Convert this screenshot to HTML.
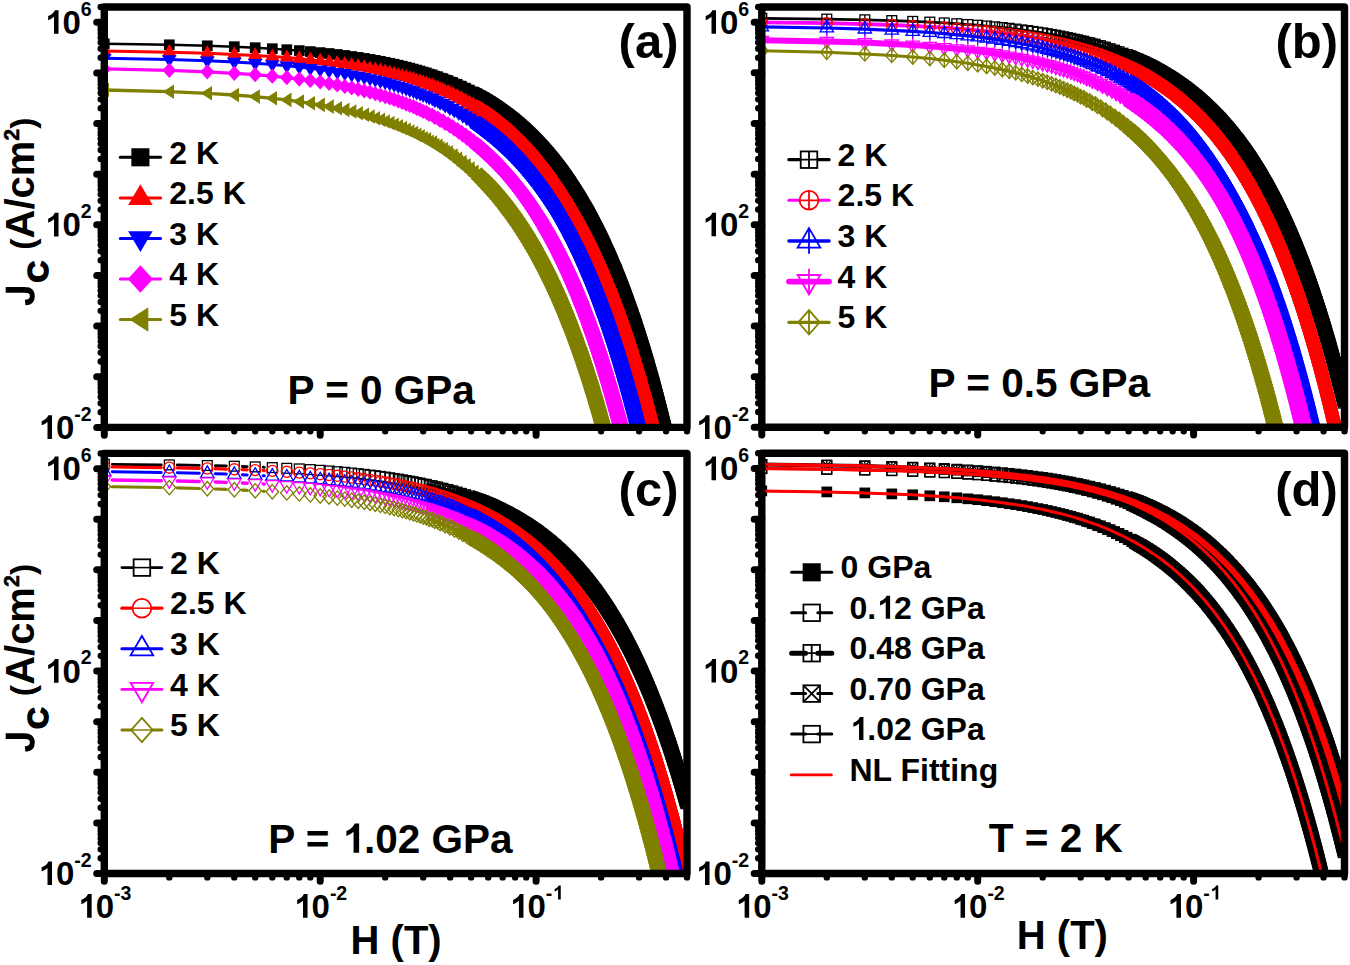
<!DOCTYPE html>
<html><head><meta charset="utf-8"><title>Jc vs H</title><style>html,body{margin:0;padding:0;background:#fff;}svg{display:block;font-family:"Liberation Sans",sans-serif;}</style></head><body>
<svg width="1350" height="965" viewBox="0 0 1350 965"><rect width="1350" height="965" fill="#fff"/><defs><clipPath id="cpa"><rect x="104.3" y="7.0" width="582.7" height="420.4"/></clipPath><clipPath id="cpb"><rect x="761.8" y="7.0" width="582.7" height="420.3"/></clipPath><clipPath id="cpc"><rect x="104.3" y="453.4" width="582.7" height="420.1"/></clipPath><clipPath id="cpd"><rect x="761.8" y="453.3" width="582.7" height="420.2"/></clipPath><marker id="ma0" markerUnits="userSpaceOnUse" markerWidth="30" markerHeight="30" refX="15.0" refY="15.0" viewBox="0 0 30 30" overflow="visible"><g transform="translate(15.0,15.0)"><rect x="-5.35" y="-5.35" width="10.70" height="10.70" fill="#000000"/></g></marker><marker id="ma1" markerUnits="userSpaceOnUse" markerWidth="30" markerHeight="30" refX="15.0" refY="15.0" viewBox="0 0 30 30" overflow="visible"><g transform="translate(15.0,15.0)"><path d="M0 -8.10L7.25 4.20L-7.25 4.20Z" fill="#ff0000"/></g></marker><marker id="ma2" markerUnits="userSpaceOnUse" markerWidth="30" markerHeight="30" refX="15.0" refY="15.0" viewBox="0 0 30 30" overflow="visible"><g transform="translate(15.0,15.0)"><path d="M0 8.10L7.25 -4.20L-7.25 -4.20Z" fill="#0000ff"/></g></marker><marker id="ma3" markerUnits="userSpaceOnUse" markerWidth="30" markerHeight="30" refX="15.0" refY="15.0" viewBox="0 0 30 30" overflow="visible"><g transform="translate(15.0,15.0)"><path d="M0 -7.60L6.95 0L0 7.60L-6.95 0Z" fill="#ff00ff"/></g></marker><marker id="ma4" markerUnits="userSpaceOnUse" markerWidth="30" markerHeight="30" refX="15.0" refY="15.0" viewBox="0 0 30 30" overflow="visible"><g transform="translate(15.0,15.0)"><path d="M-6.60 0L4.70 -7.30L4.70 7.30Z" fill="#808000"/></g></marker><marker id="mb0" markerUnits="userSpaceOnUse" markerWidth="30" markerHeight="30" refX="15.0" refY="15.0" viewBox="0 0 30 30" overflow="visible"><g transform="translate(15.0,15.0)"><rect x="-4.90" y="-4.90" width="9.80" height="9.80" fill="none" stroke="#000000" stroke-width="1.3"/><path d="M-4.90 0H4.90M0 -4.90V4.90" fill="none" stroke="#000000" stroke-width="1.3"/></g></marker><marker id="mb1" markerUnits="userSpaceOnUse" markerWidth="30" markerHeight="30" refX="15.0" refY="15.0" viewBox="0 0 30 30" overflow="visible"><g transform="translate(15.0,15.0)"><circle r="5.55" fill="none" stroke="#ff0000" stroke-width="1.3"/><path d="M-5.55 0H5.55M0 -5.55V5.55" fill="none" stroke="#ff0000" stroke-width="1.3"/></g></marker><marker id="mb2" markerUnits="userSpaceOnUse" markerWidth="30" markerHeight="30" refX="15.0" refY="15.0" viewBox="0 0 30 30" overflow="visible"><g transform="translate(15.0,15.0)"><path d="M0 -7.60L6.70 3.90L-6.70 3.90Z" fill="none" stroke="#0000ff" stroke-width="1.3"/><path d="M0 -7.60V7.60" fill="none" stroke="#0000ff" stroke-width="1.3"/></g></marker><marker id="mb3" markerUnits="userSpaceOnUse" markerWidth="30" markerHeight="30" refX="15.0" refY="15.0" viewBox="0 0 30 30" overflow="visible"><g transform="translate(15.0,15.0)"><path d="M0 7.60L6.70 -3.90L-6.70 -3.90Z" fill="none" stroke="#ff00ff" stroke-width="1.3"/><path d="M0 7.60V-7.60" fill="none" stroke="#ff00ff" stroke-width="1.3"/></g></marker><marker id="mb4" markerUnits="userSpaceOnUse" markerWidth="30" markerHeight="30" refX="15.0" refY="15.0" viewBox="0 0 30 30" overflow="visible"><g transform="translate(15.0,15.0)"><path d="M0 -7.20L6.30 0L0 7.20L-6.30 0Z" fill="none" stroke="#808000" stroke-width="1.3"/><path d="M-6.30 0H6.30M0 -7.20V7.20" fill="none" stroke="#808000" stroke-width="1.3"/></g></marker><marker id="mc0" markerUnits="userSpaceOnUse" markerWidth="30" markerHeight="30" refX="15.0" refY="15.0" viewBox="0 0 30 30" overflow="visible"><g transform="translate(15.0,15.0)"><rect x="-4.90" y="-4.90" width="9.80" height="9.80" fill="none" stroke="#000000" stroke-width="1.3"/></g></marker><marker id="mc1" markerUnits="userSpaceOnUse" markerWidth="30" markerHeight="30" refX="15.0" refY="15.0" viewBox="0 0 30 30" overflow="visible"><g transform="translate(15.0,15.0)"><circle r="5.55" fill="none" stroke="#ff0000" stroke-width="1.3"/></g></marker><marker id="mc2" markerUnits="userSpaceOnUse" markerWidth="30" markerHeight="30" refX="15.0" refY="15.0" viewBox="0 0 30 30" overflow="visible"><g transform="translate(15.0,15.0)"><path d="M0 -7.60L6.70 3.90L-6.70 3.90Z" fill="none" stroke="#0000ff" stroke-width="1.3"/></g></marker><marker id="mc3" markerUnits="userSpaceOnUse" markerWidth="30" markerHeight="30" refX="15.0" refY="15.0" viewBox="0 0 30 30" overflow="visible"><g transform="translate(15.0,15.0)"><path d="M0 7.60L6.70 -3.90L-6.70 -3.90Z" fill="none" stroke="#ff00ff" stroke-width="1.3"/></g></marker><marker id="mc4" markerUnits="userSpaceOnUse" markerWidth="30" markerHeight="30" refX="15.0" refY="15.0" viewBox="0 0 30 30" overflow="visible"><g transform="translate(15.0,15.0)"><path d="M0 -7.20L6.30 0L0 7.20L-6.30 0Z" fill="none" stroke="#808000" stroke-width="1.3"/></g></marker><marker id="md0" markerUnits="userSpaceOnUse" markerWidth="30" markerHeight="30" refX="15.0" refY="15.0" viewBox="0 0 30 30" overflow="visible"><g transform="translate(15.0,15.0)"><rect x="-5.35" y="-5.35" width="10.70" height="10.70" fill="#000000"/></g></marker><marker id="md1" markerUnits="userSpaceOnUse" markerWidth="30" markerHeight="30" refX="15.0" refY="15.0" viewBox="0 0 30 30" overflow="visible"><g transform="translate(15.0,15.0)"><rect x="-4.90" y="-4.90" width="9.80" height="9.80" fill="none" stroke="#000000" stroke-width="1.3"/></g></marker><marker id="md2" markerUnits="userSpaceOnUse" markerWidth="30" markerHeight="30" refX="15.0" refY="15.0" viewBox="0 0 30 30" overflow="visible"><g transform="translate(15.0,15.0)"><rect x="-4.90" y="-4.90" width="9.80" height="9.80" fill="none" stroke="#000000" stroke-width="1.3"/><path d="M-4.90 0H4.90M0 -4.90V4.90" fill="none" stroke="#000000" stroke-width="1.3"/></g></marker><marker id="md3" markerUnits="userSpaceOnUse" markerWidth="30" markerHeight="30" refX="15.0" refY="15.0" viewBox="0 0 30 30" overflow="visible"><g transform="translate(15.0,15.0)"><rect x="-4.90" y="-4.90" width="9.80" height="9.80" fill="none" stroke="#000000" stroke-width="1.3"/><path d="M-4.90 -4.90L4.90 4.90M4.90 -4.90L-4.90 4.90" fill="none" stroke="#000000" stroke-width="1.3"/></g></marker><marker id="md4" markerUnits="userSpaceOnUse" markerWidth="30" markerHeight="30" refX="15.0" refY="15.0" viewBox="0 0 30 30" overflow="visible"><g transform="translate(15.0,15.0)"><rect x="-4.90" y="-4.90" width="9.80" height="9.80" fill="none" stroke="#000000" stroke-width="1.3"/><path d="M-4.90 0H4.90" fill="none" stroke="#000000" stroke-width="1.3"/></g></marker></defs>
<g clip-path="url(#cpa)">
<polygon points="478.4,86.8 483.8,89.7 489.0,92.6 493.9,95.5 498.6,98.5 503.1,101.5 507.3,104.5 511.4,107.5 515.3,110.5 519.1,113.5 522.7,116.5 526.2,119.5 529.5,122.5 532.8,125.5 535.9,128.5 538.9,131.5 541.9,134.5 544.7,137.5 547.5,140.5 550.2,143.5 552.8,146.5 555.3,149.5 557.8,152.5 560.2,155.5 562.6,158.5 564.8,161.5 567.1,164.5 569.3,167.5 571.4,170.5 573.5,173.5 575.5,176.5 577.5,179.5 579.4,182.5 581.3,185.5 583.2,188.4 585.0,191.4 586.8,194.4 588.6,197.4 590.3,200.4 592.0,203.3 593.7,206.3 595.3,209.3 596.9,212.3 598.5,215.2 600.1,218.2 601.6,221.2 603.1,224.1 604.6,227.1 606.0,230.1 607.5,233.0 608.9,236.0 610.3,239.0 611.6,241.9 613.0,244.9 614.3,247.8 615.6,250.8 616.9,253.8 618.2,256.7 619.4,259.7 620.7,262.6 621.9,265.6 623.1,268.5 624.3,271.5 625.5,274.4 626.6,277.4 627.8,280.3 628.9,283.3 630.0,286.2 631.1,289.2 632.2,292.1 633.3,295.1 634.3,298.0 635.4,301.0 636.4,303.9 637.5,306.9 638.5,309.8 639.5,312.8 640.5,315.7 641.5,318.6 642.5,321.6 643.4,324.5 644.4,327.5 645.3,330.4 646.3,333.3 647.2,336.3 648.1,339.2 649.0,342.2 649.9,345.1 650.8,348.0 651.7,351.0 652.6,353.9 653.4,356.8 654.3,359.8 655.1,362.7 656.0,365.7 656.8,368.6 657.6,371.5 658.5,374.5 659.3,377.4 660.1,380.3 660.9,383.3 661.7,386.2 662.4,389.1 663.2,392.1 664.0,395.0 664.8,397.9 665.5,400.9 666.3,403.8 667.0,406.7 667.8,409.7 668.5,412.6 669.2,415.5 670.0,418.5 670.7,421.4 671.4,424.3 672.1,427.2 672.8,430.2 673.5,433.1 674.2,436.0 674.9,439.0 675.6,441.9 662.2,445.0 661.5,442.1 660.8,439.2 660.1,436.3 659.4,433.4 658.7,430.5 657.9,427.6 657.2,424.7 656.5,421.8 655.8,418.9 655.0,416.0 654.3,413.1 653.5,410.2 652.8,407.3 652.0,404.4 651.3,401.5 650.5,398.6 649.7,395.7 648.9,392.8 648.1,389.9 647.3,387.0 646.5,384.1 645.7,381.2 644.9,378.3 644.1,375.4 643.2,372.5 642.4,369.6 641.5,366.7 640.7,363.8 639.8,360.9 638.9,358.0 638.1,355.1 637.2,352.2 636.3,349.3 635.4,346.4 634.4,343.5 633.5,340.6 632.6,337.7 631.6,334.8 630.7,331.9 629.7,329.0 628.8,326.1 627.8,323.3 626.8,320.4 625.8,317.5 624.8,314.6 623.8,311.7 622.7,308.8 621.7,305.9 620.6,303.0 619.5,300.1 618.5,297.2 617.4,294.4 616.3,291.5 615.1,288.6 614.0,285.7 612.9,282.8 611.7,279.9 610.5,277.1 609.3,274.2 608.1,271.3 606.9,268.4 605.7,265.5 604.4,262.7 603.2,259.8 601.9,256.9 600.6,254.0 599.3,251.2 597.9,248.3 596.6,245.4 595.2,242.5 593.8,239.7 592.4,236.8 590.9,233.9 589.5,231.1 588.0,228.2 586.5,225.3 584.9,222.5 583.4,219.6 581.8,216.7 580.2,213.9 578.6,211.0 576.9,208.2 575.2,205.3 573.5,202.4 571.7,199.6 570.0,196.7 568.1,193.9 566.3,191.0 564.4,188.2 562.5,185.4 560.5,182.5 558.5,179.7 556.4,176.8 554.3,174.0 552.2,171.1 550.0,168.3 547.7,165.5 545.4,162.6 543.1,159.8 540.7,157.0 538.2,154.1 535.6,151.3 533.0,148.5 530.3,145.6 527.6,142.8 524.7,140.0 521.8,137.2 518.7,134.3 515.6,131.5 512.3,128.7 508.9,125.8 505.4,123.0 501.8,120.2 498.0,117.3 494.0,114.5 489.9,111.6 485.6,108.8 481.0,105.9 476.3,103.0 471.2,100.0" fill="#000000"/>
<polyline points="104.3,43.8 169.3,44.8 207.3,45.8 234.3,46.7 255.2,47.7 272.3,48.7 286.8,49.7 299.3,50.6 310.3,51.6 320.2,52.6 329.1,53.5 337.3,54.5 344.8,55.5 351.7,56.5 358.2,57.4 364.3,58.4 370.0,59.4 375.3,60.4 380.4,61.3 385.2,62.3 389.8,63.3 394.1,64.2 398.3,65.2 402.3,66.2 406.1,67.2 409.8,68.1 413.3,69.1 416.7,70.1 420.1,71.0 423.2,72.1 426.3,72.9 429.2,74.1 432.2,74.8 434.9,76.1 437.7,76.7 440.2,78.1 443.0,78.6 445.3,80.0 447.9,80.5 450.1,82.0 452.6,82.4 454.6,84.0 457.1,84.3 459.0,86.0 461.4,86.2 463.1,88.0 465.5,88.2 467.1,89.9 469.4,90.1 470.9,91.9 473.2,92.0 474.5,93.9 476.8,93.9 478.0,95.9 480.3,95.8 481.4,97.8 483.7,97.7 484.7,99.8 487.0,99.6 487.8,101.8 490.1,101.6 490.9,103.7 493.2,103.5 493.9,105.7 496.1,105.5 496.7,107.6 498.9,107.4 499.5,109.5 501.7,109.4 502.2,111.5 504.4,111.3 504.9,113.4 507.0,113.3 507.4,115.4 509.6,115.2 509.9,117.3 512.0,117.2 512.4,119.2 514.4,119.1 514.7,121.2 516.8,121.1 517.0,123.1 519.1,123.0 519.3,125.1 521.3,125.0 521.5,127.0 523.5,126.9 523.6,128.9 525.6,128.9 525.7,130.9 527.7,130.8 527.8,132.8 529.8,132.8 529.8,134.8 531.8,134.7 531.8,136.7 533.7,136.7 533.7,138.6 535.7,138.6 535.6,140.6 537.5,140.6 537.4,142.5 539.4,142.5 539.3,144.5 541.2,144.5 541.0,146.4 543.0,146.4 542.8,148.3 544.7,148.4 544.5,150.3 546.4,150.3 546.2,152.2 548.1,152.3 547.9,154.1 549.7,154.2 549.5,156.1 551.4,156.2 551.1,158.0 553.0,158.1 552.6,160.0 554.5,160.1 554.2,161.9 556.1,162.0 555.7,163.9 557.6,164.0 557.2,165.8 559.1,165.9 558.7,167.7 560.5,167.9 560.1,169.7 562.0,169.8 561.6,171.6 563.4,171.8 563.0,173.6 564.8,173.7 564.4,175.5 566.2,175.7 565.7,177.4 567.6,177.6 567.1,179.4 568.9,179.6 568.4,181.3 570.2,181.5 569.7,183.3 571.5,183.5 571.0,185.2 572.8,185.4 572.3,187.1 574.1,187.4 573.5,189.1 575.3,189.3 574.8,191.0 576.6,191.2 576.0,193.0 577.8,193.2 577.2,194.9 579.0,195.1 578.4,196.8 580.2,197.1 579.6,198.8 581.4,199.0 580.7,200.7 582.5,201.0 581.9,202.7 583.7,202.9 583.0,204.6 584.8,204.9 584.1,206.6 585.9,206.8 585.2,208.5 587.0,208.8 586.3,210.4 588.1,210.7 587.4,212.4 589.2,212.7 588.5,214.3 590.3,214.6 589.6,216.3 591.3,216.6 590.6,218.2 592.4,218.5 591.6,220.1 593.4,220.5 592.7,222.1 594.4,222.4 593.7,224.0 595.4,224.4 594.7,226.0 596.4,226.3 595.7,227.9 597.4,228.3 596.6,229.9 598.4,230.2 597.6,231.8 599.3,232.1 598.6,233.7 600.3,234.1 599.5,235.7 601.3,236.0 600.5,237.6 602.2,238.0 601.4,239.6 603.1,239.9 602.3,241.5 604.0,241.9 603.2,243.5 605.0,243.8 604.1,245.4 605.9,245.8 605.0,247.3 606.7,247.7 605.9,249.3 607.6,249.7 606.8,251.2 608.5,251.6 607.7,253.2 609.4,253.6 608.5,255.1 610.2,255.5 609.4,257.1 611.1,257.5 610.2,259.0 611.9,259.4 611.1,260.9 612.8,261.4 611.9,262.9 613.6,263.3 612.7,264.8 614.4,265.2 613.6,266.8 615.2,267.2 614.4,268.7 616.1,269.1 615.2,270.6 616.9,271.1 616.0,272.6 617.7,273.0 616.8,274.5 618.4,275.0 617.5,276.5 619.2,276.9 618.3,278.4 620.0,278.9 619.1,280.4 620.8,280.8 619.9,282.3 621.5,282.8 620.6,284.2 622.3,284.7 621.4,286.2 623.0,286.7 622.1,288.1 623.8,288.6 622.8,290.1 624.5,290.6 623.6,292.0 625.3,292.5 624.3,294.0 626.0,294.4 625.0,295.9 626.7,296.4 625.8,297.9 627.4,298.3 626.5,299.8 628.1,300.3 627.2,301.7 628.8,302.2 627.9,303.7 629.5,304.2 628.6,305.6 630.2,306.1 629.3,307.6 630.9,308.1 630.0,309.5 631.6,310.0 630.6,311.5 632.3,312.0 631.3,313.4 633.0,313.9 632.0,315.3 633.6,315.9 632.6,317.3 634.3,317.8 633.3,319.2 635.0,319.7 634.0,321.2 635.6,321.7 634.6,323.1 636.3,323.6 635.3,325.1 636.9,325.6 635.9,327.0 637.6,327.5 636.6,328.9 638.2,329.5 637.2,330.9 638.8,331.4 637.8,332.8 639.5,333.4 638.4,334.8 640.1,335.3 639.1,336.7 640.7,337.3 639.7,338.7 641.3,339.2 640.3,340.6 641.9,341.2 640.9,342.5 642.6,343.1 641.5,344.5 643.2,345.0 642.1,346.4 643.8,347.0 642.7,348.4 644.4,348.9 643.3,350.3 644.9,350.9 643.9,352.3 645.5,352.8 644.5,354.2 646.1,354.8 645.1,356.2 646.7,356.7 645.7,358.1 647.3,358.7 646.2,360.0 647.9,360.6 646.8,362.0 648.4,362.6 647.4,363.9 649.0,364.5 647.9,365.9 649.6,366.5 648.5,367.8 650.1,368.4 649.1,369.8 650.7,370.3 649.6,371.7 651.2,372.3 650.2,373.6 651.8,374.2 650.7,375.6 652.3,376.2 651.3,377.5 652.9,378.1 651.8,379.5 653.4,380.1 652.4,381.4 654.0,382.0 652.9,383.4 654.5,384.0 653.4,385.3 655.0,385.9 654.0,387.3 655.6,387.9 654.5,389.2 656.1,389.8 655.0,391.1 656.6,391.7 655.5,393.1 657.1,393.7 656.0,395.0 657.7,395.6 656.6,397.0 658.2,397.6 657.1,398.9 658.7,399.5 657.6,400.9 659.2,401.5 658.1,402.8 659.7,403.4 658.6,404.7 660.2,405.4 659.1,406.7 660.7,407.3 659.6,408.6 661.2,409.3 660.1,410.6 661.7,411.2 660.6,412.5 662.2,413.1 661.1,414.5 662.7,415.1 661.6,416.4 663.2,417.0 662.1,418.4 663.7,419.0 662.5,420.3 664.1,420.9 663.0,422.2 664.6,422.9 663.5,424.2 665.1,424.8 664.0,426.1 665.6,426.8 664.5,428.1 666.1,428.7 664.9,430.0 666.5,430.7 665.4,432.0 667.0,432.6 665.9,433.9 667.5,434.6 666.3,435.8 667.9,436.5 666.8,437.8 668.4,438.4 667.3,439.7 668.9,440.4 667.7,441.7" fill="none" stroke="#000000" stroke-width="2.4" stroke-linejoin="round"/>
<polyline points="104.3,43.8 169.3,44.8 207.3,45.8 234.3,46.7 255.2,47.7 272.3,48.7 286.8,49.7 299.3,50.6 310.3,51.6 320.2,52.6 329.1,53.5 337.3,54.5 344.8,55.5 351.7,56.5 358.2,57.4 364.3,58.4 370.0,59.4 375.3,60.4 380.4,61.3 385.2,62.3 389.8,63.3 394.1,64.2 398.3,65.2 402.3,66.2 406.1,67.2 409.8,68.1 413.3,69.1 416.7,70.1 420.1,71.0 423.2,72.1 426.3,72.9 429.2,74.1 432.2,74.8 434.9,76.1 437.7,76.7 440.2,78.1 443.0,78.6 445.3,80.0 447.9,80.5 450.1,82.0 452.6,82.4 454.6,84.0 457.1,84.3 459.0,86.0 461.4,86.2 463.1,88.0 465.5,88.2 467.1,89.9 469.4,90.1 470.9,91.9 473.2,92.0 474.5,93.9 476.8,93.9 478.0,95.9 480.3,95.8 481.4,97.8 483.7,97.7 484.7,99.8 487.0,99.6 487.8,101.8 490.1,101.6 490.9,103.7 493.2,103.5 493.9,105.7 496.1,105.5 496.7,107.6 498.9,107.4 499.5,109.5 501.7,109.4 502.2,111.5 504.4,111.3 504.9,113.4 507.0,113.3 507.4,115.4 509.6,115.2 509.9,117.3 512.0,117.2 512.4,119.2 514.4,119.1 514.7,121.2 516.8,121.1 517.0,123.1 519.1,123.0 519.3,125.1 521.3,125.0 521.5,127.0 523.5,126.9 523.6,128.9 525.6,128.9 525.7,130.9 527.7,130.8 527.8,132.8 529.8,132.8 529.8,134.8 531.8,134.7 531.8,136.7 533.7,136.7 533.7,138.6 535.7,138.6 535.6,140.6 537.5,140.6 537.4,142.5 539.4,142.5 539.3,144.5 541.2,144.5 541.0,146.4 543.0,146.4 542.8,148.3 544.7,148.4 544.5,150.3 546.4,150.3 546.2,152.2 548.1,152.3 547.9,154.1 549.7,154.2 549.5,156.1 551.4,156.2 551.1,158.0 553.0,158.1 552.6,160.0 554.5,160.1 554.2,161.9 556.1,162.0 555.7,163.9 557.6,164.0 557.2,165.8 559.1,165.9 558.7,167.7 560.5,167.9 560.1,169.7 562.0,169.8 561.6,171.6 563.4,171.8 563.0,173.6 564.8,173.7 564.4,175.5 566.2,175.7 565.7,177.4 567.6,177.6 567.1,179.4 568.9,179.6 568.4,181.3 570.2,181.5 569.7,183.3 571.5,183.5 571.0,185.2 572.8,185.4 572.3,187.1 574.1,187.4 573.5,189.1 575.3,189.3 574.8,191.0 576.6,191.2 576.0,193.0 577.8,193.2 577.2,194.9 579.0,195.1 578.4,196.8 580.2,197.1 579.6,198.8 581.4,199.0 580.7,200.7 582.5,201.0 581.9,202.7 583.7,202.9 583.0,204.6 584.8,204.9 584.1,206.6 585.9,206.8 585.2,208.5 587.0,208.8 586.3,210.4 588.1,210.7 587.4,212.4 589.2,212.7 588.5,214.3 590.3,214.6 589.6,216.3 591.3,216.6 590.6,218.2 592.4,218.5 591.6,220.1 593.4,220.5 592.7,222.1 594.4,222.4 593.7,224.0 595.4,224.4 594.7,226.0 596.4,226.3 595.7,227.9 597.4,228.3 596.6,229.9 598.4,230.2 597.6,231.8 599.3,232.1 598.6,233.7 600.3,234.1 599.5,235.7 601.3,236.0 600.5,237.6 602.2,238.0 601.4,239.6 603.1,239.9 602.3,241.5 604.0,241.9 603.2,243.5 605.0,243.8 604.1,245.4 605.9,245.8 605.0,247.3 606.7,247.7 605.9,249.3 607.6,249.7 606.8,251.2 608.5,251.6 607.7,253.2 609.4,253.6 608.5,255.1 610.2,255.5 609.4,257.1 611.1,257.5 610.2,259.0 611.9,259.4 611.1,260.9 612.8,261.4 611.9,262.9 613.6,263.3 612.7,264.8 614.4,265.2 613.6,266.8 615.2,267.2 614.4,268.7 616.1,269.1 615.2,270.6 616.9,271.1 616.0,272.6 617.7,273.0 616.8,274.5 618.4,275.0 617.5,276.5 619.2,276.9 618.3,278.4 620.0,278.9 619.1,280.4 620.8,280.8 619.9,282.3 621.5,282.8 620.6,284.2 622.3,284.7 621.4,286.2 623.0,286.7 622.1,288.1 623.8,288.6 622.8,290.1 624.5,290.6 623.6,292.0 625.3,292.5 624.3,294.0 626.0,294.4 625.0,295.9 626.7,296.4 625.8,297.9 627.4,298.3 626.5,299.8 628.1,300.3 627.2,301.7 628.8,302.2 627.9,303.7 629.5,304.2 628.6,305.6 630.2,306.1 629.3,307.6 630.9,308.1 630.0,309.5 631.6,310.0 630.6,311.5 632.3,312.0 631.3,313.4 633.0,313.9 632.0,315.3 633.6,315.9 632.6,317.3 634.3,317.8 633.3,319.2 635.0,319.7 634.0,321.2 635.6,321.7 634.6,323.1 636.3,323.6 635.3,325.1 636.9,325.6 635.9,327.0 637.6,327.5 636.6,328.9 638.2,329.5 637.2,330.9 638.8,331.4 637.8,332.8 639.5,333.4 638.4,334.8 640.1,335.3 639.1,336.7 640.7,337.3 639.7,338.7 641.3,339.2 640.3,340.6 641.9,341.2 640.9,342.5 642.6,343.1 641.5,344.5 643.2,345.0 642.1,346.4 643.8,347.0 642.7,348.4 644.4,348.9 643.3,350.3 644.9,350.9 643.9,352.3 645.5,352.8 644.5,354.2 646.1,354.8 645.1,356.2 646.7,356.7 645.7,358.1 647.3,358.7 646.2,360.0 647.9,360.6 646.8,362.0 648.4,362.6 647.4,363.9 649.0,364.5 647.9,365.9 649.6,366.5 648.5,367.8 650.1,368.4 649.1,369.8 650.7,370.3 649.6,371.7 651.2,372.3 650.2,373.6 651.8,374.2 650.7,375.6 652.3,376.2 651.3,377.5 652.9,378.1 651.8,379.5 653.4,380.1 652.4,381.4 654.0,382.0 652.9,383.4 654.5,384.0 653.4,385.3 655.0,385.9 654.0,387.3 655.6,387.9 654.5,389.2 656.1,389.8 655.0,391.1 656.6,391.7 655.5,393.1 657.1,393.7 656.0,395.0 657.7,395.6 656.6,397.0 658.2,397.6 657.1,398.9 658.7,399.5 657.6,400.9 659.2,401.5 658.1,402.8 659.7,403.4 658.6,404.7 660.2,405.4 659.1,406.7 660.7,407.3 659.6,408.6 661.2,409.3 660.1,410.6 661.7,411.2 660.6,412.5 662.2,413.1 661.1,414.5 662.7,415.1 661.6,416.4 663.2,417.0 662.1,418.4 663.7,419.0 662.5,420.3 664.1,420.9 663.0,422.2 664.6,422.9 663.5,424.2 665.1,424.8 664.0,426.1 665.6,426.8 664.5,428.1 666.1,428.7 664.9,430.0 666.5,430.7 665.4,432.0 667.0,432.6 665.9,433.9 667.5,434.6 666.3,435.8 667.9,436.5 666.8,437.8 668.4,438.4 667.3,439.7 668.9,440.4 667.7,441.7" fill="none" stroke="none" marker-start="url(#ma0)" marker-mid="url(#ma0)" marker-end="url(#ma0)"/>
<polygon points="478.6,100.0 484.0,103.4 489.2,106.7 494.0,110.1 498.6,113.6 502.9,117.0 507.1,120.4 511.1,123.8 514.9,127.3 518.5,130.7 522.1,134.1 525.4,137.5 528.7,140.9 531.8,144.3 534.9,147.7 537.8,151.1 540.7,154.4 543.4,157.8 546.1,161.2 548.7,164.6 551.2,167.9 553.7,171.3 556.1,174.6 558.4,178.0 560.7,181.3 562.9,184.7 565.1,188.0 567.2,191.4 569.2,194.7 571.2,198.0 573.2,201.3 575.1,204.7 577.1,208.0 579.0,211.2 581.0,214.5 582.8,217.7 584.7,221.0 586.5,224.3 588.3,227.5 590.0,230.8 591.7,234.0 593.4,237.3 595.1,240.6 596.7,243.8 598.3,247.1 599.8,250.4 601.4,253.6 602.9,256.9 604.4,260.2 605.9,263.4 607.3,266.7 608.7,270.0 610.2,273.2 611.5,276.5 612.9,279.7 614.2,283.0 615.6,286.3 616.9,289.5 618.2,292.8 619.4,296.1 620.7,299.3 621.9,302.6 623.2,305.9 624.4,309.1 625.6,312.4 626.7,315.7 627.9,318.9 629.0,322.2 630.2,325.5 631.3,328.7 632.4,332.0 633.5,335.3 634.6,338.5 635.7,341.8 636.7,345.1 637.8,348.3 638.8,351.6 639.8,354.9 640.8,358.1 641.8,361.4 642.8,364.6 643.8,367.9 644.8,371.2 645.7,374.4 646.7,377.7 647.6,381.0 648.5,384.2 649.5,387.5 650.4,390.8 651.3,394.0 652.2,397.3 653.1,400.5 653.9,403.8 654.8,407.1 655.7,410.3 656.5,413.6 657.4,416.9 658.2,420.1 659.0,423.4 659.9,426.6 660.7,429.9 661.5,433.2 662.3,436.4 663.1,439.7 663.9,442.9 648.7,446.6 647.9,443.3 647.1,440.1 646.4,436.9 645.6,433.6 644.8,430.4 643.9,427.2 643.1,423.9 642.3,420.7 641.5,417.5 640.6,414.2 639.8,411.0 638.9,407.8 638.1,404.5 637.2,401.3 636.3,398.1 635.4,394.8 634.6,391.6 633.6,388.4 632.7,385.2 631.8,381.9 630.9,378.7 630.0,375.5 629.0,372.2 628.0,369.0 627.1,365.8 626.1,362.6 625.1,359.3 624.1,356.1 623.1,352.9 622.1,349.7 621.1,346.5 620.0,343.2 619.0,340.0 617.9,336.8 616.8,333.6 615.7,330.3 614.6,327.1 613.5,323.9 612.4,320.7 611.3,317.5 610.1,314.3 608.9,311.0 607.8,307.8 606.6,304.6 605.4,301.4 604.1,298.2 602.9,295.0 601.6,291.8 600.3,288.6 599.1,285.4 597.7,282.1 596.4,278.9 595.1,275.7 593.7,272.5 592.3,269.3 590.9,266.1 589.5,262.9 588.0,259.7 586.5,256.5 585.0,253.3 583.5,250.1 582.0,246.9 580.4,243.7 578.8,240.5 577.2,237.3 575.5,234.2 573.9,231.0 572.1,227.8 570.4,224.6 568.6,221.4 566.8,218.2 565.0,215.0 563.1,211.9 561.2,208.7 559.2,205.5 557.2,202.3 555.2,199.1 553.1,196.0 551.0,192.8 548.8,189.6 546.6,186.5 544.3,183.3 542.0,180.1 539.6,176.9 537.1,173.8 534.6,170.6 532.0,167.4 529.3,164.3 526.6,161.1 523.7,158.0 520.8,154.8 517.8,151.6 514.7,148.4 511.4,145.3 508.1,142.1 504.6,138.9 501.0,135.7 497.3,132.6 493.3,129.4 489.2,126.2 484.9,123.0 480.4,119.7 475.7,116.4 470.7,113.1" fill="#ff0000"/>
<polyline points="104.3,51.1 169.3,52.2 207.3,53.3 234.3,54.4 255.2,55.4 272.3,56.5 286.8,57.6 299.3,58.7 310.3,59.8 320.2,60.9 329.1,62.0 337.3,63.0 344.8,64.1 351.7,65.2 358.2,66.3 364.3,67.4 370.0,68.5 375.3,69.5 380.4,70.6 385.2,71.7 389.8,72.8 394.1,73.9 398.3,75.0 402.3,76.0 406.1,77.1 409.8,78.2 413.3,79.2 416.7,80.5 420.1,81.4 423.2,82.7 426.3,83.5 429.2,84.9 432.2,85.6 434.9,87.1 437.8,87.7 440.2,89.3 443.0,89.8 445.2,91.6 448.0,91.9 450.0,93.8 452.7,94.1 454.5,96.0 457.2,96.2 458.9,98.2 461.5,98.3 463.0,100.4 465.6,100.4 467.0,102.6 469.6,102.5 470.8,104.8 473.3,104.7 474.4,107.0 477.0,106.8 477.9,109.3 480.5,108.9 481.3,111.5 483.9,111.0 484.5,113.7 487.2,113.2 487.6,115.9 490.3,115.3 490.7,118.0 493.4,117.5 493.7,120.2 496.3,119.7 496.5,122.4 499.2,121.9 499.3,124.5 501.9,124.0 502.0,126.7 504.6,126.2 504.7,128.8 507.2,128.4 507.2,131.0 509.8,130.6 509.7,133.1 512.3,132.7 512.1,135.3 514.7,134.9 514.5,137.5 517.0,137.1 516.8,139.6 519.3,139.3 519.1,141.8 521.6,141.4 521.3,143.9 523.8,143.6 523.4,146.1 525.9,145.8 525.5,148.3 528.0,148.0 527.6,150.4 530.0,150.1 529.6,152.6 532.0,152.3 531.5,154.7 534.0,154.5 533.5,156.9 535.9,156.7 535.3,159.1 537.8,158.8 537.2,161.2 539.6,161.0 539.0,163.4 541.4,163.2 540.8,165.5 543.2,165.4 542.5,167.7 545.0,167.5 544.3,169.9 546.7,169.7 545.9,172.0 548.4,171.9 547.6,174.2 550.0,174.1 549.2,176.3 551.6,176.2 550.8,178.5 553.2,178.4 552.4,180.7 554.8,180.6 553.9,182.8 556.3,182.8 555.4,185.0 557.8,184.9 556.9,187.2 559.3,187.1 558.4,189.3 560.8,189.3 559.9,191.5 562.3,191.5 561.3,193.6 563.7,193.6 562.7,195.8 565.1,195.8 564.1,198.0 566.5,198.0 565.5,200.1 567.8,200.1 566.8,202.3 569.2,202.3 568.1,204.4 570.5,204.5 569.4,206.6 571.8,206.7 570.7,208.8 573.1,208.8 572.0,210.9 574.4,211.0 573.3,213.1 575.6,213.2 574.5,215.3 576.8,215.4 575.7,217.4 578.1,217.5 576.9,219.6 579.3,219.7 578.1,221.7 580.5,221.9 579.3,223.9 581.6,224.0 580.5,226.1 582.8,226.2 581.6,228.2 583.9,228.4 582.7,230.4 585.1,230.6 583.9,232.6 586.2,232.7 585.0,234.7 587.3,234.9 586.1,236.9 588.4,237.1 587.1,239.1 589.5,239.2 588.2,241.2 590.5,241.4 589.3,243.4 591.6,243.6 590.3,245.5 592.6,245.8 591.3,247.7 593.7,247.9 592.4,249.9 594.7,250.1 593.4,252.0 595.7,252.3 594.4,254.2 596.7,254.4 595.4,256.4 597.7,256.6 596.4,258.5 598.7,258.8 597.3,260.7 599.6,261.0 598.3,262.9 600.6,263.1 599.2,265.0 601.5,265.3 600.2,267.2 602.5,267.5 601.1,269.3 603.4,269.6 602.0,271.5 604.3,271.8 602.9,273.7 605.2,274.0 603.8,275.8 606.1,276.2 604.7,278.0 607.0,278.3 605.6,280.2 607.9,280.5 606.5,282.3 608.8,282.7 607.4,284.5 609.7,284.8 608.2,286.7 610.5,287.0 609.1,288.8 611.4,289.2 609.9,291.0 612.2,291.4 610.8,293.2 613.1,293.5 611.6,295.3 613.9,295.7 612.4,297.5 614.7,297.9 613.3,299.7 615.5,300.0 614.1,301.8 616.3,302.2 614.9,304.0 617.2,304.4 615.7,306.1 617.9,306.5 616.5,308.3 618.7,308.7 617.2,310.5 619.5,310.9 618.0,312.6 620.3,313.1 618.8,314.8 621.1,315.2 619.6,317.0 621.8,317.4 620.3,319.1 622.6,319.6 621.1,321.3 623.3,321.7 621.8,323.5 624.1,323.9 622.6,325.6 624.8,326.1 623.3,327.8 625.6,328.2 624.0,330.0 626.3,330.4 624.7,332.1 627.0,332.6 625.5,334.3 627.7,334.8 626.2,336.5 628.4,336.9 626.9,338.6 629.1,339.1 627.6,340.8 629.8,341.3 628.3,343.0 630.5,343.4 629.0,345.1 631.2,345.6 629.7,347.3 631.9,347.8 630.3,349.5 632.6,349.9 631.0,351.6 633.3,352.1 631.7,353.8 633.9,354.3 632.4,356.0 634.6,356.4 633.0,358.1 635.3,358.6 633.7,360.3 635.9,360.8 634.3,362.4 636.6,363.0 635.0,364.6 637.2,365.1 635.6,366.8 637.9,367.3 636.3,368.9 638.5,369.5 636.9,371.1 639.1,371.6 637.5,373.3 639.8,373.8 638.1,375.4 640.4,376.0 638.8,377.6 641.0,378.1 639.4,379.8 641.6,380.3 640.0,381.9 642.2,382.5 640.6,384.1 642.8,384.6 641.2,386.3 643.5,386.8 641.8,388.4 644.1,389.0 642.4,390.6 644.6,391.2 643.0,392.8 645.2,393.3 643.6,394.9 645.8,395.5 644.2,397.1 646.4,397.7 644.8,399.3 647.0,399.8 645.4,401.4 647.6,402.0 645.9,403.6 648.2,404.2 646.5,405.8 648.7,406.3 647.1,407.9 649.3,408.5 647.6,410.1 649.9,410.7 648.2,412.3 650.4,412.8 648.8,414.4 651.0,415.0 649.3,416.6 651.5,417.2 649.9,418.8 652.1,419.4 650.4,420.9 652.6,421.5 651.0,423.1 653.2,423.7 651.5,425.3 653.7,425.9 652.1,427.4 654.3,428.0 652.6,429.6 654.8,430.2 653.1,431.8 655.3,432.4 653.7,433.9 655.9,434.5 654.2,436.1 656.4,436.7 654.7,438.3 656.9,438.9 655.2,440.4 657.4,441.0 655.8,442.6" fill="none" stroke="#ff0000" stroke-width="3.0" stroke-linejoin="round"/>
<polyline points="104.3,51.1 169.3,52.2 207.3,53.3 234.3,54.4 255.2,55.4 272.3,56.5 286.8,57.6 299.3,58.7 310.3,59.8 320.2,60.9 329.1,62.0 337.3,63.0 344.8,64.1 351.7,65.2 358.2,66.3 364.3,67.4 370.0,68.5 375.3,69.5 380.4,70.6 385.2,71.7 389.8,72.8 394.1,73.9 398.3,75.0 402.3,76.0 406.1,77.1 409.8,78.2 413.3,79.2 416.7,80.5 420.1,81.4 423.2,82.7 426.3,83.5 429.2,84.9 432.2,85.6 434.9,87.1 437.8,87.7 440.2,89.3 443.0,89.8 445.2,91.6 448.0,91.9 450.0,93.8 452.7,94.1 454.5,96.0 457.2,96.2 458.9,98.2 461.5,98.3 463.0,100.4 465.6,100.4 467.0,102.6 469.6,102.5 470.8,104.8 473.3,104.7 474.4,107.0 477.0,106.8 477.9,109.3 480.5,108.9 481.3,111.5 483.9,111.0 484.5,113.7 487.2,113.2 487.6,115.9 490.3,115.3 490.7,118.0 493.4,117.5 493.7,120.2 496.3,119.7 496.5,122.4 499.2,121.9 499.3,124.5 501.9,124.0 502.0,126.7 504.6,126.2 504.7,128.8 507.2,128.4 507.2,131.0 509.8,130.6 509.7,133.1 512.3,132.7 512.1,135.3 514.7,134.9 514.5,137.5 517.0,137.1 516.8,139.6 519.3,139.3 519.1,141.8 521.6,141.4 521.3,143.9 523.8,143.6 523.4,146.1 525.9,145.8 525.5,148.3 528.0,148.0 527.6,150.4 530.0,150.1 529.6,152.6 532.0,152.3 531.5,154.7 534.0,154.5 533.5,156.9 535.9,156.7 535.3,159.1 537.8,158.8 537.2,161.2 539.6,161.0 539.0,163.4 541.4,163.2 540.8,165.5 543.2,165.4 542.5,167.7 545.0,167.5 544.3,169.9 546.7,169.7 545.9,172.0 548.4,171.9 547.6,174.2 550.0,174.1 549.2,176.3 551.6,176.2 550.8,178.5 553.2,178.4 552.4,180.7 554.8,180.6 553.9,182.8 556.3,182.8 555.4,185.0 557.8,184.9 556.9,187.2 559.3,187.1 558.4,189.3 560.8,189.3 559.9,191.5 562.3,191.5 561.3,193.6 563.7,193.6 562.7,195.8 565.1,195.8 564.1,198.0 566.5,198.0 565.5,200.1 567.8,200.1 566.8,202.3 569.2,202.3 568.1,204.4 570.5,204.5 569.4,206.6 571.8,206.7 570.7,208.8 573.1,208.8 572.0,210.9 574.4,211.0 573.3,213.1 575.6,213.2 574.5,215.3 576.8,215.4 575.7,217.4 578.1,217.5 576.9,219.6 579.3,219.7 578.1,221.7 580.5,221.9 579.3,223.9 581.6,224.0 580.5,226.1 582.8,226.2 581.6,228.2 583.9,228.4 582.7,230.4 585.1,230.6 583.9,232.6 586.2,232.7 585.0,234.7 587.3,234.9 586.1,236.9 588.4,237.1 587.1,239.1 589.5,239.2 588.2,241.2 590.5,241.4 589.3,243.4 591.6,243.6 590.3,245.5 592.6,245.8 591.3,247.7 593.7,247.9 592.4,249.9 594.7,250.1 593.4,252.0 595.7,252.3 594.4,254.2 596.7,254.4 595.4,256.4 597.7,256.6 596.4,258.5 598.7,258.8 597.3,260.7 599.6,261.0 598.3,262.9 600.6,263.1 599.2,265.0 601.5,265.3 600.2,267.2 602.5,267.5 601.1,269.3 603.4,269.6 602.0,271.5 604.3,271.8 602.9,273.7 605.2,274.0 603.8,275.8 606.1,276.2 604.7,278.0 607.0,278.3 605.6,280.2 607.9,280.5 606.5,282.3 608.8,282.7 607.4,284.5 609.7,284.8 608.2,286.7 610.5,287.0 609.1,288.8 611.4,289.2 609.9,291.0 612.2,291.4 610.8,293.2 613.1,293.5 611.6,295.3 613.9,295.7 612.4,297.5 614.7,297.9 613.3,299.7 615.5,300.0 614.1,301.8 616.3,302.2 614.9,304.0 617.2,304.4 615.7,306.1 617.9,306.5 616.5,308.3 618.7,308.7 617.2,310.5 619.5,310.9 618.0,312.6 620.3,313.1 618.8,314.8 621.1,315.2 619.6,317.0 621.8,317.4 620.3,319.1 622.6,319.6 621.1,321.3 623.3,321.7 621.8,323.5 624.1,323.9 622.6,325.6 624.8,326.1 623.3,327.8 625.6,328.2 624.0,330.0 626.3,330.4 624.7,332.1 627.0,332.6 625.5,334.3 627.7,334.8 626.2,336.5 628.4,336.9 626.9,338.6 629.1,339.1 627.6,340.8 629.8,341.3 628.3,343.0 630.5,343.4 629.0,345.1 631.2,345.6 629.7,347.3 631.9,347.8 630.3,349.5 632.6,349.9 631.0,351.6 633.3,352.1 631.7,353.8 633.9,354.3 632.4,356.0 634.6,356.4 633.0,358.1 635.3,358.6 633.7,360.3 635.9,360.8 634.3,362.4 636.6,363.0 635.0,364.6 637.2,365.1 635.6,366.8 637.9,367.3 636.3,368.9 638.5,369.5 636.9,371.1 639.1,371.6 637.5,373.3 639.8,373.8 638.1,375.4 640.4,376.0 638.8,377.6 641.0,378.1 639.4,379.8 641.6,380.3 640.0,381.9 642.2,382.5 640.6,384.1 642.8,384.6 641.2,386.3 643.5,386.8 641.8,388.4 644.1,389.0 642.4,390.6 644.6,391.2 643.0,392.8 645.2,393.3 643.6,394.9 645.8,395.5 644.2,397.1 646.4,397.7 644.8,399.3 647.0,399.8 645.4,401.4 647.6,402.0 645.9,403.6 648.2,404.2 646.5,405.8 648.7,406.3 647.1,407.9 649.3,408.5 647.6,410.1 649.9,410.7 648.2,412.3 650.4,412.8 648.8,414.4 651.0,415.0 649.3,416.6 651.5,417.2 649.9,418.8 652.1,419.4 650.4,420.9 652.6,421.5 651.0,423.1 653.2,423.7 651.5,425.3 653.7,425.9 652.1,427.4 654.3,428.0 652.6,429.6 654.8,430.2 653.1,431.8 655.3,432.4 653.7,433.9 655.9,434.5 654.2,436.1 656.4,436.7 654.7,438.3 656.9,438.9 655.2,440.4 657.4,441.0 655.8,442.6" fill="none" stroke="none" marker-start="url(#ma1)" marker-mid="url(#ma1)" marker-end="url(#ma1)"/>
<polygon points="479.6,115.7 485.1,119.4 490.4,123.2 495.4,127.0 500.1,130.9 504.6,134.7 508.9,138.6 513.0,142.5 516.9,146.4 520.7,150.3 524.3,154.1 527.8,158.0 531.2,161.9 534.5,165.8 537.6,169.7 540.7,173.6 543.6,177.5 546.5,181.3 549.3,185.2 552.0,189.1 554.6,193.0 557.1,196.8 559.6,200.7 562.0,204.6 564.4,208.5 566.6,212.3 568.9,216.2 571.1,220.1 573.2,223.9 575.3,227.8 577.3,231.6 579.3,235.5 581.3,239.4 583.2,243.2 585.1,247.1 586.9,250.9 588.7,254.7 590.5,258.6 592.2,262.4 593.9,266.3 595.6,270.1 597.2,274.0 598.8,277.8 600.4,281.6 601.9,285.5 603.5,289.3 605.0,293.1 606.5,297.0 607.9,300.8 609.3,304.6 610.8,308.5 612.1,312.3 613.5,316.1 614.9,319.9 616.2,323.8 617.5,327.6 618.8,331.4 620.1,335.2 621.3,339.0 622.6,342.9 623.8,346.7 625.0,350.5 626.2,354.3 627.4,358.1 628.5,362.0 629.7,365.8 630.8,369.6 632.0,373.4 633.1,377.2 634.2,381.0 635.2,384.8 636.3,388.6 637.4,392.5 638.4,396.3 639.4,400.1 640.5,403.9 641.5,407.7 642.5,411.5 643.5,415.3 644.4,419.1 645.4,422.9 646.4,426.7 647.3,430.5 648.3,434.3 649.2,438.1 650.1,441.9 634.4,445.8 633.5,442.0 632.5,438.2 631.6,434.4 630.7,430.7 629.8,426.9 628.8,423.1 627.8,419.4 626.9,415.6 625.9,411.8 624.9,408.1 623.9,404.3 622.9,400.5 621.9,396.7 620.8,393.0 619.8,389.2 618.7,385.4 617.7,381.7 616.6,377.9 615.5,374.1 614.4,370.4 613.3,366.6 612.1,362.8 611.0,359.1 609.8,355.3 608.7,351.5 607.5,347.8 606.3,344.0 605.0,340.2 603.8,336.5 602.5,332.7 601.3,328.9 600.0,325.2 598.7,321.4 597.4,317.6 596.0,313.9 594.7,310.1 593.3,306.4 591.9,302.6 590.4,298.8 589.0,295.1 587.5,291.3 586.0,287.5 584.5,283.8 583.0,280.0 581.4,276.2 579.8,272.5 578.2,268.7 576.5,264.9 574.9,261.2 573.1,257.4 571.4,253.6 569.6,249.9 567.8,246.1 566.0,242.3 564.1,238.6 562.2,234.8 560.2,231.0 558.2,227.3 556.1,223.5 554.0,219.7 551.8,216.0 549.5,212.3 547.1,208.6 544.6,204.9 542.1,201.2 539.5,197.6 536.9,193.9 534.2,190.2 531.4,186.6 528.5,182.9 525.5,179.2 522.5,175.6 519.3,172.0 516.1,168.3 512.7,164.7 509.2,161.1 505.6,157.5 501.8,153.9 497.9,150.3 493.8,146.7 489.6,143.1 485.1,139.5 480.5,135.9 475.7,132.2 470.5,128.6" fill="#0000ff"/>
<polyline points="104.3,58.2 169.3,59.5 207.3,60.7 234.3,62.0 255.2,63.2 272.3,64.5 286.8,65.8 299.3,67.0 310.3,68.3 320.2,69.6 329.1,70.8 337.3,72.1 344.8,73.3 351.7,74.6 358.2,75.9 364.3,77.1 370.0,78.4 375.3,79.6 380.4,80.9 385.2,82.2 389.8,83.4 394.1,84.7 398.3,85.9 402.3,87.2 406.1,88.5 409.8,89.8 413.4,90.9 416.7,92.4 420.1,93.4 423.1,94.9 426.4,95.8 429.2,97.5 432.3,98.3 434.8,100.1 437.8,100.7 440.1,102.7 443.1,103.2 445.2,105.3 448.1,105.7 449.9,107.9 452.8,108.1 454.4,110.5 457.3,110.6 458.8,113.0 461.6,113.1 462.9,115.6 465.7,115.5 466.8,118.2 469.7,118.0 470.6,120.8 473.5,120.5 474.2,123.3 477.2,122.9 477.7,125.9 480.7,125.4 481.0,128.5 484.1,127.9 484.3,131.0 487.4,130.4 487.4,133.6 490.6,132.9 490.4,136.1 493.6,135.4 493.4,138.6 496.6,137.9 496.3,141.1 499.4,140.5 499.1,143.7 502.2,143.0 501.8,146.2 504.9,145.5 504.4,148.7 507.5,148.1 507.0,151.2 510.0,150.6 509.4,153.7 512.5,153.1 511.9,156.2 514.9,155.7 514.2,158.7 517.3,158.2 516.5,161.2 519.6,160.7 518.8,163.7 521.8,163.3 521.0,166.2 524.0,165.8 523.1,168.8 526.2,168.3 525.2,171.3 528.3,170.9 527.3,173.8 530.3,173.4 529.3,176.3 532.3,175.9 531.2,178.8 534.3,178.5 533.2,181.3 536.2,181.0 535.1,183.8 538.1,183.5 536.9,186.3 539.9,186.1 538.7,188.8 541.7,188.6 540.5,191.4 543.5,191.1 542.2,193.9 545.3,193.7 544.0,196.4 547.0,196.2 545.6,198.9 548.6,198.7 547.3,201.4 550.3,201.3 548.9,203.9 551.9,203.8 550.5,206.4 553.5,206.3 552.1,209.0 555.1,208.8 553.6,211.5 556.6,211.4 555.2,214.0 558.1,213.9 556.7,216.5 559.6,216.4 558.1,219.0 561.1,219.0 559.6,221.5 562.5,221.5 561.0,224.0 564.0,224.0 562.4,226.6 565.4,226.6 563.8,229.1 566.8,229.1 565.2,231.6 568.1,231.6 566.5,234.1 569.5,234.1 567.8,236.6 570.8,236.7 569.1,239.1 572.1,239.2 570.4,241.6 573.4,241.7 571.7,244.2 574.7,244.3 573.0,246.7 575.9,246.8 574.2,249.2 577.1,249.3 575.4,251.7 578.4,251.8 576.6,254.2 579.6,254.4 577.8,256.7 580.8,256.9 579.0,259.3 581.9,259.4 580.2,261.8 583.1,262.0 581.3,264.3 584.2,264.5 582.4,266.8 585.4,267.0 583.6,269.3 586.5,269.5 584.7,271.8 587.6,272.1 585.8,274.4 588.7,274.6 586.8,276.9 589.8,277.1 587.9,279.4 590.8,279.6 589.0,281.9 591.9,282.2 590.0,284.4 592.9,284.7 591.0,286.9 594.0,287.2 592.1,289.5 595.0,289.8 593.1,292.0 596.0,292.3 594.1,294.5 597.0,294.8 595.1,297.0 598.0,297.3 596.1,299.5 599.0,299.9 597.0,302.0 599.9,302.4 598.0,304.6 600.9,304.9 598.9,307.1 601.8,307.4 599.9,309.6 602.8,310.0 600.8,312.1 603.7,312.5 601.7,314.6 604.6,315.0 602.6,317.2 605.5,317.5 603.5,319.7 606.4,320.1 604.4,322.2 607.3,322.6 605.3,324.7 608.2,325.1 606.2,327.2 609.1,327.6 607.1,329.8 610.0,330.2 607.9,332.3 610.8,332.7 608.8,334.8 611.7,335.2 609.6,337.3 612.5,337.7 610.5,339.8 613.4,340.3 611.3,342.3 614.2,342.8 612.1,344.9 615.0,345.3 613.0,347.4 615.8,347.8 613.8,349.9 616.7,350.4 614.6,352.4 617.5,352.9 615.4,354.9 618.2,355.4 616.2,357.5 619.0,357.9 616.9,360.0 619.8,360.5 617.7,362.5 620.6,363.0 618.5,365.0 621.4,365.5 619.3,367.5 622.1,368.0 620.0,370.1 622.9,370.6 620.8,372.6 623.6,373.1 621.5,375.1 624.4,375.6 622.3,377.6 625.1,378.1 623.0,380.1 625.9,380.7 623.7,382.7 626.6,383.2 624.4,385.2 627.3,385.7 625.2,387.7 628.0,388.2 625.9,390.2 628.7,390.8 626.6,392.7 629.4,393.3 627.3,395.2 630.1,395.8 628.0,397.8 630.8,398.3 628.7,400.3 631.5,400.9 629.4,402.8 632.2,403.4 630.0,405.3 632.9,405.9 630.7,407.8 633.6,408.4 631.4,410.4 634.2,411.0 632.1,412.9 634.9,413.5 632.7,415.4 635.6,416.0 633.4,417.9 636.2,418.5 634.0,420.4 636.9,421.1 634.7,423.0 637.5,423.6 635.3,425.5 638.2,426.1 636.0,428.0 638.8,428.6 636.6,430.5 639.4,431.2 637.2,433.0 640.1,433.7 637.8,435.6 640.7,436.2 638.5,438.1 641.3,438.7 639.1,440.6 641.9,441.3 639.7,443.1" fill="none" stroke="#0000ff" stroke-width="3.0" stroke-linejoin="round"/>
<polyline points="104.3,58.2 169.3,59.5 207.3,60.7 234.3,62.0 255.2,63.2 272.3,64.5 286.8,65.8 299.3,67.0 310.3,68.3 320.2,69.6 329.1,70.8 337.3,72.1 344.8,73.3 351.7,74.6 358.2,75.9 364.3,77.1 370.0,78.4 375.3,79.6 380.4,80.9 385.2,82.2 389.8,83.4 394.1,84.7 398.3,85.9 402.3,87.2 406.1,88.5 409.8,89.8 413.4,90.9 416.7,92.4 420.1,93.4 423.1,94.9 426.4,95.8 429.2,97.5 432.3,98.3 434.8,100.1 437.8,100.7 440.1,102.7 443.1,103.2 445.2,105.3 448.1,105.7 449.9,107.9 452.8,108.1 454.4,110.5 457.3,110.6 458.8,113.0 461.6,113.1 462.9,115.6 465.7,115.5 466.8,118.2 469.7,118.0 470.6,120.8 473.5,120.5 474.2,123.3 477.2,122.9 477.7,125.9 480.7,125.4 481.0,128.5 484.1,127.9 484.3,131.0 487.4,130.4 487.4,133.6 490.6,132.9 490.4,136.1 493.6,135.4 493.4,138.6 496.6,137.9 496.3,141.1 499.4,140.5 499.1,143.7 502.2,143.0 501.8,146.2 504.9,145.5 504.4,148.7 507.5,148.1 507.0,151.2 510.0,150.6 509.4,153.7 512.5,153.1 511.9,156.2 514.9,155.7 514.2,158.7 517.3,158.2 516.5,161.2 519.6,160.7 518.8,163.7 521.8,163.3 521.0,166.2 524.0,165.8 523.1,168.8 526.2,168.3 525.2,171.3 528.3,170.9 527.3,173.8 530.3,173.4 529.3,176.3 532.3,175.9 531.2,178.8 534.3,178.5 533.2,181.3 536.2,181.0 535.1,183.8 538.1,183.5 536.9,186.3 539.9,186.1 538.7,188.8 541.7,188.6 540.5,191.4 543.5,191.1 542.2,193.9 545.3,193.7 544.0,196.4 547.0,196.2 545.6,198.9 548.6,198.7 547.3,201.4 550.3,201.3 548.9,203.9 551.9,203.8 550.5,206.4 553.5,206.3 552.1,209.0 555.1,208.8 553.6,211.5 556.6,211.4 555.2,214.0 558.1,213.9 556.7,216.5 559.6,216.4 558.1,219.0 561.1,219.0 559.6,221.5 562.5,221.5 561.0,224.0 564.0,224.0 562.4,226.6 565.4,226.6 563.8,229.1 566.8,229.1 565.2,231.6 568.1,231.6 566.5,234.1 569.5,234.1 567.8,236.6 570.8,236.7 569.1,239.1 572.1,239.2 570.4,241.6 573.4,241.7 571.7,244.2 574.7,244.3 573.0,246.7 575.9,246.8 574.2,249.2 577.1,249.3 575.4,251.7 578.4,251.8 576.6,254.2 579.6,254.4 577.8,256.7 580.8,256.9 579.0,259.3 581.9,259.4 580.2,261.8 583.1,262.0 581.3,264.3 584.2,264.5 582.4,266.8 585.4,267.0 583.6,269.3 586.5,269.5 584.7,271.8 587.6,272.1 585.8,274.4 588.7,274.6 586.8,276.9 589.8,277.1 587.9,279.4 590.8,279.6 589.0,281.9 591.9,282.2 590.0,284.4 592.9,284.7 591.0,286.9 594.0,287.2 592.1,289.5 595.0,289.8 593.1,292.0 596.0,292.3 594.1,294.5 597.0,294.8 595.1,297.0 598.0,297.3 596.1,299.5 599.0,299.9 597.0,302.0 599.9,302.4 598.0,304.6 600.9,304.9 598.9,307.1 601.8,307.4 599.9,309.6 602.8,310.0 600.8,312.1 603.7,312.5 601.7,314.6 604.6,315.0 602.6,317.2 605.5,317.5 603.5,319.7 606.4,320.1 604.4,322.2 607.3,322.6 605.3,324.7 608.2,325.1 606.2,327.2 609.1,327.6 607.1,329.8 610.0,330.2 607.9,332.3 610.8,332.7 608.8,334.8 611.7,335.2 609.6,337.3 612.5,337.7 610.5,339.8 613.4,340.3 611.3,342.3 614.2,342.8 612.1,344.9 615.0,345.3 613.0,347.4 615.8,347.8 613.8,349.9 616.7,350.4 614.6,352.4 617.5,352.9 615.4,354.9 618.2,355.4 616.2,357.5 619.0,357.9 616.9,360.0 619.8,360.5 617.7,362.5 620.6,363.0 618.5,365.0 621.4,365.5 619.3,367.5 622.1,368.0 620.0,370.1 622.9,370.6 620.8,372.6 623.6,373.1 621.5,375.1 624.4,375.6 622.3,377.6 625.1,378.1 623.0,380.1 625.9,380.7 623.7,382.7 626.6,383.2 624.4,385.2 627.3,385.7 625.2,387.7 628.0,388.2 625.9,390.2 628.7,390.8 626.6,392.7 629.4,393.3 627.3,395.2 630.1,395.8 628.0,397.8 630.8,398.3 628.7,400.3 631.5,400.9 629.4,402.8 632.2,403.4 630.0,405.3 632.9,405.9 630.7,407.8 633.6,408.4 631.4,410.4 634.2,411.0 632.1,412.9 634.9,413.5 632.7,415.4 635.6,416.0 633.4,417.9 636.2,418.5 634.0,420.4 636.9,421.1 634.7,423.0 637.5,423.6 635.3,425.5 638.2,426.1 636.0,428.0 638.8,428.6 636.6,430.5 639.4,431.2 637.2,433.0 640.1,433.7 637.8,435.6 640.7,436.2 638.5,438.1 641.3,438.7 639.1,440.6 641.9,441.3 639.7,443.1" fill="none" stroke="none" marker-start="url(#ma2)" marker-mid="url(#ma2)" marker-end="url(#ma2)"/>
<polygon points="479.0,138.0 484.4,142.5 489.5,147.0 494.3,151.5 498.9,156.1 503.2,160.6 507.3,165.2 511.4,169.6 515.3,174.0 519.1,178.4 522.7,182.9 526.2,187.3 529.6,191.7 532.8,196.1 536.0,200.6 539.0,205.0 542.0,209.4 544.8,213.8 547.6,218.3 550.3,222.7 552.9,227.1 555.5,231.5 558.0,236.0 560.4,240.4 562.8,244.8 565.1,249.2 567.3,253.6 569.5,258.1 571.6,262.5 573.7,266.9 575.8,271.3 577.8,275.7 579.8,280.1 581.7,284.6 583.6,289.0 585.4,293.4 587.2,297.8 589.0,302.2 590.7,306.6 592.4,311.0 594.1,315.4 595.8,319.9 597.4,324.3 599.0,328.7 600.6,333.1 602.1,337.5 603.6,341.9 605.1,346.3 606.6,350.7 608.0,355.1 609.4,359.5 610.8,363.9 612.2,368.3 613.6,372.7 614.9,377.1 616.2,381.5 617.5,385.9 618.8,390.3 620.1,394.7 621.3,399.1 622.6,403.5 623.8,407.9 625.0,412.3 626.2,416.7 627.3,421.1 628.5,425.5 629.6,429.9 630.8,434.2 631.9,438.6 633.0,443.0 617.7,446.8 616.6,442.5 615.5,438.1 614.4,433.8 613.3,429.4 612.1,425.1 611.0,420.7 609.8,416.4 608.6,412.0 607.4,407.7 606.2,403.3 605.0,399.0 603.8,394.6 602.5,390.3 601.3,385.9 600.0,381.6 598.7,377.2 597.3,372.9 596.0,368.6 594.6,364.2 593.2,359.9 591.8,355.5 590.4,351.2 589.0,346.8 587.5,342.5 586.0,338.2 584.5,333.8 582.9,329.5 581.4,325.1 579.8,320.8 578.2,316.5 576.5,312.1 574.8,307.8 573.1,303.5 571.4,299.1 569.6,294.8 567.8,290.5 566.0,286.1 564.1,281.8 562.2,277.5 560.2,273.2 558.2,268.8 556.2,264.5 554.1,260.2 552.0,255.9 549.8,251.5 547.5,247.2 545.3,242.9 542.9,238.6 540.5,234.3 538.0,229.9 535.5,225.6 532.9,221.3 530.2,217.0 527.5,212.6 524.6,208.3 521.7,204.0 518.7,199.7 515.5,195.4 512.3,191.0 508.9,186.7 505.4,182.4 501.8,178.0 498.0,173.7 493.9,169.5 489.6,165.3 485.2,161.2 480.5,157.0 475.7,152.7 470.5,148.5" fill="#ff00ff"/>
<polyline points="104.3,68.9 169.3,70.3 207.3,71.8 234.3,73.3 255.2,74.7 272.3,76.2 286.8,77.6 299.3,79.1 310.3,80.5 320.2,82.0 329.1,83.5 337.3,84.9 344.8,86.4 351.7,87.8 358.2,89.3 364.3,90.8 370.0,92.2 375.3,93.7 380.4,95.1 385.2,96.6 389.8,98.0 394.1,99.5 398.3,101.0 402.3,102.4 406.1,103.9 409.8,105.4 413.4,106.7 416.7,108.4 420.1,109.6 423.1,111.3 426.4,112.4 429.1,114.3 432.3,115.2 434.8,117.3 437.9,118.1 440.1,120.3 443.1,120.9 445.1,123.3 448.1,123.8 449.9,126.2 452.8,126.7 454.4,129.2 457.4,129.5 458.7,132.2 461.7,132.4 462.8,135.2 465.8,135.2 466.7,138.1 469.8,138.1 470.5,141.1 473.6,141.0 474.1,144.1 477.3,143.8 477.6,147.0 480.8,146.7 480.9,150.0 484.2,149.6 484.1,152.9 487.5,152.4 487.2,155.9 490.7,155.3 490.3,158.8 493.8,158.3 493.3,161.7 496.7,161.2 496.1,164.6 499.6,164.1 498.9,167.5 502.3,167.0 501.6,170.4 505.0,170.0 504.3,173.3 507.6,172.9 506.8,176.2 510.2,175.8 509.3,179.1 512.7,178.8 511.7,182.0 515.1,181.7 514.1,184.9 517.4,184.6 516.4,187.8 519.7,187.5 518.6,190.7 522.0,190.5 520.8,193.6 524.2,193.4 523.0,196.5 526.3,196.3 525.1,199.4 528.4,199.3 527.1,202.3 530.4,202.2 529.1,205.2 532.4,205.1 531.1,208.1 534.4,208.0 533.0,211.0 536.3,211.0 534.9,213.9 538.2,213.9 536.8,216.8 540.1,216.8 538.6,219.8 541.9,219.7 540.4,222.7 543.6,222.7 542.1,225.6 545.4,225.6 543.8,228.5 547.1,228.5 545.5,231.4 548.8,231.4 547.2,234.3 550.4,234.4 548.8,237.2 552.0,237.3 550.4,240.1 553.6,240.2 552.0,243.0 555.2,243.1 553.5,245.9 556.8,246.1 555.0,248.8 558.3,249.0 556.5,251.7 559.8,251.9 558.0,254.6 561.2,254.8 559.4,257.5 562.7,257.8 560.9,260.4 564.1,260.7 562.3,263.3 565.5,263.6 563.7,266.3 566.9,266.5 565.0,269.2 568.2,269.4 566.4,272.1 569.6,272.4 567.7,275.0 570.9,275.3 569.0,277.9 572.2,278.2 570.3,280.8 573.5,281.1 571.6,283.7 574.8,284.1 572.8,286.6 576.0,287.0 574.1,289.5 577.3,289.9 575.3,292.4 578.5,292.8 576.5,295.3 579.7,295.7 577.7,298.3 580.9,298.7 578.9,301.2 582.1,301.6 580.0,304.1 583.2,304.5 581.2,307.0 584.4,307.4 582.3,309.9 585.5,310.3 583.4,312.8 586.6,313.3 584.5,315.7 587.7,316.2 585.6,318.6 588.8,319.1 586.7,321.5 589.9,322.0 587.8,324.4 591.0,324.9 588.8,327.3 592.0,327.9 589.9,330.3 593.1,330.8 590.9,333.2 594.1,333.7 592.0,336.1 595.1,336.6 593.0,339.0 596.1,339.5 594.0,341.9 597.1,342.5 595.0,344.8 598.1,345.4 595.9,347.7 599.1,348.3 596.9,350.6 600.0,351.2 597.9,353.5 601.0,354.1 598.8,356.5 602.0,357.1 599.8,359.4 602.9,360.0 600.7,362.3 603.8,362.9 601.6,365.2 604.7,365.8 602.5,368.1 605.7,368.7 603.4,371.0 606.6,371.6 604.3,373.9 607.5,374.6 605.2,376.8 608.3,377.5 606.1,379.7 609.2,380.4 607.0,382.7 610.1,383.3 607.8,385.6 610.9,386.2 608.7,388.5 611.8,389.2 609.5,391.4 612.6,392.1 610.4,394.3 613.5,395.0 611.2,397.2 614.3,397.9 612.0,400.1 615.1,400.8 612.8,403.0 616.0,403.7 613.7,406.0 616.8,406.7 614.5,408.9 617.6,409.6 615.3,411.8 618.4,412.5 616.1,414.7 619.1,415.4 616.8,417.6 619.9,418.3 617.6,420.5 620.7,421.3 618.4,423.4 621.5,424.2 619.1,426.3 622.2,427.1 619.9,429.3 623.0,430.0 620.7,432.2 623.7,432.9 621.4,435.1 624.5,435.8 622.1,438.0 625.2,438.8 622.9,440.9 626.0,441.7" fill="none" stroke="#ff00ff" stroke-width="3.3" stroke-linejoin="round"/>
<polyline points="104.3,68.9 169.3,70.3 207.3,71.8 234.3,73.3 255.2,74.7 272.3,76.2 286.8,77.6 299.3,79.1 310.3,80.5 320.2,82.0 329.1,83.5 337.3,84.9 344.8,86.4 351.7,87.8 358.2,89.3 364.3,90.8 370.0,92.2 375.3,93.7 380.4,95.1 385.2,96.6 389.8,98.0 394.1,99.5 398.3,101.0 402.3,102.4 406.1,103.9 409.8,105.4 413.4,106.7 416.7,108.4 420.1,109.6 423.1,111.3 426.4,112.4 429.1,114.3 432.3,115.2 434.8,117.3 437.9,118.1 440.1,120.3 443.1,120.9 445.1,123.3 448.1,123.8 449.9,126.2 452.8,126.7 454.4,129.2 457.4,129.5 458.7,132.2 461.7,132.4 462.8,135.2 465.8,135.2 466.7,138.1 469.8,138.1 470.5,141.1 473.6,141.0 474.1,144.1 477.3,143.8 477.6,147.0 480.8,146.7 480.9,150.0 484.2,149.6 484.1,152.9 487.5,152.4 487.2,155.9 490.7,155.3 490.3,158.8 493.8,158.3 493.3,161.7 496.7,161.2 496.1,164.6 499.6,164.1 498.9,167.5 502.3,167.0 501.6,170.4 505.0,170.0 504.3,173.3 507.6,172.9 506.8,176.2 510.2,175.8 509.3,179.1 512.7,178.8 511.7,182.0 515.1,181.7 514.1,184.9 517.4,184.6 516.4,187.8 519.7,187.5 518.6,190.7 522.0,190.5 520.8,193.6 524.2,193.4 523.0,196.5 526.3,196.3 525.1,199.4 528.4,199.3 527.1,202.3 530.4,202.2 529.1,205.2 532.4,205.1 531.1,208.1 534.4,208.0 533.0,211.0 536.3,211.0 534.9,213.9 538.2,213.9 536.8,216.8 540.1,216.8 538.6,219.8 541.9,219.7 540.4,222.7 543.6,222.7 542.1,225.6 545.4,225.6 543.8,228.5 547.1,228.5 545.5,231.4 548.8,231.4 547.2,234.3 550.4,234.4 548.8,237.2 552.0,237.3 550.4,240.1 553.6,240.2 552.0,243.0 555.2,243.1 553.5,245.9 556.8,246.1 555.0,248.8 558.3,249.0 556.5,251.7 559.8,251.9 558.0,254.6 561.2,254.8 559.4,257.5 562.7,257.8 560.9,260.4 564.1,260.7 562.3,263.3 565.5,263.6 563.7,266.3 566.9,266.5 565.0,269.2 568.2,269.4 566.4,272.1 569.6,272.4 567.7,275.0 570.9,275.3 569.0,277.9 572.2,278.2 570.3,280.8 573.5,281.1 571.6,283.7 574.8,284.1 572.8,286.6 576.0,287.0 574.1,289.5 577.3,289.9 575.3,292.4 578.5,292.8 576.5,295.3 579.7,295.7 577.7,298.3 580.9,298.7 578.9,301.2 582.1,301.6 580.0,304.1 583.2,304.5 581.2,307.0 584.4,307.4 582.3,309.9 585.5,310.3 583.4,312.8 586.6,313.3 584.5,315.7 587.7,316.2 585.6,318.6 588.8,319.1 586.7,321.5 589.9,322.0 587.8,324.4 591.0,324.9 588.8,327.3 592.0,327.9 589.9,330.3 593.1,330.8 590.9,333.2 594.1,333.7 592.0,336.1 595.1,336.6 593.0,339.0 596.1,339.5 594.0,341.9 597.1,342.5 595.0,344.8 598.1,345.4 595.9,347.7 599.1,348.3 596.9,350.6 600.0,351.2 597.9,353.5 601.0,354.1 598.8,356.5 602.0,357.1 599.8,359.4 602.9,360.0 600.7,362.3 603.8,362.9 601.6,365.2 604.7,365.8 602.5,368.1 605.7,368.7 603.4,371.0 606.6,371.6 604.3,373.9 607.5,374.6 605.2,376.8 608.3,377.5 606.1,379.7 609.2,380.4 607.0,382.7 610.1,383.3 607.8,385.6 610.9,386.2 608.7,388.5 611.8,389.2 609.5,391.4 612.6,392.1 610.4,394.3 613.5,395.0 611.2,397.2 614.3,397.9 612.0,400.1 615.1,400.8 612.8,403.0 616.0,403.7 613.7,406.0 616.8,406.7 614.5,408.9 617.6,409.6 615.3,411.8 618.4,412.5 616.1,414.7 619.1,415.4 616.8,417.6 619.9,418.3 617.6,420.5 620.7,421.3 618.4,423.4 621.5,424.2 619.1,426.3 622.2,427.1 619.9,429.3 623.0,430.0 620.7,432.2 623.7,432.9 621.4,435.1 624.5,435.8 622.1,438.0 625.2,438.8 622.9,440.9 626.0,441.7" fill="none" stroke="none" marker-start="url(#ma3)" marker-mid="url(#ma3)" marker-end="url(#ma3)"/>
<polygon points="481.3,167.3 486.9,172.4 492.1,177.5 497.1,182.6 501.7,187.8 506.1,192.9 510.3,198.1 514.3,203.3 518.1,208.4 521.8,213.6 525.4,218.7 528.8,223.8 532.1,229.0 535.2,234.1 538.3,239.2 541.3,244.3 544.1,249.4 546.9,254.5 549.6,259.6 552.2,264.7 554.8,269.8 557.3,274.8 559.7,279.9 562.0,285.0 564.3,290.0 566.6,295.1 568.7,300.1 570.9,305.2 573.0,310.2 575.0,315.3 577.0,320.3 578.9,325.4 580.8,330.4 582.7,335.4 584.5,340.5 586.3,345.5 588.1,350.5 589.8,355.5 591.5,360.6 593.2,365.6 594.8,370.6 596.4,375.6 598.0,380.6 599.6,385.6 601.1,390.7 602.6,395.7 604.1,400.7 605.5,405.7 607.0,410.7 608.4,415.7 609.8,420.7 611.1,425.7 612.5,430.7 613.8,435.7 615.1,440.7 616.4,445.7 601.1,449.7 599.8,444.8 598.5,439.8 597.1,434.9 595.8,430.0 594.4,425.0 593.0,420.1 591.6,415.1 590.2,410.2 588.7,405.3 587.3,400.3 585.8,395.4 584.2,390.4 582.7,385.5 581.1,380.6 579.5,375.6 577.9,370.7 576.2,365.8 574.6,360.8 572.8,355.9 571.1,351.0 569.3,346.1 567.5,341.1 565.7,336.2 563.8,331.3 561.8,326.4 559.9,321.4 557.9,316.5 555.8,311.6 553.7,306.7 551.6,301.8 549.4,296.8 547.2,291.9 544.9,287.0 542.5,282.1 540.1,277.2 537.6,272.3 535.1,267.4 532.4,262.5 529.8,257.6 527.0,252.6 524.1,247.7 521.2,242.8 518.1,237.9 515.0,233.0 511.7,228.1 508.4,223.2 504.9,218.3 501.2,213.4 497.5,208.5 493.5,203.6 489.4,198.6 485.1,193.7 480.6,188.7 475.9,183.7 471.0,178.6" fill="#808000"/>
<polyline points="104.3,90.0 169.3,91.7 207.3,93.3 234.3,95.0 255.2,96.6 272.3,98.3 286.8,99.9 299.3,101.6 310.3,103.3 320.2,104.9 329.1,106.6 337.3,108.2 344.8,109.9 351.7,111.5 358.2,113.2 364.3,114.8 370.0,116.5 375.3,118.2 380.4,119.8 385.2,121.5 389.8,123.1 394.1,124.8 398.3,126.4 402.3,128.1 406.1,129.8 409.8,131.5 413.4,133.0 416.7,134.9 420.1,136.2 423.1,138.3 426.4,139.4 429.1,141.7 432.4,142.6 434.7,145.1 437.9,145.9 440.0,148.4 443.2,149.1 445.0,151.8 448.2,152.3 449.7,155.2 453.0,155.6 454.2,158.6 457.5,158.8 458.5,162.0 461.9,162.1 462.6,165.4 466.0,165.3 466.5,168.7 470.0,168.6 470.3,172.1 473.9,171.8 473.8,175.5 477.6,175.1 477.3,178.9 481.1,178.3 480.6,182.2 484.6,181.6 483.8,185.6 487.9,184.8 486.9,189.0 491.1,188.1 489.9,192.2 494.1,191.5 492.9,195.5 497.1,194.8 495.8,198.8 499.9,198.1 498.6,202.1 502.7,201.5 501.3,205.4 505.4,204.8 503.9,208.7 508.0,208.1 506.4,212.0 510.6,211.5 508.9,215.3 513.0,214.8 511.3,218.6 515.5,218.1 513.7,221.9 517.8,221.5 516.0,225.2 520.1,224.8 518.3,228.5 522.4,228.1 520.5,231.8 524.6,231.4 522.6,235.1 526.7,234.8 524.7,238.4 528.8,238.1 526.7,241.7 530.8,241.4 528.8,245.0 532.8,244.8 530.7,248.2 534.8,248.1 532.6,251.5 536.7,251.4 534.5,254.8 538.6,254.7 536.4,258.1 540.4,258.1 538.2,261.4 542.3,261.4 540.0,264.7 544.0,264.7 541.7,268.0 545.8,268.0 543.4,271.3 547.5,271.4 545.1,274.6 549.2,274.7 546.8,277.9 550.8,278.0 548.4,281.2 552.4,281.3 550.0,284.5 554.0,284.7 551.6,287.8 555.6,288.0 553.1,291.1 557.1,291.3 554.6,294.5 558.7,294.6 556.1,297.8 560.2,297.9 557.6,301.1 561.6,301.3 559.1,304.4 563.1,304.6 560.5,307.7 564.5,307.9 561.9,311.0 565.9,311.2 563.3,314.3 567.3,314.5 564.6,317.6 568.6,317.9 566.0,320.9 570.0,321.2 567.3,324.2 571.3,324.5 568.6,327.5 572.6,327.8 569.9,330.8 573.9,331.1 571.2,334.1 575.2,334.5 572.4,337.4 576.4,337.8 573.7,340.7 577.7,341.1 574.9,344.0 578.9,344.4 576.1,347.3 580.1,347.7 577.3,350.6 581.3,351.1 578.5,353.9 582.5,354.4 579.6,357.2 583.6,357.7 580.8,360.5 584.8,361.0 581.9,363.8 585.9,364.3 583.0,367.1 587.0,367.7 584.1,370.5 588.1,371.0 585.2,373.8 589.2,374.3 586.3,377.1 590.3,377.6 587.4,380.4 591.4,380.9 588.5,383.7 592.4,384.2 589.5,387.0 593.5,387.6 590.5,390.3 594.5,390.9 591.6,393.6 595.5,394.2 592.6,396.9 596.5,397.5 593.6,400.2 597.5,400.8 594.6,403.5 598.5,404.1 595.5,406.8 599.5,407.5 596.5,410.1 600.4,410.8 597.5,413.4 601.4,414.1 598.4,416.7 602.4,417.4 599.4,420.1 603.3,420.7 600.3,423.4 604.2,424.0 601.2,426.7 605.1,427.4 602.1,430.0 606.1,430.7 603.0,433.3 607.0,434.0 603.9,436.6 607.9,437.3 604.8,439.9 608.7,440.6 605.7,443.2" fill="none" stroke="#808000" stroke-width="3.3" stroke-linejoin="round"/>
<polyline points="104.3,90.0 169.3,91.7 207.3,93.3 234.3,95.0 255.2,96.6 272.3,98.3 286.8,99.9 299.3,101.6 310.3,103.3 320.2,104.9 329.1,106.6 337.3,108.2 344.8,109.9 351.7,111.5 358.2,113.2 364.3,114.8 370.0,116.5 375.3,118.2 380.4,119.8 385.2,121.5 389.8,123.1 394.1,124.8 398.3,126.4 402.3,128.1 406.1,129.8 409.8,131.5 413.4,133.0 416.7,134.9 420.1,136.2 423.1,138.3 426.4,139.4 429.1,141.7 432.4,142.6 434.7,145.1 437.9,145.9 440.0,148.4 443.2,149.1 445.0,151.8 448.2,152.3 449.7,155.2 453.0,155.6 454.2,158.6 457.5,158.8 458.5,162.0 461.9,162.1 462.6,165.4 466.0,165.3 466.5,168.7 470.0,168.6 470.3,172.1 473.9,171.8 473.8,175.5 477.6,175.1 477.3,178.9 481.1,178.3 480.6,182.2 484.6,181.6 483.8,185.6 487.9,184.8 486.9,189.0 491.1,188.1 489.9,192.2 494.1,191.5 492.9,195.5 497.1,194.8 495.8,198.8 499.9,198.1 498.6,202.1 502.7,201.5 501.3,205.4 505.4,204.8 503.9,208.7 508.0,208.1 506.4,212.0 510.6,211.5 508.9,215.3 513.0,214.8 511.3,218.6 515.5,218.1 513.7,221.9 517.8,221.5 516.0,225.2 520.1,224.8 518.3,228.5 522.4,228.1 520.5,231.8 524.6,231.4 522.6,235.1 526.7,234.8 524.7,238.4 528.8,238.1 526.7,241.7 530.8,241.4 528.8,245.0 532.8,244.8 530.7,248.2 534.8,248.1 532.6,251.5 536.7,251.4 534.5,254.8 538.6,254.7 536.4,258.1 540.4,258.1 538.2,261.4 542.3,261.4 540.0,264.7 544.0,264.7 541.7,268.0 545.8,268.0 543.4,271.3 547.5,271.4 545.1,274.6 549.2,274.7 546.8,277.9 550.8,278.0 548.4,281.2 552.4,281.3 550.0,284.5 554.0,284.7 551.6,287.8 555.6,288.0 553.1,291.1 557.1,291.3 554.6,294.5 558.7,294.6 556.1,297.8 560.2,297.9 557.6,301.1 561.6,301.3 559.1,304.4 563.1,304.6 560.5,307.7 564.5,307.9 561.9,311.0 565.9,311.2 563.3,314.3 567.3,314.5 564.6,317.6 568.6,317.9 566.0,320.9 570.0,321.2 567.3,324.2 571.3,324.5 568.6,327.5 572.6,327.8 569.9,330.8 573.9,331.1 571.2,334.1 575.2,334.5 572.4,337.4 576.4,337.8 573.7,340.7 577.7,341.1 574.9,344.0 578.9,344.4 576.1,347.3 580.1,347.7 577.3,350.6 581.3,351.1 578.5,353.9 582.5,354.4 579.6,357.2 583.6,357.7 580.8,360.5 584.8,361.0 581.9,363.8 585.9,364.3 583.0,367.1 587.0,367.7 584.1,370.5 588.1,371.0 585.2,373.8 589.2,374.3 586.3,377.1 590.3,377.6 587.4,380.4 591.4,380.9 588.5,383.7 592.4,384.2 589.5,387.0 593.5,387.6 590.5,390.3 594.5,390.9 591.6,393.6 595.5,394.2 592.6,396.9 596.5,397.5 593.6,400.2 597.5,400.8 594.6,403.5 598.5,404.1 595.5,406.8 599.5,407.5 596.5,410.1 600.4,410.8 597.5,413.4 601.4,414.1 598.4,416.7 602.4,417.4 599.4,420.1 603.3,420.7 600.3,423.4 604.2,424.0 601.2,426.7 605.1,427.4 602.1,430.0 606.1,430.7 603.0,433.3 607.0,434.0 603.9,436.6 607.9,437.3 604.8,439.9 608.7,440.6 605.7,443.2" fill="none" stroke="none" marker-start="url(#ma4)" marker-mid="url(#ma4)" marker-end="url(#ma4)"/>
</g>
<path d="M104.3 427.40H96.7M104.3 376.76H96.7M104.3 326.11H96.7M104.3 275.47H96.7M104.3 224.82H96.7M104.3 174.18H96.7M104.3 123.53H96.7M104.3 72.89H96.7M104.3 22.25H96.7M104.30 427.4V435.2M320.20 427.4V435.2M536.10 427.4V435.2" stroke="#000" stroke-width="7" stroke-linecap="round" fill="none"/>
<path d="M104.3 412.15H100.7M104.3 403.24H100.7M104.3 396.91H100.7M104.3 392.00H100.7M104.3 387.99H100.7M104.3 384.60H100.7M104.3 381.66H100.7M104.3 379.07H100.7M104.3 361.51H100.7M104.3 352.59H100.7M104.3 346.26H100.7M104.3 341.36H100.7M104.3 337.35H100.7M104.3 333.96H100.7M104.3 331.02H100.7M104.3 328.43H100.7M104.3 310.87H100.7M104.3 301.95H100.7M104.3 295.62H100.7M104.3 290.71H100.7M104.3 286.70H100.7M104.3 283.31H100.7M104.3 280.37H100.7M104.3 277.78H100.7M104.3 260.22H100.7M104.3 251.30H100.7M104.3 244.98H100.7M104.3 240.07H100.7M104.3 236.06H100.7M104.3 232.67H100.7M104.3 229.73H100.7M104.3 227.14H100.7M104.3 209.58H100.7M104.3 200.66H100.7M104.3 194.33H100.7M104.3 189.42H100.7M104.3 185.41H100.7M104.3 182.02H100.7M104.3 179.09H100.7M104.3 176.50H100.7M104.3 158.93H100.7M104.3 150.01H100.7M104.3 143.69H100.7M104.3 138.78H100.7M104.3 134.77H100.7M104.3 131.38H100.7M104.3 128.44H100.7M104.3 125.85H100.7M104.3 108.29H100.7M104.3 99.37H100.7M104.3 93.04H100.7M104.3 88.14H100.7M104.3 84.13H100.7M104.3 80.73H100.7M104.3 77.80H100.7M104.3 75.21H100.7M104.3 57.64H100.7M104.3 48.73H100.7M104.3 42.40H100.7M104.3 37.49H100.7M104.3 33.48H100.7M104.3 30.09H100.7M104.3 27.15H100.7M104.3 24.56H100.7M104.3 7.00H100.7M169.29 427.4V431.3M207.31 427.4V431.3M234.28 427.4V431.3M255.21 427.4V431.3M272.30 427.4V431.3M286.76 427.4V431.3M299.28 427.4V431.3M310.32 427.4V431.3M385.19 427.4V431.3M423.21 427.4V431.3M450.18 427.4V431.3M471.11 427.4V431.3M488.20 427.4V431.3M502.66 427.4V431.3M515.18 427.4V431.3M526.22 427.4V431.3M601.09 427.4V431.3M639.11 427.4V431.3M666.08 427.4V431.3M687.01 427.4V431.3" stroke="#000" stroke-width="6.4" stroke-linecap="round" fill="none"/>
<rect x="104.3" y="7.0" width="582.7" height="420.4" fill="none" stroke="#000" stroke-width="7.4" stroke-linejoin="round"/>
<path transform="translate(45.55,33.85) scale(0.01611,-0.01611)" d="M806 0H525V1059Q371 915 162 846V1101Q272 1137 401 1237.5T578 1472H806Z" /><text x="62.51" y="33.85" font-size="33" font-family="Liberation Sans, sans-serif" font-weight="bold"  xml:space="preserve">0</text><text x="80.86" y="15.55" font-size="19.5" font-family="Liberation Sans, sans-serif" font-weight="bold"  xml:space="preserve">6</text>
<path transform="translate(45.55,236.42) scale(0.01611,-0.01611)" d="M806 0H525V1059Q371 915 162 846V1101Q272 1137 401 1237.5T578 1472H806Z" /><text x="62.51" y="236.42" font-size="33" font-family="Liberation Sans, sans-serif" font-weight="bold"  xml:space="preserve">0</text><text x="80.86" y="218.12" font-size="19.5" font-family="Liberation Sans, sans-serif" font-weight="bold"  xml:space="preserve">2</text>
<path transform="translate(39.05,439.00) scale(0.01611,-0.01611)" d="M806 0H525V1059Q371 915 162 846V1101Q272 1137 401 1237.5T578 1472H806Z" /><text x="56.02" y="439.00" font-size="33" font-family="Liberation Sans, sans-serif" font-weight="bold"  xml:space="preserve">0</text><text x="74.36" y="420.70" font-size="19.5" font-family="Liberation Sans, sans-serif" font-weight="bold"  xml:space="preserve">-2</text>
<g transform="translate(34.3,304.8) rotate(-90)"><path transform="translate(0.00,0.00) scale(0.01953,-0.01953)" d="M621 1466H916V538Q916 356 884 258Q841 130 728 52.5T430 -25Q213 -25 96 96.5T-22 453L257 485Q262 359 294 307Q342 228 440 228Q539 228 580 284.5T621 519Z" /><text x="22.24" y="14.00" font-size="30" font-family="Liberation Sans, sans-serif" font-weight="bold" stroke="#000" stroke-width="1.6" xml:space="preserve">C</text><text x="55.02" y="0.00" font-size="34" font-family="Liberation Sans, sans-serif" font-weight="bold"  xml:space="preserve">(</text><text x="66.34" y="0.00" font-size="40" font-family="Liberation Sans, sans-serif" font-weight="bold"  xml:space="preserve">A/cm</text><text x="164.14" y="-15.00" font-size="21.5" font-family="Liberation Sans, sans-serif" font-weight="bold" stroke="#000" stroke-width="0.5" xml:space="preserve">2</text><text x="176.10" y="0.00" font-size="34" font-family="Liberation Sans, sans-serif" font-weight="bold"  xml:space="preserve">)</text></g>
<text x="618.60" y="57.70" font-size="49" font-family="Liberation Sans, sans-serif" font-weight="bold"  xml:space="preserve">(a)</text>
<text x="287.60" y="404.30" font-size="40.5" font-family="Liberation Sans, sans-serif" font-weight="bold"  xml:space="preserve">P = 0 GPa</text>
<path d="M120.3 157.3H160.6" stroke="#000000" stroke-width="3.0" stroke-linecap="round"/><g transform="translate(140.4,157.3)"><rect x="-9.04" y="-9.04" width="18.08" height="18.08" fill="#000000"/></g><text x="169.30" y="163.60" font-size="32" font-family="Liberation Sans, sans-serif" font-weight="bold"  xml:space="preserve">2 K</text>
<path d="M120.3 197.9H160.6" stroke="#ff0000" stroke-width="3.0" stroke-linecap="round"/><g transform="translate(140.4,197.9)"><path d="M0 -13.69L12.25 7.10L-12.25 7.10Z" fill="#ff0000"/></g><text x="169.30" y="204.15" font-size="32" font-family="Liberation Sans, sans-serif" font-weight="bold"  xml:space="preserve">2.5 K</text>
<path d="M120.3 238.4H160.6" stroke="#0000ff" stroke-width="3.0" stroke-linecap="round"/><g transform="translate(140.4,238.4)"><path d="M0 13.69L12.25 -7.10L-12.25 -7.10Z" fill="#0000ff"/></g><text x="169.30" y="244.70" font-size="32" font-family="Liberation Sans, sans-serif" font-weight="bold"  xml:space="preserve">3 K</text>
<path d="M120.3 278.9H160.6" stroke="#ff00ff" stroke-width="3.0" stroke-linecap="round"/><g transform="translate(140.4,278.9)"><path d="M0 -13.74L12.57 0L0 13.74L-12.57 0Z" fill="#ff00ff"/></g><text x="169.30" y="285.25" font-size="32" font-family="Liberation Sans, sans-serif" font-weight="bold"  xml:space="preserve">4 K</text>
<path d="M120.3 319.5H160.6" stroke="#808000" stroke-width="3.0" stroke-linecap="round"/><g transform="translate(140.4,319.5)"><path d="M-11.15 0L7.94 -12.34L7.94 12.34Z" fill="#808000"/></g><text x="169.30" y="325.80" font-size="32" font-family="Liberation Sans, sans-serif" font-weight="bold"  xml:space="preserve">5 K</text>
<g clip-path="url(#cpb)">
<polyline points="1083.8,41.2 1086.7,42.4 1089.7,42.7 1092.4,44.0 1095.2,44.2 1097.7,45.6 1100.5,45.7 1102.8,47.2 1105.4,47.2 1107.6,48.8 1110.1,48.7 1112.1,50.3 1114.6,50.2 1116.4,51.9" fill="none" stroke="#000000" stroke-width="3.6"/>
<polyline points="1114.6,50.2 1116.4,51.9 1118.9,51.7 1120.6,53.5 1123.0,53.2 1124.5,55.1 1127.0,54.6 1128.3,56.7 1130.8,56.1 1132.0,58.3 1134.4,57.6 1135.5,59.9 1137.9,59.1 1138.9,61.5 1141.3,60.6 1142.1,63.1 1144.6,62.1 1145.3,64.7" fill="none" stroke="#000000" stroke-width="8" stroke-linejoin="round"/>
<polygon points="1131.5,48.9 1137.2,51.2 1142.6,53.4 1147.7,55.7 1152.5,58.0 1157.1,60.3 1161.5,62.7 1165.7,65.0 1169.7,67.4 1173.6,69.8 1177.3,72.1 1180.9,74.5 1184.4,76.9 1187.7,79.2 1190.9,81.6 1194.0,84.0 1197.1,86.4 1200.0,88.8 1202.8,91.1 1205.6,93.5 1208.3,95.9 1210.9,98.3 1213.4,100.7 1215.9,103.1 1218.3,105.5 1220.7,107.9 1223.0,110.2 1225.2,112.6 1227.4,115.0 1229.5,117.4 1231.6,119.8 1233.7,122.2 1235.7,124.5 1237.6,126.9 1239.5,129.3 1241.4,131.7 1243.3,134.1 1245.1,136.5 1246.8,138.8 1248.6,141.2 1250.3,143.6 1251.9,146.0 1253.6,148.3 1255.2,150.7 1256.8,153.1 1258.3,155.5 1259.9,157.8 1261.4,160.2 1262.9,162.6 1264.3,164.9 1265.7,167.3 1267.2,169.7 1268.6,172.0 1269.9,174.4 1271.3,176.7 1272.6,179.1 1273.9,181.5 1275.2,183.8 1276.5,186.2 1277.7,188.5 1279.0,190.9 1280.2,193.3 1281.4,195.6 1282.6,198.0 1283.8,200.3 1285.0,202.7 1286.1,205.0 1287.2,207.4 1288.4,209.7 1289.5,212.1 1290.6,214.4 1291.6,216.8 1292.7,219.1 1293.8,221.5 1294.8,223.8 1295.8,226.2 1296.9,228.5 1297.9,230.9 1298.9,233.2 1299.8,235.6 1300.8,237.9 1301.8,240.2 1302.7,242.6 1303.7,244.9 1304.6,247.3 1305.6,249.6 1306.5,252.0 1307.4,254.3 1308.3,256.6 1309.2,259.0 1310.1,261.3 1310.9,263.6 1311.8,266.0 1312.7,268.3 1313.5,270.7 1314.3,273.0 1315.2,275.3 1316.0,277.7 1316.8,280.0 1317.6,282.3 1318.4,284.7 1319.2,287.0 1320.0,289.3 1320.8,291.7 1321.6,294.0 1322.4,296.3 1323.1,298.7 1323.9,301.0 1324.6,303.3 1325.4,305.7 1326.1,308.0 1326.9,310.3 1327.6,312.7 1328.3,315.0 1329.0,317.3 1329.8,319.7 1330.5,322.0 1331.2,324.3 1331.9,326.6 1332.5,329.0 1333.2,331.3 1333.9,333.6 1334.6,336.0 1335.3,338.3 1335.9,340.6 1336.6,342.9 1337.2,345.3 1337.9,347.6 1338.5,349.9 1339.2,352.2 1339.8,354.6 1340.5,356.9 1341.1,359.2 1341.7,361.6 1342.3,363.9 1343.0,366.2 1343.6,368.5 1344.2,370.9 1344.8,373.2 1345.4,375.5 1346.0,377.8 1346.6,380.2 1347.2,382.5 1347.7,384.8 1348.3,387.1 1348.9,389.5 1349.5,391.8 1350.1,394.1 1350.6,396.4 1351.2,398.7 1351.8,401.1 1352.3,403.4 1337.8,406.9 1337.3,404.6 1336.7,402.3 1336.1,400.0 1335.6,397.7 1335.0,395.4 1334.4,393.1 1333.8,390.8 1333.2,388.5 1332.6,386.2 1332.0,383.9 1331.4,381.6 1330.8,379.3 1330.2,377.0 1329.6,374.7 1329.0,372.4 1328.4,370.1 1327.8,367.8 1327.1,365.5 1326.5,363.2 1325.9,360.9 1325.2,358.6 1324.6,356.3 1323.9,354.0 1323.3,351.7 1322.6,349.4 1322.0,347.1 1321.3,344.8 1320.6,342.5 1319.9,340.2 1319.3,337.9 1318.6,335.7 1317.9,333.4 1317.2,331.1 1316.5,328.8 1315.8,326.5 1315.1,324.2 1314.3,321.9 1313.6,319.6 1312.9,317.3 1312.2,315.0 1311.4,312.7 1310.7,310.4 1309.9,308.1 1309.2,305.8 1308.4,303.5 1307.6,301.3 1306.9,299.0 1306.1,296.7 1305.3,294.4 1304.5,292.1 1303.7,289.8 1302.9,287.5 1302.1,285.2 1301.2,282.9 1300.4,280.7 1299.6,278.4 1298.7,276.1 1297.9,273.8 1297.0,271.5 1296.1,269.2 1295.3,266.9 1294.4,264.6 1293.5,262.4 1292.6,260.1 1291.7,257.8 1290.8,255.5 1289.8,253.2 1288.9,250.9 1288.0,248.7 1287.0,246.4 1286.0,244.1 1285.1,241.8 1284.1,239.5 1283.1,237.3 1282.1,235.0 1281.1,232.7 1280.0,230.4 1279.0,228.2 1278.0,225.9 1276.9,223.6 1275.8,221.3 1274.7,219.1 1273.7,216.8 1272.5,214.5 1271.4,212.2 1270.3,210.0 1269.1,207.7 1268.0,205.4 1266.8,203.2 1265.6,200.9 1264.4,198.6 1263.2,196.4 1261.9,194.1 1260.7,191.8 1259.4,189.6 1258.1,187.3 1256.8,185.0 1255.5,182.8 1254.2,180.5 1252.8,178.3 1251.4,176.0 1250.0,173.7 1248.6,171.5 1247.2,169.2 1245.7,167.0 1244.2,164.7 1242.7,162.5 1241.2,160.2 1239.6,158.0 1238.1,155.7 1236.4,153.5 1234.8,151.2 1233.1,149.0 1231.5,146.7 1229.7,144.5 1228.0,142.2 1226.2,140.0 1224.4,137.8 1222.5,135.5 1220.6,133.3 1218.7,131.0 1216.7,128.8 1214.7,126.6 1212.6,124.3 1210.5,122.1 1208.4,119.8 1206.2,117.6 1203.9,115.4 1201.6,113.1 1199.2,110.9 1196.8,108.7 1194.3,106.4 1191.7,104.2 1189.1,101.9 1186.3,99.7 1183.5,97.5 1180.6,95.2 1177.7,93.0 1174.6,90.7 1171.4,88.5 1168.0,86.2 1164.6,84.0 1161.0,81.7 1157.3,79.4 1153.4,77.2 1149.3,74.9 1145.0,72.6 1140.6,70.3 1135.9,67.9 1130.9,65.6 1125.7,63.2" fill="#000000"/>
<polyline points="761.8,18.3 826.8,19.1 864.8,19.8 891.8,20.6 912.7,21.4 929.8,22.1 944.3,22.9 956.8,23.7 967.8,24.5 977.7,25.2 986.6,26.0 994.8,26.8 1002.3,27.5 1009.2,28.3 1015.7,29.1 1021.8,29.9 1027.5,30.6 1032.8,31.4 1037.9,32.2 1042.7,32.9 1047.3,33.7 1051.6,34.5 1055.8,35.2 1059.8,36.0 1063.6,36.8 1067.3,37.6 1070.8,38.3 1074.2,39.2 1077.6,39.8 1080.7,40.8 1083.8,41.2 1086.7,42.4 1089.7,42.7 1092.4,44.0 1095.2,44.2 1097.7,45.6 1100.5,45.7 1102.8,47.2 1105.4,47.2 1107.6,48.8 1110.1,48.7 1112.1,50.3 1114.6,50.2 1116.4,51.9 1118.9,51.7 1120.6,53.5 1123.0,53.2 1124.5,55.1 1127.0,54.6 1128.3,56.7 1130.8,56.1 1132.0,58.3 1134.4,57.6 1135.5,59.9 1137.9,59.1 1138.9,61.5 1141.3,60.6 1142.1,63.1 1144.6,62.1 1145.3,64.7 1147.7,63.6 1148.3,66.2 1150.7,65.2 1151.3,67.7 1153.7,66.7 1154.2,69.3 1156.5,68.3 1157.0,70.8 1159.3,69.8 1159.7,72.3 1162.0,71.4 1162.3,73.9 1164.6,72.9 1164.8,75.4 1167.2,74.5 1167.3,76.9 1169.6,76.0 1169.8,78.5 1172.0,77.6 1172.1,80.0 1174.4,79.1 1174.4,81.5 1176.7,80.7 1176.7,83.1 1178.9,82.2 1178.9,84.6 1181.1,83.8 1181.0,86.1 1183.3,85.3 1183.1,87.7 1185.4,86.8 1185.2,89.2 1187.4,88.4 1187.2,90.8 1189.4,89.9 1189.2,92.3 1191.4,91.5 1191.1,93.8 1193.3,93.0 1193.0,95.4 1195.2,94.6 1194.8,96.9 1197.0,96.1 1196.6,98.4 1198.8,97.7 1198.4,100.0 1200.6,99.2 1200.2,101.5 1202.3,100.8 1201.9,103.0 1204.1,102.3 1203.5,104.6 1205.7,103.9 1205.2,106.1 1207.4,105.4 1206.8,107.6 1209.0,107.0 1208.4,109.2 1210.6,108.5 1210.0,110.7 1212.2,110.1 1211.5,112.2 1213.7,111.6 1213.1,113.8 1215.2,113.2 1214.6,115.3 1216.7,114.7 1216.0,116.9 1218.2,116.2 1217.5,118.4 1219.7,117.8 1218.9,119.9 1221.1,119.3 1220.3,121.5 1222.5,120.9 1221.7,123.0 1223.9,122.4 1223.0,124.5 1225.2,124.0 1224.4,126.1 1226.6,125.5 1225.7,127.6 1227.9,127.1 1227.0,129.1 1229.2,128.6 1228.3,130.7 1230.5,130.2 1229.6,132.2 1231.8,131.7 1230.8,133.7 1233.0,133.3 1232.1,135.3 1234.3,134.8 1233.3,136.8 1235.5,136.4 1234.5,138.4 1236.7,137.9 1235.7,139.9 1237.9,139.4 1236.9,141.4 1239.1,141.0 1238.0,143.0 1240.2,142.5 1239.2,144.5 1241.4,144.1 1240.3,146.0 1242.5,145.6 1241.4,147.6 1243.6,147.2 1242.5,149.1 1244.7,148.7 1243.6,150.6 1245.8,150.3 1244.7,152.2 1246.9,151.8 1245.8,153.7 1248.0,153.4 1246.8,155.3 1249.0,154.9 1247.9,156.8 1250.1,156.4 1248.9,158.3 1251.1,158.0 1249.9,159.9 1252.1,159.5 1251.0,161.4 1253.1,161.1 1252.0,162.9 1254.1,162.6 1252.9,164.5 1255.1,164.2 1253.9,166.0 1256.1,165.7 1254.9,167.6 1257.1,167.3 1255.8,169.1 1258.0,168.8 1256.8,170.6 1259.0,170.4 1257.7,172.2 1259.9,171.9 1258.7,173.7 1260.8,173.4 1259.6,175.2 1261.8,175.0 1260.5,176.8 1262.7,176.5 1261.4,178.3 1263.6,178.1 1262.3,179.9 1264.5,179.6 1263.2,181.4 1265.4,181.2 1264.1,182.9 1266.2,182.7 1264.9,184.5 1267.1,184.3 1265.8,186.0 1268.0,185.8 1266.7,187.5 1268.8,187.3 1267.5,189.1 1269.7,188.9 1268.3,190.6 1270.5,190.4 1269.2,192.2 1271.3,192.0 1270.0,193.7 1272.2,193.5 1270.8,195.2 1273.0,195.1 1271.6,196.8 1273.8,196.6 1272.4,198.3 1274.6,198.2 1273.2,199.8 1275.4,199.7 1274.0,201.4 1276.2,201.2 1274.8,202.9 1277.0,202.8 1275.6,204.5 1277.7,204.3 1276.3,206.0 1278.5,205.9 1277.1,207.5 1279.3,207.4 1277.9,209.1 1280.0,209.0 1278.6,210.6 1280.8,210.5 1279.4,212.2 1281.5,212.1 1280.1,213.7 1282.3,213.6 1280.8,215.2 1283.0,215.1 1281.6,216.8 1283.7,216.7 1282.3,218.3 1284.5,218.2 1283.0,219.8 1285.2,219.8 1283.7,221.4 1285.9,221.3 1284.4,222.9 1286.6,222.9 1285.1,224.5 1287.3,224.4 1285.8,226.0 1288.0,226.0 1286.5,227.5 1288.7,227.5 1287.2,229.1 1289.4,229.0 1287.9,230.6 1290.0,230.6 1288.6,232.2 1290.7,232.1 1289.2,233.7 1291.4,233.7 1289.9,235.2 1292.1,235.2 1290.6,236.8 1292.7,236.8 1291.2,238.3 1293.4,238.3 1291.9,239.9 1294.0,239.8 1292.5,241.4 1294.7,241.4 1293.2,242.9 1295.3,242.9 1293.8,244.5 1296.0,244.5 1294.4,246.0 1296.6,246.0 1295.1,247.5 1297.2,247.6 1295.7,249.1 1297.8,249.1 1296.3,250.6 1298.5,250.6 1296.9,252.2 1299.1,252.2 1297.5,253.7 1299.7,253.7 1298.1,255.2 1300.3,255.3 1298.8,256.8 1300.9,256.8 1299.4,258.3 1301.5,258.4 1300.0,259.9 1302.1,259.9 1300.5,261.4 1302.7,261.5 1301.1,262.9 1303.3,263.0 1301.7,264.5 1303.9,264.5 1302.3,266.0 1304.5,266.1 1302.9,267.6 1305.1,267.6 1303.5,269.1 1305.6,269.2 1304.0,270.6 1306.2,270.7 1304.6,272.2 1306.8,272.3 1305.2,273.7 1307.3,273.8 1305.7,275.3 1307.9,275.3 1306.3,276.8 1308.5,276.9 1306.9,278.3 1309.0,278.4 1307.4,279.9 1309.6,280.0 1308.0,281.4 1310.1,281.5 1308.5,282.9 1310.7,283.1 1309.0,284.5 1311.2,284.6 1309.6,286.0 1311.7,286.1 1310.1,287.6 1312.3,287.7 1310.7,289.1 1312.8,289.2 1311.2,290.6 1313.3,290.8 1311.7,292.2 1313.9,292.3 1312.2,293.7 1314.4,293.9 1312.8,295.3 1314.9,295.4 1313.3,296.8 1315.4,296.9 1313.8,298.3 1315.9,298.5 1314.3,299.9 1316.5,300.0 1314.8,301.4 1317.0,301.6 1315.3,303.0 1317.5,303.1 1315.8,304.5 1318.0,304.7 1316.3,306.0 1318.5,306.2 1316.8,307.6 1319.0,307.7 1317.3,309.1 1319.5,309.3 1317.8,310.7 1320.0,310.8 1318.3,312.2 1320.5,312.4 1318.8,313.7 1321.0,313.9 1319.3,315.3 1321.4,315.5 1319.8,316.8 1321.9,317.0 1320.3,318.4 1322.4,318.5 1320.7,319.9 1322.9,320.1 1321.2,321.4 1323.4,321.6 1321.7,323.0 1323.8,323.2 1322.2,324.5 1324.3,324.7 1322.6,326.1 1324.8,326.3 1323.1,327.6 1325.2,327.8 1323.6,329.1 1325.7,329.3 1324.0,330.7 1326.2,330.9 1324.5,332.2 1326.6,332.4 1324.9,333.8 1327.1,334.0 1325.4,335.3 1327.5,335.5 1325.9,336.8 1328.0,337.0 1326.3,338.4 1328.4,338.6 1326.8,339.9 1328.9,340.1 1327.2,341.5 1329.3,341.7 1327.6,343.0 1329.8,343.2 1328.1,344.5 1330.2,344.8 1328.5,346.1 1330.7,346.3 1329.0,347.6 1331.1,347.8 1329.4,349.2 1331.5,349.4 1329.8,350.7 1332.0,350.9 1330.3,352.2 1332.4,352.5 1330.7,353.8 1332.8,354.0 1331.1,355.3 1333.3,355.6 1331.6,356.9 1333.7,357.1 1332.0,358.4 1334.1,358.6 1332.4,359.9 1334.5,360.2 1332.8,361.5 1335.0,361.7 1333.2,363.0 1335.4,363.3 1333.7,364.6 1335.8,364.8 1334.1,366.1 1336.2,366.4 1334.5,367.6 1336.6,367.9 1334.9,369.2 1337.0,369.4 1335.3,370.7 1337.5,371.0 1335.7,372.3 1337.9,372.5 1336.1,373.8 1338.3,374.1 1336.5,375.3 1338.7,375.6 1336.9,376.9 1339.1,377.2 1337.3,378.4 1339.5,378.7 1337.7,380.0 1339.9,380.2 1338.1,381.5 1340.3,381.8 1338.5,383.0 1340.7,383.3 1338.9,384.6 1341.1,384.9 1339.3,386.1 1341.5,386.4 1339.7,387.7 1341.8,387.9 1340.1,389.2 1342.2,389.5 1340.5,390.7 1342.6,391.0 1340.9,392.3 1343.0,392.6 1341.3,393.8 1343.4,394.1 1341.6,395.4 1343.8,395.7 1342.0,396.9 1344.2,397.2 1342.4,398.4 1344.5,398.7 1342.8,400.0 1344.9,400.3 1343.2,401.5 1345.3,401.8 1343.5,403.1" fill="none" stroke="#000000" stroke-width="2.7" stroke-linejoin="round"/>
<polyline points="761.8,18.3 826.8,19.1 864.8,19.8 891.8,20.6 912.7,21.4 929.8,22.1 944.3,22.9 956.8,23.7 967.8,24.5 977.7,25.2 986.6,26.0 994.8,26.8 1002.3,27.5 1009.2,28.3 1015.7,29.1 1021.8,29.9 1027.5,30.6 1032.8,31.4 1037.9,32.2 1042.7,32.9 1047.3,33.7 1051.6,34.5 1055.8,35.2 1059.8,36.0 1063.6,36.8 1067.3,37.6 1070.8,38.3 1074.2,39.2 1077.6,39.8 1080.7,40.8 1083.8,41.2 1086.7,42.4 1089.7,42.7 1092.4,44.0 1095.2,44.2 1097.7,45.6 1100.5,45.7 1102.8,47.2 1105.4,47.2 1107.6,48.8 1110.1,48.7 1112.1,50.3 1114.6,50.2 1116.4,51.9 1118.9,51.7 1120.6,53.5 1123.0,53.2 1124.5,55.1 1127.0,54.6 1128.3,56.7 1130.8,56.1 1132.0,58.3 1134.4,57.6 1135.5,59.9 1137.9,59.1 1138.9,61.5 1141.3,60.6 1142.1,63.1 1144.6,62.1 1145.3,64.7 1147.7,63.6 1148.3,66.2 1150.7,65.2 1151.3,67.7 1153.7,66.7 1154.2,69.3 1156.5,68.3 1157.0,70.8 1159.3,69.8 1159.7,72.3 1162.0,71.4 1162.3,73.9 1164.6,72.9 1164.8,75.4 1167.2,74.5 1167.3,76.9 1169.6,76.0 1169.8,78.5 1172.0,77.6 1172.1,80.0 1174.4,79.1 1174.4,81.5 1176.7,80.7 1176.7,83.1 1178.9,82.2 1178.9,84.6 1181.1,83.8 1181.0,86.1 1183.3,85.3 1183.1,87.7 1185.4,86.8 1185.2,89.2 1187.4,88.4 1187.2,90.8 1189.4,89.9 1189.2,92.3 1191.4,91.5 1191.1,93.8 1193.3,93.0 1193.0,95.4 1195.2,94.6 1194.8,96.9 1197.0,96.1 1196.6,98.4 1198.8,97.7 1198.4,100.0 1200.6,99.2 1200.2,101.5 1202.3,100.8 1201.9,103.0 1204.1,102.3 1203.5,104.6 1205.7,103.9 1205.2,106.1 1207.4,105.4 1206.8,107.6 1209.0,107.0 1208.4,109.2 1210.6,108.5 1210.0,110.7 1212.2,110.1 1211.5,112.2 1213.7,111.6 1213.1,113.8 1215.2,113.2 1214.6,115.3 1216.7,114.7 1216.0,116.9 1218.2,116.2 1217.5,118.4 1219.7,117.8 1218.9,119.9 1221.1,119.3 1220.3,121.5 1222.5,120.9 1221.7,123.0 1223.9,122.4 1223.0,124.5 1225.2,124.0 1224.4,126.1 1226.6,125.5 1225.7,127.6 1227.9,127.1 1227.0,129.1 1229.2,128.6 1228.3,130.7 1230.5,130.2 1229.6,132.2 1231.8,131.7 1230.8,133.7 1233.0,133.3 1232.1,135.3 1234.3,134.8 1233.3,136.8 1235.5,136.4 1234.5,138.4 1236.7,137.9 1235.7,139.9 1237.9,139.4 1236.9,141.4 1239.1,141.0 1238.0,143.0 1240.2,142.5 1239.2,144.5 1241.4,144.1 1240.3,146.0 1242.5,145.6 1241.4,147.6 1243.6,147.2 1242.5,149.1 1244.7,148.7 1243.6,150.6 1245.8,150.3 1244.7,152.2 1246.9,151.8 1245.8,153.7 1248.0,153.4 1246.8,155.3 1249.0,154.9 1247.9,156.8 1250.1,156.4 1248.9,158.3 1251.1,158.0 1249.9,159.9 1252.1,159.5 1251.0,161.4 1253.1,161.1 1252.0,162.9 1254.1,162.6 1252.9,164.5 1255.1,164.2 1253.9,166.0 1256.1,165.7 1254.9,167.6 1257.1,167.3 1255.8,169.1 1258.0,168.8 1256.8,170.6 1259.0,170.4 1257.7,172.2 1259.9,171.9 1258.7,173.7 1260.8,173.4 1259.6,175.2 1261.8,175.0 1260.5,176.8 1262.7,176.5 1261.4,178.3 1263.6,178.1 1262.3,179.9 1264.5,179.6 1263.2,181.4 1265.4,181.2 1264.1,182.9 1266.2,182.7 1264.9,184.5 1267.1,184.3 1265.8,186.0 1268.0,185.8 1266.7,187.5 1268.8,187.3 1267.5,189.1 1269.7,188.9 1268.3,190.6 1270.5,190.4 1269.2,192.2 1271.3,192.0 1270.0,193.7 1272.2,193.5 1270.8,195.2 1273.0,195.1 1271.6,196.8 1273.8,196.6 1272.4,198.3 1274.6,198.2 1273.2,199.8 1275.4,199.7 1274.0,201.4 1276.2,201.2 1274.8,202.9 1277.0,202.8 1275.6,204.5 1277.7,204.3 1276.3,206.0 1278.5,205.9 1277.1,207.5 1279.3,207.4 1277.9,209.1 1280.0,209.0 1278.6,210.6 1280.8,210.5 1279.4,212.2 1281.5,212.1 1280.1,213.7 1282.3,213.6 1280.8,215.2 1283.0,215.1 1281.6,216.8 1283.7,216.7 1282.3,218.3 1284.5,218.2 1283.0,219.8 1285.2,219.8 1283.7,221.4 1285.9,221.3 1284.4,222.9 1286.6,222.9 1285.1,224.5 1287.3,224.4 1285.8,226.0 1288.0,226.0 1286.5,227.5 1288.7,227.5 1287.2,229.1 1289.4,229.0 1287.9,230.6 1290.0,230.6 1288.6,232.2 1290.7,232.1 1289.2,233.7 1291.4,233.7 1289.9,235.2 1292.1,235.2 1290.6,236.8 1292.7,236.8 1291.2,238.3 1293.4,238.3 1291.9,239.9 1294.0,239.8 1292.5,241.4 1294.7,241.4 1293.2,242.9 1295.3,242.9 1293.8,244.5 1296.0,244.5 1294.4,246.0 1296.6,246.0 1295.1,247.5 1297.2,247.6 1295.7,249.1 1297.8,249.1 1296.3,250.6 1298.5,250.6 1296.9,252.2 1299.1,252.2 1297.5,253.7 1299.7,253.7 1298.1,255.2 1300.3,255.3 1298.8,256.8 1300.9,256.8 1299.4,258.3 1301.5,258.4 1300.0,259.9 1302.1,259.9 1300.5,261.4 1302.7,261.5 1301.1,262.9 1303.3,263.0 1301.7,264.5 1303.9,264.5 1302.3,266.0 1304.5,266.1 1302.9,267.6 1305.1,267.6 1303.5,269.1 1305.6,269.2 1304.0,270.6 1306.2,270.7 1304.6,272.2 1306.8,272.3 1305.2,273.7 1307.3,273.8 1305.7,275.3 1307.9,275.3 1306.3,276.8 1308.5,276.9 1306.9,278.3 1309.0,278.4 1307.4,279.9 1309.6,280.0 1308.0,281.4 1310.1,281.5 1308.5,282.9 1310.7,283.1 1309.0,284.5 1311.2,284.6 1309.6,286.0 1311.7,286.1 1310.1,287.6 1312.3,287.7 1310.7,289.1 1312.8,289.2 1311.2,290.6 1313.3,290.8 1311.7,292.2 1313.9,292.3 1312.2,293.7 1314.4,293.9 1312.8,295.3 1314.9,295.4 1313.3,296.8 1315.4,296.9 1313.8,298.3 1315.9,298.5 1314.3,299.9 1316.5,300.0 1314.8,301.4 1317.0,301.6 1315.3,303.0 1317.5,303.1 1315.8,304.5 1318.0,304.7 1316.3,306.0 1318.5,306.2 1316.8,307.6 1319.0,307.7 1317.3,309.1 1319.5,309.3 1317.8,310.7 1320.0,310.8 1318.3,312.2 1320.5,312.4 1318.8,313.7 1321.0,313.9 1319.3,315.3 1321.4,315.5 1319.8,316.8 1321.9,317.0 1320.3,318.4 1322.4,318.5 1320.7,319.9 1322.9,320.1 1321.2,321.4 1323.4,321.6 1321.7,323.0 1323.8,323.2 1322.2,324.5 1324.3,324.7 1322.6,326.1 1324.8,326.3 1323.1,327.6 1325.2,327.8 1323.6,329.1 1325.7,329.3 1324.0,330.7 1326.2,330.9 1324.5,332.2 1326.6,332.4 1324.9,333.8 1327.1,334.0 1325.4,335.3 1327.5,335.5 1325.9,336.8 1328.0,337.0 1326.3,338.4 1328.4,338.6 1326.8,339.9 1328.9,340.1 1327.2,341.5 1329.3,341.7 1327.6,343.0 1329.8,343.2 1328.1,344.5 1330.2,344.8 1328.5,346.1 1330.7,346.3 1329.0,347.6 1331.1,347.8 1329.4,349.2 1331.5,349.4 1329.8,350.7 1332.0,350.9 1330.3,352.2 1332.4,352.5 1330.7,353.8 1332.8,354.0 1331.1,355.3 1333.3,355.6 1331.6,356.9 1333.7,357.1 1332.0,358.4 1334.1,358.6 1332.4,359.9 1334.5,360.2 1332.8,361.5 1335.0,361.7 1333.2,363.0 1335.4,363.3 1333.7,364.6 1335.8,364.8 1334.1,366.1 1336.2,366.4 1334.5,367.6 1336.6,367.9 1334.9,369.2 1337.0,369.4 1335.3,370.7 1337.5,371.0 1335.7,372.3 1337.9,372.5 1336.1,373.8 1338.3,374.1 1336.5,375.3 1338.7,375.6 1336.9,376.9 1339.1,377.2 1337.3,378.4 1339.5,378.7 1337.7,380.0 1339.9,380.2 1338.1,381.5 1340.3,381.8 1338.5,383.0 1340.7,383.3 1338.9,384.6 1341.1,384.9 1339.3,386.1 1341.5,386.4 1339.7,387.7 1341.8,387.9 1340.1,389.2 1342.2,389.5 1340.5,390.7 1342.6,391.0 1340.9,392.3 1343.0,392.6 1341.3,393.8 1343.4,394.1 1341.6,395.4 1343.8,395.7 1342.0,396.9 1344.2,397.2 1342.4,398.4 1344.5,398.7 1342.8,400.0 1344.9,400.3 1343.2,401.5 1345.3,401.8 1343.5,403.1" fill="none" stroke="none" marker-start="url(#mb0)" marker-mid="url(#mb0)" marker-end="url(#mb0)"/>
<polyline points="1083.8,49.1 1086.7,50.3 1089.7,50.9 1092.4,52.1 1095.2,52.6 1097.7,54.0 1100.5,54.4 1102.8,55.8 1105.4,56.1 1107.6,57.7 1110.1,57.9 1112.1,59.5 1114.6,59.7 1116.5,61.3" fill="none" stroke="#ff0000" stroke-width="3.6"/>
<polyline points="1114.6,59.7 1116.5,61.3 1118.9,61.4 1120.6,63.2 1123.0,63.2 1124.6,65.0 1126.9,64.9 1128.4,66.8 1130.7,66.7 1132.0,68.7 1134.4,68.5 1135.5,70.5 1137.9,70.2 1138.9,72.3 1141.2,72.0 1142.2,74.2 1144.5,73.7 1145.3,76.0" fill="none" stroke="#ff0000" stroke-width="8" stroke-linejoin="round"/>
<polygon points="1131.4,60.4 1137.1,63.2 1142.4,65.9 1147.4,68.6 1152.2,71.3 1156.8,74.1 1161.1,76.9 1165.3,79.6 1169.3,82.4 1173.1,85.2 1176.8,87.9 1180.3,90.7 1183.8,93.5 1187.1,96.2 1190.2,99.0 1193.3,101.8 1196.3,104.5 1199.2,107.3 1202.0,110.1 1204.8,112.8 1207.4,115.6 1210.0,118.4 1212.5,121.1 1215.0,123.9 1217.4,126.7 1219.7,129.4 1222.0,132.2 1224.2,134.9 1226.4,137.7 1228.5,140.4 1230.6,143.2 1232.6,145.9 1234.6,148.7 1236.5,151.4 1238.4,154.2 1240.3,156.9 1242.1,159.7 1243.9,162.4 1245.7,165.2 1247.4,167.9 1249.1,170.6 1250.8,173.4 1252.4,176.1 1254.0,178.9 1255.6,181.6 1257.2,184.3 1258.7,187.1 1260.2,189.8 1261.7,192.5 1263.1,195.3 1264.6,198.0 1266.0,200.7 1267.4,203.5 1268.8,206.2 1270.1,208.9 1271.4,211.7 1272.8,214.4 1274.1,217.1 1275.3,219.9 1276.6,222.6 1277.8,225.3 1279.1,228.0 1280.3,230.8 1281.5,233.5 1282.7,236.2 1283.8,238.9 1285.0,241.7 1286.1,244.4 1287.2,247.1 1288.4,249.8 1289.5,252.5 1290.5,255.3 1291.6,258.0 1292.7,260.7 1293.7,263.4 1294.8,266.1 1295.8,268.9 1296.8,271.6 1297.8,274.3 1298.8,277.0 1299.8,279.7 1300.8,282.5 1301.7,285.2 1302.7,287.9 1303.6,290.6 1304.5,293.3 1305.5,296.0 1306.4,298.7 1307.3,301.5 1308.2,304.2 1309.1,306.9 1310.0,309.6 1310.8,312.3 1311.7,315.0 1312.6,317.7 1313.4,320.5 1314.2,323.2 1315.1,325.9 1315.9,328.6 1316.7,331.3 1317.5,334.0 1318.3,336.7 1319.1,339.4 1319.9,342.2 1320.7,344.9 1321.5,347.6 1322.3,350.3 1323.0,353.0 1323.8,355.7 1324.5,358.4 1325.3,361.1 1326.0,363.8 1326.8,366.5 1327.5,369.2 1328.2,372.0 1328.9,374.7 1329.6,377.4 1330.4,380.1 1331.1,382.8 1331.8,385.5 1332.4,388.2 1333.1,390.9 1333.8,393.6 1334.5,396.3 1335.2,399.0 1335.8,401.7 1336.5,404.4 1337.1,407.2 1337.8,409.9 1338.4,412.6 1339.1,415.3 1339.7,418.0 1340.4,420.7 1341.0,423.4 1341.6,426.1 1342.2,428.8 1342.9,431.5 1343.5,434.2 1344.1,436.9 1344.7,439.6 1345.3,442.3 1332.1,445.3 1331.5,442.6 1330.9,439.9 1330.3,437.2 1329.7,434.5 1329.1,431.8 1328.5,429.1 1327.8,426.4 1327.2,423.8 1326.6,421.1 1326.0,418.4 1325.3,415.7 1324.7,413.0 1324.0,410.3 1323.4,407.6 1322.7,405.0 1322.1,402.3 1321.4,399.6 1320.7,396.9 1320.0,394.2 1319.4,391.5 1318.7,388.9 1318.0,386.2 1317.3,383.5 1316.6,380.8 1315.9,378.1 1315.2,375.4 1314.5,372.7 1313.7,370.1 1313.0,367.4 1312.3,364.7 1311.5,362.0 1310.8,359.3 1310.0,356.6 1309.3,354.0 1308.5,351.3 1307.7,348.6 1307.0,345.9 1306.2,343.2 1305.4,340.6 1304.6,337.9 1303.8,335.2 1303.0,332.5 1302.2,329.8 1301.3,327.2 1300.5,324.5 1299.7,321.8 1298.8,319.1 1298.0,316.4 1297.1,313.8 1296.2,311.1 1295.4,308.4 1294.5,305.7 1293.6,303.0 1292.7,300.4 1291.8,297.7 1290.9,295.0 1289.9,292.3 1289.0,289.7 1288.0,287.0 1287.1,284.3 1286.1,281.6 1285.1,279.0 1284.1,276.3 1283.1,273.6 1282.1,270.9 1281.1,268.3 1280.1,265.6 1279.0,262.9 1278.0,260.2 1276.9,257.6 1275.9,254.9 1274.8,252.2 1273.7,249.6 1272.5,246.9 1271.4,244.2 1270.3,241.6 1269.1,238.9 1267.9,236.2 1266.8,233.6 1265.5,230.9 1264.3,228.2 1263.1,225.6 1261.9,222.9 1260.6,220.2 1259.3,217.6 1258.0,214.9 1256.7,212.2 1255.3,209.6 1254.0,206.9 1252.6,204.3 1251.2,201.6 1249.8,198.9 1248.4,196.3 1246.9,193.6 1245.4,191.0 1243.9,188.3 1242.4,185.7 1240.8,183.0 1239.2,180.4 1237.6,177.7 1236.0,175.1 1234.3,172.4 1232.6,169.8 1230.9,167.1 1229.1,164.5 1227.3,161.8 1225.5,159.2 1223.6,156.5 1221.7,153.9 1219.7,151.2 1217.7,148.6 1215.7,146.0 1213.6,143.3 1211.5,140.7 1209.3,138.1 1207.1,135.4 1204.8,132.8 1202.5,130.2 1200.1,127.5 1197.6,124.9 1195.1,122.3 1192.5,119.6 1189.8,117.0 1187.1,114.4 1184.2,111.8 1181.3,109.1 1178.3,106.5 1175.2,103.9 1171.9,101.3 1168.6,98.6 1165.1,96.0 1161.5,93.4 1157.7,90.8 1153.8,88.2 1149.6,85.5 1145.3,82.9 1140.8,80.3 1136.1,77.6 1131.1,74.9 1125.8,72.2" fill="#ff0000"/>
<polyline points="761.8,22.3 826.8,23.2 864.8,24.1 891.8,25.0 912.7,25.9 929.8,26.8 944.3,27.7 956.8,28.6 967.8,29.5 977.7,30.4 986.6,31.3 994.8,32.2 1002.3,33.1 1009.2,34.0 1015.7,34.9 1021.8,35.8 1027.5,36.7 1032.8,37.6 1037.9,38.5 1042.7,39.4 1047.3,40.3 1051.6,41.2 1055.8,42.1 1059.8,43.0 1063.6,43.9 1067.3,44.8 1070.8,45.6 1074.2,46.6 1077.6,47.4 1080.7,48.5 1083.8,49.1 1086.7,50.3 1089.7,50.9 1092.4,52.1 1095.2,52.6 1097.7,54.0 1100.5,54.4 1102.8,55.8 1105.4,56.1 1107.6,57.7 1110.1,57.9 1112.1,59.5 1114.6,59.7 1116.5,61.3 1118.9,61.4 1120.6,63.2 1123.0,63.2 1124.6,65.0 1126.9,64.9 1128.4,66.8 1130.7,66.7 1132.0,68.7 1134.4,68.5 1135.5,70.5 1137.9,70.2 1138.9,72.3 1141.2,72.0 1142.2,74.2 1144.5,73.7 1145.3,76.0 1147.7,75.5 1148.4,77.8 1150.7,77.3 1151.3,79.6 1153.6,79.1 1154.2,81.4 1156.5,80.9 1157.0,83.2 1159.2,82.7 1159.7,85.0 1161.9,84.5 1162.3,86.8 1164.6,86.3 1164.9,88.6 1167.1,88.1 1167.4,90.3 1169.6,90.0 1169.8,92.1 1172.0,91.8 1172.2,93.9 1174.3,93.6 1174.5,95.7 1176.6,95.4 1176.8,97.5 1178.9,97.2 1178.9,99.3 1181.1,99.0 1181.1,101.1 1183.2,100.8 1183.2,102.9 1185.3,102.6 1185.3,104.7 1187.3,104.4 1187.3,106.5 1189.3,106.2 1189.2,108.3 1191.3,108.0 1191.2,110.1 1193.2,109.8 1193.0,111.8 1195.1,111.6 1194.9,113.6 1196.9,113.4 1196.7,115.4 1198.7,115.2 1198.5,117.2 1200.5,117.0 1200.2,119.0 1202.3,118.8 1202.0,120.8 1204.0,120.6 1203.6,122.6 1205.6,122.4 1205.3,124.4 1207.3,124.2 1206.9,126.2 1208.9,126.0 1208.5,128.0 1210.5,127.8 1210.1,129.8 1212.1,129.6 1211.6,131.6 1213.6,131.4 1213.2,133.4 1215.1,133.2 1214.7,135.1 1216.6,135.0 1216.1,136.9 1218.1,136.8 1217.6,138.7 1219.5,138.6 1219.0,140.5 1221.0,140.4 1220.4,142.3 1222.4,142.2 1221.8,144.1 1223.8,144.0 1223.2,145.9 1225.1,145.8 1224.5,147.7 1226.5,147.6 1225.8,149.5 1227.8,149.4 1227.1,151.3 1229.1,151.2 1228.4,153.1 1230.4,153.0 1229.7,154.9 1231.6,154.8 1231.0,156.7 1232.9,156.6 1232.2,158.5 1234.1,158.4 1233.4,160.2 1235.4,160.2 1234.6,162.0 1236.6,162.1 1235.8,163.8 1237.8,163.9 1237.0,165.6 1238.9,165.7 1238.2,167.4 1240.1,167.5 1239.3,169.2 1241.2,169.3 1240.4,171.0 1242.4,171.1 1241.6,172.8 1243.5,172.9 1242.7,174.6 1244.6,174.7 1243.8,176.4 1245.7,176.5 1244.8,178.2 1246.8,178.3 1245.9,180.0 1247.8,180.1 1247.0,181.8 1248.9,181.9 1248.0,183.6 1249.9,183.7 1249.1,185.4 1251.0,185.5 1250.1,187.2 1252.0,187.3 1251.1,188.9 1253.0,189.1 1252.1,190.7 1254.0,190.9 1253.1,192.5 1255.0,192.7 1254.1,194.3 1256.0,194.5 1255.0,196.1 1256.9,196.3 1256.0,197.9 1257.9,198.1 1256.9,199.7 1258.8,199.9 1257.9,201.5 1259.8,201.7 1258.8,203.3 1260.7,203.5 1259.7,205.1 1261.6,205.3 1260.7,206.9 1262.5,207.1 1261.6,208.7 1263.4,208.9 1262.5,210.5 1264.3,210.7 1263.3,212.3 1265.2,212.5 1264.2,214.1 1266.1,214.3 1265.1,215.9 1267.0,216.1 1266.0,217.7 1267.8,217.9 1266.8,219.5 1268.7,219.7 1267.7,221.3 1269.5,221.5 1268.5,223.0 1270.4,223.3 1269.3,224.8 1271.2,225.1 1270.2,226.6 1272.0,226.9 1271.0,228.4 1272.8,228.7 1271.8,230.2 1273.6,230.5 1272.6,232.0 1274.4,232.3 1273.4,233.8 1275.2,234.1 1274.2,235.6 1276.0,235.9 1275.0,237.4 1276.8,237.7 1275.7,239.2 1277.6,239.5 1276.5,241.0 1278.4,241.3 1277.3,242.8 1279.1,243.1 1278.0,244.6 1279.9,244.9 1278.8,246.4 1280.6,246.7 1279.5,248.2 1281.4,248.5 1280.3,250.0 1282.1,250.3 1281.0,251.8 1282.8,252.1 1281.7,253.6 1283.6,253.9 1282.5,255.4 1284.3,255.7 1283.2,257.2 1285.0,257.5 1283.9,259.0 1285.7,259.3 1284.6,260.7 1286.4,261.1 1285.3,262.5 1287.1,262.9 1286.0,264.3 1287.8,264.7 1286.7,266.1 1288.5,266.5 1287.4,267.9 1289.2,268.3 1288.0,269.7 1289.9,270.1 1288.7,271.5 1290.6,271.9 1289.4,273.3 1291.2,273.7 1290.1,275.1 1291.9,275.5 1290.7,276.9 1292.6,277.3 1291.4,278.7 1293.2,279.1 1292.0,280.5 1293.9,280.9 1292.7,282.3 1294.5,282.7 1293.3,284.1 1295.2,284.5 1294.0,285.9 1295.8,286.3 1294.6,287.7 1296.4,288.0 1295.2,289.5 1297.1,289.8 1295.9,291.3 1297.7,291.6 1296.5,293.1 1298.3,293.4 1297.1,294.9 1298.9,295.2 1297.7,296.7 1299.5,297.0 1298.3,298.5 1300.1,298.8 1298.9,300.3 1300.7,300.6 1299.5,302.0 1301.3,302.4 1300.1,303.8 1301.9,304.2 1300.7,305.6 1302.5,306.0 1301.3,307.4 1303.1,307.8 1301.9,309.2 1303.7,309.6 1302.5,311.0 1304.3,311.4 1303.1,312.8 1304.9,313.2 1303.6,314.6 1305.5,315.0 1304.2,316.4 1306.0,316.8 1304.8,318.2 1306.6,318.6 1305.4,320.0 1307.2,320.4 1305.9,321.8 1307.7,322.2 1306.5,323.6 1308.3,324.0 1307.0,325.4 1308.8,325.8 1307.6,327.2 1309.4,327.6 1308.1,329.0 1309.9,329.4 1308.7,330.8 1310.5,331.2 1309.2,332.6 1311.0,333.0 1309.8,334.4 1311.6,334.8 1310.3,336.2 1312.1,336.6 1310.8,338.0 1312.6,338.4 1311.4,339.8 1313.2,340.2 1311.9,341.6 1313.7,342.0 1312.4,343.4 1314.2,343.8 1312.9,345.2 1314.7,345.6 1313.5,347.0 1315.3,347.4 1314.0,348.7 1315.8,349.2 1314.5,350.5 1316.3,351.0 1315.0,352.3 1316.8,352.8 1315.5,354.1 1317.3,354.6 1316.0,355.9 1317.8,356.4 1316.5,357.7 1318.3,358.2 1317.0,359.5 1318.8,360.0 1317.5,361.3 1319.3,361.8 1318.0,363.1 1319.8,363.6 1318.5,364.9 1320.3,365.4 1319.0,366.7 1320.8,367.2 1319.5,368.5 1321.3,369.0 1320.0,370.3 1321.7,370.8 1320.4,372.1 1322.2,372.6 1320.9,373.9 1322.7,374.4 1321.4,375.7 1323.2,376.2 1321.9,377.5 1323.7,378.0 1322.3,379.3 1324.1,379.8 1322.8,381.1 1324.6,381.6 1323.3,382.9 1325.1,383.4 1323.7,384.7 1325.5,385.2 1324.2,386.5 1326.0,387.0 1324.7,388.3 1326.4,388.8 1325.1,390.1 1326.9,390.6 1325.6,391.9 1327.4,392.4 1326.0,393.7 1327.8,394.2 1326.5,395.5 1328.3,396.0 1326.9,397.3 1328.7,397.8 1327.4,399.1 1329.2,399.6 1327.8,400.8 1329.6,401.4 1328.3,402.6 1330.0,403.2 1328.7,404.4 1330.5,405.0 1329.2,406.2 1330.9,406.8 1329.6,408.0 1331.4,408.6 1330.0,409.8 1331.8,410.4 1330.5,411.6 1332.2,412.2 1330.9,413.4 1332.7,413.9 1331.3,415.2 1333.1,415.7 1331.7,417.0 1333.5,417.5 1332.2,418.8 1333.9,419.3 1332.6,420.6 1334.4,421.1 1333.0,422.4 1334.8,422.9 1333.4,424.2 1335.2,424.7 1333.8,426.0 1335.6,426.5 1334.3,427.8 1336.0,428.3 1334.7,429.6 1336.4,430.1 1335.1,431.4 1336.9,431.9 1335.5,433.2 1337.3,433.7 1335.9,435.0 1337.7,435.5 1336.3,436.8 1338.1,437.3 1336.7,438.6 1338.5,439.1 1337.1,440.4 1338.9,440.9 1337.5,442.2" fill="none" stroke="#ff00ff" stroke-width="3.8" stroke-linejoin="round"/>
<polyline points="761.8,22.3 826.8,23.2 864.8,24.1 891.8,25.0 912.7,25.9 929.8,26.8 944.3,27.7 956.8,28.6 967.8,29.5 977.7,30.4 986.6,31.3 994.8,32.2 1002.3,33.1 1009.2,34.0 1015.7,34.9 1021.8,35.8 1027.5,36.7 1032.8,37.6 1037.9,38.5 1042.7,39.4 1047.3,40.3 1051.6,41.2 1055.8,42.1 1059.8,43.0 1063.6,43.9 1067.3,44.8 1070.8,45.6 1074.2,46.6 1077.6,47.4 1080.7,48.5 1083.8,49.1 1086.7,50.3 1089.7,50.9 1092.4,52.1 1095.2,52.6 1097.7,54.0 1100.5,54.4 1102.8,55.8 1105.4,56.1 1107.6,57.7 1110.1,57.9 1112.1,59.5 1114.6,59.7 1116.5,61.3 1118.9,61.4 1120.6,63.2 1123.0,63.2 1124.6,65.0 1126.9,64.9 1128.4,66.8 1130.7,66.7 1132.0,68.7 1134.4,68.5 1135.5,70.5 1137.9,70.2 1138.9,72.3 1141.2,72.0 1142.2,74.2 1144.5,73.7 1145.3,76.0 1147.7,75.5 1148.4,77.8 1150.7,77.3 1151.3,79.6 1153.6,79.1 1154.2,81.4 1156.5,80.9 1157.0,83.2 1159.2,82.7 1159.7,85.0 1161.9,84.5 1162.3,86.8 1164.6,86.3 1164.9,88.6 1167.1,88.1 1167.4,90.3 1169.6,90.0 1169.8,92.1 1172.0,91.8 1172.2,93.9 1174.3,93.6 1174.5,95.7 1176.6,95.4 1176.8,97.5 1178.9,97.2 1178.9,99.3 1181.1,99.0 1181.1,101.1 1183.2,100.8 1183.2,102.9 1185.3,102.6 1185.3,104.7 1187.3,104.4 1187.3,106.5 1189.3,106.2 1189.2,108.3 1191.3,108.0 1191.2,110.1 1193.2,109.8 1193.0,111.8 1195.1,111.6 1194.9,113.6 1196.9,113.4 1196.7,115.4 1198.7,115.2 1198.5,117.2 1200.5,117.0 1200.2,119.0 1202.3,118.8 1202.0,120.8 1204.0,120.6 1203.6,122.6 1205.6,122.4 1205.3,124.4 1207.3,124.2 1206.9,126.2 1208.9,126.0 1208.5,128.0 1210.5,127.8 1210.1,129.8 1212.1,129.6 1211.6,131.6 1213.6,131.4 1213.2,133.4 1215.1,133.2 1214.7,135.1 1216.6,135.0 1216.1,136.9 1218.1,136.8 1217.6,138.7 1219.5,138.6 1219.0,140.5 1221.0,140.4 1220.4,142.3 1222.4,142.2 1221.8,144.1 1223.8,144.0 1223.2,145.9 1225.1,145.8 1224.5,147.7 1226.5,147.6 1225.8,149.5 1227.8,149.4 1227.1,151.3 1229.1,151.2 1228.4,153.1 1230.4,153.0 1229.7,154.9 1231.6,154.8 1231.0,156.7 1232.9,156.6 1232.2,158.5 1234.1,158.4 1233.4,160.2 1235.4,160.2 1234.6,162.0 1236.6,162.1 1235.8,163.8 1237.8,163.9 1237.0,165.6 1238.9,165.7 1238.2,167.4 1240.1,167.5 1239.3,169.2 1241.2,169.3 1240.4,171.0 1242.4,171.1 1241.6,172.8 1243.5,172.9 1242.7,174.6 1244.6,174.7 1243.8,176.4 1245.7,176.5 1244.8,178.2 1246.8,178.3 1245.9,180.0 1247.8,180.1 1247.0,181.8 1248.9,181.9 1248.0,183.6 1249.9,183.7 1249.1,185.4 1251.0,185.5 1250.1,187.2 1252.0,187.3 1251.1,188.9 1253.0,189.1 1252.1,190.7 1254.0,190.9 1253.1,192.5 1255.0,192.7 1254.1,194.3 1256.0,194.5 1255.0,196.1 1256.9,196.3 1256.0,197.9 1257.9,198.1 1256.9,199.7 1258.8,199.9 1257.9,201.5 1259.8,201.7 1258.8,203.3 1260.7,203.5 1259.7,205.1 1261.6,205.3 1260.7,206.9 1262.5,207.1 1261.6,208.7 1263.4,208.9 1262.5,210.5 1264.3,210.7 1263.3,212.3 1265.2,212.5 1264.2,214.1 1266.1,214.3 1265.1,215.9 1267.0,216.1 1266.0,217.7 1267.8,217.9 1266.8,219.5 1268.7,219.7 1267.7,221.3 1269.5,221.5 1268.5,223.0 1270.4,223.3 1269.3,224.8 1271.2,225.1 1270.2,226.6 1272.0,226.9 1271.0,228.4 1272.8,228.7 1271.8,230.2 1273.6,230.5 1272.6,232.0 1274.4,232.3 1273.4,233.8 1275.2,234.1 1274.2,235.6 1276.0,235.9 1275.0,237.4 1276.8,237.7 1275.7,239.2 1277.6,239.5 1276.5,241.0 1278.4,241.3 1277.3,242.8 1279.1,243.1 1278.0,244.6 1279.9,244.9 1278.8,246.4 1280.6,246.7 1279.5,248.2 1281.4,248.5 1280.3,250.0 1282.1,250.3 1281.0,251.8 1282.8,252.1 1281.7,253.6 1283.6,253.9 1282.5,255.4 1284.3,255.7 1283.2,257.2 1285.0,257.5 1283.9,259.0 1285.7,259.3 1284.6,260.7 1286.4,261.1 1285.3,262.5 1287.1,262.9 1286.0,264.3 1287.8,264.7 1286.7,266.1 1288.5,266.5 1287.4,267.9 1289.2,268.3 1288.0,269.7 1289.9,270.1 1288.7,271.5 1290.6,271.9 1289.4,273.3 1291.2,273.7 1290.1,275.1 1291.9,275.5 1290.7,276.9 1292.6,277.3 1291.4,278.7 1293.2,279.1 1292.0,280.5 1293.9,280.9 1292.7,282.3 1294.5,282.7 1293.3,284.1 1295.2,284.5 1294.0,285.9 1295.8,286.3 1294.6,287.7 1296.4,288.0 1295.2,289.5 1297.1,289.8 1295.9,291.3 1297.7,291.6 1296.5,293.1 1298.3,293.4 1297.1,294.9 1298.9,295.2 1297.7,296.7 1299.5,297.0 1298.3,298.5 1300.1,298.8 1298.9,300.3 1300.7,300.6 1299.5,302.0 1301.3,302.4 1300.1,303.8 1301.9,304.2 1300.7,305.6 1302.5,306.0 1301.3,307.4 1303.1,307.8 1301.9,309.2 1303.7,309.6 1302.5,311.0 1304.3,311.4 1303.1,312.8 1304.9,313.2 1303.6,314.6 1305.5,315.0 1304.2,316.4 1306.0,316.8 1304.8,318.2 1306.6,318.6 1305.4,320.0 1307.2,320.4 1305.9,321.8 1307.7,322.2 1306.5,323.6 1308.3,324.0 1307.0,325.4 1308.8,325.8 1307.6,327.2 1309.4,327.6 1308.1,329.0 1309.9,329.4 1308.7,330.8 1310.5,331.2 1309.2,332.6 1311.0,333.0 1309.8,334.4 1311.6,334.8 1310.3,336.2 1312.1,336.6 1310.8,338.0 1312.6,338.4 1311.4,339.8 1313.2,340.2 1311.9,341.6 1313.7,342.0 1312.4,343.4 1314.2,343.8 1312.9,345.2 1314.7,345.6 1313.5,347.0 1315.3,347.4 1314.0,348.7 1315.8,349.2 1314.5,350.5 1316.3,351.0 1315.0,352.3 1316.8,352.8 1315.5,354.1 1317.3,354.6 1316.0,355.9 1317.8,356.4 1316.5,357.7 1318.3,358.2 1317.0,359.5 1318.8,360.0 1317.5,361.3 1319.3,361.8 1318.0,363.1 1319.8,363.6 1318.5,364.9 1320.3,365.4 1319.0,366.7 1320.8,367.2 1319.5,368.5 1321.3,369.0 1320.0,370.3 1321.7,370.8 1320.4,372.1 1322.2,372.6 1320.9,373.9 1322.7,374.4 1321.4,375.7 1323.2,376.2 1321.9,377.5 1323.7,378.0 1322.3,379.3 1324.1,379.8 1322.8,381.1 1324.6,381.6 1323.3,382.9 1325.1,383.4 1323.7,384.7 1325.5,385.2 1324.2,386.5 1326.0,387.0 1324.7,388.3 1326.4,388.8 1325.1,390.1 1326.9,390.6 1325.6,391.9 1327.4,392.4 1326.0,393.7 1327.8,394.2 1326.5,395.5 1328.3,396.0 1326.9,397.3 1328.7,397.8 1327.4,399.1 1329.2,399.6 1327.8,400.8 1329.6,401.4 1328.3,402.6 1330.0,403.2 1328.7,404.4 1330.5,405.0 1329.2,406.2 1330.9,406.8 1329.6,408.0 1331.4,408.6 1330.0,409.8 1331.8,410.4 1330.5,411.6 1332.2,412.2 1330.9,413.4 1332.7,413.9 1331.3,415.2 1333.1,415.7 1331.7,417.0 1333.5,417.5 1332.2,418.8 1333.9,419.3 1332.6,420.6 1334.4,421.1 1333.0,422.4 1334.8,422.9 1333.4,424.2 1335.2,424.7 1333.8,426.0 1335.6,426.5 1334.3,427.8 1336.0,428.3 1334.7,429.6 1336.4,430.1 1335.1,431.4 1336.9,431.9 1335.5,433.2 1337.3,433.7 1335.9,435.0 1337.7,435.5 1336.3,436.8 1338.1,437.3 1336.7,438.6 1338.5,439.1 1337.1,440.4 1338.9,440.9 1337.5,442.2" fill="none" stroke="none" marker-start="url(#mb1)" marker-mid="url(#mb1)" marker-end="url(#mb1)"/>
<polyline points="1083.9,60.4 1086.7,62.0 1089.7,62.6 1092.3,64.3 1095.3,64.8 1097.7,66.6 1100.5,67.0 1102.7,68.9 1105.5,69.2 1107.5,71.2 1110.2,71.4 1112.0,73.5 1114.7,73.6 1116.3,75.8" fill="none" stroke="#0000ff" stroke-width="3.6"/>
<polyline points="1114.7,73.6 1116.3,75.8 1119.1,75.8 1120.4,78.1 1123.2,77.9 1124.4,80.4 1127.1,80.1 1128.2,82.7 1130.9,82.3 1131.8,85.0 1134.6,84.5 1135.3,87.3 1138.1,86.7 1138.6,89.6 1141.5,88.9 1141.9,91.9 1144.8,91.1 1145.0,94.2" fill="none" stroke="#0000ff" stroke-width="8" stroke-linejoin="round"/>
<polygon points="1132.7,75.1 1138.3,78.6 1143.7,82.1 1148.7,85.6 1153.5,89.2 1158.0,92.7 1162.3,96.3 1166.3,99.9 1170.3,103.4 1174.0,107.0 1177.6,110.5 1181.1,114.1 1184.4,117.6 1187.7,121.1 1190.8,124.7 1193.8,128.2 1196.7,131.7 1199.5,135.2 1202.2,138.7 1204.9,142.2 1207.4,145.7 1209.9,149.2 1212.4,152.7 1214.7,156.2 1217.0,159.6 1219.3,163.1 1221.5,166.6 1223.6,170.0 1225.7,173.5 1227.7,176.9 1229.7,180.4 1231.7,183.9 1233.7,187.3 1235.7,190.6 1237.6,194.0 1239.5,197.4 1241.4,200.8 1243.2,204.2 1245.0,207.6 1246.8,210.9 1248.5,214.3 1250.2,217.7 1251.9,221.1 1253.6,224.5 1255.2,227.9 1256.8,231.3 1258.3,234.6 1259.9,238.0 1261.4,241.4 1262.9,244.8 1264.3,248.2 1265.8,251.6 1267.2,255.0 1268.6,258.4 1270.0,261.7 1271.3,265.1 1272.7,268.5 1274.0,271.9 1275.3,275.3 1276.6,278.7 1277.8,282.1 1279.1,285.5 1280.3,288.8 1281.6,292.2 1282.8,295.6 1283.9,299.0 1285.1,302.4 1286.3,305.8 1287.4,309.2 1288.5,312.6 1289.7,315.9 1290.8,319.3 1291.9,322.7 1292.9,326.1 1294.0,329.5 1295.1,332.9 1296.1,336.3 1297.1,339.7 1298.1,343.0 1299.2,346.4 1300.2,349.8 1301.1,353.2 1302.1,356.6 1303.1,360.0 1304.0,363.4 1305.0,366.7 1305.9,370.1 1306.9,373.5 1307.8,376.9 1308.7,380.3 1309.6,383.7 1310.5,387.0 1311.4,390.4 1312.2,393.8 1313.1,397.2 1314.0,400.6 1314.8,404.0 1315.7,407.3 1316.5,410.7 1317.3,414.1 1318.2,417.5 1319.0,420.9 1319.8,424.3 1320.6,427.6 1321.4,431.0 1322.2,434.4 1322.9,437.8 1323.7,441.2 1324.5,444.6 1308.1,448.2 1307.4,444.8 1306.6,441.5 1305.9,438.1 1305.1,434.8 1304.3,431.4 1303.5,428.1 1302.7,424.7 1301.9,421.4 1301.1,418.0 1300.3,414.7 1299.5,411.3 1298.6,408.0 1297.8,404.6 1297.0,401.3 1296.1,397.9 1295.3,394.6 1294.4,391.2 1293.5,387.9 1292.6,384.5 1291.7,381.2 1290.8,377.8 1289.9,374.5 1289.0,371.1 1288.1,367.8 1287.2,364.4 1286.2,361.1 1285.3,357.7 1284.3,354.4 1283.3,351.0 1282.3,347.7 1281.3,344.3 1280.3,341.0 1279.3,337.7 1278.3,334.3 1277.3,331.0 1276.2,327.6 1275.1,324.3 1274.1,321.0 1273.0,317.6 1271.9,314.3 1270.8,310.9 1269.7,307.6 1268.5,304.3 1267.4,300.9 1266.2,297.6 1265.0,294.3 1263.8,290.9 1262.6,287.6 1261.4,284.3 1260.2,280.9 1258.9,277.6 1257.6,274.3 1256.3,270.9 1255.0,267.6 1253.7,264.3 1252.4,261.0 1251.0,257.6 1249.6,254.3 1248.2,251.0 1246.8,247.7 1245.4,244.4 1243.9,241.0 1242.4,237.7 1240.9,234.4 1239.3,231.1 1237.8,227.8 1236.2,224.5 1234.6,221.2 1232.9,217.9 1231.3,214.6 1229.6,211.3 1227.8,207.9 1226.1,204.6 1224.3,201.3 1222.4,198.0 1220.6,194.7 1218.7,191.5 1216.7,188.2 1214.7,184.9 1212.7,181.6 1210.6,178.3 1208.5,175.0 1206.4,171.7 1204.2,168.4 1201.9,165.2 1199.6,161.9 1197.2,158.6 1194.8,155.3 1192.3,152.0 1189.7,148.8 1187.0,145.5 1184.3,142.2 1181.5,138.9 1178.6,135.7 1175.7,132.4 1172.6,129.1 1169.4,125.8 1166.1,122.6 1162.7,119.3 1159.1,116.0 1155.4,112.7 1151.6,109.4 1147.5,106.1 1143.3,102.8 1138.9,99.5 1134.3,96.1 1129.4,92.6 1124.3,89.2" fill="#0000ff"/>
<polyline points="761.8,26.9 826.8,28.0 864.8,29.1 891.8,30.3 912.7,31.4 929.8,32.5 944.3,33.6 956.8,34.8 967.8,35.9 977.7,37.0 986.6,38.1 994.8,39.3 1002.3,40.4 1009.2,41.5 1015.7,42.6 1021.8,43.8 1027.5,44.9 1032.8,46.0 1037.9,47.1 1042.7,48.3 1047.3,49.4 1051.6,50.5 1055.8,51.6 1059.8,52.8 1063.6,53.9 1067.3,55.0 1070.9,56.1 1074.2,57.3 1077.6,58.2 1080.7,59.7 1083.9,60.4 1086.7,62.0 1089.7,62.6 1092.3,64.3 1095.3,64.8 1097.7,66.6 1100.5,67.0 1102.7,68.9 1105.5,69.2 1107.5,71.2 1110.2,71.4 1112.0,73.5 1114.7,73.6 1116.3,75.8 1119.1,75.8 1120.4,78.1 1123.2,77.9 1124.4,80.4 1127.1,80.1 1128.2,82.7 1130.9,82.3 1131.8,85.0 1134.6,84.5 1135.3,87.3 1138.1,86.7 1138.6,89.6 1141.5,88.9 1141.9,91.9 1144.8,91.1 1145.0,94.2 1148.0,93.4 1148.1,96.4 1151.0,95.6 1151.0,98.7 1153.9,97.9 1153.9,100.9 1156.8,100.2 1156.7,103.1 1159.6,102.4 1159.4,105.4 1162.3,104.7 1162.0,107.6 1164.9,106.9 1164.6,109.9 1167.4,109.2 1167.1,112.1 1169.9,111.4 1169.5,114.3 1172.3,113.7 1171.8,116.6 1174.7,116.0 1174.2,118.8 1177.0,118.2 1176.4,121.0 1179.2,120.5 1178.6,123.3 1181.4,122.7 1180.7,125.5 1183.5,125.0 1182.8,127.8 1185.6,127.3 1184.9,130.0 1187.7,129.5 1186.9,132.2 1189.7,131.8 1188.9,134.5 1191.7,134.0 1190.8,136.7 1193.6,136.3 1192.7,138.9 1195.5,138.5 1194.5,141.2 1197.3,140.8 1196.3,143.4 1199.1,143.1 1198.1,145.7 1200.9,145.3 1199.9,147.9 1202.6,147.6 1201.6,150.1 1204.3,149.8 1203.3,152.4 1206.0,152.1 1204.9,154.6 1207.7,154.3 1206.5,156.9 1209.3,156.6 1208.1,159.1 1210.9,158.8 1209.7,161.3 1212.5,161.1 1211.3,163.6 1214.0,163.4 1212.8,165.8 1215.5,165.6 1214.3,168.1 1217.0,167.9 1215.7,170.3 1218.5,170.1 1217.2,172.5 1219.9,172.4 1218.6,174.8 1221.4,174.6 1220.0,177.0 1222.8,176.9 1221.4,179.3 1224.1,179.1 1222.8,181.5 1225.5,181.4 1224.1,183.8 1226.8,183.7 1225.4,186.0 1228.2,185.9 1226.8,188.2 1229.5,188.2 1228.0,190.5 1230.8,190.4 1229.3,192.7 1232.0,192.7 1230.6,195.0 1233.3,194.9 1231.8,197.2 1234.5,197.2 1233.0,199.4 1235.7,199.4 1234.2,201.7 1237.0,201.7 1235.4,203.9 1238.1,203.9 1236.6,206.2 1239.3,206.2 1237.8,208.4 1240.5,208.4 1238.9,210.7 1241.6,210.7 1240.0,212.9 1242.8,213.0 1241.2,215.1 1243.9,215.2 1242.3,217.4 1245.0,217.5 1243.4,219.6 1246.1,219.7 1244.5,221.9 1247.2,222.0 1245.5,224.1 1248.2,224.2 1246.6,226.4 1249.3,226.5 1247.6,228.6 1250.3,228.7 1248.7,230.9 1251.4,231.0 1249.7,233.1 1252.4,233.2 1250.7,235.3 1253.4,235.5 1251.7,237.6 1254.4,237.7 1252.7,239.8 1255.4,240.0 1253.7,242.1 1256.4,242.2 1254.6,244.3 1257.3,244.5 1255.6,246.6 1258.3,246.7 1256.5,248.8 1259.2,249.0 1257.5,251.0 1260.2,251.2 1258.4,253.3 1261.1,253.5 1259.3,255.5 1262.0,255.8 1260.3,257.8 1262.9,258.0 1261.2,260.0 1263.8,260.3 1262.1,262.3 1264.7,262.5 1262.9,264.5 1265.6,264.8 1263.8,266.8 1266.5,267.0 1264.7,269.0 1267.4,269.3 1265.6,271.2 1268.2,271.5 1266.4,273.5 1269.1,273.8 1267.3,275.7 1269.9,276.0 1268.1,278.0 1270.8,278.3 1268.9,280.2 1271.6,280.5 1269.8,282.5 1272.4,282.8 1270.6,284.7 1273.2,285.0 1271.4,287.0 1274.0,287.3 1272.2,289.2 1274.8,289.5 1273.0,291.4 1275.6,291.8 1273.8,293.7 1276.4,294.0 1274.6,295.9 1277.2,296.3 1275.3,298.2 1278.0,298.5 1276.1,300.4 1278.8,300.8 1276.9,302.7 1279.5,303.0 1277.6,304.9 1280.3,305.3 1278.4,307.2 1281.0,307.5 1279.1,309.4 1281.8,309.8 1279.9,311.7 1282.5,312.0 1280.6,313.9 1283.2,314.3 1281.3,316.1 1284.0,316.5 1282.1,318.4 1284.7,318.8 1282.8,320.6 1285.4,321.0 1283.5,322.9 1286.1,323.3 1284.2,325.1 1286.8,325.5 1284.9,327.4 1287.5,327.8 1285.6,329.6 1288.2,330.0 1286.3,331.9 1288.9,332.3 1287.0,334.1 1289.6,334.5 1287.6,336.4 1290.3,336.8 1288.3,338.6 1291.0,339.0 1289.0,340.8 1291.6,341.3 1289.7,343.1 1292.3,343.5 1290.3,345.3 1293.0,345.8 1291.0,347.6 1293.6,348.0 1291.6,349.8 1294.3,350.3 1292.3,352.1 1294.9,352.5 1292.9,354.3 1295.6,354.8 1293.6,356.6 1296.2,357.0 1294.2,358.8 1296.8,359.3 1294.8,361.1 1297.5,361.5 1295.5,363.3 1298.1,363.8 1296.1,365.6 1298.7,366.0 1296.7,367.8 1299.3,368.3 1297.3,370.0 1299.9,370.5 1297.9,372.3 1300.5,372.8 1298.5,374.5 1301.1,375.0 1299.1,376.8 1301.7,377.3 1299.7,379.0 1302.3,379.5 1300.3,381.3 1302.9,381.8 1300.9,383.5 1303.5,384.0 1301.5,385.8 1304.1,386.3 1302.1,388.0 1304.7,388.5 1302.7,390.3 1305.3,390.8 1303.2,392.5 1305.9,393.0 1303.8,394.8 1306.4,395.3 1304.4,397.0 1307.0,397.5 1304.9,399.2 1307.6,399.8 1305.5,401.5 1308.1,402.0 1306.1,403.7 1308.7,404.3 1306.6,406.0 1309.2,406.5 1307.2,408.2 1309.8,408.8 1307.7,410.5 1310.3,411.0 1308.3,412.7 1310.9,413.3 1308.8,415.0 1311.4,415.5 1309.4,417.2 1312.0,417.8 1309.9,419.5 1312.5,420.0 1310.4,421.7 1313.0,422.3 1311.0,424.0 1313.6,424.5 1311.5,426.2 1314.1,426.8 1312.0,428.5 1314.6,429.0 1312.5,430.7 1315.1,431.3 1313.1,432.9 1315.7,433.5 1313.6,435.2 1316.2,435.8 1314.1,437.4 1316.7,438.0 1314.6,439.7 1317.2,440.3 1315.1,441.9" fill="none" stroke="#0000ff" stroke-width="3.2" stroke-linejoin="round"/>
<polyline points="761.8,26.9 826.8,28.0 864.8,29.1 891.8,30.3 912.7,31.4 929.8,32.5 944.3,33.6 956.8,34.8 967.8,35.9 977.7,37.0 986.6,38.1 994.8,39.3 1002.3,40.4 1009.2,41.5 1015.7,42.6 1021.8,43.8 1027.5,44.9 1032.8,46.0 1037.9,47.1 1042.7,48.3 1047.3,49.4 1051.6,50.5 1055.8,51.6 1059.8,52.8 1063.6,53.9 1067.3,55.0 1070.9,56.1 1074.2,57.3 1077.6,58.2 1080.7,59.7 1083.9,60.4 1086.7,62.0 1089.7,62.6 1092.3,64.3 1095.3,64.8 1097.7,66.6 1100.5,67.0 1102.7,68.9 1105.5,69.2 1107.5,71.2 1110.2,71.4 1112.0,73.5 1114.7,73.6 1116.3,75.8 1119.1,75.8 1120.4,78.1 1123.2,77.9 1124.4,80.4 1127.1,80.1 1128.2,82.7 1130.9,82.3 1131.8,85.0 1134.6,84.5 1135.3,87.3 1138.1,86.7 1138.6,89.6 1141.5,88.9 1141.9,91.9 1144.8,91.1 1145.0,94.2 1148.0,93.4 1148.1,96.4 1151.0,95.6 1151.0,98.7 1153.9,97.9 1153.9,100.9 1156.8,100.2 1156.7,103.1 1159.6,102.4 1159.4,105.4 1162.3,104.7 1162.0,107.6 1164.9,106.9 1164.6,109.9 1167.4,109.2 1167.1,112.1 1169.9,111.4 1169.5,114.3 1172.3,113.7 1171.8,116.6 1174.7,116.0 1174.2,118.8 1177.0,118.2 1176.4,121.0 1179.2,120.5 1178.6,123.3 1181.4,122.7 1180.7,125.5 1183.5,125.0 1182.8,127.8 1185.6,127.3 1184.9,130.0 1187.7,129.5 1186.9,132.2 1189.7,131.8 1188.9,134.5 1191.7,134.0 1190.8,136.7 1193.6,136.3 1192.7,138.9 1195.5,138.5 1194.5,141.2 1197.3,140.8 1196.3,143.4 1199.1,143.1 1198.1,145.7 1200.9,145.3 1199.9,147.9 1202.6,147.6 1201.6,150.1 1204.3,149.8 1203.3,152.4 1206.0,152.1 1204.9,154.6 1207.7,154.3 1206.5,156.9 1209.3,156.6 1208.1,159.1 1210.9,158.8 1209.7,161.3 1212.5,161.1 1211.3,163.6 1214.0,163.4 1212.8,165.8 1215.5,165.6 1214.3,168.1 1217.0,167.9 1215.7,170.3 1218.5,170.1 1217.2,172.5 1219.9,172.4 1218.6,174.8 1221.4,174.6 1220.0,177.0 1222.8,176.9 1221.4,179.3 1224.1,179.1 1222.8,181.5 1225.5,181.4 1224.1,183.8 1226.8,183.7 1225.4,186.0 1228.2,185.9 1226.8,188.2 1229.5,188.2 1228.0,190.5 1230.8,190.4 1229.3,192.7 1232.0,192.7 1230.6,195.0 1233.3,194.9 1231.8,197.2 1234.5,197.2 1233.0,199.4 1235.7,199.4 1234.2,201.7 1237.0,201.7 1235.4,203.9 1238.1,203.9 1236.6,206.2 1239.3,206.2 1237.8,208.4 1240.5,208.4 1238.9,210.7 1241.6,210.7 1240.0,212.9 1242.8,213.0 1241.2,215.1 1243.9,215.2 1242.3,217.4 1245.0,217.5 1243.4,219.6 1246.1,219.7 1244.5,221.9 1247.2,222.0 1245.5,224.1 1248.2,224.2 1246.6,226.4 1249.3,226.5 1247.6,228.6 1250.3,228.7 1248.7,230.9 1251.4,231.0 1249.7,233.1 1252.4,233.2 1250.7,235.3 1253.4,235.5 1251.7,237.6 1254.4,237.7 1252.7,239.8 1255.4,240.0 1253.7,242.1 1256.4,242.2 1254.6,244.3 1257.3,244.5 1255.6,246.6 1258.3,246.7 1256.5,248.8 1259.2,249.0 1257.5,251.0 1260.2,251.2 1258.4,253.3 1261.1,253.5 1259.3,255.5 1262.0,255.8 1260.3,257.8 1262.9,258.0 1261.2,260.0 1263.8,260.3 1262.1,262.3 1264.7,262.5 1262.9,264.5 1265.6,264.8 1263.8,266.8 1266.5,267.0 1264.7,269.0 1267.4,269.3 1265.6,271.2 1268.2,271.5 1266.4,273.5 1269.1,273.8 1267.3,275.7 1269.9,276.0 1268.1,278.0 1270.8,278.3 1268.9,280.2 1271.6,280.5 1269.8,282.5 1272.4,282.8 1270.6,284.7 1273.2,285.0 1271.4,287.0 1274.0,287.3 1272.2,289.2 1274.8,289.5 1273.0,291.4 1275.6,291.8 1273.8,293.7 1276.4,294.0 1274.6,295.9 1277.2,296.3 1275.3,298.2 1278.0,298.5 1276.1,300.4 1278.8,300.8 1276.9,302.7 1279.5,303.0 1277.6,304.9 1280.3,305.3 1278.4,307.2 1281.0,307.5 1279.1,309.4 1281.8,309.8 1279.9,311.7 1282.5,312.0 1280.6,313.9 1283.2,314.3 1281.3,316.1 1284.0,316.5 1282.1,318.4 1284.7,318.8 1282.8,320.6 1285.4,321.0 1283.5,322.9 1286.1,323.3 1284.2,325.1 1286.8,325.5 1284.9,327.4 1287.5,327.8 1285.6,329.6 1288.2,330.0 1286.3,331.9 1288.9,332.3 1287.0,334.1 1289.6,334.5 1287.6,336.4 1290.3,336.8 1288.3,338.6 1291.0,339.0 1289.0,340.8 1291.6,341.3 1289.7,343.1 1292.3,343.5 1290.3,345.3 1293.0,345.8 1291.0,347.6 1293.6,348.0 1291.6,349.8 1294.3,350.3 1292.3,352.1 1294.9,352.5 1292.9,354.3 1295.6,354.8 1293.6,356.6 1296.2,357.0 1294.2,358.8 1296.8,359.3 1294.8,361.1 1297.5,361.5 1295.5,363.3 1298.1,363.8 1296.1,365.6 1298.7,366.0 1296.7,367.8 1299.3,368.3 1297.3,370.0 1299.9,370.5 1297.9,372.3 1300.5,372.8 1298.5,374.5 1301.1,375.0 1299.1,376.8 1301.7,377.3 1299.7,379.0 1302.3,379.5 1300.3,381.3 1302.9,381.8 1300.9,383.5 1303.5,384.0 1301.5,385.8 1304.1,386.3 1302.1,388.0 1304.7,388.5 1302.7,390.3 1305.3,390.8 1303.2,392.5 1305.9,393.0 1303.8,394.8 1306.4,395.3 1304.4,397.0 1307.0,397.5 1304.9,399.2 1307.6,399.8 1305.5,401.5 1308.1,402.0 1306.1,403.7 1308.7,404.3 1306.6,406.0 1309.2,406.5 1307.2,408.2 1309.8,408.8 1307.7,410.5 1310.3,411.0 1308.3,412.7 1310.9,413.3 1308.8,415.0 1311.4,415.5 1309.4,417.2 1312.0,417.8 1309.9,419.5 1312.5,420.0 1310.4,421.7 1313.0,422.3 1311.0,424.0 1313.6,424.5 1311.5,426.2 1314.1,426.8 1312.0,428.5 1314.6,429.0 1312.5,430.7 1315.1,431.3 1313.1,432.9 1315.7,433.5 1313.6,435.2 1316.2,435.8 1314.1,437.4 1316.7,438.0 1314.6,439.7 1317.2,440.3 1315.1,441.9" fill="none" stroke="none" marker-start="url(#mb2)" marker-mid="url(#mb2)" marker-end="url(#mb2)"/>
<polyline points="1083.9,76.4 1086.6,78.2 1089.8,78.8 1092.3,80.7 1095.3,81.1 1097.6,83.2 1100.6,83.5 1102.6,85.7 1105.6,85.9 1107.4,88.2 1110.3,88.2 1111.9,90.7 1114.8,90.6 1116.2,93.2" fill="none" stroke="#ff00ff" stroke-width="3.6"/>
<polyline points="1114.8,90.6 1116.2,93.2 1119.2,92.9 1120.3,95.7 1123.3,95.3 1124.3,98.2 1127.3,97.7 1128.0,100.7 1131.1,100.0 1131.6,103.1 1134.8,102.4 1135.1,105.6 1138.3,104.8 1138.5,108.1 1141.7,107.2 1141.7,110.6 1145.0,109.5 1144.8,113.1" fill="none" stroke="#ff00ff" stroke-width="8" stroke-linejoin="round"/>
<polygon points="1133.4,92.4 1139.2,96.0 1144.7,99.6 1149.9,103.2 1154.8,106.9 1159.4,110.6 1163.8,114.4 1168.1,118.1 1172.1,121.9 1176.0,125.6 1179.8,129.4 1183.4,133.1 1186.9,136.9 1190.2,140.6 1193.4,144.4 1196.6,148.1 1199.6,151.9 1202.5,155.6 1205.4,159.4 1208.1,163.1 1210.8,166.9 1213.4,170.6 1215.9,174.4 1218.4,178.1 1220.8,181.9 1223.1,185.6 1225.4,189.3 1227.6,193.1 1229.8,196.8 1231.9,200.5 1234.0,204.2 1236.0,208.0 1238.0,211.7 1240.0,215.4 1241.9,219.1 1243.7,222.9 1245.5,226.6 1247.3,230.3 1249.1,234.0 1250.8,237.7 1252.5,241.4 1254.2,245.1 1255.8,248.8 1257.4,252.5 1259.0,256.3 1260.5,260.0 1262.0,263.7 1263.5,267.4 1265.0,271.1 1266.5,274.7 1267.9,278.4 1269.3,282.1 1270.7,285.8 1272.1,289.5 1273.4,293.2 1274.7,296.9 1276.0,300.6 1277.3,304.3 1278.6,308.0 1279.8,311.7 1281.1,315.3 1282.3,319.0 1283.5,322.7 1284.7,326.4 1285.9,330.1 1287.0,333.8 1288.2,337.4 1289.3,341.1 1290.4,344.8 1291.5,348.5 1292.6,352.1 1293.7,355.8 1294.8,359.5 1295.8,363.2 1296.9,366.9 1297.9,370.5 1298.9,374.2 1299.9,377.9 1300.9,381.5 1301.9,385.2 1302.9,388.9 1303.8,392.6 1304.8,396.2 1305.7,399.9 1306.7,403.6 1307.6,407.2 1308.5,410.9 1309.4,414.6 1310.3,418.2 1311.2,421.9 1312.1,425.6 1313.0,429.2 1313.8,432.9 1314.7,436.6 1315.5,440.2 1316.4,443.9 1299.5,447.8 1298.7,444.2 1297.9,440.5 1297.0,436.9 1296.2,433.3 1295.3,429.6 1294.4,426.0 1293.6,422.4 1292.7,418.7 1291.8,415.1 1290.9,411.5 1290.0,407.8 1289.1,404.2 1288.1,400.6 1287.2,396.9 1286.3,393.3 1285.3,389.7 1284.3,386.0 1283.4,382.4 1282.4,378.8 1281.4,375.2 1280.4,371.5 1279.4,367.9 1278.3,364.3 1277.3,360.6 1276.3,357.0 1275.2,353.4 1274.1,349.7 1273.0,346.1 1271.9,342.5 1270.8,338.9 1269.7,335.2 1268.6,331.6 1267.4,328.0 1266.2,324.3 1265.1,320.7 1263.9,317.1 1262.6,313.5 1261.4,309.8 1260.2,306.2 1258.9,302.6 1257.6,299.0 1256.3,295.3 1255.0,291.7 1253.7,288.1 1252.3,284.4 1251.0,280.8 1249.6,277.2 1248.2,273.6 1246.7,269.9 1245.3,266.3 1243.8,262.7 1242.3,259.1 1240.8,255.4 1239.2,251.8 1237.6,248.2 1236.0,244.6 1234.4,240.9 1232.7,237.3 1231.0,233.7 1229.3,230.0 1227.5,226.4 1225.7,222.8 1223.9,219.1 1222.1,215.5 1220.1,211.9 1218.2,208.2 1216.2,204.6 1214.1,201.0 1211.9,197.5 1209.6,193.9 1207.3,190.4 1204.9,186.8 1202.5,183.3 1200.0,179.8 1197.5,176.2 1194.9,172.7 1192.2,169.2 1189.4,165.7 1186.5,162.2 1183.6,158.6 1180.6,155.2 1177.5,151.7 1174.3,148.2 1170.9,144.7 1167.5,141.2 1163.9,137.8 1160.2,134.3 1156.4,130.9 1152.3,127.4 1148.2,124.0 1143.8,120.5 1139.2,117.1 1134.5,113.6 1129.5,110.0 1124.2,106.5" fill="#ff00ff"/>
<polyline points="761.8,40.2 826.8,41.4 864.8,42.6 891.8,43.9 912.7,45.1 929.8,46.3 944.3,47.5 956.8,48.7 967.8,49.9 977.7,51.2 986.6,52.4 994.8,53.6 1002.3,54.8 1009.2,56.0 1015.7,57.2 1021.8,58.4 1027.5,59.7 1032.8,60.9 1037.9,62.1 1042.7,63.3 1047.3,64.5 1051.6,65.7 1055.8,67.0 1059.8,68.2 1063.6,69.4 1067.3,70.6 1070.9,71.7 1074.2,73.1 1077.6,74.1 1080.6,75.7 1083.9,76.4 1086.6,78.2 1089.8,78.8 1092.3,80.7 1095.3,81.1 1097.6,83.2 1100.6,83.5 1102.6,85.7 1105.6,85.9 1107.4,88.2 1110.3,88.2 1111.9,90.7 1114.8,90.6 1116.2,93.2 1119.2,92.9 1120.3,95.7 1123.3,95.3 1124.3,98.2 1127.3,97.7 1128.0,100.7 1131.1,100.0 1131.6,103.1 1134.8,102.4 1135.1,105.6 1138.3,104.8 1138.5,108.1 1141.7,107.2 1141.7,110.6 1145.0,109.5 1144.8,113.1 1148.2,112.0 1147.8,115.5 1151.2,114.4 1150.8,117.9 1154.2,116.8 1153.7,120.3 1157.0,119.3 1156.4,122.8 1159.8,121.7 1159.1,125.2 1162.5,124.2 1161.8,127.6 1165.1,126.6 1164.3,130.0 1167.7,129.1 1166.8,132.4 1170.2,131.5 1169.2,134.8 1172.6,134.0 1171.6,137.3 1174.9,136.4 1173.9,139.7 1177.2,138.8 1176.1,142.1 1179.5,141.3 1178.3,144.5 1181.7,143.7 1180.5,146.9 1183.8,146.2 1182.6,149.3 1185.9,148.6 1184.6,151.8 1187.9,151.1 1186.6,154.2 1190.0,153.5 1188.6,156.6 1191.9,155.9 1190.5,159.0 1193.8,158.4 1192.4,161.4 1195.7,160.8 1194.3,163.9 1197.6,163.3 1196.1,166.3 1199.4,165.7 1197.9,168.7 1201.2,168.1 1199.6,171.1 1202.9,170.6 1201.3,173.5 1204.6,173.0 1203.0,176.0 1206.3,175.5 1204.6,178.4 1208.0,177.9 1206.3,180.8 1209.6,180.4 1207.9,183.2 1211.2,182.8 1209.4,185.6 1212.7,185.2 1211.0,188.1 1214.3,187.7 1212.5,190.5 1215.8,190.1 1214.0,192.9 1217.3,192.5 1215.5,195.3 1218.8,195.0 1216.9,197.7 1220.2,197.4 1218.3,200.2 1221.6,199.9 1219.7,202.6 1223.0,202.3 1221.1,205.0 1224.4,204.7 1222.5,207.4 1225.8,207.2 1223.8,209.8 1227.1,209.6 1225.2,212.3 1228.5,212.1 1226.5,214.7 1229.8,214.5 1227.8,217.1 1231.1,216.9 1229.0,219.5 1232.3,219.4 1230.3,222.0 1233.6,221.8 1231.5,224.4 1234.8,224.2 1232.7,226.8 1236.0,226.7 1234.0,229.2 1237.2,229.1 1235.1,231.7 1238.4,231.6 1236.3,234.1 1239.6,234.0 1237.5,236.5 1240.8,236.4 1238.6,238.9 1241.9,238.9 1239.8,241.4 1243.0,241.3 1240.9,243.8 1244.2,243.7 1242.0,246.2 1245.3,246.2 1243.1,248.6 1246.4,248.6 1244.2,251.0 1247.4,251.1 1245.2,253.5 1248.5,253.5 1246.3,255.9 1249.6,255.9 1247.3,258.3 1250.6,258.4 1248.4,260.7 1251.6,260.8 1249.4,263.2 1252.7,263.2 1250.4,265.6 1253.7,265.7 1251.4,268.0 1254.7,268.1 1252.4,270.4 1255.7,270.5 1253.4,272.9 1256.6,273.0 1254.3,275.3 1257.6,275.4 1255.3,277.7 1258.6,277.8 1256.3,280.2 1259.5,280.3 1257.2,282.6 1260.5,282.7 1258.1,285.0 1261.4,285.1 1259.0,287.4 1262.3,287.6 1260.0,289.9 1263.2,290.0 1260.9,292.3 1264.1,292.5 1261.8,294.7 1265.0,294.9 1262.6,297.1 1265.9,297.3 1263.5,299.6 1266.8,299.8 1264.4,302.0 1267.7,302.2 1265.3,304.4 1268.5,304.6 1266.1,306.8 1269.4,307.1 1267.0,309.3 1270.2,309.5 1267.8,311.7 1271.1,311.9 1268.6,314.1 1271.9,314.4 1269.5,316.5 1272.7,316.8 1270.3,319.0 1273.5,319.2 1271.1,321.4 1274.3,321.7 1271.9,323.8 1275.1,324.1 1272.7,326.2 1275.9,326.5 1273.5,328.7 1276.7,329.0 1274.3,331.1 1277.5,331.4 1275.0,333.5 1278.3,333.8 1275.8,336.0 1279.1,336.3 1276.6,338.4 1279.8,338.7 1277.3,340.8 1280.6,341.1 1278.1,343.2 1281.3,343.6 1278.8,345.7 1282.1,346.0 1279.6,348.1 1282.8,348.4 1280.3,350.5 1283.5,350.9 1281.0,352.9 1284.3,353.3 1281.8,355.4 1285.0,355.7 1282.5,357.8 1285.7,358.2 1283.2,360.2 1286.4,360.6 1283.9,362.7 1287.1,363.0 1284.6,365.1 1287.8,365.5 1285.3,367.5 1288.5,367.9 1286.0,369.9 1289.2,370.3 1286.7,372.4 1289.9,372.8 1287.3,374.8 1290.6,375.2 1288.0,377.2 1291.3,377.6 1288.7,379.6 1291.9,380.1 1289.4,382.1 1292.6,382.5 1290.0,384.5 1293.2,384.9 1290.7,386.9 1293.9,387.4 1291.3,389.4 1294.6,389.8 1292.0,391.8 1295.2,392.2 1292.6,394.2 1295.8,394.7 1293.3,396.6 1296.5,397.1 1293.9,399.1 1297.1,399.5 1294.5,401.5 1297.7,402.0 1295.2,403.9 1298.4,404.4 1295.8,406.4 1299.0,406.8 1296.4,408.8 1299.6,409.3 1297.0,411.2 1300.2,411.7 1297.6,413.6 1300.8,414.1 1298.2,416.1 1301.4,416.6 1298.8,418.5 1302.0,419.0 1299.4,420.9 1302.6,421.4 1300.0,423.4 1303.2,423.9 1300.6,425.8 1303.8,426.3 1301.2,428.2 1304.4,428.7 1301.8,430.6 1305.0,431.2 1302.4,433.1 1305.6,433.6 1302.9,435.5 1306.2,436.0 1303.5,437.9 1306.7,438.5 1304.1,440.4 1307.3,440.9 1304.7,442.8" fill="none" stroke="#ff00ff" stroke-width="6.0" stroke-linejoin="round"/>
<polyline points="761.8,40.2 826.8,41.4 864.8,42.6 891.8,43.9 912.7,45.1 929.8,46.3 944.3,47.5 956.8,48.7 967.8,49.9 977.7,51.2 986.6,52.4 994.8,53.6 1002.3,54.8 1009.2,56.0 1015.7,57.2 1021.8,58.4 1027.5,59.7 1032.8,60.9 1037.9,62.1 1042.7,63.3 1047.3,64.5 1051.6,65.7 1055.8,67.0 1059.8,68.2 1063.6,69.4 1067.3,70.6 1070.9,71.7 1074.2,73.1 1077.6,74.1 1080.6,75.7 1083.9,76.4 1086.6,78.2 1089.8,78.8 1092.3,80.7 1095.3,81.1 1097.6,83.2 1100.6,83.5 1102.6,85.7 1105.6,85.9 1107.4,88.2 1110.3,88.2 1111.9,90.7 1114.8,90.6 1116.2,93.2 1119.2,92.9 1120.3,95.7 1123.3,95.3 1124.3,98.2 1127.3,97.7 1128.0,100.7 1131.1,100.0 1131.6,103.1 1134.8,102.4 1135.1,105.6 1138.3,104.8 1138.5,108.1 1141.7,107.2 1141.7,110.6 1145.0,109.5 1144.8,113.1 1148.2,112.0 1147.8,115.5 1151.2,114.4 1150.8,117.9 1154.2,116.8 1153.7,120.3 1157.0,119.3 1156.4,122.8 1159.8,121.7 1159.1,125.2 1162.5,124.2 1161.8,127.6 1165.1,126.6 1164.3,130.0 1167.7,129.1 1166.8,132.4 1170.2,131.5 1169.2,134.8 1172.6,134.0 1171.6,137.3 1174.9,136.4 1173.9,139.7 1177.2,138.8 1176.1,142.1 1179.5,141.3 1178.3,144.5 1181.7,143.7 1180.5,146.9 1183.8,146.2 1182.6,149.3 1185.9,148.6 1184.6,151.8 1187.9,151.1 1186.6,154.2 1190.0,153.5 1188.6,156.6 1191.9,155.9 1190.5,159.0 1193.8,158.4 1192.4,161.4 1195.7,160.8 1194.3,163.9 1197.6,163.3 1196.1,166.3 1199.4,165.7 1197.9,168.7 1201.2,168.1 1199.6,171.1 1202.9,170.6 1201.3,173.5 1204.6,173.0 1203.0,176.0 1206.3,175.5 1204.6,178.4 1208.0,177.9 1206.3,180.8 1209.6,180.4 1207.9,183.2 1211.2,182.8 1209.4,185.6 1212.7,185.2 1211.0,188.1 1214.3,187.7 1212.5,190.5 1215.8,190.1 1214.0,192.9 1217.3,192.5 1215.5,195.3 1218.8,195.0 1216.9,197.7 1220.2,197.4 1218.3,200.2 1221.6,199.9 1219.7,202.6 1223.0,202.3 1221.1,205.0 1224.4,204.7 1222.5,207.4 1225.8,207.2 1223.8,209.8 1227.1,209.6 1225.2,212.3 1228.5,212.1 1226.5,214.7 1229.8,214.5 1227.8,217.1 1231.1,216.9 1229.0,219.5 1232.3,219.4 1230.3,222.0 1233.6,221.8 1231.5,224.4 1234.8,224.2 1232.7,226.8 1236.0,226.7 1234.0,229.2 1237.2,229.1 1235.1,231.7 1238.4,231.6 1236.3,234.1 1239.6,234.0 1237.5,236.5 1240.8,236.4 1238.6,238.9 1241.9,238.9 1239.8,241.4 1243.0,241.3 1240.9,243.8 1244.2,243.7 1242.0,246.2 1245.3,246.2 1243.1,248.6 1246.4,248.6 1244.2,251.0 1247.4,251.1 1245.2,253.5 1248.5,253.5 1246.3,255.9 1249.6,255.9 1247.3,258.3 1250.6,258.4 1248.4,260.7 1251.6,260.8 1249.4,263.2 1252.7,263.2 1250.4,265.6 1253.7,265.7 1251.4,268.0 1254.7,268.1 1252.4,270.4 1255.7,270.5 1253.4,272.9 1256.6,273.0 1254.3,275.3 1257.6,275.4 1255.3,277.7 1258.6,277.8 1256.3,280.2 1259.5,280.3 1257.2,282.6 1260.5,282.7 1258.1,285.0 1261.4,285.1 1259.0,287.4 1262.3,287.6 1260.0,289.9 1263.2,290.0 1260.9,292.3 1264.1,292.5 1261.8,294.7 1265.0,294.9 1262.6,297.1 1265.9,297.3 1263.5,299.6 1266.8,299.8 1264.4,302.0 1267.7,302.2 1265.3,304.4 1268.5,304.6 1266.1,306.8 1269.4,307.1 1267.0,309.3 1270.2,309.5 1267.8,311.7 1271.1,311.9 1268.6,314.1 1271.9,314.4 1269.5,316.5 1272.7,316.8 1270.3,319.0 1273.5,319.2 1271.1,321.4 1274.3,321.7 1271.9,323.8 1275.1,324.1 1272.7,326.2 1275.9,326.5 1273.5,328.7 1276.7,329.0 1274.3,331.1 1277.5,331.4 1275.0,333.5 1278.3,333.8 1275.8,336.0 1279.1,336.3 1276.6,338.4 1279.8,338.7 1277.3,340.8 1280.6,341.1 1278.1,343.2 1281.3,343.6 1278.8,345.7 1282.1,346.0 1279.6,348.1 1282.8,348.4 1280.3,350.5 1283.5,350.9 1281.0,352.9 1284.3,353.3 1281.8,355.4 1285.0,355.7 1282.5,357.8 1285.7,358.2 1283.2,360.2 1286.4,360.6 1283.9,362.7 1287.1,363.0 1284.6,365.1 1287.8,365.5 1285.3,367.5 1288.5,367.9 1286.0,369.9 1289.2,370.3 1286.7,372.4 1289.9,372.8 1287.3,374.8 1290.6,375.2 1288.0,377.2 1291.3,377.6 1288.7,379.6 1291.9,380.1 1289.4,382.1 1292.6,382.5 1290.0,384.5 1293.2,384.9 1290.7,386.9 1293.9,387.4 1291.3,389.4 1294.6,389.8 1292.0,391.8 1295.2,392.2 1292.6,394.2 1295.8,394.7 1293.3,396.6 1296.5,397.1 1293.9,399.1 1297.1,399.5 1294.5,401.5 1297.7,402.0 1295.2,403.9 1298.4,404.4 1295.8,406.4 1299.0,406.8 1296.4,408.8 1299.6,409.3 1297.0,411.2 1300.2,411.7 1297.6,413.6 1300.8,414.1 1298.2,416.1 1301.4,416.6 1298.8,418.5 1302.0,419.0 1299.4,420.9 1302.6,421.4 1300.0,423.4 1303.2,423.9 1300.6,425.8 1303.8,426.3 1301.2,428.2 1304.4,428.7 1301.8,430.6 1305.0,431.2 1302.4,433.1 1305.6,433.6 1302.9,435.5 1306.2,436.0 1303.5,437.9 1306.7,438.5 1304.1,440.4 1307.3,440.9 1304.7,442.8" fill="none" stroke="none" marker-start="url(#mb3)" marker-mid="url(#mb3)" marker-end="url(#mb3)"/>
<polyline points="1083.9,97.8 1086.6,100.0 1089.8,100.9 1092.2,103.2 1095.4,104.0 1097.5,106.4 1100.7,107.1 1102.6,109.6 1105.7,110.2 1107.3,112.9 1110.4,113.3 1111.8,116.1 1114.9,116.4 1116.1,119.3" fill="none" stroke="#808000" stroke-width="3.6"/>
<polyline points="1114.9,116.4 1116.1,119.3 1119.3,119.5 1120.2,122.5 1123.4,122.6 1124.1,125.8 1127.4,125.7 1127.9,129.0 1131.2,128.8 1131.5,132.2 1134.9,131.9 1134.9,135.4 1138.5,135.0 1138.3,138.6 1141.9,138.1 1141.5,141.8 1145.2,141.2 1144.6,145.0" fill="none" stroke="#808000" stroke-width="8" stroke-linejoin="round"/>
<polygon points="1133.1,122.7 1138.7,127.6 1144.0,132.5 1149.0,137.4 1153.7,142.3 1158.2,147.3 1162.4,152.2 1166.6,157.0 1170.7,161.8 1174.6,166.5 1178.3,171.3 1181.9,176.1 1185.3,180.9 1188.6,185.7 1191.9,190.5 1195.0,195.3 1198.0,200.1 1200.9,204.9 1203.7,209.7 1206.5,214.5 1209.1,219.3 1211.7,224.1 1214.3,228.9 1216.7,233.7 1219.1,238.5 1221.5,243.3 1223.7,248.1 1226.0,252.9 1228.1,257.7 1230.3,262.4 1232.3,267.2 1234.4,272.0 1236.3,276.8 1238.3,281.6 1240.2,286.4 1242.1,291.2 1243.9,295.9 1245.7,300.7 1247.4,305.5 1249.2,310.3 1250.9,315.0 1252.5,319.8 1254.2,324.6 1255.8,329.4 1257.4,334.1 1258.9,338.9 1260.4,343.7 1261.9,348.5 1263.4,353.2 1264.9,358.0 1266.3,362.8 1267.7,367.5 1269.1,372.3 1270.5,377.1 1271.8,381.8 1273.2,386.6 1274.5,391.4 1275.8,396.1 1277.1,400.9 1278.3,405.7 1279.6,410.4 1280.8,415.2 1282.0,419.9 1283.2,424.7 1284.4,429.5 1285.5,434.2 1286.7,439.0 1287.8,443.8 1271.9,447.5 1270.8,442.8 1269.7,438.1 1268.6,433.4 1267.4,428.6 1266.2,423.9 1265.0,419.2 1263.8,414.5 1262.6,409.8 1261.4,405.1 1260.1,400.3 1258.9,395.6 1257.6,390.9 1256.3,386.2 1254.9,381.5 1253.6,376.8 1252.2,372.1 1250.9,367.4 1249.5,362.6 1248.0,357.9 1246.6,353.2 1245.1,348.5 1243.7,343.8 1242.1,339.1 1240.6,334.4 1239.0,329.7 1237.5,325.0 1235.8,320.3 1234.2,315.6 1232.5,310.9 1230.8,306.2 1229.1,301.5 1227.3,296.8 1225.5,292.1 1223.7,287.4 1221.8,282.7 1219.9,278.0 1218.0,273.3 1216.0,268.6 1214.0,263.9 1211.9,259.3 1209.8,254.6 1207.6,249.9 1205.4,245.2 1203.1,240.5 1200.8,235.8 1198.4,231.1 1195.9,226.5 1193.4,221.8 1190.8,217.1 1188.2,212.4 1185.4,207.7 1182.6,203.1 1179.7,198.4 1176.7,193.7 1173.6,189.0 1170.4,184.3 1167.1,179.6 1163.6,175.0 1160.1,170.3 1156.3,165.6 1152.4,160.9 1148.2,156.3 1143.8,151.8 1139.2,147.3 1134.4,142.7 1129.4,138.1 1124.1,133.5" fill="#808000"/>
<polyline points="761.8,50.7 826.8,52.3 864.8,53.9 891.8,55.4 912.7,57.0 929.8,58.6 944.3,60.2 956.8,61.8 967.8,63.3 977.7,64.9 986.6,66.5 994.8,68.1 1002.3,69.7 1009.2,71.2 1015.7,72.8 1021.8,74.4 1027.5,76.0 1032.8,77.6 1037.9,79.1 1042.7,80.7 1047.3,82.3 1051.6,83.9 1055.8,85.5 1059.8,87.0 1063.6,88.6 1067.3,90.2 1070.9,91.7 1074.2,93.5 1077.6,94.8 1080.6,96.7 1083.9,97.8 1086.6,100.0 1089.8,100.9 1092.2,103.2 1095.4,104.0 1097.5,106.4 1100.7,107.1 1102.6,109.6 1105.7,110.2 1107.3,112.9 1110.4,113.3 1111.8,116.1 1114.9,116.4 1116.1,119.3 1119.3,119.5 1120.2,122.5 1123.4,122.6 1124.1,125.8 1127.4,125.7 1127.9,129.0 1131.2,128.8 1131.5,132.2 1134.9,131.9 1134.9,135.4 1138.5,135.0 1138.3,138.6 1141.9,138.1 1141.5,141.8 1145.2,141.2 1144.6,145.0 1148.4,144.4 1147.6,148.2 1151.4,147.5 1150.6,151.3 1154.4,150.7 1153.4,154.4 1157.2,153.9 1156.2,157.6 1160.0,157.1 1158.9,160.7 1162.7,160.3 1161.6,163.9 1165.3,163.4 1164.1,167.0 1167.9,166.6 1166.6,170.2 1170.4,169.8 1169.0,173.3 1172.8,173.0 1171.4,176.4 1175.1,176.1 1173.7,179.6 1177.4,179.3 1175.9,182.7 1179.7,182.5 1178.1,185.9 1181.9,185.7 1180.3,189.0 1184.0,188.8 1182.4,192.2 1186.1,192.0 1184.4,195.3 1188.1,195.2 1186.4,198.5 1190.1,198.3 1188.4,201.6 1192.1,201.5 1190.3,204.8 1194.0,204.7 1192.2,207.9 1195.9,207.9 1194.1,211.1 1197.8,211.0 1195.9,214.2 1199.6,214.2 1197.7,217.4 1201.3,217.4 1199.4,220.5 1203.1,220.5 1201.1,223.6 1204.8,223.7 1202.8,226.8 1206.5,226.9 1204.5,229.9 1208.1,230.1 1206.1,233.1 1209.7,233.2 1207.7,236.2 1211.3,236.4 1209.3,239.4 1212.9,239.6 1210.8,242.5 1214.5,242.7 1212.3,245.7 1216.0,245.9 1213.8,248.8 1217.5,249.1 1215.3,252.0 1218.9,252.2 1216.7,255.1 1220.4,255.4 1218.2,258.3 1221.8,258.6 1219.6,261.4 1223.2,261.7 1221.0,264.6 1224.6,264.9 1222.3,267.8 1225.9,268.1 1223.7,270.9 1227.3,271.2 1225.0,274.1 1228.6,274.4 1226.3,277.2 1229.9,277.6 1227.6,280.4 1231.2,280.7 1228.9,283.5 1232.5,283.9 1230.1,286.7 1233.7,287.1 1231.4,289.8 1235.0,290.2 1232.6,293.0 1236.2,293.4 1233.8,296.1 1237.4,296.6 1235.0,299.3 1238.6,299.7 1236.2,302.4 1239.8,302.9 1237.3,305.6 1240.9,306.1 1238.5,308.7 1242.1,309.2 1239.6,311.9 1243.2,312.4 1240.7,315.0 1244.3,315.6 1241.8,318.2 1245.4,318.7 1242.9,321.4 1246.5,321.9 1244.0,324.5 1247.6,325.1 1245.1,327.7 1248.7,328.2 1246.1,330.8 1249.7,331.4 1247.2,334.0 1250.8,334.5 1248.2,337.1 1251.8,337.7 1249.3,340.3 1252.8,340.9 1250.3,343.4 1253.8,344.0 1251.3,346.6 1254.8,347.2 1252.3,349.7 1255.8,350.4 1253.2,352.9 1256.8,353.5 1254.2,356.1 1257.7,356.7 1255.2,359.2 1258.7,359.9 1256.1,362.4 1259.7,363.0 1257.1,365.5 1260.6,366.2 1258.0,368.7 1261.5,369.4 1258.9,371.8 1262.4,372.5 1259.8,375.0 1263.4,375.7 1260.7,378.1 1264.3,378.8 1261.6,381.3 1265.2,382.0 1262.5,384.5 1266.0,385.2 1263.4,387.6 1266.9,388.3 1264.3,390.8 1267.8,391.5 1265.1,393.9 1268.6,394.7 1266.0,397.1 1269.5,397.8 1266.8,400.2 1270.3,401.0 1267.7,403.4 1271.2,404.1 1268.5,406.5 1272.0,407.3 1269.3,409.7 1272.8,410.5 1270.1,412.9 1273.7,413.6 1271.0,416.0 1274.5,416.8 1271.8,419.2 1275.3,420.0 1272.6,422.3 1276.1,423.1 1273.4,425.5 1276.8,426.3 1274.1,428.6 1277.6,429.4 1274.9,431.8 1278.4,432.6 1275.7,434.9 1279.2,435.8 1276.4,438.1 1279.9,438.9 1277.2,441.3 1280.7,442.1" fill="none" stroke="#808000" stroke-width="3.0" stroke-linejoin="round"/>
<polyline points="761.8,50.7 826.8,52.3 864.8,53.9 891.8,55.4 912.7,57.0 929.8,58.6 944.3,60.2 956.8,61.8 967.8,63.3 977.7,64.9 986.6,66.5 994.8,68.1 1002.3,69.7 1009.2,71.2 1015.7,72.8 1021.8,74.4 1027.5,76.0 1032.8,77.6 1037.9,79.1 1042.7,80.7 1047.3,82.3 1051.6,83.9 1055.8,85.5 1059.8,87.0 1063.6,88.6 1067.3,90.2 1070.9,91.7 1074.2,93.5 1077.6,94.8 1080.6,96.7 1083.9,97.8 1086.6,100.0 1089.8,100.9 1092.2,103.2 1095.4,104.0 1097.5,106.4 1100.7,107.1 1102.6,109.6 1105.7,110.2 1107.3,112.9 1110.4,113.3 1111.8,116.1 1114.9,116.4 1116.1,119.3 1119.3,119.5 1120.2,122.5 1123.4,122.6 1124.1,125.8 1127.4,125.7 1127.9,129.0 1131.2,128.8 1131.5,132.2 1134.9,131.9 1134.9,135.4 1138.5,135.0 1138.3,138.6 1141.9,138.1 1141.5,141.8 1145.2,141.2 1144.6,145.0 1148.4,144.4 1147.6,148.2 1151.4,147.5 1150.6,151.3 1154.4,150.7 1153.4,154.4 1157.2,153.9 1156.2,157.6 1160.0,157.1 1158.9,160.7 1162.7,160.3 1161.6,163.9 1165.3,163.4 1164.1,167.0 1167.9,166.6 1166.6,170.2 1170.4,169.8 1169.0,173.3 1172.8,173.0 1171.4,176.4 1175.1,176.1 1173.7,179.6 1177.4,179.3 1175.9,182.7 1179.7,182.5 1178.1,185.9 1181.9,185.7 1180.3,189.0 1184.0,188.8 1182.4,192.2 1186.1,192.0 1184.4,195.3 1188.1,195.2 1186.4,198.5 1190.1,198.3 1188.4,201.6 1192.1,201.5 1190.3,204.8 1194.0,204.7 1192.2,207.9 1195.9,207.9 1194.1,211.1 1197.8,211.0 1195.9,214.2 1199.6,214.2 1197.7,217.4 1201.3,217.4 1199.4,220.5 1203.1,220.5 1201.1,223.6 1204.8,223.7 1202.8,226.8 1206.5,226.9 1204.5,229.9 1208.1,230.1 1206.1,233.1 1209.7,233.2 1207.7,236.2 1211.3,236.4 1209.3,239.4 1212.9,239.6 1210.8,242.5 1214.5,242.7 1212.3,245.7 1216.0,245.9 1213.8,248.8 1217.5,249.1 1215.3,252.0 1218.9,252.2 1216.7,255.1 1220.4,255.4 1218.2,258.3 1221.8,258.6 1219.6,261.4 1223.2,261.7 1221.0,264.6 1224.6,264.9 1222.3,267.8 1225.9,268.1 1223.7,270.9 1227.3,271.2 1225.0,274.1 1228.6,274.4 1226.3,277.2 1229.9,277.6 1227.6,280.4 1231.2,280.7 1228.9,283.5 1232.5,283.9 1230.1,286.7 1233.7,287.1 1231.4,289.8 1235.0,290.2 1232.6,293.0 1236.2,293.4 1233.8,296.1 1237.4,296.6 1235.0,299.3 1238.6,299.7 1236.2,302.4 1239.8,302.9 1237.3,305.6 1240.9,306.1 1238.5,308.7 1242.1,309.2 1239.6,311.9 1243.2,312.4 1240.7,315.0 1244.3,315.6 1241.8,318.2 1245.4,318.7 1242.9,321.4 1246.5,321.9 1244.0,324.5 1247.6,325.1 1245.1,327.7 1248.7,328.2 1246.1,330.8 1249.7,331.4 1247.2,334.0 1250.8,334.5 1248.2,337.1 1251.8,337.7 1249.3,340.3 1252.8,340.9 1250.3,343.4 1253.8,344.0 1251.3,346.6 1254.8,347.2 1252.3,349.7 1255.8,350.4 1253.2,352.9 1256.8,353.5 1254.2,356.1 1257.7,356.7 1255.2,359.2 1258.7,359.9 1256.1,362.4 1259.7,363.0 1257.1,365.5 1260.6,366.2 1258.0,368.7 1261.5,369.4 1258.9,371.8 1262.4,372.5 1259.8,375.0 1263.4,375.7 1260.7,378.1 1264.3,378.8 1261.6,381.3 1265.2,382.0 1262.5,384.5 1266.0,385.2 1263.4,387.6 1266.9,388.3 1264.3,390.8 1267.8,391.5 1265.1,393.9 1268.6,394.7 1266.0,397.1 1269.5,397.8 1266.8,400.2 1270.3,401.0 1267.7,403.4 1271.2,404.1 1268.5,406.5 1272.0,407.3 1269.3,409.7 1272.8,410.5 1270.1,412.9 1273.7,413.6 1271.0,416.0 1274.5,416.8 1271.8,419.2 1275.3,420.0 1272.6,422.3 1276.1,423.1 1273.4,425.5 1276.8,426.3 1274.1,428.6 1277.6,429.4 1274.9,431.8 1278.4,432.6 1275.7,434.9 1279.2,435.8 1276.4,438.1 1279.9,438.9 1277.2,441.3 1280.7,442.1" fill="none" stroke="none" marker-start="url(#mb4)" marker-mid="url(#mb4)" marker-end="url(#mb4)"/>
</g>
<path d="M761.8 427.30H754.2M761.8 376.67H754.2M761.8 326.04H754.2M761.8 275.40H754.2M761.8 224.77H754.2M761.8 174.14H754.2M761.8 123.51H754.2M761.8 72.87H754.2M761.8 22.24H754.2M761.80 427.3V435.1M977.70 427.3V435.1M1193.60 427.3V435.1" stroke="#000" stroke-width="7" stroke-linecap="round" fill="none"/>
<path d="M761.8 412.06H758.2M761.8 403.14H758.2M761.8 396.82H758.2M761.8 391.91H758.2M761.8 387.90H758.2M761.8 384.51H758.2M761.8 381.57H758.2M761.8 378.98H758.2M761.8 361.43H758.2M761.8 352.51H758.2M761.8 346.18H758.2M761.8 341.28H758.2M761.8 337.27H758.2M761.8 333.88H758.2M761.8 330.94H758.2M761.8 328.35H758.2M761.8 310.79H758.2M761.8 301.88H758.2M761.8 295.55H758.2M761.8 290.65H758.2M761.8 286.64H758.2M761.8 283.25H758.2M761.8 280.31H758.2M761.8 277.72H758.2M761.8 260.16H758.2M761.8 251.25H758.2M761.8 244.92H758.2M761.8 240.01H758.2M761.8 236.00H758.2M761.8 232.61H758.2M761.8 229.68H758.2M761.8 227.09H758.2M761.8 209.53H758.2M761.8 200.61H758.2M761.8 194.29H758.2M761.8 189.38H758.2M761.8 185.37H758.2M761.8 181.98H758.2M761.8 179.05H758.2M761.8 176.46H758.2M761.8 158.90H758.2M761.8 149.98H758.2M761.8 143.65H758.2M761.8 138.75H758.2M761.8 134.74H758.2M761.8 131.35H758.2M761.8 128.41H758.2M761.8 125.82H758.2M761.8 108.26H758.2M761.8 99.35H758.2M761.8 93.02H758.2M761.8 88.12H758.2M761.8 84.11H758.2M761.8 80.72H758.2M761.8 77.78H758.2M761.8 75.19H758.2M761.8 57.63H758.2M761.8 48.72H758.2M761.8 42.39H758.2M761.8 37.48H758.2M761.8 33.47H758.2M761.8 30.08H758.2M761.8 27.15H758.2M761.8 24.56H758.2M761.8 7.00H758.2M826.79 427.3V431.2M864.81 427.3V431.2M891.78 427.3V431.2M912.71 427.3V431.2M929.80 427.3V431.2M944.26 427.3V431.2M956.78 427.3V431.2M967.82 427.3V431.2M1042.69 427.3V431.2M1080.71 427.3V431.2M1107.68 427.3V431.2M1128.61 427.3V431.2M1145.70 427.3V431.2M1160.16 427.3V431.2M1172.68 427.3V431.2M1183.72 427.3V431.2M1258.59 427.3V431.2M1296.61 427.3V431.2M1323.58 427.3V431.2M1344.51 427.3V431.2" stroke="#000" stroke-width="6.4" stroke-linecap="round" fill="none"/>
<rect x="761.8" y="7.0" width="582.7" height="420.3" fill="none" stroke="#000" stroke-width="7.4" stroke-linejoin="round"/>
<path transform="translate(703.05,33.84) scale(0.01611,-0.01611)" d="M806 0H525V1059Q371 915 162 846V1101Q272 1137 401 1237.5T578 1472H806Z" /><text x="720.01" y="33.84" font-size="33" font-family="Liberation Sans, sans-serif" font-weight="bold"  xml:space="preserve">0</text><text x="738.36" y="15.54" font-size="19.5" font-family="Liberation Sans, sans-serif" font-weight="bold"  xml:space="preserve">6</text>
<path transform="translate(703.05,236.37) scale(0.01611,-0.01611)" d="M806 0H525V1059Q371 915 162 846V1101Q272 1137 401 1237.5T578 1472H806Z" /><text x="720.01" y="236.37" font-size="33" font-family="Liberation Sans, sans-serif" font-weight="bold"  xml:space="preserve">0</text><text x="738.36" y="218.07" font-size="19.5" font-family="Liberation Sans, sans-serif" font-weight="bold"  xml:space="preserve">2</text>
<path transform="translate(696.55,438.90) scale(0.01611,-0.01611)" d="M806 0H525V1059Q371 915 162 846V1101Q272 1137 401 1237.5T578 1472H806Z" /><text x="713.52" y="438.90" font-size="33" font-family="Liberation Sans, sans-serif" font-weight="bold"  xml:space="preserve">0</text><text x="731.86" y="420.60" font-size="19.5" font-family="Liberation Sans, sans-serif" font-weight="bold"  xml:space="preserve">-2</text>
<text x="1275.40" y="57.90" font-size="49" font-family="Liberation Sans, sans-serif" font-weight="bold"  xml:space="preserve">(b)</text>
<text x="928.60" y="397.40" font-size="40.6" font-family="Liberation Sans, sans-serif" font-weight="bold"  xml:space="preserve">P = 0.5 GPa</text>
<path d="M788.9 159.7H829.1" stroke="#000000" stroke-width="3.2" stroke-linecap="round"/><g transform="translate(809.0,159.7)"><rect x="-8.28" y="-8.28" width="16.56" height="16.56" fill="#fff" stroke="#000000" stroke-width="1.8"/><path d="M-8.28 0H8.28M0 -8.28V8.28" fill="none" stroke="#000000" stroke-width="1.8"/></g><text x="837.60" y="165.80" font-size="32" font-family="Liberation Sans, sans-serif" font-weight="bold"  xml:space="preserve">2 K</text>
<path d="M788.9 200.3H829.1" stroke="#ff00ff" stroke-width="3.1" stroke-linecap="round"/><g transform="translate(809.0,200.3)"><circle r="9.38" fill="#fff" stroke="#ff0000" stroke-width="1.8"/><path d="M-9.38 0H9.38M0 -9.38V9.38" fill="none" stroke="#ff0000" stroke-width="1.8"/></g><text x="837.60" y="206.45" font-size="32" font-family="Liberation Sans, sans-serif" font-weight="bold"  xml:space="preserve">2.5 K</text>
<path d="M788.9 241.0H829.1" stroke="#0000ff" stroke-width="3.3" stroke-linecap="round"/><g transform="translate(809.0,241.0)"><path d="M0 -12.84L11.32 6.59L-11.32 6.59Z" fill="none" stroke="#0000ff" stroke-width="1.8"/><path d="M0 -12.84V12.84" fill="none" stroke="#0000ff" stroke-width="1.8"/></g><text x="837.60" y="247.10" font-size="32" font-family="Liberation Sans, sans-serif" font-weight="bold"  xml:space="preserve">3 K</text>
<path d="M788.9 281.6H829.1" stroke="#ff00ff" stroke-width="5.6" stroke-linecap="round"/><g transform="translate(809.0,281.6)"><path d="M0 12.84L11.32 -6.59L-11.32 -6.59Z" fill="none" stroke="#ff00ff" stroke-width="1.8"/><path d="M0 12.84V-12.84" fill="none" stroke="#ff00ff" stroke-width="1.8"/></g><text x="837.60" y="287.75" font-size="32" font-family="Liberation Sans, sans-serif" font-weight="bold"  xml:space="preserve">4 K</text>
<path d="M788.9 322.3H829.1" stroke="#808000" stroke-width="3.2" stroke-linecap="round"/><g transform="translate(809.0,322.3)"><path d="M0 -12.17L10.65 0L0 12.17L-10.65 0Z" fill="none" stroke="#808000" stroke-width="1.8"/><path d="M-10.65 0H10.65M0 -12.17V12.17" fill="none" stroke="#808000" stroke-width="1.8"/></g><text x="837.60" y="328.40" font-size="32" font-family="Liberation Sans, sans-serif" font-weight="bold"  xml:space="preserve">5 K</text>
<g clip-path="url(#cpc)">
<polyline points="426.3,484.4 429.2,485.5 432.2,485.7 434.9,486.9 437.7,487.0 440.2,488.3 443.0,488.3 445.3,489.8 447.9,489.5 450.0,491.2 452.7,490.8 454.6,492.6 457.1,492.1 458.9,494.0" fill="none" stroke="#000000" stroke-width="3.6"/>
<polyline points="457.1,492.1 458.9,494.0 461.4,493.4 463.1,495.4 465.5,494.7 467.0,496.9 469.5,496.0 470.8,498.3 473.3,497.3 474.5,499.7 476.9,498.6 478.0,501.1 480.4,499.9 481.3,502.5 483.8,501.2 484.6,504.0 487.1,502.5 487.7,505.4" fill="none" stroke="#000000" stroke-width="8" stroke-linejoin="round"/>
<polygon points="473.7,490.2 479.4,492.2 484.8,494.1 489.9,496.1 494.7,498.1 499.3,500.1 503.6,502.2 507.8,504.3 511.9,506.3 515.7,508.4 519.5,510.5 523.0,512.6 526.5,514.7 529.8,516.7 533.1,518.8 536.2,520.9 539.2,523.0 542.2,525.1 545.0,527.2 547.8,529.3 550.5,531.4 553.1,533.5 555.7,535.6 558.1,537.7 560.6,539.8 562.9,541.9 565.2,544.1 567.5,546.2 569.7,548.3 571.8,550.4 573.9,552.5 576.0,554.6 578.0,556.7 579.9,558.8 581.9,560.9 583.8,563.0 585.6,565.1 587.4,567.2 589.2,569.3 590.9,571.4 592.7,573.5 594.3,575.6 596.0,577.7 597.6,579.8 599.2,581.9 600.8,584.0 602.3,586.1 603.8,588.2 605.3,590.3 606.8,592.4 608.2,594.5 609.7,596.6 611.1,598.7 612.4,600.8 613.8,602.9 615.1,605.0 616.4,607.1 617.7,609.2 619.0,611.2 620.3,613.3 621.5,615.4 622.8,617.5 624.0,619.6 625.2,621.7 626.4,623.8 627.5,625.8 628.7,627.9 629.8,630.0 631.0,632.1 632.1,634.2 633.2,636.3 634.2,638.3 635.3,640.4 636.4,642.5 637.4,644.6 638.5,646.6 639.5,648.7 640.5,650.8 641.5,652.9 642.5,654.9 643.5,657.0 644.4,659.1 645.4,661.2 646.3,663.2 647.3,665.3 648.2,667.4 649.1,669.5 650.0,671.5 651.0,673.6 651.8,675.7 652.7,677.7 653.6,679.8 654.5,681.9 655.3,683.9 656.2,686.0 657.0,688.1 657.9,690.1 658.7,692.2 659.5,694.3 660.3,696.3 661.1,698.4 661.9,700.5 662.7,702.5 663.5,704.6 664.3,706.7 665.1,708.7 665.8,710.8 666.6,712.8 667.4,714.9 668.1,717.0 668.9,719.0 669.6,721.1 670.3,723.1 671.0,725.2 671.8,727.3 672.5,729.3 673.2,731.4 673.9,733.4 674.6,735.5 675.3,737.6 676.0,739.6 676.6,741.7 677.3,743.7 678.0,745.8 678.7,747.9 679.3,749.9 680.0,752.0 680.6,754.0 681.3,756.1 681.9,758.1 682.6,760.2 683.2,762.2 683.8,764.3 684.5,766.4 685.1,768.4 685.7,770.5 686.3,772.5 686.9,774.6 687.5,776.6 688.1,778.7 688.7,780.7 689.3,782.8 689.9,784.8 690.5,786.9 691.1,789.0 691.7,791.0 692.2,793.1 692.8,795.1 693.4,797.2 693.9,799.2 694.5,801.3 695.1,803.3 680.1,807.4 679.5,805.4 678.9,803.4 678.4,801.4 677.8,799.3 677.2,797.3 676.6,795.3 676.1,793.3 675.5,791.2 674.9,789.2 674.3,787.2 673.7,785.2 673.1,783.1 672.5,781.1 671.9,779.1 671.3,777.1 670.6,775.0 670.0,773.0 669.4,771.0 668.8,769.0 668.1,766.9 667.5,764.9 666.8,762.9 666.2,760.9 665.5,758.9 664.9,756.8 664.2,754.8 663.5,752.8 662.9,750.8 662.2,748.8 661.5,746.7 660.8,744.7 660.1,742.7 659.5,740.7 658.8,738.7 658.0,736.6 657.3,734.6 656.6,732.6 655.9,730.6 655.2,728.6 654.4,726.5 653.7,724.5 653.0,722.5 652.2,720.5 651.4,718.5 650.7,716.5 649.9,714.4 649.1,712.4 648.4,710.4 647.6,708.4 646.8,706.4 646.0,704.4 645.2,702.4 644.4,700.3 643.5,698.3 642.7,696.3 641.9,694.3 641.0,692.3 640.2,690.3 639.3,688.3 638.5,686.3 637.6,684.3 636.7,682.2 635.8,680.2 634.9,678.2 634.0,676.2 633.1,674.2 632.2,672.2 631.2,670.2 630.3,668.2 629.4,666.2 628.4,664.2 627.4,662.2 626.4,660.2 625.5,658.2 624.5,656.2 623.4,654.2 622.4,652.2 621.4,650.2 620.3,648.2 619.3,646.2 618.2,644.2 617.1,642.2 616.1,640.2 615.0,638.2 613.8,636.2 612.7,634.2 611.6,632.2 610.4,630.2 609.2,628.2 608.1,626.2 606.9,624.2 605.6,622.2 604.4,620.2 603.2,618.3 601.9,616.3 600.6,614.3 599.3,612.3 598.0,610.3 596.7,608.3 595.3,606.3 594.0,604.4 592.6,602.4 591.2,600.4 589.7,598.4 588.3,596.4 586.8,594.5 585.3,592.5 583.8,590.5 582.2,588.5 580.7,586.5 579.1,584.6 577.4,582.6 575.8,580.6 574.1,578.6 572.4,576.7 570.6,574.7 568.9,572.7 567.0,570.7 565.2,568.8 563.3,566.8 561.4,564.8 559.4,562.9 557.4,560.9 555.4,558.9 553.3,556.9 551.1,555.0 548.9,553.0 546.7,551.0 544.4,549.1 542.0,547.1 539.6,545.1 537.1,543.1 534.5,541.2 531.9,539.2 529.2,537.2 526.4,535.2 523.5,533.2 520.5,531.2 517.4,529.2 514.2,527.3 510.9,525.3 507.5,523.3 503.9,521.3 500.1,519.2 496.2,517.2 492.2,515.2 487.9,513.2 483.4,511.1 478.7,509.0 473.7,506.9 468.5,504.7" fill="#000000"/>
<path d="M112.3 464.3L161.3 464.8M177.3 465.0L199.3 465.4M215.3 465.7L226.3 466.0M242.3 466.5L247.2 466.6M263.2 467.2L264.3 467.3" fill="none" stroke="#000000" stroke-width="2.8" stroke-linecap="round"/>
<polyline points="104.3,464.2 169.3,464.9 207.3,465.5 234.3,466.2 255.2,466.9 272.3,467.6 286.8,468.3 299.3,468.9 310.3,469.6 320.2,470.3 329.1,471.0 337.3,471.7 344.8,472.3 351.7,473.0 358.2,473.7 364.3,474.4 370.0,475.1 375.3,475.7 380.4,476.4 385.2,477.1 389.8,477.8 394.1,478.5 398.3,479.1 402.3,479.8 406.1,480.5 409.8,481.2 413.3,481.8 416.7,482.6 420.1,483.1 423.2,484.1 426.3,484.4 429.2,485.5 432.2,485.7 434.9,486.9 437.7,487.0 440.2,488.3 443.0,488.3 445.3,489.8 447.9,489.5 450.0,491.2 452.7,490.8 454.6,492.6 457.1,492.1 458.9,494.0 461.4,493.4 463.1,495.4 465.5,494.7 467.0,496.9 469.5,496.0 470.8,498.3 473.3,497.3 474.5,499.7 476.9,498.6 478.0,501.1 480.4,499.9 481.3,502.5 483.8,501.2 484.6,504.0 487.1,502.5 487.7,505.4 490.2,503.9 490.8,506.7 493.3,505.2 493.7,508.1 496.2,506.6 496.6,509.4 499.1,508.0 499.4,510.8 501.8,509.3 502.1,512.1 504.5,510.7 504.7,513.5 507.2,512.1 507.3,514.9 509.7,513.4 509.8,516.2 512.2,514.8 512.2,517.6 514.6,516.2 514.6,518.9 516.9,517.5 516.9,520.3 519.2,518.9 519.1,521.6 521.5,520.3 521.3,523.0 523.7,521.6 523.5,524.3 525.8,523.0 525.6,525.7 527.9,524.3 527.6,527.0 530.0,525.7 529.6,528.4 532.0,527.1 531.6,529.7 533.9,528.4 533.5,531.1 535.9,529.8 535.4,532.4 537.7,531.2 537.2,533.8 539.6,532.5 539.1,535.1 541.4,533.9 540.8,536.5 543.2,535.3 542.6,537.9 544.9,536.6 544.3,539.2 546.6,538.0 546.0,540.6 548.3,539.4 547.6,541.9 550.0,540.7 549.2,543.3 551.6,542.1 550.8,544.6 553.2,543.5 552.4,546.0 554.8,544.8 554.0,547.3 556.3,546.2 555.5,548.7 557.8,547.6 557.0,550.0 559.3,548.9 558.4,551.4 560.8,550.3 559.9,552.7 562.2,551.7 561.3,554.1 563.7,553.0 562.7,555.4 565.1,554.4 564.1,556.8 566.5,555.8 565.5,558.1 567.8,557.1 566.8,559.5 569.2,558.5 568.1,560.9 570.5,559.9 569.4,562.2 571.8,561.2 570.7,563.6 573.1,562.6 572.0,564.9 574.4,564.0 573.2,566.3 575.6,565.3 574.5,567.6 576.9,566.7 575.7,569.0 578.1,568.1 576.9,570.3 579.3,569.4 578.1,571.7 580.5,570.8 579.3,573.0 581.7,572.1 580.4,574.4 582.8,573.5 581.6,575.7 584.0,574.9 582.7,577.1 585.1,576.2 583.8,578.4 586.2,577.6 584.9,579.8 587.3,579.0 586.0,581.2 588.4,580.3 587.1,582.5 589.5,581.7 588.2,583.9 590.6,583.1 589.2,585.2 591.6,584.4 590.3,586.6 592.7,585.8 591.3,587.9 593.7,587.2 592.3,589.3 594.7,588.5 593.3,590.6 595.8,589.9 594.3,592.0 596.8,591.3 595.3,593.3 597.7,592.6 596.3,594.7 598.7,594.0 597.3,596.1 599.7,595.3 598.2,597.4 600.7,596.7 599.2,598.8 601.6,598.1 600.1,600.1 602.5,599.4 601.0,601.5 603.5,600.8 602.0,602.8 604.4,602.2 602.9,604.2 605.3,603.5 603.8,605.5 606.2,604.9 604.7,606.9 607.1,606.3 605.6,608.2 608.0,607.6 606.4,609.6 608.9,609.0 607.3,611.0 609.8,610.3 608.2,612.3 610.6,611.7 609.0,613.7 611.5,613.1 609.9,615.0 612.3,614.4 610.7,616.4 613.2,615.8 611.5,617.7 614.0,617.2 612.4,619.1 614.8,618.5 613.2,620.4 615.6,619.9 614.0,621.8 616.4,621.3 614.8,623.2 617.2,622.6 615.6,624.5 618.0,624.0 616.4,625.9 618.8,625.3 617.1,627.2 619.6,626.7 617.9,628.6 620.4,628.1 618.7,629.9 621.2,629.4 619.5,631.3 621.9,630.8 620.2,632.6 622.7,632.2 621.0,634.0 623.4,633.5 621.7,635.4 624.2,634.9 622.4,636.7 624.9,636.2 623.2,638.1 625.7,637.6 623.9,639.4 626.4,639.0 624.6,640.8 627.1,640.3 625.3,642.1 627.8,641.7 626.1,643.5 628.5,643.1 626.8,644.8 629.2,644.4 627.5,646.2 630.0,645.8 628.2,647.6 630.6,647.1 628.9,648.9 631.3,648.5 629.5,650.3 632.0,649.9 630.2,651.6 632.7,651.2 630.9,653.0 633.4,652.6 631.6,654.3 634.1,654.0 632.2,655.7 634.7,655.3 632.9,657.1 635.4,656.7 633.5,658.4 636.0,658.0 634.2,659.8 636.7,659.4 634.8,661.1 637.3,660.8 635.5,662.5 638.0,662.1 636.1,663.8 638.6,663.5 636.8,665.2 639.3,664.9 637.4,666.5 639.9,666.2 638.0,667.9 640.5,667.6 638.6,669.3 641.1,668.9 639.3,670.6 641.8,670.3 639.9,672.0 642.4,671.7 640.5,673.3 643.0,673.0 641.1,674.7 643.6,674.4 641.7,676.0 644.2,675.8 642.3,677.4 644.8,677.1 642.9,678.8 645.4,678.5 643.5,680.1 646.0,679.8 644.1,681.5 646.6,681.2 644.6,682.8 647.1,682.6 645.2,684.2 647.7,683.9 645.8,685.5 648.3,685.3 646.4,686.9 648.9,686.6 646.9,688.3 649.4,688.0 647.5,689.6 650.0,689.4 648.1,691.0 650.6,690.7 648.6,692.3 651.1,692.1 649.2,693.7 651.7,693.5 649.7,695.0 652.2,694.8 650.3,696.4 652.8,696.2 650.8,697.8 653.3,697.5 651.4,699.1 653.9,698.9 651.9,700.5 654.4,700.3 652.4,701.8 654.9,701.6 653.0,703.2 655.5,703.0 653.5,704.5 656.0,704.3 654.0,705.9 656.5,705.7 654.6,707.3 657.1,707.1 655.1,708.6 657.6,708.4 655.6,710.0 658.1,709.8 656.1,711.3 658.6,711.2 656.6,712.7 659.1,712.5 657.1,714.0 659.6,713.9 657.7,715.4 660.2,715.2 658.2,716.8 660.7,716.6 658.7,718.1 661.2,718.0 659.2,719.5 661.7,719.3 659.7,720.8 662.2,720.7 660.1,722.2 662.7,722.0 660.6,723.5 663.1,723.4 661.1,724.9 663.6,724.8 661.6,726.3 664.1,726.1 662.1,727.6 664.6,727.5 662.6,729.0 665.1,728.9 663.1,730.3 665.6,730.2 663.5,731.7 666.0,731.6 664.0,733.0 666.5,732.9 664.5,734.4 667.0,734.3 665.0,735.8 667.5,735.7 665.4,737.1 667.9,737.0 665.9,738.5 668.4,738.4 666.3,739.8 668.8,739.7 666.8,741.2 669.3,741.1 667.3,742.5 669.8,742.5 667.7,743.9 670.2,743.8 668.2,745.3 670.7,745.2 668.6,746.6 671.1,746.5 669.1,748.0 671.6,747.9 669.5,749.3 672.0,749.3 670.0,750.7 672.5,750.6 670.4,752.1 672.9,752.0 670.8,753.4 673.4,753.4 671.3,754.8 673.8,754.7 671.7,756.1 674.2,756.1 672.2,757.5 674.7,757.4 672.6,758.8 675.1,758.8 673.0,760.2 675.5,760.2 673.4,761.6 676.0,761.5 673.9,762.9 676.4,762.9 674.3,764.3 676.8,764.2 674.7,765.6 677.2,765.6 675.1,767.0 677.6,767.0 675.6,768.3 678.1,768.3 676.0,769.7 678.5,769.7 676.4,771.1 678.9,771.0 676.8,772.4 679.3,772.4 677.2,773.8 679.7,773.8 677.6,775.1 680.1,775.1 678.0,776.5 680.5,776.5 678.4,777.9 680.9,777.8 678.9,779.2 681.4,779.2 679.3,780.6 681.8,780.6 679.7,781.9 682.2,781.9 680.1,783.3 682.6,783.3 680.5,784.6 683.0,784.6 680.8,786.0 683.4,786.0 681.2,787.4 683.7,787.4 681.6,788.7 684.1,788.7 682.0,790.1 684.5,790.1 682.4,791.4 684.9,791.5 682.8,792.8 685.3,792.8 683.2,794.1 685.7,794.2 683.6,795.5 686.1,795.5 684.0,796.9 686.5,796.9 684.3,798.2 686.8,798.3 684.7,799.6 687.2,799.6 685.1,800.9 687.6,801.0 685.5,802.3 688.0,802.3 685.9,803.7" fill="none" stroke="none" marker-start="url(#mc0)" marker-mid="url(#mc0)" marker-end="url(#mc0)"/>
<polyline points="426.3,491.3 429.3,492.1 432.1,492.9 434.9,493.8 437.7,494.6 440.3,495.4 442.9,496.2 445.4,497.0 447.8,497.8 450.2,498.6 452.5,499.5 454.8,500.3 457.0,501.1 459.1,501.9" fill="none" stroke="#ff0000" stroke-width="3.6"/>
<polyline points="457.0,501.1 459.1,501.9 461.2,502.7 463.3,503.5 465.3,504.3 467.3,505.2 469.2,506.0 471.1,506.8 473.0,507.6 474.8,508.4 476.6,509.2 478.3,510.0 480.0,510.9 481.7,511.7 483.4,512.5 485.0,513.3 486.6,514.1 488.2,514.9" fill="none" stroke="#ff0000" stroke-width="8" stroke-linejoin="round"/>
<polygon points="473.5,501.3 479.1,503.8 484.3,506.3 489.3,508.8 494.1,511.3 498.6,513.8 503.0,516.3 507.1,518.8 511.1,521.3 514.9,523.8 518.6,526.3 522.1,528.9 525.5,531.4 528.8,533.9 532.0,536.4 535.1,538.9 538.1,541.4 541.0,543.9 543.8,546.4 546.5,548.9 549.1,551.4 551.7,553.9 554.2,556.4 556.7,558.9 559.1,561.4 561.4,563.9 563.7,566.4 565.9,568.9 568.1,571.4 570.2,573.8 572.2,576.3 574.3,578.8 576.3,581.3 578.2,583.8 580.1,586.3 582.0,588.8 583.8,591.3 585.6,593.8 587.4,596.3 589.1,598.7 590.8,601.2 592.4,603.7 594.1,606.2 595.7,608.7 597.3,611.2 598.8,613.6 600.4,616.1 601.9,618.6 603.4,621.1 604.8,623.6 606.2,626.0 607.7,628.5 609.1,631.0 610.4,633.5 611.8,635.9 613.1,638.4 614.4,640.9 615.7,643.4 617.0,645.8 618.3,648.3 619.5,650.8 620.7,653.3 622.0,655.7 623.2,658.2 624.3,660.7 625.5,663.1 626.7,665.6 627.8,668.1 628.9,670.6 630.0,673.0 631.1,675.5 632.2,678.0 633.3,680.4 634.4,682.9 635.4,685.4 636.4,687.8 637.5,690.3 638.5,692.8 639.5,695.2 640.5,697.7 641.5,700.1 642.4,702.6 643.4,705.1 644.4,707.5 645.3,710.0 646.2,712.5 647.2,714.9 648.1,717.4 649.0,719.8 649.9,722.3 650.8,724.8 651.6,727.2 652.5,729.7 653.4,732.2 654.2,734.6 655.1,737.1 655.9,739.5 656.8,742.0 657.6,744.4 658.4,746.9 659.2,749.4 660.0,751.8 660.8,754.3 661.6,756.7 662.4,759.2 663.2,761.7 663.9,764.1 664.7,766.6 665.5,769.0 666.2,771.5 667.0,773.9 667.7,776.4 668.4,778.9 669.2,781.3 669.9,783.8 670.6,786.2 671.3,788.7 672.0,791.1 672.7,793.6 673.4,796.0 674.1,798.5 674.8,801.0 675.5,803.4 676.2,805.9 676.8,808.3 677.5,810.8 678.2,813.2 678.8,815.7 679.5,818.1 680.1,820.6 680.8,823.1 681.4,825.5 682.1,828.0 682.7,830.4 683.3,832.9 683.9,835.3 684.6,837.8 685.2,840.2 685.8,842.7 686.4,845.1 687.0,847.6 687.6,850.0 688.2,852.5 688.8,854.9 689.4,857.4 689.9,859.8 690.5,862.3 691.1,864.8 691.7,867.2 692.2,869.7 692.8,872.1 693.4,874.6 681.8,877.2 681.2,874.8 680.6,872.3 680.1,869.9 679.5,867.5 678.9,865.0 678.4,862.6 677.8,860.2 677.2,857.7 676.6,855.3 676.0,852.9 675.4,850.4 674.8,848.0 674.2,845.5 673.6,843.1 673.0,840.7 672.4,838.2 671.8,835.8 671.2,833.4 670.5,830.9 669.9,828.5 669.3,826.1 668.6,823.6 668.0,821.2 667.3,818.8 666.7,816.3 666.0,813.9 665.4,811.5 664.7,809.0 664.0,806.6 663.4,804.2 662.7,801.7 662.0,799.3 661.3,796.9 660.6,794.4 659.9,792.0 659.2,789.6 658.5,787.1 657.8,784.7 657.0,782.3 656.3,779.8 655.6,777.4 654.8,775.0 654.1,772.5 653.3,770.1 652.6,767.7 651.8,765.2 651.1,762.8 650.3,760.4 649.5,757.9 648.7,755.5 647.9,753.1 647.1,750.7 646.3,748.2 645.5,745.8 644.7,743.4 643.8,740.9 643.0,738.5 642.1,736.1 641.3,733.7 640.4,731.2 639.6,728.8 638.7,726.4 637.8,723.9 636.9,721.5 636.0,719.1 635.1,716.7 634.2,714.2 633.2,711.8 632.3,709.4 631.4,707.0 630.4,704.5 629.4,702.1 628.5,699.7 627.5,697.3 626.5,694.8 625.5,692.4 624.4,690.0 623.4,687.6 622.4,685.1 621.3,682.7 620.3,680.3 619.2,677.9 618.1,675.5 617.0,673.0 615.9,670.6 614.7,668.2 613.6,665.8 612.4,663.4 611.3,660.9 610.1,658.5 608.9,656.1 607.7,653.7 606.4,651.3 605.2,648.9 603.9,646.5 602.6,644.0 601.3,641.6 600.0,639.2 598.7,636.8 597.3,634.4 595.9,632.0 594.5,629.6 593.1,627.2 591.7,624.7 590.2,622.3 588.7,619.9 587.2,617.5 585.7,615.1 584.1,612.7 582.5,610.3 580.9,607.9 579.3,605.5 577.6,603.1 575.9,600.7 574.2,598.3 572.4,595.9 570.6,593.5 568.8,591.1 566.9,588.7 565.0,586.3 563.1,583.9 561.1,581.5 559.0,579.1 556.9,576.7 554.8,574.3 552.6,571.9 550.4,569.5 548.1,567.1 545.8,564.8 543.4,562.4 540.9,560.0 538.4,557.6 535.8,555.2 533.1,552.8 530.3,550.4 527.5,548.0 524.6,545.7 521.5,543.3 518.4,540.9 515.1,538.5 511.8,536.1 508.3,533.7 504.6,531.3 500.9,529.0 496.9,526.6 492.8,524.2 488.5,521.8 483.9,519.4 479.1,517.0 474.1,514.6 468.7,512.2" fill="#ff0000"/>
<path d="M112.3 467.0L161.3 467.6M177.3 467.8L199.3 468.3M215.3 468.7L226.3 469.1M242.3 469.6L247.2 469.8M263.2 470.5L264.3 470.6" fill="none" stroke="#ff0000" stroke-width="3.2" stroke-linecap="round"/>
<polyline points="104.3,466.9 169.3,467.7 207.3,468.5 234.3,469.3 255.2,470.1 272.3,470.9 286.8,471.8 299.3,472.6 310.3,473.4 320.2,474.2 329.1,475.0 337.3,475.8 344.8,476.6 351.7,477.5 358.2,478.3 364.3,479.1 370.0,479.9 375.3,480.7 380.4,481.5 385.2,482.3 389.8,483.2 394.1,484.0 398.3,484.8 402.3,485.6 406.1,486.4 409.8,487.2 413.3,488.0 416.7,488.9 420.0,489.7 423.2,490.5 426.3,491.3 429.3,492.1 432.1,492.9 434.9,493.8 437.7,494.6 440.3,495.4 442.9,496.2 445.4,497.0 447.8,497.8 450.2,498.6 452.5,499.5 454.8,500.3 457.0,501.1 459.1,501.9 461.2,502.7 463.3,503.5 465.3,504.3 467.3,505.2 469.2,506.0 471.1,506.8 473.0,507.6 474.8,508.4 476.6,509.2 478.3,510.0 480.0,510.9 481.7,511.7 483.4,512.5 485.0,513.3 486.6,514.1 488.2,514.9 489.8,515.8 491.3,516.6 492.8,517.4 494.3,518.2 495.7,519.0 497.1,519.8 498.5,520.6 499.9,521.5 501.3,522.3 502.7,523.1 504.0,523.9 505.3,524.7 506.6,525.5 507.9,526.3 509.1,527.2 510.4,528.0 511.6,528.8 512.8,529.6 514.0,530.4 515.2,531.2 516.3,532.0 517.5,532.9 518.6,533.7 519.8,534.5 520.9,535.3 522.0,536.1 523.0,536.9 524.1,537.8 525.2,538.6 526.2,539.4 527.3,540.2 528.3,541.0 529.3,541.8 530.3,542.6 531.3,543.5 532.3,544.3 533.2,545.1 534.2,545.9 535.2,546.7 536.1,547.5 537.0,548.3 538.0,549.2 538.9,550.0 539.8,550.8 540.7,551.6 541.6,552.4 542.4,553.2 543.3,554.0 544.2,554.9 545.0,555.7 545.9,556.5 546.7,557.3 547.6,558.1 548.4,558.9 549.2,559.7 550.0,560.6 550.8,561.4 551.6,562.2 552.4,563.0 553.2,563.8 554.0,564.6 554.7,565.5 555.5,566.3 556.3,567.1 557.0,567.9 557.8,568.7 558.5,569.5 559.2,570.3 560.0,571.2 560.7,572.0 561.4,572.8 562.1,573.6 562.8,574.4 563.5,575.2 564.2,576.0 564.9,576.9 565.6,577.7 566.3,578.5 567.0,579.3 567.6,580.1 568.3,580.9 569.0,581.7 569.6,582.6 570.3,583.4 570.9,584.2 571.6,585.0 572.2,585.8 572.9,586.6 573.5,587.5 574.1,588.3 574.7,589.1 575.4,589.9 576.0,590.7 576.6,591.5 577.2,592.3 577.8,593.2 578.4,594.0 579.0,594.8 579.6,595.6 580.2,596.4 580.8,597.2 581.3,598.0 581.9,598.9 582.5,599.7 583.1,600.5 583.6,601.3 584.2,602.1 584.7,602.9 585.3,603.7 585.9,604.6 586.4,605.4 587.0,606.2 587.5,607.0 588.0,607.8 588.6,608.6 589.1,609.5 589.6,610.3 590.2,611.1 590.7,611.9 591.2,612.7 591.7,613.5 592.2,614.3 592.8,615.2 593.3,616.0 593.8,616.8 594.3,617.6 594.8,618.4 595.3,619.2 595.8,620.0 596.3,620.9 596.8,621.7 597.3,622.5 597.8,623.3 598.2,624.1 598.7,624.9 599.2,625.7 599.7,626.6 600.2,627.4 600.6,628.2 601.1,629.0 601.6,629.8 602.0,630.6 602.5,631.5 602.9,632.3 603.4,633.1 603.9,633.9 604.3,634.7 604.8,635.5 605.2,636.3 605.7,637.2 606.1,638.0 606.6,638.8 607.0,639.6 607.4,640.4 607.9,641.2 608.3,642.0 608.7,642.9 609.2,643.7 609.6,644.5 610.0,645.3 610.5,646.1 610.9,646.9 611.3,647.7 611.7,648.6 612.1,649.4 612.6,650.2 613.0,651.0 613.4,651.8 613.8,652.6 614.2,653.5 614.6,654.3 615.0,655.1 615.4,655.9 615.8,656.7 616.2,657.5 616.6,658.3 617.0,659.2 617.4,660.0 617.8,660.8 618.2,661.6 618.6,662.4 619.0,663.2 619.4,664.0 619.7,664.9 620.1,665.7 620.5,666.5 620.9,667.3 621.3,668.1 621.6,668.9 622.0,669.7 622.4,670.6 622.8,671.4 623.1,672.2 623.5,673.0 623.9,673.8 624.2,674.6 624.6,675.4 625.0,676.3 625.3,677.1 625.7,677.9 626.1,678.7 626.4,679.5 626.8,680.3 627.1,681.2 627.5,682.0 627.8,682.8 628.2,683.6 628.5,684.4 628.9,685.2 629.2,686.0 629.6,686.9 629.9,687.7 630.3,688.5 630.6,689.3 631.0,690.1 631.3,690.9 631.6,691.7 632.0,692.6 632.3,693.4 632.6,694.2 633.0,695.0 633.3,695.8 633.6,696.6 634.0,697.4 634.3,698.3 634.6,699.1 635.0,699.9 635.3,700.7 635.6,701.5 635.9,702.3 636.3,703.2 636.6,704.0 636.9,704.8 637.2,705.6 637.5,706.4 637.9,707.2 638.2,708.0 638.5,708.9 638.8,709.7 639.1,710.5 639.4,711.3 639.7,712.1 640.0,712.9 640.4,713.7 640.7,714.6 641.0,715.4 641.3,716.2 641.6,717.0 641.9,717.8 642.2,718.6 642.5,719.4 642.8,720.3 643.1,721.1 643.4,721.9 643.7,722.7 644.0,723.5 644.3,724.3 644.6,725.2 644.9,726.0 645.2,726.8 645.5,727.6 645.7,728.4 646.0,729.2 646.3,730.0 646.6,730.9 646.9,731.7 647.2,732.5 647.5,733.3 647.8,734.1 648.0,734.9 648.3,735.7 648.6,736.6 648.9,737.4 649.2,738.2 649.5,739.0 649.7,739.8 650.0,740.6 650.3,741.4 650.6,742.3 650.8,743.1 651.1,743.9 651.4,744.7 651.7,745.5 651.9,746.3 652.2,747.2 652.5,748.0 652.8,748.8 653.0,749.6 653.3,750.4 653.6,751.2 653.8,752.0 654.1,752.9 654.4,753.7 654.6,754.5 654.9,755.3 655.2,756.1 655.4,756.9 655.7,757.7 655.9,758.6 656.2,759.4 656.5,760.2 656.7,761.0 657.0,761.8 657.2,762.6 657.5,763.4 657.8,764.3 658.0,765.1 658.3,765.9 658.5,766.7 658.8,767.5 659.0,768.3 659.3,769.2 659.5,770.0 659.8,770.8 660.0,771.6 660.3,772.4 660.5,773.2 660.8,774.0 661.0,774.9 661.3,775.7 661.5,776.5 661.8,777.3 662.0,778.1 662.3,778.9 662.5,779.7 662.7,780.6 663.0,781.4 663.2,782.2 663.5,783.0 663.7,783.8 664.0,784.6 664.2,785.4 664.4,786.3 664.7,787.1 664.9,787.9 665.1,788.7 665.4,789.5 665.6,790.3 665.9,791.2 666.1,792.0 666.3,792.8 666.6,793.6 666.8,794.4 667.0,795.2 667.2,796.0 667.5,796.9 667.7,797.7 667.9,798.5 668.2,799.3 668.4,800.1 668.6,800.9 668.9,801.7 669.1,802.6 669.3,803.4 669.5,804.2 669.8,805.0 670.0,805.8 670.2,806.6 670.4,807.4 670.7,808.3 670.9,809.1 671.1,809.9 671.3,810.7 671.5,811.5 671.8,812.3 672.0,813.1 672.2,814.0 672.4,814.8 672.6,815.6 672.9,816.4 673.1,817.2 673.3,818.0 673.5,818.9 673.7,819.7 673.9,820.5 674.2,821.3 674.4,822.1 674.6,822.9 674.8,823.7 675.0,824.6 675.2,825.4 675.4,826.2 675.7,827.0 675.9,827.8 676.1,828.6 676.3,829.4 676.5,830.3 676.7,831.1 676.9,831.9 677.1,832.7 677.3,833.5 677.5,834.3 677.8,835.1 678.0,836.0 678.2,836.8 678.4,837.6 678.6,838.4 678.8,839.2 679.0,840.0 679.2,840.9 679.4,841.7 679.6,842.5 679.8,843.3 680.0,844.1 680.2,844.9 680.4,845.7 680.6,846.6 680.8,847.4 681.0,848.2 681.2,849.0 681.4,849.8 681.6,850.6 681.8,851.4 682.0,852.3 682.2,853.1 682.4,853.9 682.6,854.7 682.8,855.5 683.0,856.3 683.2,857.1 683.4,858.0 683.6,858.8 683.8,859.6 684.0,860.4 684.2,861.2 684.3,862.0 684.5,862.9 684.7,863.7 684.9,864.5 685.1,865.3 685.3,866.1 685.5,866.9 685.7,867.7 685.9,868.6 686.1,869.4 686.3,870.2 686.4,871.0 686.6,871.8 686.8,872.6 687.0,873.4" fill="none" stroke="none" marker-start="url(#mc1)" marker-mid="url(#mc1)" marker-end="url(#mc1)"/>
<polyline points="426.3,498.6 429.2,499.6 432.2,500.4 434.9,501.4 437.7,502.1 440.3,503.2 442.9,503.9 445.3,505.0 447.9,505.7 450.1,506.8 452.6,507.5 454.7,508.6 457.0,509.3 459.1,510.4" fill="none" stroke="#0000ff" stroke-width="3.6"/>
<polyline points="457.0,509.3 459.1,510.4 461.3,511.0 463.2,512.3 465.4,512.8 467.2,514.1 469.3,514.6 471.0,515.9 473.1,516.4 474.7,517.7 476.7,518.2 478.2,519.5 480.2,520.0 481.6,521.3 483.5,521.7 484.9,523.1 486.8,523.5 488.1,524.9" fill="none" stroke="#0000ff" stroke-width="8" stroke-linejoin="round"/>
<polygon points="474.4,508.7 480.0,511.6 485.3,514.4 490.3,517.2 495.1,520.1 499.6,522.9 503.9,525.8 508.0,528.6 512.0,531.5 515.7,534.3 519.4,537.2 522.8,540.0 526.2,542.9 529.5,545.7 532.6,548.5 535.6,551.4 538.5,554.2 541.4,557.0 544.1,559.8 546.8,562.7 549.4,565.5 551.9,568.3 554.3,571.1 556.7,573.9 559.0,576.7 561.3,579.5 563.5,582.3 565.6,585.1 567.8,587.9 569.8,590.7 571.8,593.4 573.8,596.2 575.7,599.0 577.6,601.8 579.4,604.5 581.2,607.3 583.0,610.1 584.7,612.8 586.4,615.6 588.1,618.3 589.7,621.1 591.3,623.9 592.9,626.6 594.5,629.4 596.0,632.1 597.6,634.8 599.2,637.5 600.8,640.2 602.3,642.9 603.8,645.6 605.2,648.3 606.7,651.0 608.1,653.7 609.5,656.4 610.9,659.1 612.3,661.8 613.6,664.5 615.0,667.2 616.3,669.9 617.6,672.6 618.8,675.3 620.1,678.0 621.3,680.7 622.6,683.4 623.8,686.1 625.0,688.8 626.1,691.5 627.3,694.2 628.5,696.9 629.6,699.6 630.7,702.3 631.8,705.0 632.9,707.7 634.0,710.4 635.1,713.1 636.1,715.8 637.2,718.5 638.2,721.2 639.2,724.0 640.3,726.7 641.3,729.4 642.2,732.1 643.2,734.8 644.2,737.5 645.2,740.2 646.1,742.9 647.1,745.6 648.0,748.3 648.9,751.0 649.8,753.7 650.7,756.4 651.6,759.1 652.5,761.8 653.4,764.5 654.3,767.2 655.1,769.9 656.0,772.6 656.8,775.3 657.7,778.0 658.5,780.7 659.3,783.5 660.2,786.2 661.0,788.9 661.8,791.6 662.6,794.3 663.4,797.0 664.2,799.7 664.9,802.4 665.7,805.1 666.5,807.8 667.2,810.5 668.0,813.2 668.7,815.9 669.5,818.6 670.2,821.3 670.9,824.0 671.7,826.7 672.4,829.4 673.1,832.1 673.8,834.8 674.5,837.5 675.2,840.2 675.9,842.9 676.6,845.6 677.3,848.3 677.9,851.0 678.6,853.7 679.3,856.4 679.9,859.1 680.6,861.8 681.2,864.5 681.9,867.2 682.5,870.0 683.2,872.7 683.8,875.4 684.4,878.1 685.1,880.8 685.7,883.5 686.3,886.2 686.9,888.9 672.3,892.1 671.7,889.4 671.1,886.8 670.5,884.1 669.9,881.4 669.3,878.7 668.7,876.0 668.0,873.3 667.4,870.7 666.8,868.0 666.1,865.3 665.5,862.6 664.8,859.9 664.2,857.3 663.5,854.6 662.8,851.9 662.2,849.2 661.5,846.5 660.8,843.9 660.1,841.2 659.4,838.5 658.7,835.8 658.0,833.1 657.3,830.5 656.6,827.8 655.9,825.1 655.2,822.4 654.5,819.8 653.7,817.1 653.0,814.4 652.3,811.7 651.5,809.0 650.8,806.4 650.0,803.7 649.2,801.0 648.4,798.3 647.7,795.7 646.9,793.0 646.1,790.3 645.3,787.6 644.5,785.0 643.7,782.3 642.9,779.6 642.0,777.0 641.2,774.3 640.3,771.6 639.5,768.9 638.6,766.3 637.8,763.6 636.9,760.9 636.0,758.3 635.1,755.6 634.2,752.9 633.3,750.2 632.4,747.6 631.5,744.9 630.6,742.2 629.6,739.6 628.7,736.9 627.7,734.2 626.7,731.6 625.8,728.9 624.8,726.2 623.8,723.6 622.8,720.9 621.7,718.3 620.7,715.6 619.7,712.9 618.6,710.3 617.5,707.6 616.4,704.9 615.4,702.3 614.3,699.6 613.1,697.0 612.0,694.3 610.9,691.7 609.7,689.0 608.5,686.3 607.3,683.7 606.1,681.0 604.9,678.4 603.7,675.7 602.4,673.1 601.2,670.4 599.9,667.8 598.6,665.1 597.3,662.5 595.9,659.8 594.6,657.2 593.2,654.5 591.8,651.9 590.4,649.3 589.0,646.6 587.5,644.0 586.0,641.3 584.5,638.7 583.0,636.1 581.4,633.4 579.9,630.8 578.3,628.1 576.6,625.5 575.0,622.9 573.3,620.2 571.6,617.6 569.8,615.0 568.0,612.3 566.2,609.7 564.4,607.1 562.5,604.5 560.5,601.8 558.6,599.2 556.6,596.6 554.5,594.0 552.4,591.3 550.3,588.7 548.1,586.1 545.8,583.4 543.5,580.8 541.2,578.2 538.7,575.6 536.2,572.9 533.7,570.3 531.0,567.7 528.3,565.1 525.5,562.4 522.7,559.8 519.7,557.1 516.6,554.5 513.4,551.9 510.1,549.2 506.7,546.6 503.1,543.9 499.4,541.2 495.6,538.6 491.5,535.9 487.3,533.2 482.8,530.5 478.1,527.8 473.2,525.1 467.9,522.3" fill="#0000ff"/>
<path d="M112.3 471.8L161.3 472.5M177.3 472.8L199.3 473.3M215.3 473.7L226.3 474.1M242.3 474.7L247.2 474.9M263.2 475.7L264.3 475.7" fill="none" stroke="#0000ff" stroke-width="3.0" stroke-linecap="round"/>
<polyline points="104.3,471.7 169.3,472.6 207.3,473.5 234.3,474.4 255.2,475.3 272.3,476.2 286.8,477.1 299.3,478.0 310.3,478.9 320.2,479.8 329.1,480.7 337.3,481.6 344.8,482.5 351.7,483.3 358.2,484.2 364.3,485.1 370.0,486.0 375.3,486.9 380.4,487.8 385.2,488.7 389.8,489.6 394.1,490.5 398.3,491.4 402.3,492.3 406.1,493.2 409.8,494.1 413.3,495.0 416.7,495.9 420.0,496.8 423.2,497.8 426.3,498.6 429.2,499.6 432.2,500.4 434.9,501.4 437.7,502.1 440.3,503.2 442.9,503.9 445.3,505.0 447.9,505.7 450.1,506.8 452.6,507.5 454.7,508.6 457.0,509.3 459.1,510.4 461.3,511.0 463.2,512.3 465.4,512.8 467.2,514.1 469.3,514.6 471.0,515.9 473.1,516.4 474.7,517.7 476.7,518.2 478.2,519.5 480.2,520.0 481.6,521.3 483.5,521.7 484.9,523.1 486.8,523.5 488.1,524.9 489.9,525.3 491.1,526.7 492.9,527.1 494.1,528.5 495.9,528.9 497.0,530.3 498.7,530.7 499.8,532.1 501.5,532.5 502.5,533.9 504.2,534.3 505.1,535.7 506.8,536.1 507.7,537.5 509.3,537.9 510.2,539.3 511.8,539.7 512.6,541.1 514.2,541.5 515.0,542.9 516.5,543.3 517.3,544.7 518.8,545.1 519.6,546.5 521.1,546.9 521.8,548.3 523.2,548.7 523.9,550.1 525.4,550.5 526.0,551.8 527.5,552.3 528.1,553.6 529.5,554.1 530.1,555.4 531.5,555.9 532.1,557.2 533.4,557.7 534.0,559.0 535.4,559.5 535.9,560.8 537.2,561.3 537.7,562.6 539.1,563.1 539.6,564.4 540.9,564.9 541.3,566.2 542.7,566.7 543.1,568.0 544.4,568.5 544.8,569.8 546.1,570.3 546.5,571.6 547.8,572.1 548.2,573.4 549.4,573.9 549.8,575.2 551.0,575.7 551.4,577.0 552.6,577.5 553.0,578.8 554.2,579.3 554.5,580.6 555.7,581.1 556.0,582.4 557.3,582.9 557.5,584.1 558.7,584.7 559.0,585.9 560.2,586.5 560.5,587.7 561.7,588.3 561.9,589.5 563.1,590.1 563.3,591.3 564.5,591.9 564.7,593.1 565.9,593.7 566.1,594.9 567.2,595.5 567.4,596.7 568.6,597.3 568.7,598.5 569.9,599.1 570.0,600.3 571.2,600.9 571.3,602.1 572.5,602.6 572.6,603.9 573.7,604.4 573.9,605.7 575.0,606.2 575.1,607.5 576.2,608.0 576.3,609.3 577.4,609.8 577.5,611.1 578.6,611.6 578.7,612.9 579.8,613.4 579.9,614.7 581.0,615.2 581.1,616.5 582.2,617.0 582.2,618.3 583.3,618.8 583.4,620.0 584.4,620.6 584.5,621.8 585.6,622.4 585.6,623.6 586.7,624.2 586.7,625.4 587.8,626.0 587.8,627.2 588.8,627.8 588.8,629.0 589.9,629.6 589.9,630.8 591.0,631.4 591.0,632.6 592.0,633.2 592.0,634.4 593.0,635.0 593.0,636.2 594.0,636.8 594.0,638.0 595.1,638.6 595.0,639.8 596.1,640.4 596.0,641.6 597.0,642.2 597.0,643.4 598.0,644.0 598.0,645.2 599.0,645.8 598.9,647.0 599.9,647.6 599.9,648.8 600.9,649.4 600.8,650.6 601.8,651.2 601.8,652.4 602.8,653.0 602.7,654.2 603.7,654.8 603.6,656.0 604.6,656.6 604.5,657.8 605.5,658.4 605.4,659.5 606.4,660.2 606.3,661.3 607.3,662.0 607.2,663.1 608.1,663.8 608.0,664.9 609.0,665.6 608.9,666.7 609.9,667.4 609.8,668.5 610.7,669.2 610.6,670.3 611.6,671.0 611.4,672.1 612.4,672.8 612.3,673.9 613.2,674.6 613.1,675.7 614.1,676.4 613.9,677.5 614.9,678.2 614.7,679.3 615.7,680.0 615.5,681.1 616.5,681.8 616.3,682.9 617.3,683.5 617.1,684.7 618.1,685.3 617.9,686.5 618.9,687.1 618.7,688.3 619.6,688.9 619.5,690.1 620.4,690.7 620.2,691.9 621.2,692.5 621.0,693.7 621.9,694.3 621.7,695.5 622.7,696.1 622.5,697.3 623.4,697.9 623.2,699.1 624.1,699.7 624.0,700.8 624.9,701.5 624.7,702.6 625.6,703.3 625.4,704.4 626.3,705.1 626.1,706.2 627.0,706.9 626.8,708.0 627.8,708.7 627.6,709.8 628.5,710.5 628.3,711.6 629.2,712.3 629.0,713.4 629.9,714.1 629.6,715.2 630.5,715.9 630.3,717.0 631.2,717.7 631.0,718.8 631.9,719.5 631.7,720.6 632.6,721.3 632.4,722.4 633.3,723.1 633.0,724.2 633.9,724.9 633.7,726.0 634.6,726.7 634.3,727.8 635.2,728.5 635.0,729.6 635.9,730.3 635.6,731.4 636.5,732.1 636.3,733.2 637.2,733.9 636.9,735.0 637.8,735.7 637.6,736.8 638.5,737.5 638.2,738.6 639.1,739.3 638.8,740.4 639.7,741.1 639.4,742.2 640.3,742.9 640.1,744.0 640.9,744.7 640.7,745.7 641.6,746.5 641.3,747.5 642.2,748.2 641.9,749.3 642.8,750.0 642.5,751.1 643.4,751.8 643.1,752.9 644.0,753.6 643.7,754.7 644.6,755.4 644.3,756.5 645.2,757.2 644.9,758.3 645.7,759.0 645.5,760.1 646.3,760.8 646.0,761.9 646.9,762.6 646.6,763.7 647.5,764.4 647.2,765.5 648.0,766.2 647.8,767.3 648.6,768.0 648.3,769.1 649.2,769.8 648.9,770.9 649.7,771.6 649.5,772.7 650.3,773.4 650.0,774.5 650.9,775.2 650.6,776.3 651.4,777.0 651.1,778.1 652.0,778.8 651.7,779.9 652.5,780.6 652.2,781.7 653.0,782.4 652.7,783.5 653.6,784.2 653.3,785.3 654.1,786.0 653.8,787.1 654.7,787.8 654.3,788.9 655.2,789.6 654.9,790.7 655.7,791.4 655.4,792.4 656.2,793.2 655.9,794.2 656.8,795.0 656.4,796.0 657.3,796.8 657.0,797.8 657.8,798.6 657.5,799.6 658.3,800.4 658.0,801.4 658.8,802.2 658.5,803.2 659.3,804.0 659.0,805.0 659.8,805.8 659.5,806.8 660.3,807.6 660.0,808.6 660.8,809.3 660.5,810.4 661.3,811.1 661.0,812.2 661.8,812.9 661.5,814.0 662.3,814.7 662.0,815.8 662.8,816.5 662.5,817.6 663.3,818.3 662.9,819.4 663.8,820.1 663.4,821.2 664.2,821.9 663.9,823.0 664.7,823.7 664.4,824.8 665.2,825.5 664.9,826.6 665.7,827.3 665.3,828.4 666.1,829.1 665.8,830.2 666.6,830.9 666.3,832.0 667.1,832.7 666.7,833.8 667.5,834.5 667.2,835.6 668.0,836.3 667.7,837.4 668.5,838.1 668.1,839.1 668.9,839.9 668.6,840.9 669.4,841.7 669.0,842.7 669.8,843.5 669.5,844.5 670.3,845.3 669.9,846.3 670.7,847.1 670.4,848.1 671.2,848.9 670.8,849.9 671.6,850.7 671.3,851.7 672.1,852.5 671.7,853.5 672.5,854.3 672.1,855.3 672.9,856.1 672.6,857.1 673.4,857.9 673.0,858.9 673.8,859.7 673.4,860.7 674.2,861.5 673.9,862.5 674.7,863.3 674.3,864.3 675.1,865.1 674.7,866.1 675.5,866.9 675.2,867.9 676.0,868.6 675.6,869.7 676.4,870.4 676.0,871.5 676.8,872.2 676.4,873.3 677.2,874.0 676.8,875.1 677.6,875.8 677.3,876.9 678.0,877.6 677.7,878.7 678.5,879.4 678.1,880.5 678.9,881.2 678.5,882.3 679.3,883.0 678.9,884.1 679.7,884.8 679.3,885.9 680.1,886.6 679.7,887.6" fill="none" stroke="none" marker-start="url(#mc2)" marker-mid="url(#mc2)" marker-end="url(#mc2)"/>
<polyline points="426.3,507.8 429.2,508.9 432.2,509.7 434.9,510.8 437.7,511.5 440.3,512.6 442.9,513.4 445.3,514.5 447.9,515.2 450.1,516.4 452.6,517.1 454.7,518.3 457.0,518.9 459.1,520.2" fill="none" stroke="#ff00ff" stroke-width="3.6"/>
<polyline points="457.0,518.9 459.1,520.2 461.3,520.8 463.2,522.1 465.4,522.6 467.2,523.9 469.3,524.5 471.0,525.8 473.1,526.4 474.7,527.7 476.7,528.2 478.2,529.6 480.2,530.1 481.6,531.5 483.5,531.9 484.9,533.3 486.8,533.8 488.0,535.2" fill="none" stroke="#ff00ff" stroke-width="8" stroke-linejoin="round"/>
<polygon points="474.4,519.0 480.1,521.7 485.5,524.5 490.6,527.3 495.4,530.1 500.1,532.9 504.5,535.7 508.7,538.6 512.7,541.4 516.6,544.3 520.4,547.1 524.0,550.0 527.5,552.8 530.8,555.7 534.0,558.5 537.2,561.4 540.2,564.3 543.2,567.1 546.0,570.0 548.8,572.9 551.5,575.8 554.1,578.6 556.7,581.5 559.1,584.4 561.5,587.3 563.9,590.1 566.2,593.0 568.4,595.9 570.6,598.7 572.8,601.6 574.9,604.5 576.9,607.4 578.9,610.2 580.9,613.1 582.8,616.0 584.7,618.8 586.5,621.7 588.3,624.6 590.1,627.4 591.8,630.3 593.5,633.1 595.2,636.0 596.8,638.9 598.5,641.7 600.0,644.6 601.6,647.4 603.1,650.3 604.6,653.1 606.1,656.0 607.6,658.8 609.0,661.7 610.4,664.5 611.8,667.4 613.2,670.2 614.6,673.1 615.9,675.9 617.2,678.8 618.5,681.6 619.8,684.5 621.1,687.3 622.3,690.2 623.5,693.0 624.7,695.8 625.9,698.7 627.1,701.5 628.3,704.4 629.4,707.2 630.6,710.0 631.7,712.9 632.8,715.7 633.9,718.5 635.0,721.4 636.0,724.2 637.1,727.0 638.1,729.9 639.2,732.7 640.2,735.5 641.2,738.4 642.2,741.2 643.2,744.0 644.2,746.9 645.1,749.7 646.1,752.5 647.0,755.3 648.0,758.2 648.9,761.0 649.8,763.8 650.7,766.7 651.6,769.5 652.5,772.3 653.4,775.1 654.3,778.0 655.2,780.8 656.0,783.6 656.9,786.4 657.7,789.3 658.6,792.1 659.4,794.9 660.2,797.7 661.0,800.5 661.8,803.4 662.6,806.2 663.4,809.0 664.2,811.8 665.0,814.6 665.8,817.5 666.5,820.3 667.3,823.1 668.1,825.9 668.8,828.7 669.6,831.6 670.3,834.4 671.0,837.2 671.7,840.0 672.5,842.8 673.2,845.7 673.9,848.5 674.6,851.3 675.3,854.1 676.0,856.9 676.7,859.7 677.4,862.6 678.0,865.4 678.7,868.2 679.4,871.0 680.0,873.8 680.7,876.6 681.3,879.4 682.0,882.3 682.6,885.1 683.3,887.9 668.7,891.2 668.1,888.4 667.5,885.6 666.8,882.8 666.2,880.0 665.5,877.2 664.9,874.4 664.2,871.7 663.6,868.9 662.9,866.1 662.2,863.3 661.6,860.5 660.9,857.7 660.2,854.9 659.5,852.1 658.8,849.3 658.1,846.5 657.4,843.7 656.7,840.9 656.0,838.1 655.2,835.3 654.5,832.6 653.8,829.8 653.0,827.0 652.3,824.2 651.5,821.4 650.8,818.6 650.0,815.8 649.3,813.0 648.5,810.2 647.7,807.4 646.9,804.6 646.1,801.8 645.3,799.0 644.5,796.3 643.7,793.5 642.9,790.7 642.0,787.9 641.2,785.1 640.3,782.3 639.5,779.5 638.6,776.7 637.8,773.9 636.9,771.1 636.0,768.3 635.1,765.5 634.2,762.8 633.3,760.0 632.4,757.2 631.4,754.4 630.5,751.6 629.6,748.8 628.6,746.0 627.6,743.2 626.7,740.4 625.7,737.6 624.7,734.8 623.7,732.1 622.6,729.3 621.6,726.5 620.6,723.7 619.5,720.9 618.4,718.1 617.4,715.3 616.3,712.5 615.2,709.7 614.0,706.9 612.9,704.1 611.8,701.4 610.6,698.6 609.4,695.8 608.2,693.0 607.0,690.2 605.8,687.4 604.6,684.6 603.3,681.8 602.1,679.0 600.8,676.2 599.5,673.4 598.1,670.6 596.8,667.8 595.4,665.0 594.1,662.2 592.7,659.4 591.2,656.6 589.8,653.8 588.3,651.1 586.8,648.3 585.3,645.4 583.7,642.7 582.0,639.9 580.3,637.2 578.6,634.4 576.8,631.7 575.1,629.0 573.2,626.2 571.4,623.5 569.5,620.8 567.5,618.0 565.6,615.3 563.5,612.6 561.5,609.9 559.4,607.2 557.2,604.5 555.0,601.8 552.8,599.1 550.5,596.4 548.1,593.7 545.7,591.0 543.3,588.3 540.7,585.6 538.1,582.9 535.4,580.2 532.7,577.6 529.9,574.9 527.0,572.2 524.0,569.6 520.9,566.9 517.7,564.2 514.4,561.6 511.0,558.9 507.4,556.3 503.7,553.6 499.9,551.0 495.9,548.4 491.8,545.7 487.4,543.1 482.8,540.5 478.1,537.8 473.0,535.1 467.7,532.5" fill="#ff00ff"/>
<path d="M112.3 480.0L161.3 480.7M177.3 481.0L199.3 481.5M215.3 482.0L226.3 482.4M242.3 483.0L247.2 483.2M263.2 484.0L264.3 484.1" fill="none" stroke="#ff00ff" stroke-width="3.4" stroke-linecap="round"/>
<polyline points="104.3,479.9 169.3,480.8 207.3,481.7 234.3,482.7 255.2,483.6 272.3,484.5 286.8,485.5 299.3,486.4 310.3,487.3 320.2,488.3 329.1,489.2 337.3,490.1 344.8,491.1 351.7,492.0 358.2,492.9 364.3,493.9 370.0,494.8 375.3,495.7 380.4,496.7 385.2,497.6 389.8,498.5 394.1,499.5 398.3,500.4 402.3,501.3 406.1,502.3 409.8,503.2 413.3,504.1 416.7,505.1 420.0,506.0 423.2,507.0 426.3,507.8 429.2,508.9 432.2,509.7 434.9,510.8 437.7,511.5 440.3,512.6 442.9,513.4 445.3,514.5 447.9,515.2 450.1,516.4 452.6,517.1 454.7,518.3 457.0,518.9 459.1,520.2 461.3,520.8 463.2,522.1 465.4,522.6 467.2,523.9 469.3,524.5 471.0,525.8 473.1,526.4 474.7,527.7 476.7,528.2 478.2,529.6 480.2,530.1 481.6,531.5 483.5,531.9 484.9,533.3 486.8,533.8 488.0,535.2 489.9,535.6 491.1,537.1 492.9,537.5 494.1,538.9 495.9,539.4 497.0,540.8 498.7,541.2 499.8,542.7 501.5,543.1 502.5,544.5 504.2,545.0 505.1,546.4 506.8,546.9 507.7,548.3 509.3,548.7 510.2,550.1 511.8,550.6 512.6,552.0 514.2,552.5 515.0,553.9 516.5,554.3 517.3,555.7 518.8,556.2 519.6,557.6 521.1,558.1 521.8,559.5 523.2,559.9 523.9,561.3 525.4,561.8 526.0,563.2 527.5,563.7 528.1,565.1 529.5,565.6 530.1,566.9 531.5,567.4 532.1,568.8 533.5,569.3 534.0,570.7 535.4,571.2 535.9,572.5 537.2,573.0 537.7,574.4 539.1,574.9 539.6,576.3 540.9,576.8 541.3,578.1 542.7,578.6 543.1,580.0 544.4,580.5 544.8,581.8 546.1,582.4 546.5,583.7 547.8,584.2 548.2,585.6 549.4,586.1 549.8,587.4 551.0,588.0 551.4,589.3 552.6,589.9 553.0,591.2 554.2,591.7 554.5,593.0 555.7,593.6 556.0,594.9 557.3,595.5 557.5,596.8 558.7,597.3 559.0,598.6 560.2,599.2 560.5,600.5 561.7,601.1 561.9,602.4 563.1,602.9 563.3,604.2 564.5,604.8 564.7,606.1 565.9,606.7 566.1,608.0 567.2,608.5 567.4,609.8 568.6,610.4 568.7,611.7 569.9,612.3 570.0,613.6 571.2,614.2 571.3,615.4 572.5,616.0 572.6,617.3 573.7,617.9 573.9,619.2 575.0,619.8 575.1,621.0 576.2,621.6 576.3,622.9 577.4,623.5 577.5,624.8 578.6,625.4 578.7,626.6 579.8,627.2 579.9,628.5 581.0,629.1 581.1,630.4 582.2,631.0 582.2,632.2 583.3,632.8 583.4,634.1 584.4,634.7 584.5,636.0 585.6,636.6 585.6,637.8 586.7,638.5 586.7,639.7 587.8,640.3 587.8,641.6 588.8,642.2 588.8,643.4 589.9,644.1 589.9,645.3 591.0,645.9 591.0,647.2 592.0,647.8 592.0,649.0 593.0,649.7 593.0,650.9 594.0,651.5 594.0,652.8 595.1,653.4 595.0,654.6 596.1,655.3 596.0,656.5 597.0,657.1 597.0,658.3 598.0,659.0 598.0,660.2 599.0,660.9 598.9,662.1 599.9,662.7 599.9,663.9 600.9,664.6 600.8,665.8 601.8,666.5 601.8,667.7 602.8,668.3 602.7,669.5 603.7,670.2 603.6,671.4 604.6,672.1 604.5,673.3 605.5,674.0 605.4,675.1 606.4,675.8 606.3,677.0 607.3,677.7 607.2,678.9 608.1,679.6 608.0,680.7 609.0,681.4 608.9,682.6 609.9,683.3 609.8,684.5 610.7,685.2 610.6,686.3 611.6,687.0 611.4,688.2 612.4,688.9 612.3,690.1 613.2,690.8 613.1,691.9 614.1,692.6 613.9,693.8 614.9,694.5 614.7,695.7 615.7,696.4 615.5,697.5 616.5,698.2 616.3,699.4 617.3,700.1 617.1,701.3 618.1,702.0 617.9,703.1 618.9,703.8 618.7,705.0 619.6,705.7 619.5,706.9 620.4,707.6 620.2,708.7 621.2,709.5 621.0,710.6 621.9,711.3 621.7,712.5 622.7,713.2 622.5,714.3 623.4,715.1 623.2,716.2 624.2,716.9 624.0,718.1 624.9,718.8 624.7,719.9 625.6,720.7 625.4,721.8 626.3,722.5 626.1,723.7 627.0,724.4 626.8,725.5 627.8,726.3 627.6,727.4 628.5,728.1 628.3,729.3 629.2,730.0 629.0,731.1 629.9,731.9 629.6,733.0 630.5,733.7 630.3,734.9 631.2,735.6 631.0,736.7 631.9,737.5 631.7,738.6 632.6,739.3 632.4,740.5 633.3,741.2 633.0,742.3 633.9,743.1 633.7,744.2 634.6,744.9 634.3,746.1 635.2,746.8 635.0,747.9 635.9,748.7 635.6,749.8 636.5,750.6 636.3,751.7 637.2,752.4 636.9,753.5 637.8,754.3 637.6,755.4 638.5,756.2 638.2,757.3 639.1,758.0 638.8,759.1 639.7,759.9 639.4,761.0 640.3,761.8 640.1,762.9 640.9,763.6 640.7,764.7 641.6,765.5 641.3,766.6 642.2,767.4 641.9,768.5 642.8,769.2 642.5,770.3 643.4,771.1 643.1,772.2 644.0,773.0 643.7,774.1 644.6,774.8 644.3,775.9 645.2,776.7 644.9,777.8 645.7,778.6 645.5,779.7 646.3,780.4 646.0,781.6 646.9,782.3 646.6,783.4 647.5,784.2 647.2,785.3 648.0,786.0 647.8,787.2 648.6,787.9 648.3,789.0 649.2,789.8 648.9,790.9 649.7,791.6 649.4,792.8 650.3,793.5 650.0,794.6 650.9,795.4 650.6,796.5 651.4,797.2 651.1,798.4 652.0,799.1 651.7,800.2 652.5,801.0 652.2,802.1 653.0,802.9 652.7,804.0 653.6,804.7 653.3,805.8 654.1,806.6 653.8,807.7 654.7,808.5 654.3,809.6 655.2,810.3 654.9,811.4 655.7,812.2 655.4,813.3 656.2,814.1 655.9,815.2 656.8,815.9 656.4,817.0 657.3,817.8 657.0,818.9 657.8,819.7 657.5,820.8 658.3,821.5 658.0,822.6 658.8,823.4 658.5,824.5 659.3,825.3 659.0,826.4 659.8,827.1 659.5,828.2 660.3,829.0 660.0,830.1 660.8,830.9 660.5,832.0 661.3,832.7 661.0,833.8 661.8,834.6 661.5,835.7 662.3,836.5 662.0,837.6 662.8,838.3 662.5,839.4 663.3,840.2 662.9,841.3 663.8,842.1 663.4,843.2 664.2,843.9 663.9,845.0 664.7,845.8 664.4,846.9 665.2,847.7 664.9,848.8 665.7,849.5 665.3,850.6 666.1,851.4 665.8,852.5 666.6,853.3 666.3,854.4 667.1,855.2 666.7,856.2 667.5,857.0 667.2,858.1 668.0,858.9 667.7,860.0 668.5,860.8 668.1,861.8 668.9,862.6 668.6,863.7 669.4,864.5 669.0,865.6 669.8,866.4 669.5,867.4 670.3,868.2 669.9,869.3 670.7,870.1 670.4,871.2 671.2,872.0 670.8,873.0 671.6,873.8 671.3,874.9 672.1,875.7 671.7,876.8 672.5,877.6 672.1,878.6 672.9,879.4 672.6,880.5 673.4,881.3 673.0,882.4 673.8,883.2 673.4,884.2 674.2,885.0 673.9,886.1 674.7,886.9 674.3,888.0" fill="none" stroke="none" marker-start="url(#mc3)" marker-mid="url(#mc3)" marker-end="url(#mc3)"/>
<polyline points="426.4,517.7 429.2,519.2 432.2,519.7 434.8,521.3 437.8,521.7 440.2,523.5 443.0,523.8 445.2,525.7 448.0,525.8 450.0,527.8 452.7,527.8 454.5,530.0 457.3,529.8 458.8,532.1" fill="none" stroke="#808000" stroke-width="3.6"/>
<polyline points="457.3,529.8 458.8,532.1 461.6,531.9 462.9,534.3 465.7,533.9 466.9,536.4 469.6,535.9 470.7,538.5 473.4,537.9 474.3,540.7 477.1,540.0 477.8,542.8 480.6,542.0 481.1,545.0 484.0,544.0 484.4,547.1 487.3,546.1 487.5,549.3" fill="none" stroke="#808000" stroke-width="8" stroke-linejoin="round"/>
<polygon points="474.8,531.0 480.5,534.2 485.8,537.5 490.9,540.7 495.6,544.0 500.1,547.3 504.4,550.6 508.5,553.9 512.5,557.2 516.2,560.5 519.8,563.8 523.3,567.1 526.7,570.4 529.9,573.6 533.0,576.9 536.0,580.2 539.0,583.5 541.8,586.7 544.6,589.9 547.4,593.1 550.0,596.3 552.7,599.4 555.2,602.6 557.7,605.7 560.1,608.9 562.5,612.1 564.8,615.2 567.0,618.4 569.2,621.6 571.4,624.7 573.5,627.9 575.5,631.1 577.6,634.2 579.5,637.4 581.5,640.6 583.3,643.7 585.2,646.9 587.0,650.1 588.8,653.2 590.5,656.4 592.3,659.6 593.9,662.7 595.6,665.9 597.2,669.1 598.8,672.2 600.4,675.4 601.9,678.6 603.5,681.7 605.0,684.9 606.4,688.1 607.9,691.2 609.3,694.4 610.7,697.5 612.1,700.7 613.5,703.9 614.8,707.0 616.1,710.2 617.4,713.3 618.7,716.5 620.0,719.7 621.2,722.8 622.5,726.0 623.7,729.1 624.9,732.3 626.1,735.4 627.3,738.6 628.4,741.8 629.6,744.9 630.7,748.1 631.8,751.2 632.9,754.4 634.0,757.5 635.1,760.7 636.2,763.8 637.2,767.0 638.3,770.1 639.3,773.3 640.3,776.4 641.3,779.6 642.3,782.7 643.3,785.9 644.3,789.0 645.3,792.2 646.2,795.3 647.2,798.5 648.1,801.6 649.0,804.8 650.0,807.9 650.9,811.1 651.8,814.2 652.7,817.4 653.5,820.5 654.4,823.7 655.3,826.8 656.1,830.0 657.0,833.1 657.8,836.3 658.7,839.4 659.5,842.6 660.3,845.7 661.1,848.8 662.0,852.0 662.8,855.1 663.6,858.3 664.3,861.4 665.1,864.6 665.9,867.7 666.7,870.9 667.4,874.0 668.2,877.1 668.9,880.3 669.7,883.4 670.4,886.6 671.1,889.7 655.8,893.3 655.1,890.1 654.4,887.0 653.6,883.9 652.9,880.8 652.1,877.7 651.4,874.6 650.6,871.4 649.9,868.3 649.1,865.2 648.3,862.1 647.6,859.0 646.8,855.9 646.0,852.7 645.2,849.6 644.4,846.5 643.6,843.4 642.7,840.3 641.9,837.2 641.1,834.1 640.2,830.9 639.4,827.8 638.5,824.7 637.7,821.6 636.8,818.5 635.9,815.4 635.0,812.3 634.1,809.1 633.2,806.0 632.3,802.9 631.4,799.8 630.4,796.7 629.5,793.6 628.5,790.5 627.6,787.4 626.6,784.3 625.6,781.1 624.6,778.0 623.6,774.9 622.6,771.8 621.6,768.7 620.6,765.6 619.5,762.5 618.4,759.4 617.4,756.3 616.3,753.2 615.2,750.1 614.1,747.0 613.0,743.8 611.8,740.7 610.7,737.6 609.5,734.5 608.3,731.4 607.1,728.3 605.9,725.2 604.7,722.1 603.5,719.0 602.2,715.9 600.9,712.8 599.7,709.7 598.3,706.6 597.0,703.5 595.7,700.4 594.3,697.3 592.9,694.2 591.5,691.1 590.1,688.0 588.6,684.9 587.2,681.8 585.7,678.7 584.2,675.6 582.6,672.5 581.0,669.4 579.5,666.3 577.8,663.2 576.2,660.2 574.5,657.1 572.8,654.0 571.0,650.9 569.3,647.8 567.5,644.7 565.6,641.6 563.7,638.5 561.8,635.4 559.8,632.3 557.8,629.2 555.8,626.1 553.7,623.0 551.6,619.9 549.4,616.8 547.1,613.7 544.8,610.6 542.4,607.5 540.0,604.4 537.5,601.3 535.0,598.2 532.3,595.2 529.4,592.2 526.5,589.2 523.5,586.2 520.4,583.2 517.2,580.2 513.9,577.3 510.5,574.3 507.0,571.3 503.3,568.4 499.4,565.4 495.5,562.4 491.3,559.5 486.9,556.5 482.4,553.6 477.7,550.5 472.7,547.5 467.4,544.4" fill="#808000"/>
<path d="M112.3 486.7L161.3 487.5M177.3 487.9L199.3 488.5M215.3 489.0L226.3 489.4M242.3 490.1L247.2 490.4M263.2 491.3L264.3 491.3" fill="none" stroke="#808000" stroke-width="3.1" stroke-linecap="round"/>
<polyline points="104.3,486.6 169.3,487.6 207.3,488.7 234.3,489.7 255.2,490.8 272.3,491.8 286.8,492.9 299.3,493.9 310.3,494.9 320.2,496.0 329.1,497.0 337.3,498.1 344.8,499.1 351.7,500.2 358.2,501.2 364.3,502.3 370.0,503.3 375.3,504.3 380.4,505.4 385.2,506.4 389.8,507.5 394.1,508.5 398.3,509.6 402.3,510.6 406.1,511.6 409.8,512.7 413.4,513.7 416.7,514.9 420.1,515.7 423.2,517.0 426.4,517.7 429.2,519.2 432.2,519.7 434.8,521.3 437.8,521.7 440.2,523.5 443.0,523.8 445.2,525.7 448.0,525.8 450.0,527.8 452.7,527.8 454.5,530.0 457.3,529.8 458.8,532.1 461.6,531.9 462.9,534.3 465.7,533.9 466.9,536.4 469.6,535.9 470.7,538.5 473.4,537.9 474.3,540.7 477.1,540.0 477.8,542.8 480.6,542.0 481.1,545.0 484.0,544.0 484.4,547.1 487.3,546.1 487.5,549.3 490.5,548.1 490.5,551.3 493.5,550.2 493.5,553.4 496.5,552.3 496.4,555.5 499.3,554.4 499.2,557.6 502.1,556.5 501.9,559.6 504.8,558.6 504.5,561.7 507.4,560.7 507.0,563.8 510.0,562.8 509.5,565.9 512.4,564.9 512.0,567.9 514.9,567.0 514.3,570.0 517.2,569.1 516.6,572.1 519.5,571.2 518.9,574.2 521.8,573.3 521.1,576.2 523.9,575.4 523.2,578.3 526.1,577.5 525.3,580.4 528.2,579.6 527.4,582.5 530.2,581.7 529.4,584.5 532.2,583.8 531.3,586.6 534.2,585.9 533.2,588.7 536.1,588.0 535.1,590.8 538.0,590.1 537.0,592.9 539.9,592.2 538.8,594.9 541.7,594.3 540.6,597.0 543.4,596.4 542.3,599.1 545.2,598.5 544.0,601.2 546.9,600.6 545.7,603.2 548.6,602.7 547.4,605.3 550.2,604.8 549.0,607.4 551.9,606.9 550.6,609.5 553.4,609.0 552.2,611.6 555.0,611.1 553.7,613.6 556.6,613.1 555.2,615.7 558.1,615.2 556.7,617.8 559.6,617.3 558.2,619.9 561.0,619.4 559.6,622.0 562.5,621.5 561.1,624.0 563.9,623.6 562.5,626.1 565.3,625.7 563.8,628.2 566.7,627.8 565.2,630.3 568.1,629.9 566.6,632.4 569.4,632.0 567.9,634.4 570.7,634.1 569.2,636.5 572.0,636.2 570.5,638.6 573.3,638.3 571.7,640.7 574.6,640.4 573.0,642.8 575.9,642.5 574.2,644.8 577.1,644.6 575.5,646.9 578.3,646.7 576.7,649.0 579.5,648.7 577.9,651.1 580.7,650.8 579.0,653.2 581.9,652.9 580.2,655.2 583.0,655.0 581.3,657.3 584.2,657.1 582.5,659.4 585.3,659.2 583.6,661.5 586.4,661.3 584.7,663.6 587.6,663.4 585.8,665.6 588.6,665.5 586.9,667.7 589.7,667.6 587.9,669.8 590.8,669.7 589.0,671.9 591.9,671.8 590.1,674.0 592.9,673.9 591.1,676.1 593.9,676.0 592.1,678.1 595.0,678.0 593.1,680.2 596.0,680.1 594.1,682.3 597.0,682.2 595.1,684.4 598.0,684.3 596.1,686.5 598.9,686.4 597.1,688.6 599.9,688.5 598.0,690.6 600.9,690.6 599.0,692.7 601.8,692.7 599.9,694.8 602.7,694.8 600.8,696.9 603.7,696.9 601.8,699.0 604.6,699.0 602.7,701.0 605.5,701.1 603.6,703.1 606.4,703.1 604.5,705.2 607.3,705.2 605.4,707.3 608.2,707.3 606.2,709.4 609.1,709.4 607.1,711.5 609.9,711.5 608.0,713.5 610.8,713.6 608.8,715.6 611.7,715.7 609.7,717.7 612.5,717.8 610.5,719.8 613.3,719.9 611.3,721.9 614.2,722.0 612.2,724.0 615.0,724.1 613.0,726.0 615.8,726.1 613.8,728.1 616.6,728.2 614.6,730.2 617.4,730.3 615.4,732.3 618.2,732.4 616.2,734.4 619.0,734.5 617.0,736.5 619.8,736.6 617.7,738.5 620.6,738.7 618.5,740.6 621.3,740.8 619.3,742.7 622.1,742.9 620.0,744.8 622.9,745.0 620.8,746.9 623.6,747.0 621.5,749.0 624.4,749.1 622.3,751.0 625.1,751.2 623.0,753.1 625.8,753.3 623.7,755.2 626.6,755.4 624.5,757.3 627.3,757.5 625.2,759.4 628.0,759.6 625.9,761.5 628.7,761.7 626.6,763.6 629.4,763.8 627.3,765.6 630.1,765.9 628.0,767.7 630.8,767.9 628.7,769.8 631.5,770.0 629.4,771.9 632.2,772.1 630.1,774.0 632.9,774.2 630.7,776.1 633.5,776.3 631.4,778.1 634.2,778.4 632.1,780.2 634.9,780.5 632.7,782.3 635.5,782.6 633.4,784.4 636.2,784.7 634.0,786.5 636.8,786.8 634.7,788.6 637.5,788.8 635.3,790.7 638.1,790.9 636.0,792.7 638.8,793.0 636.6,794.8 639.4,795.1 637.2,796.9 640.0,797.2 637.9,799.0 640.7,799.3 638.5,801.1 641.3,801.4 639.1,803.2 641.9,803.5 639.7,805.2 642.5,805.6 640.3,807.3 643.1,807.6 640.9,809.4 643.7,809.7 641.5,811.5 644.3,811.8 642.1,813.6 644.9,813.9 642.7,815.7 645.5,816.0 643.3,817.8 646.1,818.1 643.9,819.8 646.7,820.2 644.5,821.9 647.3,822.3 645.1,824.0 647.9,824.4 645.7,826.1 648.4,826.5 646.2,828.2 649.0,828.5 646.8,830.3 649.6,830.6 647.4,832.4 650.2,832.7 647.9,834.4 650.7,834.8 648.5,836.5 651.3,836.9 649.0,838.6 651.8,839.0 649.6,840.7 652.4,841.1 650.1,842.8 652.9,843.2 650.7,844.9 653.5,845.3 651.2,846.9 654.0,847.3 651.8,849.0 654.6,849.4 652.3,851.1 655.1,851.5 652.8,853.2 655.6,853.6 653.4,855.3 656.2,855.7 653.9,857.4 656.7,857.8 654.4,859.5 657.2,859.9 654.9,861.5 657.7,862.0 655.5,863.6 658.2,864.0 656.0,865.7 658.8,866.1 656.5,867.8 659.3,868.2 657.0,869.9 659.8,870.3 657.5,872.0 660.3,872.4 658.0,874.1 660.8,874.5 658.5,876.1 661.3,876.6 659.0,878.2 661.8,878.7 659.5,880.3 662.3,880.8 660.0,882.4 662.8,882.8 660.5,884.5 663.3,884.9 661.0,886.6 663.8,887.0 661.5,888.7" fill="none" stroke="none" marker-start="url(#mc4)" marker-mid="url(#mc4)" marker-end="url(#mc4)"/>
</g>
<path d="M104.3 873.50H96.7M104.3 822.89H96.7M104.3 772.28H96.7M104.3 721.68H96.7M104.3 671.07H96.7M104.3 620.46H96.7M104.3 569.85H96.7M104.3 519.24H96.7M104.3 468.63H96.7M104.30 873.5V881.3M320.20 873.5V881.3M536.10 873.5V881.3" stroke="#000" stroke-width="7" stroke-linecap="round" fill="none"/>
<path d="M104.3 858.27H100.7M104.3 849.35H100.7M104.3 843.03H100.7M104.3 838.13H100.7M104.3 834.12H100.7M104.3 830.73H100.7M104.3 827.80H100.7M104.3 825.21H100.7M104.3 807.66H100.7M104.3 798.75H100.7M104.3 792.42H100.7M104.3 787.52H100.7M104.3 783.51H100.7M104.3 780.12H100.7M104.3 777.19H100.7M104.3 774.60H100.7M104.3 757.05H100.7M104.3 748.14H100.7M104.3 741.81H100.7M104.3 736.91H100.7M104.3 732.90H100.7M104.3 729.51H100.7M104.3 726.58H100.7M104.3 723.99H100.7M104.3 706.44H100.7M104.3 697.53H100.7M104.3 691.21H100.7M104.3 686.30H100.7M104.3 682.29H100.7M104.3 678.91H100.7M104.3 675.97H100.7M104.3 673.38H100.7M104.3 655.83H100.7M104.3 646.92H100.7M104.3 640.60H100.7M104.3 635.69H100.7M104.3 631.69H100.7M104.3 628.30H100.7M104.3 625.36H100.7M104.3 622.77H100.7M104.3 605.22H100.7M104.3 596.31H100.7M104.3 589.99H100.7M104.3 585.09H100.7M104.3 581.08H100.7M104.3 577.69H100.7M104.3 574.76H100.7M104.3 572.17H100.7M104.3 554.62H100.7M104.3 545.70H100.7M104.3 539.38H100.7M104.3 534.48H100.7M104.3 530.47H100.7M104.3 527.08H100.7M104.3 524.15H100.7M104.3 521.56H100.7M104.3 504.01H100.7M104.3 495.10H100.7M104.3 488.77H100.7M104.3 483.87H100.7M104.3 479.86H100.7M104.3 476.47H100.7M104.3 473.54H100.7M104.3 470.95H100.7M104.3 453.40H100.7M169.29 873.5V877.4M207.31 873.5V877.4M234.28 873.5V877.4M255.21 873.5V877.4M272.30 873.5V877.4M286.76 873.5V877.4M299.28 873.5V877.4M310.32 873.5V877.4M385.19 873.5V877.4M423.21 873.5V877.4M450.18 873.5V877.4M471.11 873.5V877.4M488.20 873.5V877.4M502.66 873.5V877.4M515.18 873.5V877.4M526.22 873.5V877.4M601.09 873.5V877.4M639.11 873.5V877.4M666.08 873.5V877.4M687.01 873.5V877.4" stroke="#000" stroke-width="6.4" stroke-linecap="round" fill="none"/>
<rect x="104.3" y="453.4" width="582.7" height="420.1" fill="none" stroke="#000" stroke-width="7.4" stroke-linejoin="round"/>
<path transform="translate(45.55,480.23) scale(0.01611,-0.01611)" d="M806 0H525V1059Q371 915 162 846V1101Q272 1137 401 1237.5T578 1472H806Z" /><text x="62.51" y="480.23" font-size="33" font-family="Liberation Sans, sans-serif" font-weight="bold"  xml:space="preserve">0</text><text x="80.86" y="461.93" font-size="19.5" font-family="Liberation Sans, sans-serif" font-weight="bold"  xml:space="preserve">6</text>
<path transform="translate(45.55,682.67) scale(0.01611,-0.01611)" d="M806 0H525V1059Q371 915 162 846V1101Q272 1137 401 1237.5T578 1472H806Z" /><text x="62.51" y="682.67" font-size="33" font-family="Liberation Sans, sans-serif" font-weight="bold"  xml:space="preserve">0</text><text x="80.86" y="664.37" font-size="19.5" font-family="Liberation Sans, sans-serif" font-weight="bold"  xml:space="preserve">2</text>
<path transform="translate(39.05,885.10) scale(0.01611,-0.01611)" d="M806 0H525V1059Q371 915 162 846V1101Q272 1137 401 1237.5T578 1472H806Z" /><text x="56.02" y="885.10" font-size="33" font-family="Liberation Sans, sans-serif" font-weight="bold"  xml:space="preserve">0</text><text x="74.36" y="866.80" font-size="19.5" font-family="Liberation Sans, sans-serif" font-weight="bold"  xml:space="preserve">-2</text>
<path transform="translate(78.67,917.80) scale(0.01611,-0.01611)" d="M806 0H525V1059Q371 915 162 846V1101Q272 1137 401 1237.5T578 1472H806Z" /><text x="95.63" y="917.80" font-size="33" font-family="Liberation Sans, sans-serif" font-weight="bold"  xml:space="preserve">0</text><text x="113.98" y="899.50" font-size="19.5" font-family="Liberation Sans, sans-serif" font-weight="bold"  xml:space="preserve">-3</text>
<path transform="translate(294.57,917.80) scale(0.01611,-0.01611)" d="M806 0H525V1059Q371 915 162 846V1101Q272 1137 401 1237.5T578 1472H806Z" /><text x="311.53" y="917.80" font-size="33" font-family="Liberation Sans, sans-serif" font-weight="bold"  xml:space="preserve">0</text><text x="329.88" y="899.50" font-size="19.5" font-family="Liberation Sans, sans-serif" font-weight="bold"  xml:space="preserve">-2</text>
<path transform="translate(510.47,917.80) scale(0.01611,-0.01611)" d="M806 0H525V1059Q371 915 162 846V1101Q272 1137 401 1237.5T578 1472H806Z" /><text x="527.43" y="917.80" font-size="33" font-family="Liberation Sans, sans-serif" font-weight="bold"  xml:space="preserve">0</text><text x="545.78" y="899.50" font-size="19.5" font-family="Liberation Sans, sans-serif" font-weight="bold"  xml:space="preserve">-</text><path transform="translate(553.09,899.50) scale(0.00952,-0.00952)" d="M806 0H525V1059Q371 915 162 846V1101Q272 1137 401 1237.5T578 1472H806Z" />
<text x="350.61" y="954.10" font-size="40" font-family="Liberation Sans, sans-serif" font-weight="bold"  xml:space="preserve">H (T)</text>
<g transform="translate(34.3,751.2) rotate(-90)"><path transform="translate(0.00,0.00) scale(0.01953,-0.01953)" d="M621 1466H916V538Q916 356 884 258Q841 130 728 52.5T430 -25Q213 -25 96 96.5T-22 453L257 485Q262 359 294 307Q342 228 440 228Q539 228 580 284.5T621 519Z" /><text x="22.24" y="14.00" font-size="30" font-family="Liberation Sans, sans-serif" font-weight="bold" stroke="#000" stroke-width="1.6" xml:space="preserve">C</text><text x="55.02" y="0.00" font-size="34" font-family="Liberation Sans, sans-serif" font-weight="bold"  xml:space="preserve">(</text><text x="66.34" y="0.00" font-size="40" font-family="Liberation Sans, sans-serif" font-weight="bold"  xml:space="preserve">A/cm</text><text x="164.14" y="-15.00" font-size="21.5" font-family="Liberation Sans, sans-serif" font-weight="bold" stroke="#000" stroke-width="0.5" xml:space="preserve">2</text><text x="176.10" y="0.00" font-size="34" font-family="Liberation Sans, sans-serif" font-weight="bold"  xml:space="preserve">)</text></g>
<text x="618.60" y="505.80" font-size="49" font-family="Liberation Sans, sans-serif" font-weight="bold"  xml:space="preserve">(c)</text>
<text x="268.30" y="852.70" font-size="40.5" font-family="Liberation Sans, sans-serif" font-weight="bold"  xml:space="preserve">P = </text><path transform="translate(343.18,852.70) scale(0.01978,-0.01978)" d="M806 0H525V1059Q371 915 162 846V1101Q272 1137 401 1237.5T578 1472H806Z" /><text x="364.00" y="852.70" font-size="40.5" font-family="Liberation Sans, sans-serif" font-weight="bold"  xml:space="preserve">.02 GPa</text>
<path d="M121.9 567.6H161.9" stroke="#000000" stroke-width="2.6" stroke-linecap="round"/><g transform="translate(141.9,567.6)"><rect x="-8.28" y="-8.28" width="16.56" height="16.56" fill="#fff" stroke="#000000" stroke-width="1.8"/></g><path d="M133.6 567.6H150.2" stroke="#000000" stroke-width="1.5"/><text x="170.10" y="573.70" font-size="32" font-family="Liberation Sans, sans-serif" font-weight="bold"  xml:space="preserve">2 K</text>
<path d="M121.9 608.2H161.9" stroke="#ff0000" stroke-width="3.3" stroke-linecap="round"/><g transform="translate(141.9,608.2)"><circle r="9.38" fill="#fff" stroke="#ff0000" stroke-width="1.8"/></g><path d="M132.5 608.2H151.3" stroke="#ff0000" stroke-width="1.5"/><text x="170.10" y="614.30" font-size="32" font-family="Liberation Sans, sans-serif" font-weight="bold"  xml:space="preserve">2.5 K</text>
<path d="M121.9 648.8H161.9" stroke="#0000ff" stroke-width="3.1" stroke-linecap="round"/><g transform="translate(141.9,648.8)"><path d="M0 -12.84L11.32 6.59L-11.32 6.59Z" fill="none" stroke="#0000ff" stroke-width="1.8"/></g><text x="170.10" y="654.90" font-size="32" font-family="Liberation Sans, sans-serif" font-weight="bold"  xml:space="preserve">3 K</text>
<path d="M121.9 689.4H161.9" stroke="#ff00ff" stroke-width="2.9" stroke-linecap="round"/><g transform="translate(141.9,689.4)"><path d="M0 12.84L11.32 -6.59L-11.32 -6.59Z" fill="none" stroke="#ff00ff" stroke-width="1.8"/></g><text x="170.10" y="695.50" font-size="32" font-family="Liberation Sans, sans-serif" font-weight="bold"  xml:space="preserve">4 K</text>
<path d="M121.9 730.0H161.9" stroke="#808000" stroke-width="2.9" stroke-linecap="round"/><g transform="translate(141.9,730.0)"><path d="M0 -12.17L10.65 0L0 12.17L-10.65 0Z" fill="#fff" stroke="#808000" stroke-width="1.8"/></g><path d="M131.3 730.0H152.5" stroke="#808000" stroke-width="1.5"/><text x="170.10" y="736.10" font-size="32" font-family="Liberation Sans, sans-serif" font-weight="bold"  xml:space="preserve">5 K</text>
<g clip-path="url(#cpd)">
<polygon points="1136.1,534.0 1141.6,536.9 1146.8,539.8 1151.7,542.7 1156.4,545.7 1160.9,548.7 1165.1,551.8 1169.2,554.8 1173.1,557.8 1176.9,560.9 1180.5,563.9 1184.0,566.9 1187.4,570.0 1190.6,573.0 1193.8,576.0 1196.8,579.1 1199.8,582.1 1202.6,585.1 1205.4,588.2 1208.1,591.2 1210.7,594.2 1213.2,597.3 1215.7,600.3 1218.1,603.3 1220.5,606.4 1222.8,609.4 1225.0,612.4 1227.2,615.4 1229.3,618.4 1231.4,621.5 1233.4,624.5 1235.4,627.5 1237.4,630.5 1239.3,633.5 1241.2,636.5 1243.0,639.6 1244.8,642.6 1246.5,645.6 1248.3,648.6 1250.0,651.6 1251.6,654.6 1253.3,657.6 1254.9,660.6 1256.5,663.6 1258.0,666.6 1259.5,669.6 1261.0,672.6 1262.5,675.6 1264.0,678.6 1265.4,681.6 1266.8,684.5 1268.2,687.5 1269.6,690.5 1270.9,693.5 1272.3,696.5 1273.6,699.5 1274.9,702.5 1276.1,705.4 1277.4,708.4 1278.6,711.4 1279.8,714.4 1281.1,717.4 1282.2,720.3 1283.4,723.3 1284.6,726.3 1285.7,729.3 1286.9,732.3 1288.0,735.2 1289.1,738.2 1290.2,741.2 1291.2,744.1 1292.3,747.1 1293.4,750.1 1294.4,753.1 1295.4,756.0 1296.5,759.0 1297.5,762.0 1298.5,764.9 1299.5,767.9 1300.4,770.9 1301.4,773.8 1302.3,776.8 1303.3,779.8 1304.2,782.7 1305.2,785.7 1306.1,788.7 1307.0,791.6 1307.9,794.6 1308.8,797.6 1309.7,800.5 1310.5,803.5 1311.4,806.5 1312.3,809.4 1313.1,812.4 1314.0,815.3 1314.8,818.3 1315.6,821.3 1316.4,824.2 1317.2,827.2 1318.1,830.1 1318.9,833.1 1319.6,836.1 1320.4,839.0 1321.2,842.0 1322.0,844.9 1322.7,847.9 1323.5,850.9 1324.3,853.8 1325.0,856.8 1325.7,859.7 1326.5,862.7 1327.2,865.6 1327.9,868.6 1328.7,871.6 1329.4,874.5 1330.1,877.5 1330.8,880.4 1331.5,883.4 1332.2,886.3 1332.9,889.3 1318.5,892.6 1317.8,889.7 1317.1,886.8 1316.4,883.9 1315.7,880.9 1315.0,878.0 1314.2,875.1 1313.5,872.1 1312.8,869.2 1312.1,866.3 1311.3,863.4 1310.6,860.4 1309.8,857.5 1309.0,854.6 1308.3,851.7 1307.5,848.7 1306.7,845.8 1305.9,842.9 1305.1,840.0 1304.3,837.0 1303.5,834.1 1302.7,831.2 1301.9,828.3 1301.1,825.4 1300.2,822.4 1299.4,819.5 1298.6,816.6 1297.7,813.7 1296.8,810.7 1296.0,807.8 1295.1,804.9 1294.2,802.0 1293.3,799.1 1292.4,796.1 1291.5,793.2 1290.5,790.3 1289.6,787.4 1288.7,784.5 1287.7,781.6 1286.8,778.6 1285.8,775.7 1284.8,772.8 1283.8,769.9 1282.8,767.0 1281.8,764.1 1280.8,761.2 1279.7,758.2 1278.7,755.3 1277.6,752.4 1276.6,749.5 1275.5,746.6 1274.4,743.7 1273.3,740.8 1272.2,737.9 1271.0,735.0 1269.9,732.1 1268.7,729.1 1267.6,726.2 1266.4,723.3 1265.2,720.4 1264.0,717.5 1262.7,714.6 1261.5,711.7 1260.2,708.8 1258.9,705.9 1257.6,703.0 1256.3,700.1 1255.0,697.2 1253.6,694.3 1252.2,691.5 1250.8,688.6 1249.4,685.7 1248.0,682.8 1246.5,679.9 1245.0,677.0 1243.5,674.1 1242.0,671.2 1240.4,668.3 1238.9,665.5 1237.3,662.6 1235.6,659.7 1234.0,656.8 1232.3,653.9 1230.6,651.1 1228.8,648.2 1227.0,645.3 1225.2,642.4 1223.3,639.6 1221.5,636.7 1219.5,633.8 1217.6,631.0 1215.6,628.1 1213.5,625.3 1211.4,622.4 1209.3,619.5 1207.1,616.7 1204.8,613.8 1202.5,611.0 1200.2,608.1 1197.8,605.3 1195.3,602.4 1192.7,599.6 1190.1,596.7 1187.4,593.9 1184.7,591.0 1181.8,588.2 1178.9,585.3 1175.9,582.5 1172.7,579.6 1169.5,576.8 1166.1,573.9 1162.6,571.1 1159.0,568.2 1155.2,565.4 1151.2,562.5 1147.1,559.6 1142.8,556.8 1138.3,553.8 1133.5,550.9 1128.5,547.9" fill="#000000"/>
<polyline points="761.8,490.9 826.8,491.9 864.8,492.9 891.8,493.9 912.7,494.8 929.8,495.8 944.3,496.8 956.8,497.8 967.8,498.8 977.7,499.7 986.6,500.7 994.8,501.7 1002.3,502.7 1009.2,503.7 1015.7,504.6 1021.8,505.6 1027.5,506.6 1032.8,507.6 1037.9,508.6 1042.7,509.5 1047.3,510.5 1051.6,511.5 1055.8,512.5 1059.8,513.5 1063.6,514.4 1067.3,515.5 1070.9,516.3 1074.2,517.5 1077.6,518.2 1080.7,519.5 1083.8,520.1 1086.7,521.5 1089.7,522.0 1092.3,523.6 1095.3,523.9 1097.7,525.6 1100.5,525.8 1102.7,527.6 1105.5,527.7 1107.5,529.6 1110.2,529.6 1112.0,531.6 1114.7,531.5 1116.3,533.7 1119.0,533.4 1120.5,535.7 1123.1,535.3 1124.4,537.7 1127.1,537.2 1128.2,539.7 1130.9,539.2 1131.8,541.7 1134.5,541.1 1135.3,543.7 1138.1,543.0 1138.7,545.8 1141.5,544.9 1141.9,547.8 1144.7,546.8 1145.1,549.8 1147.9,548.7 1148.1,551.7 1150.9,550.7 1151.1,553.7 1153.9,552.7 1154.0,555.6 1156.7,554.6 1156.7,557.6 1159.5,556.6 1159.4,559.5 1162.2,558.6 1162.1,561.5 1164.8,560.6 1164.6,563.4 1167.4,562.5 1167.1,565.4 1169.8,564.5 1169.5,567.3 1172.3,566.5 1171.9,569.3 1174.6,568.4 1174.2,571.2 1176.9,570.4 1176.5,573.2 1179.2,572.4 1178.7,575.1 1181.3,574.3 1180.8,577.1 1183.5,576.3 1182.9,579.1 1185.6,578.3 1184.9,581.0 1187.6,580.3 1187.0,583.0 1189.6,582.2 1188.9,584.9 1191.6,584.2 1190.8,586.9 1193.5,586.2 1192.7,588.8 1195.4,588.1 1194.6,590.8 1197.3,590.1 1196.4,592.7 1199.1,592.1 1198.2,594.7 1200.8,594.0 1199.9,596.6 1202.6,596.0 1201.6,598.6 1204.3,598.0 1203.3,600.5 1206.0,600.0 1205.0,602.5 1207.6,601.9 1206.6,604.4 1209.3,603.9 1208.2,606.4 1210.8,605.9 1209.8,608.3 1212.4,607.8 1211.3,610.3 1214.0,609.8 1212.8,612.2 1215.5,611.8 1214.3,614.2 1217.0,613.7 1215.8,616.2 1218.4,615.7 1217.2,618.1 1219.9,617.7 1218.7,620.1 1221.3,619.6 1220.1,622.0 1222.7,621.6 1221.4,624.0 1224.1,623.6 1222.8,625.9 1225.5,625.5 1224.2,627.9 1226.8,627.5 1225.5,629.8 1228.1,629.5 1226.8,631.8 1229.4,631.4 1228.1,633.7 1230.7,633.4 1229.4,635.7 1232.0,635.4 1230.6,637.7 1233.3,637.3 1231.8,639.6 1234.5,639.3 1233.1,641.6 1235.7,641.3 1234.3,643.5 1236.9,643.2 1235.5,645.5 1238.1,645.2 1236.6,647.4 1239.3,647.2 1237.8,649.4 1240.4,649.1 1238.9,651.3 1241.6,651.1 1240.1,653.3 1242.7,653.1 1241.2,655.3 1243.8,655.0 1242.3,657.2 1245.0,657.0 1243.4,659.2 1246.0,659.0 1244.5,661.1 1247.1,660.9 1245.6,663.1 1248.2,662.9 1246.6,665.0 1249.2,664.9 1247.7,667.0 1250.3,666.8 1248.7,668.9 1251.3,668.8 1249.7,670.9 1252.3,670.8 1250.7,672.9 1253.4,672.7 1251.7,674.8 1254.4,674.7 1252.7,676.8 1255.3,676.7 1253.7,678.7 1256.3,678.6 1254.7,680.7 1257.3,680.6 1255.6,682.6 1258.3,682.6 1256.6,684.6 1259.2,684.5 1257.5,686.6 1260.1,686.5 1258.4,688.5 1261.1,688.5 1259.4,690.5 1262.0,690.4 1260.3,692.4 1262.9,692.4 1261.2,694.4 1263.8,694.4 1262.1,696.3 1264.7,696.3 1263.0,698.3 1265.6,698.3 1263.8,700.3 1266.5,700.3 1264.7,702.2 1267.3,702.2 1265.6,704.2 1268.2,704.2 1266.4,706.1 1269.1,706.1 1267.3,708.1 1269.9,708.1 1268.1,710.0 1270.7,710.1 1268.9,712.0 1271.6,712.0 1269.8,714.0 1272.4,714.0 1270.6,715.9 1273.2,716.0 1271.4,717.9 1274.0,717.9 1272.2,719.8 1274.8,719.9 1273.0,721.8 1275.6,721.9 1273.8,723.7 1276.4,723.8 1274.6,725.7 1277.2,725.8 1275.3,727.7 1278.0,727.8 1276.1,729.6 1278.7,729.7 1276.9,731.6 1279.5,731.7 1277.6,733.5 1280.3,733.6 1278.4,735.5 1281.0,735.6 1279.1,737.4 1281.8,737.6 1279.9,739.4 1282.5,739.5 1280.6,741.4 1283.2,741.5 1281.3,743.3 1284.0,743.5 1282.1,745.3 1284.7,745.4 1282.8,747.2 1285.4,747.4 1283.5,749.2 1286.1,749.4 1284.2,751.2 1286.8,751.3 1284.9,753.1 1287.5,753.3 1285.6,755.1 1288.2,755.3 1286.3,757.0 1288.9,757.2 1287.0,759.0 1289.6,759.2 1287.7,760.9 1290.3,761.1 1288.3,762.9 1290.9,763.1 1289.0,764.9 1291.6,765.1 1289.7,766.8 1292.3,767.0 1290.3,768.8 1292.9,769.0 1291.0,770.7 1293.6,771.0 1291.6,772.7 1294.2,772.9 1292.3,774.7 1294.9,774.9 1292.9,776.6 1295.5,776.9 1293.6,778.6 1296.2,778.8 1294.2,780.5 1296.8,780.8 1294.8,782.5 1297.4,782.7 1295.5,784.5 1298.1,784.7 1296.1,786.4 1298.7,786.7 1296.7,788.4 1299.3,788.6 1297.3,790.3 1299.9,790.6 1297.9,792.3 1300.5,792.6 1298.5,794.2 1301.1,794.5 1299.1,796.2 1301.7,796.5 1299.7,798.2 1302.3,798.4 1300.3,800.1 1302.9,800.4 1300.9,802.1 1303.5,802.4 1301.5,804.0 1304.1,804.3 1302.1,806.0 1304.7,806.3 1302.7,808.0 1305.3,808.3 1303.3,809.9 1305.8,810.2 1303.8,811.9 1306.4,812.2 1304.4,813.8 1307.0,814.1 1305.0,815.8 1307.5,816.1 1305.5,817.8 1308.1,818.1 1306.1,819.7 1308.7,820.0 1306.6,821.7 1309.2,822.0 1307.2,823.6 1309.8,824.0 1307.7,825.6 1310.3,825.9 1308.3,827.5 1310.9,827.9 1308.8,829.5 1311.4,829.9 1309.4,831.5 1312.0,831.8 1309.9,833.4 1312.5,833.8 1310.4,835.4 1313.0,835.7 1311.0,837.3 1313.6,837.7 1311.5,839.3 1314.1,839.7 1312.0,841.3 1314.6,841.6 1312.5,843.2 1315.1,843.6 1313.1,845.2 1315.6,845.6 1313.6,847.1 1316.2,847.5 1314.1,849.1 1316.7,849.5 1314.6,851.1 1317.2,851.4 1315.1,853.0 1317.7,853.4 1315.6,855.0 1318.2,855.4 1316.1,856.9 1318.7,857.3 1316.6,858.9 1319.2,859.3 1317.1,860.9 1319.7,861.3 1317.6,862.8 1320.2,863.2 1318.1,864.8 1320.7,865.2 1318.6,866.7 1321.2,867.1 1319.1,868.7 1321.7,869.1 1319.6,870.7 1322.1,871.1 1320.0,872.6 1322.6,873.0 1320.5,874.6 1323.1,875.0 1321.0,876.5 1323.6,877.0 1321.5,878.5 1324.0,878.9 1321.9,880.5 1324.5,880.9 1322.4,882.4 1325.0,882.8 1322.9,884.4 1325.5,884.8 1323.4,886.3 1325.9,886.8 1323.8,888.3" fill="none" stroke="#000000" stroke-width="2" stroke-linejoin="round"/>
<polyline points="761.8,490.9 826.8,491.9 864.8,492.9 891.8,493.9 912.7,494.8 929.8,495.8 944.3,496.8 956.8,497.8 967.8,498.8 977.7,499.7 986.6,500.7 994.8,501.7 1002.3,502.7 1009.2,503.7 1015.7,504.6 1021.8,505.6 1027.5,506.6 1032.8,507.6 1037.9,508.6 1042.7,509.5 1047.3,510.5 1051.6,511.5 1055.8,512.5 1059.8,513.5 1063.6,514.4 1067.3,515.5 1070.9,516.3 1074.2,517.5 1077.6,518.2 1080.7,519.5 1083.8,520.1 1086.7,521.5 1089.7,522.0 1092.3,523.6 1095.3,523.9 1097.7,525.6 1100.5,525.8 1102.7,527.6 1105.5,527.7 1107.5,529.6 1110.2,529.6 1112.0,531.6 1114.7,531.5 1116.3,533.7 1119.0,533.4 1120.5,535.7 1123.1,535.3 1124.4,537.7 1127.1,537.2 1128.2,539.7 1130.9,539.2 1131.8,541.7 1134.5,541.1 1135.3,543.7 1138.1,543.0 1138.7,545.8 1141.5,544.9 1141.9,547.8 1144.7,546.8 1145.1,549.8 1147.9,548.7 1148.1,551.7 1150.9,550.7 1151.1,553.7 1153.9,552.7 1154.0,555.6 1156.7,554.6 1156.7,557.6 1159.5,556.6 1159.4,559.5 1162.2,558.6 1162.1,561.5 1164.8,560.6 1164.6,563.4 1167.4,562.5 1167.1,565.4 1169.8,564.5 1169.5,567.3 1172.3,566.5 1171.9,569.3 1174.6,568.4 1174.2,571.2 1176.9,570.4 1176.5,573.2 1179.2,572.4 1178.7,575.1 1181.3,574.3 1180.8,577.1 1183.5,576.3 1182.9,579.1 1185.6,578.3 1184.9,581.0 1187.6,580.3 1187.0,583.0 1189.6,582.2 1188.9,584.9 1191.6,584.2 1190.8,586.9 1193.5,586.2 1192.7,588.8 1195.4,588.1 1194.6,590.8 1197.3,590.1 1196.4,592.7 1199.1,592.1 1198.2,594.7 1200.8,594.0 1199.9,596.6 1202.6,596.0 1201.6,598.6 1204.3,598.0 1203.3,600.5 1206.0,600.0 1205.0,602.5 1207.6,601.9 1206.6,604.4 1209.3,603.9 1208.2,606.4 1210.8,605.9 1209.8,608.3 1212.4,607.8 1211.3,610.3 1214.0,609.8 1212.8,612.2 1215.5,611.8 1214.3,614.2 1217.0,613.7 1215.8,616.2 1218.4,615.7 1217.2,618.1 1219.9,617.7 1218.7,620.1 1221.3,619.6 1220.1,622.0 1222.7,621.6 1221.4,624.0 1224.1,623.6 1222.8,625.9 1225.5,625.5 1224.2,627.9 1226.8,627.5 1225.5,629.8 1228.1,629.5 1226.8,631.8 1229.4,631.4 1228.1,633.7 1230.7,633.4 1229.4,635.7 1232.0,635.4 1230.6,637.7 1233.3,637.3 1231.8,639.6 1234.5,639.3 1233.1,641.6 1235.7,641.3 1234.3,643.5 1236.9,643.2 1235.5,645.5 1238.1,645.2 1236.6,647.4 1239.3,647.2 1237.8,649.4 1240.4,649.1 1238.9,651.3 1241.6,651.1 1240.1,653.3 1242.7,653.1 1241.2,655.3 1243.8,655.0 1242.3,657.2 1245.0,657.0 1243.4,659.2 1246.0,659.0 1244.5,661.1 1247.1,660.9 1245.6,663.1 1248.2,662.9 1246.6,665.0 1249.2,664.9 1247.7,667.0 1250.3,666.8 1248.7,668.9 1251.3,668.8 1249.7,670.9 1252.3,670.8 1250.7,672.9 1253.4,672.7 1251.7,674.8 1254.4,674.7 1252.7,676.8 1255.3,676.7 1253.7,678.7 1256.3,678.6 1254.7,680.7 1257.3,680.6 1255.6,682.6 1258.3,682.6 1256.6,684.6 1259.2,684.5 1257.5,686.6 1260.1,686.5 1258.4,688.5 1261.1,688.5 1259.4,690.5 1262.0,690.4 1260.3,692.4 1262.9,692.4 1261.2,694.4 1263.8,694.4 1262.1,696.3 1264.7,696.3 1263.0,698.3 1265.6,698.3 1263.8,700.3 1266.5,700.3 1264.7,702.2 1267.3,702.2 1265.6,704.2 1268.2,704.2 1266.4,706.1 1269.1,706.1 1267.3,708.1 1269.9,708.1 1268.1,710.0 1270.7,710.1 1268.9,712.0 1271.6,712.0 1269.8,714.0 1272.4,714.0 1270.6,715.9 1273.2,716.0 1271.4,717.9 1274.0,717.9 1272.2,719.8 1274.8,719.9 1273.0,721.8 1275.6,721.9 1273.8,723.7 1276.4,723.8 1274.6,725.7 1277.2,725.8 1275.3,727.7 1278.0,727.8 1276.1,729.6 1278.7,729.7 1276.9,731.6 1279.5,731.7 1277.6,733.5 1280.3,733.6 1278.4,735.5 1281.0,735.6 1279.1,737.4 1281.8,737.6 1279.9,739.4 1282.5,739.5 1280.6,741.4 1283.2,741.5 1281.3,743.3 1284.0,743.5 1282.1,745.3 1284.7,745.4 1282.8,747.2 1285.4,747.4 1283.5,749.2 1286.1,749.4 1284.2,751.2 1286.8,751.3 1284.9,753.1 1287.5,753.3 1285.6,755.1 1288.2,755.3 1286.3,757.0 1288.9,757.2 1287.0,759.0 1289.6,759.2 1287.7,760.9 1290.3,761.1 1288.3,762.9 1290.9,763.1 1289.0,764.9 1291.6,765.1 1289.7,766.8 1292.3,767.0 1290.3,768.8 1292.9,769.0 1291.0,770.7 1293.6,771.0 1291.6,772.7 1294.2,772.9 1292.3,774.7 1294.9,774.9 1292.9,776.6 1295.5,776.9 1293.6,778.6 1296.2,778.8 1294.2,780.5 1296.8,780.8 1294.8,782.5 1297.4,782.7 1295.5,784.5 1298.1,784.7 1296.1,786.4 1298.7,786.7 1296.7,788.4 1299.3,788.6 1297.3,790.3 1299.9,790.6 1297.9,792.3 1300.5,792.6 1298.5,794.2 1301.1,794.5 1299.1,796.2 1301.7,796.5 1299.7,798.2 1302.3,798.4 1300.3,800.1 1302.9,800.4 1300.9,802.1 1303.5,802.4 1301.5,804.0 1304.1,804.3 1302.1,806.0 1304.7,806.3 1302.7,808.0 1305.3,808.3 1303.3,809.9 1305.8,810.2 1303.8,811.9 1306.4,812.2 1304.4,813.8 1307.0,814.1 1305.0,815.8 1307.5,816.1 1305.5,817.8 1308.1,818.1 1306.1,819.7 1308.7,820.0 1306.6,821.7 1309.2,822.0 1307.2,823.6 1309.8,824.0 1307.7,825.6 1310.3,825.9 1308.3,827.5 1310.9,827.9 1308.8,829.5 1311.4,829.9 1309.4,831.5 1312.0,831.8 1309.9,833.4 1312.5,833.8 1310.4,835.4 1313.0,835.7 1311.0,837.3 1313.6,837.7 1311.5,839.3 1314.1,839.7 1312.0,841.3 1314.6,841.6 1312.5,843.2 1315.1,843.6 1313.1,845.2 1315.6,845.6 1313.6,847.1 1316.2,847.5 1314.1,849.1 1316.7,849.5 1314.6,851.1 1317.2,851.4 1315.1,853.0 1317.7,853.4 1315.6,855.0 1318.2,855.4 1316.1,856.9 1318.7,857.3 1316.6,858.9 1319.2,859.3 1317.1,860.9 1319.7,861.3 1317.6,862.8 1320.2,863.2 1318.1,864.8 1320.7,865.2 1318.6,866.7 1321.2,867.1 1319.1,868.7 1321.7,869.1 1319.6,870.7 1322.1,871.1 1320.0,872.6 1322.6,873.0 1320.5,874.6 1323.1,875.0 1321.0,876.5 1323.6,877.0 1321.5,878.5 1324.0,878.9 1321.9,880.5 1324.5,880.9 1322.4,882.4 1325.0,882.8 1322.9,884.4 1325.5,884.8 1323.4,886.3 1325.9,886.8 1323.8,888.3" fill="none" stroke="none" marker-start="url(#md0)" marker-mid="url(#md0)" marker-end="url(#md0)"/>
<polyline points="1083.8,489.1 1086.7,490.3 1089.7,490.5 1092.4,491.7 1095.3,491.8 1097.7,493.2 1100.5,493.1 1102.8,494.6 1105.4,494.4 1107.5,496.1 1110.2,495.8 1112.1,497.5 1114.7,497.1 1116.4,499.0" fill="none" stroke="#000000" stroke-width="3.6"/>
<polyline points="1114.7,497.1 1116.4,499.0 1118.9,498.4 1120.6,500.4 1123.1,499.7 1124.5,501.9 1127.0,501.1 1128.3,503.3 1130.8,502.4 1132.0,504.8 1134.4,503.7 1135.5,506.2 1137.9,505.0 1138.8,507.7 1141.3,506.4 1142.1,509.1 1144.6,507.7 1145.2,510.6" fill="none" stroke="#000000" stroke-width="8" stroke-linejoin="round"/>
<polygon points="1131.3,495.3 1137.0,497.2 1142.3,499.2 1147.4,501.2 1152.2,503.3 1156.8,505.4 1161.2,507.5 1165.4,509.6 1169.4,511.7 1173.3,513.8 1177.0,516.0 1180.6,518.1 1184.1,520.2 1187.4,522.4 1190.7,524.5 1193.8,526.6 1196.8,528.8 1199.8,530.9 1202.6,533.0 1205.4,535.2 1208.1,537.3 1210.7,539.5 1213.2,541.6 1215.7,543.8 1218.1,545.9 1220.5,548.1 1222.8,550.2 1225.0,552.4 1227.2,554.5 1229.4,556.7 1231.5,558.8 1233.5,561.0 1235.5,563.1 1237.5,565.3 1239.4,567.4 1241.3,569.6 1243.2,571.7 1245.0,573.9 1246.7,576.0 1248.5,578.1 1250.2,580.3 1251.9,582.4 1253.5,584.6 1255.2,586.7 1256.7,588.9 1258.3,591.0 1259.9,593.1 1261.4,595.3 1262.9,597.4 1264.3,599.6 1265.8,601.7 1267.2,603.8 1268.6,606.0 1270.0,608.1 1271.3,610.2 1272.7,612.4 1274.0,614.5 1275.3,616.6 1276.6,618.8 1277.8,620.9 1279.1,623.0 1280.3,625.1 1281.5,627.3 1282.7,629.4 1283.9,631.5 1285.1,633.6 1286.2,635.8 1287.3,637.9 1288.5,640.0 1289.6,642.1 1290.7,644.3 1291.8,646.4 1292.8,648.5 1293.9,650.6 1294.9,652.7 1296.0,654.9 1297.0,657.0 1298.0,659.1 1299.0,661.2 1300.0,663.3 1301.0,665.4 1301.9,667.6 1302.9,669.7 1303.9,671.8 1304.8,673.9 1305.7,676.0 1306.6,678.1 1307.6,680.2 1308.5,682.3 1309.4,684.5 1310.2,686.6 1311.1,688.7 1312.0,690.8 1312.8,692.9 1313.7,695.0 1314.5,697.1 1315.4,699.2 1316.2,701.3 1317.0,703.4 1317.8,705.5 1318.6,707.6 1319.4,709.7 1320.2,711.9 1321.0,714.0 1321.8,716.1 1322.6,718.2 1323.3,720.3 1324.1,722.4 1324.9,724.5 1325.6,726.6 1326.3,728.7 1327.1,730.8 1327.8,732.9 1328.5,735.0 1329.3,737.1 1330.0,739.2 1330.7,741.3 1331.4,743.4 1332.1,745.5 1332.8,747.6 1333.5,749.7 1334.1,751.8 1334.8,753.9 1335.5,756.0 1336.2,758.1 1336.8,760.2 1337.5,762.3 1338.1,764.4 1338.8,766.5 1339.4,768.6 1340.1,770.7 1340.7,772.8 1341.3,774.9 1342.0,777.0 1342.6,779.1 1343.2,781.1 1343.8,783.2 1344.4,785.3 1345.0,787.4 1345.6,789.5 1346.2,791.6 1346.8,793.7 1347.4,795.8 1348.0,797.9 1348.6,800.0 1349.2,802.1 1349.7,804.2 1350.3,806.3 1350.9,808.4 1351.4,810.5 1352.0,812.6 1352.6,814.7 1337.6,818.7 1337.0,816.6 1336.5,814.6 1335.9,812.5 1335.3,810.4 1334.7,808.3 1334.2,806.3 1333.6,804.2 1333.0,802.1 1332.4,800.1 1331.8,798.0 1331.2,795.9 1330.6,793.9 1330.0,791.8 1329.4,789.8 1328.8,787.7 1328.1,785.6 1327.5,783.6 1326.9,781.5 1326.3,779.4 1325.6,777.4 1325.0,775.3 1324.3,773.2 1323.7,771.2 1323.0,769.1 1322.4,767.0 1321.7,765.0 1321.1,762.9 1320.4,760.9 1319.7,758.8 1319.0,756.7 1318.3,754.7 1317.7,752.6 1317.0,750.5 1316.3,748.5 1315.5,746.4 1314.8,744.4 1314.1,742.3 1313.4,740.2 1312.7,738.2 1311.9,736.1 1311.2,734.1 1310.5,732.0 1309.7,730.0 1309.0,727.9 1308.2,725.8 1307.4,723.8 1306.6,721.7 1305.9,719.7 1305.1,717.6 1304.3,715.6 1303.5,713.5 1302.7,711.4 1301.9,709.4 1301.0,707.3 1300.2,705.3 1299.4,703.2 1298.5,701.2 1297.7,699.1 1296.8,697.1 1296.0,695.0 1295.1,693.0 1294.2,690.9 1293.3,688.9 1292.4,686.8 1291.5,684.8 1290.6,682.7 1289.7,680.7 1288.7,678.6 1287.8,676.6 1286.8,674.5 1285.9,672.5 1284.9,670.4 1283.9,668.4 1282.9,666.3 1281.9,664.3 1280.9,662.3 1279.9,660.2 1278.9,658.2 1277.8,656.1 1276.8,654.1 1275.7,652.0 1274.6,650.0 1273.5,648.0 1272.4,645.9 1271.3,643.9 1270.2,641.9 1269.0,639.8 1267.9,637.8 1266.7,635.7 1265.5,633.7 1264.3,631.7 1263.1,629.6 1261.9,627.6 1260.6,625.6 1259.4,623.6 1258.1,621.5 1256.8,619.5 1255.5,617.5 1254.1,615.4 1252.8,613.4 1251.4,611.4 1250.0,609.4 1248.6,607.3 1247.2,605.3 1245.7,603.3 1244.3,601.3 1242.8,599.3 1241.2,597.2 1239.7,595.2 1238.1,593.2 1236.5,591.2 1234.9,589.2 1233.2,587.2 1231.5,585.1 1229.8,583.1 1228.1,581.1 1226.3,579.1 1224.5,577.1 1222.6,575.1 1220.7,573.1 1218.8,571.0 1216.9,569.0 1214.8,567.0 1212.8,565.0 1210.7,563.0 1208.6,561.0 1206.4,559.0 1204.1,557.0 1201.8,555.0 1199.4,552.9 1197.0,550.9 1194.5,548.9 1192.0,546.9 1189.3,544.9 1186.6,542.9 1183.8,540.8 1180.9,538.8 1177.9,536.8 1174.8,534.8 1171.6,532.7 1168.3,530.7 1164.9,528.6 1161.3,526.6 1157.6,524.6 1153.7,522.5 1149.6,520.5 1145.3,518.4 1140.8,516.3 1136.1,514.1 1131.2,512.0 1125.9,509.8" fill="#000000"/>
<polyline points="761.8,468.5 826.8,469.2 864.8,469.9 891.8,470.6 912.7,471.3 929.8,472.0 944.3,472.7 956.8,473.4 967.8,474.1 977.7,474.8 986.6,475.5 994.8,476.2 1002.3,476.9 1009.2,477.6 1015.7,478.2 1021.8,478.9 1027.5,479.6 1032.8,480.3 1037.9,481.0 1042.7,481.7 1047.3,482.4 1051.6,483.1 1055.8,483.8 1059.8,484.5 1063.6,485.2 1067.3,485.9 1070.8,486.5 1074.2,487.4 1077.6,487.8 1080.7,488.8 1083.8,489.1 1086.7,490.3 1089.7,490.5 1092.4,491.7 1095.3,491.8 1097.7,493.2 1100.5,493.1 1102.8,494.6 1105.4,494.4 1107.5,496.1 1110.2,495.8 1112.1,497.5 1114.7,497.1 1116.4,499.0 1118.9,498.4 1120.6,500.4 1123.1,499.7 1124.5,501.9 1127.0,501.1 1128.3,503.3 1130.8,502.4 1132.0,504.8 1134.4,503.7 1135.5,506.2 1137.9,505.0 1138.8,507.7 1141.3,506.4 1142.1,509.1 1144.6,507.7 1145.2,510.6 1147.7,509.1 1148.3,511.9 1150.8,510.4 1151.2,513.3 1153.7,511.8 1154.1,514.7 1156.6,513.2 1156.9,516.1 1159.4,514.6 1159.6,517.5 1162.0,516.0 1162.2,518.8 1164.7,517.4 1164.8,520.2 1167.2,518.8 1167.3,521.6 1169.7,520.2 1169.7,523.0 1172.1,521.6 1172.1,524.4 1174.5,523.0 1174.4,525.7 1176.8,524.4 1176.6,527.1 1179.0,525.8 1178.8,528.5 1181.2,527.2 1181.0,529.9 1183.3,528.6 1183.1,531.3 1185.4,530.0 1185.1,532.6 1187.5,531.4 1187.1,534.0 1189.5,532.7 1189.1,535.4 1191.4,534.1 1191.0,536.8 1193.4,535.5 1192.9,538.2 1195.3,536.9 1194.7,539.5 1197.1,538.3 1196.5,540.9 1198.9,539.7 1198.3,542.3 1200.7,541.1 1200.1,543.7 1202.4,542.5 1201.8,545.1 1204.1,543.9 1203.5,546.4 1205.8,545.3 1205.1,547.8 1207.5,546.7 1206.7,549.2 1209.1,548.1 1208.3,550.6 1210.7,549.5 1209.9,552.0 1212.3,550.9 1211.4,553.3 1213.8,552.3 1213.0,554.7 1215.3,553.7 1214.5,556.1 1216.8,555.0 1215.9,557.5 1218.3,556.4 1217.4,558.9 1219.8,557.8 1218.8,560.2 1221.2,559.2 1220.2,561.6 1222.6,560.6 1221.6,563.0 1224.0,562.0 1222.9,564.4 1225.3,563.4 1224.3,565.8 1226.7,564.8 1225.6,567.1 1228.0,566.2 1226.9,568.5 1229.3,567.6 1228.2,569.9 1230.6,569.0 1229.5,571.3 1231.9,570.4 1230.7,572.7 1233.1,571.8 1232.0,574.1 1234.4,573.2 1233.2,575.4 1235.6,574.5 1234.4,576.8 1236.8,575.9 1235.6,578.2 1238.0,577.3 1236.8,579.6 1239.2,578.7 1237.9,581.0 1240.3,580.1 1239.1,582.3 1241.5,581.5 1240.2,583.7 1242.6,582.9 1241.3,585.1 1243.7,584.3 1242.4,586.5 1244.8,585.7 1243.5,587.9 1245.9,587.1 1244.6,589.2 1247.0,588.5 1245.7,590.6 1248.1,589.9 1246.7,592.0 1249.1,591.3 1247.8,593.4 1250.2,592.6 1248.8,594.8 1251.2,594.0 1249.8,596.2 1252.3,595.4 1250.8,597.5 1253.3,596.8 1251.8,598.9 1254.3,598.2 1252.8,600.3 1255.3,599.6 1253.8,601.7 1256.2,601.0 1254.8,603.1 1257.2,602.4 1255.7,604.5 1258.2,603.8 1256.7,605.8 1259.1,605.2 1257.6,607.2 1260.1,606.6 1258.5,608.6 1261.0,608.0 1259.4,610.0 1261.9,609.4 1260.4,611.4 1262.8,610.7 1261.3,612.7 1263.7,612.1 1262.2,614.1 1264.6,613.5 1263.0,615.5 1265.5,614.9 1263.9,616.9 1266.4,616.3 1264.8,618.3 1267.3,617.7 1265.7,619.7 1268.1,619.1 1266.5,621.0 1269.0,620.5 1267.4,622.4 1269.8,621.9 1268.2,623.8 1270.7,623.3 1269.0,625.2 1271.5,624.7 1269.8,626.6 1272.3,626.0 1270.7,628.0 1273.1,627.4 1271.5,629.3 1274.0,628.8 1272.3,630.7 1274.8,630.2 1273.1,632.1 1275.6,631.6 1273.9,633.5 1276.3,633.0 1274.6,634.9 1277.1,634.4 1275.4,636.3 1277.9,635.8 1276.2,637.6 1278.7,637.2 1277.0,639.0 1279.4,638.6 1277.7,640.4 1280.2,640.0 1278.5,641.8 1280.9,641.3 1279.2,643.2 1281.7,642.7 1279.9,644.6 1282.4,644.1 1280.7,645.9 1283.2,645.5 1281.4,647.3 1283.9,646.9 1282.1,648.7 1284.6,648.3 1282.8,650.1 1285.3,649.7 1283.6,651.5 1286.0,651.1 1284.3,652.9 1286.8,652.5 1285.0,654.2 1287.5,653.9 1285.7,655.6 1288.2,655.2 1286.3,657.0 1288.8,656.6 1287.0,658.4 1289.5,658.0 1287.7,659.8 1290.2,659.4 1288.4,661.2 1290.9,660.8 1289.1,662.5 1291.6,662.2 1289.7,663.9 1292.2,663.6 1290.4,665.3 1292.9,665.0 1291.0,666.7 1293.5,666.4 1291.7,668.1 1294.2,667.8 1292.3,669.5 1294.8,669.1 1293.0,670.9 1295.5,670.5 1293.6,672.2 1296.1,671.9 1294.3,673.6 1296.8,673.3 1294.9,675.0 1297.4,674.7 1295.5,676.4 1298.0,676.1 1296.1,677.8 1298.6,677.5 1296.8,679.2 1299.3,678.9 1297.4,680.5 1299.9,680.3 1298.0,681.9 1300.5,681.7 1298.6,683.3 1301.1,683.0 1299.2,684.7 1301.7,684.4 1299.8,686.1 1302.3,685.8 1300.4,687.5 1302.9,687.2 1301.0,688.8 1303.5,688.6 1301.6,690.2 1304.1,690.0 1302.1,691.6 1304.6,691.4 1302.7,693.0 1305.2,692.8 1303.3,694.4 1305.8,694.2 1303.9,695.8 1306.4,695.5 1304.4,697.2 1306.9,696.9 1305.0,698.5 1307.5,698.3 1305.6,699.9 1308.1,699.7 1306.1,701.3 1308.6,701.1 1306.7,702.7 1309.2,702.5 1307.2,704.1 1309.7,703.9 1307.8,705.5 1310.3,705.3 1308.3,706.8 1310.8,706.7 1308.9,708.2 1311.4,708.1 1309.4,709.6 1311.9,709.4 1309.9,711.0 1312.5,710.8 1310.5,712.4 1313.0,712.2 1311.0,713.8 1313.5,713.6 1311.5,715.2 1314.0,715.0 1312.1,716.5 1314.6,716.4 1312.6,717.9 1315.1,717.8 1313.1,719.3 1315.6,719.2 1313.6,720.7 1316.1,720.6 1314.1,722.1 1316.6,721.9 1314.6,723.5 1317.1,723.3 1315.1,724.9 1317.7,724.7 1315.7,726.2 1318.2,726.1 1316.2,727.6 1318.7,727.5 1316.7,729.0 1319.2,728.9 1317.2,730.4 1319.7,730.3 1317.6,731.8 1320.2,731.7 1318.1,733.2 1320.6,733.1 1318.6,734.5 1321.1,734.4 1319.1,735.9 1321.6,735.8 1319.6,737.3 1322.1,737.2 1320.1,738.7 1322.6,738.6 1320.6,740.1 1323.1,740.0 1321.0,741.5 1323.5,741.4 1321.5,742.9 1324.0,742.8 1322.0,744.2 1324.5,744.2 1322.4,745.6 1325.0,745.6 1322.9,747.0 1325.4,746.9 1323.4,748.4 1325.9,748.3 1323.8,749.8 1326.4,749.7 1324.3,751.2 1326.8,751.1 1324.8,752.6 1327.3,752.5 1325.2,753.9 1327.7,753.9 1325.7,755.3 1328.2,755.3 1326.1,756.7 1328.6,756.7 1326.6,758.1 1329.1,758.1 1327.0,759.5 1329.5,759.4 1327.5,760.9 1330.0,760.8 1327.9,762.3 1330.4,762.2 1328.3,763.6 1330.9,763.6 1328.8,765.0 1331.3,765.0 1329.2,766.4 1331.7,766.4 1329.7,767.8 1332.2,767.8 1330.1,769.2 1332.6,769.2 1330.5,770.6 1333.0,770.5 1330.9,772.0 1333.5,771.9 1331.4,773.3 1333.9,773.3 1331.8,774.7 1334.3,774.7 1332.2,776.1 1334.7,776.1 1332.6,777.5 1335.2,777.5 1333.1,778.9 1335.6,778.9 1333.5,780.3 1336.0,780.3 1333.9,781.6 1336.4,781.7 1334.3,783.0 1336.8,783.0 1334.7,784.4 1337.2,784.4 1335.1,785.8 1337.6,785.8 1335.5,787.2 1338.0,787.2 1335.9,788.6 1338.5,788.6 1336.3,790.0 1338.9,790.0 1336.8,791.3 1339.3,791.4 1337.2,792.7 1339.7,792.8 1337.6,794.1 1340.1,794.2 1338.0,795.5 1340.5,795.5 1338.3,796.9 1340.9,796.9 1338.7,798.3 1341.2,798.3 1339.1,799.7 1341.6,799.7 1339.5,801.0 1342.0,801.1 1339.9,802.4 1342.4,802.5 1340.3,803.8 1342.8,803.9 1340.7,805.2 1343.2,805.3 1341.1,806.6 1343.6,806.6 1341.5,808.0 1344.0,808.0 1341.8,809.4 1344.3,809.4 1342.2,810.7 1344.7,810.8 1342.6,812.1 1345.1,812.2 1343.0,813.5 1345.5,813.6 1343.3,814.9" fill="none" stroke="#000000" stroke-width="2" stroke-linejoin="round"/>
<polyline points="761.8,468.5 826.8,469.2 864.8,469.9 891.8,470.6 912.7,471.3 929.8,472.0 944.3,472.7 956.8,473.4 967.8,474.1 977.7,474.8 986.6,475.5 994.8,476.2 1002.3,476.9 1009.2,477.6 1015.7,478.2 1021.8,478.9 1027.5,479.6 1032.8,480.3 1037.9,481.0 1042.7,481.7 1047.3,482.4 1051.6,483.1 1055.8,483.8 1059.8,484.5 1063.6,485.2 1067.3,485.9 1070.8,486.5 1074.2,487.4 1077.6,487.8 1080.7,488.8 1083.8,489.1 1086.7,490.3 1089.7,490.5 1092.4,491.7 1095.3,491.8 1097.7,493.2 1100.5,493.1 1102.8,494.6 1105.4,494.4 1107.5,496.1 1110.2,495.8 1112.1,497.5 1114.7,497.1 1116.4,499.0 1118.9,498.4 1120.6,500.4 1123.1,499.7 1124.5,501.9 1127.0,501.1 1128.3,503.3 1130.8,502.4 1132.0,504.8 1134.4,503.7 1135.5,506.2 1137.9,505.0 1138.8,507.7 1141.3,506.4 1142.1,509.1 1144.6,507.7 1145.2,510.6 1147.7,509.1 1148.3,511.9 1150.8,510.4 1151.2,513.3 1153.7,511.8 1154.1,514.7 1156.6,513.2 1156.9,516.1 1159.4,514.6 1159.6,517.5 1162.0,516.0 1162.2,518.8 1164.7,517.4 1164.8,520.2 1167.2,518.8 1167.3,521.6 1169.7,520.2 1169.7,523.0 1172.1,521.6 1172.1,524.4 1174.5,523.0 1174.4,525.7 1176.8,524.4 1176.6,527.1 1179.0,525.8 1178.8,528.5 1181.2,527.2 1181.0,529.9 1183.3,528.6 1183.1,531.3 1185.4,530.0 1185.1,532.6 1187.5,531.4 1187.1,534.0 1189.5,532.7 1189.1,535.4 1191.4,534.1 1191.0,536.8 1193.4,535.5 1192.9,538.2 1195.3,536.9 1194.7,539.5 1197.1,538.3 1196.5,540.9 1198.9,539.7 1198.3,542.3 1200.7,541.1 1200.1,543.7 1202.4,542.5 1201.8,545.1 1204.1,543.9 1203.5,546.4 1205.8,545.3 1205.1,547.8 1207.5,546.7 1206.7,549.2 1209.1,548.1 1208.3,550.6 1210.7,549.5 1209.9,552.0 1212.3,550.9 1211.4,553.3 1213.8,552.3 1213.0,554.7 1215.3,553.7 1214.5,556.1 1216.8,555.0 1215.9,557.5 1218.3,556.4 1217.4,558.9 1219.8,557.8 1218.8,560.2 1221.2,559.2 1220.2,561.6 1222.6,560.6 1221.6,563.0 1224.0,562.0 1222.9,564.4 1225.3,563.4 1224.3,565.8 1226.7,564.8 1225.6,567.1 1228.0,566.2 1226.9,568.5 1229.3,567.6 1228.2,569.9 1230.6,569.0 1229.5,571.3 1231.9,570.4 1230.7,572.7 1233.1,571.8 1232.0,574.1 1234.4,573.2 1233.2,575.4 1235.6,574.5 1234.4,576.8 1236.8,575.9 1235.6,578.2 1238.0,577.3 1236.8,579.6 1239.2,578.7 1237.9,581.0 1240.3,580.1 1239.1,582.3 1241.5,581.5 1240.2,583.7 1242.6,582.9 1241.3,585.1 1243.7,584.3 1242.4,586.5 1244.8,585.7 1243.5,587.9 1245.9,587.1 1244.6,589.2 1247.0,588.5 1245.7,590.6 1248.1,589.9 1246.7,592.0 1249.1,591.3 1247.8,593.4 1250.2,592.6 1248.8,594.8 1251.2,594.0 1249.8,596.2 1252.3,595.4 1250.8,597.5 1253.3,596.8 1251.8,598.9 1254.3,598.2 1252.8,600.3 1255.3,599.6 1253.8,601.7 1256.2,601.0 1254.8,603.1 1257.2,602.4 1255.7,604.5 1258.2,603.8 1256.7,605.8 1259.1,605.2 1257.6,607.2 1260.1,606.6 1258.5,608.6 1261.0,608.0 1259.4,610.0 1261.9,609.4 1260.4,611.4 1262.8,610.7 1261.3,612.7 1263.7,612.1 1262.2,614.1 1264.6,613.5 1263.0,615.5 1265.5,614.9 1263.9,616.9 1266.4,616.3 1264.8,618.3 1267.3,617.7 1265.7,619.7 1268.1,619.1 1266.5,621.0 1269.0,620.5 1267.4,622.4 1269.8,621.9 1268.2,623.8 1270.7,623.3 1269.0,625.2 1271.5,624.7 1269.8,626.6 1272.3,626.0 1270.7,628.0 1273.1,627.4 1271.5,629.3 1274.0,628.8 1272.3,630.7 1274.8,630.2 1273.1,632.1 1275.6,631.6 1273.9,633.5 1276.3,633.0 1274.6,634.9 1277.1,634.4 1275.4,636.3 1277.9,635.8 1276.2,637.6 1278.7,637.2 1277.0,639.0 1279.4,638.6 1277.7,640.4 1280.2,640.0 1278.5,641.8 1280.9,641.3 1279.2,643.2 1281.7,642.7 1279.9,644.6 1282.4,644.1 1280.7,645.9 1283.2,645.5 1281.4,647.3 1283.9,646.9 1282.1,648.7 1284.6,648.3 1282.8,650.1 1285.3,649.7 1283.6,651.5 1286.0,651.1 1284.3,652.9 1286.8,652.5 1285.0,654.2 1287.5,653.9 1285.7,655.6 1288.2,655.2 1286.3,657.0 1288.8,656.6 1287.0,658.4 1289.5,658.0 1287.7,659.8 1290.2,659.4 1288.4,661.2 1290.9,660.8 1289.1,662.5 1291.6,662.2 1289.7,663.9 1292.2,663.6 1290.4,665.3 1292.9,665.0 1291.0,666.7 1293.5,666.4 1291.7,668.1 1294.2,667.8 1292.3,669.5 1294.8,669.1 1293.0,670.9 1295.5,670.5 1293.6,672.2 1296.1,671.9 1294.3,673.6 1296.8,673.3 1294.9,675.0 1297.4,674.7 1295.5,676.4 1298.0,676.1 1296.1,677.8 1298.6,677.5 1296.8,679.2 1299.3,678.9 1297.4,680.5 1299.9,680.3 1298.0,681.9 1300.5,681.7 1298.6,683.3 1301.1,683.0 1299.2,684.7 1301.7,684.4 1299.8,686.1 1302.3,685.8 1300.4,687.5 1302.9,687.2 1301.0,688.8 1303.5,688.6 1301.6,690.2 1304.1,690.0 1302.1,691.6 1304.6,691.4 1302.7,693.0 1305.2,692.8 1303.3,694.4 1305.8,694.2 1303.9,695.8 1306.4,695.5 1304.4,697.2 1306.9,696.9 1305.0,698.5 1307.5,698.3 1305.6,699.9 1308.1,699.7 1306.1,701.3 1308.6,701.1 1306.7,702.7 1309.2,702.5 1307.2,704.1 1309.7,703.9 1307.8,705.5 1310.3,705.3 1308.3,706.8 1310.8,706.7 1308.9,708.2 1311.4,708.1 1309.4,709.6 1311.9,709.4 1309.9,711.0 1312.5,710.8 1310.5,712.4 1313.0,712.2 1311.0,713.8 1313.5,713.6 1311.5,715.2 1314.0,715.0 1312.1,716.5 1314.6,716.4 1312.6,717.9 1315.1,717.8 1313.1,719.3 1315.6,719.2 1313.6,720.7 1316.1,720.6 1314.1,722.1 1316.6,721.9 1314.6,723.5 1317.1,723.3 1315.1,724.9 1317.7,724.7 1315.7,726.2 1318.2,726.1 1316.2,727.6 1318.7,727.5 1316.7,729.0 1319.2,728.9 1317.2,730.4 1319.7,730.3 1317.6,731.8 1320.2,731.7 1318.1,733.2 1320.6,733.1 1318.6,734.5 1321.1,734.4 1319.1,735.9 1321.6,735.8 1319.6,737.3 1322.1,737.2 1320.1,738.7 1322.6,738.6 1320.6,740.1 1323.1,740.0 1321.0,741.5 1323.5,741.4 1321.5,742.9 1324.0,742.8 1322.0,744.2 1324.5,744.2 1322.4,745.6 1325.0,745.6 1322.9,747.0 1325.4,746.9 1323.4,748.4 1325.9,748.3 1323.8,749.8 1326.4,749.7 1324.3,751.2 1326.8,751.1 1324.8,752.6 1327.3,752.5 1325.2,753.9 1327.7,753.9 1325.7,755.3 1328.2,755.3 1326.1,756.7 1328.6,756.7 1326.6,758.1 1329.1,758.1 1327.0,759.5 1329.5,759.4 1327.5,760.9 1330.0,760.8 1327.9,762.3 1330.4,762.2 1328.3,763.6 1330.9,763.6 1328.8,765.0 1331.3,765.0 1329.2,766.4 1331.7,766.4 1329.7,767.8 1332.2,767.8 1330.1,769.2 1332.6,769.2 1330.5,770.6 1333.0,770.5 1330.9,772.0 1333.5,771.9 1331.4,773.3 1333.9,773.3 1331.8,774.7 1334.3,774.7 1332.2,776.1 1334.7,776.1 1332.6,777.5 1335.2,777.5 1333.1,778.9 1335.6,778.9 1333.5,780.3 1336.0,780.3 1333.9,781.6 1336.4,781.7 1334.3,783.0 1336.8,783.0 1334.7,784.4 1337.2,784.4 1335.1,785.8 1337.6,785.8 1335.5,787.2 1338.0,787.2 1335.9,788.6 1338.5,788.6 1336.3,790.0 1338.9,790.0 1336.8,791.3 1339.3,791.4 1337.2,792.7 1339.7,792.8 1337.6,794.1 1340.1,794.2 1338.0,795.5 1340.5,795.5 1338.3,796.9 1340.9,796.9 1338.7,798.3 1341.2,798.3 1339.1,799.7 1341.6,799.7 1339.5,801.0 1342.0,801.1 1339.9,802.4 1342.4,802.5 1340.3,803.8 1342.8,803.9 1340.7,805.2 1343.2,805.3 1341.1,806.6 1343.6,806.6 1341.5,808.0 1344.0,808.0 1341.8,809.4 1344.3,809.4 1342.2,810.7 1344.7,810.8 1342.6,812.1 1345.1,812.2 1343.0,813.5 1345.5,813.6 1343.3,814.9" fill="none" stroke="none" marker-start="url(#md1)" marker-mid="url(#md1)" marker-end="url(#md1)"/>
<polyline points="1083.8,487.7 1086.7,488.9 1089.7,489.2 1092.4,490.5 1095.3,490.7 1097.7,492.1 1100.5,492.2 1102.7,493.8 1105.5,493.7 1107.5,495.4 1110.2,495.2 1112.1,497.0 1114.7,496.6 1116.4,498.6" fill="none" stroke="#000000" stroke-width="3.6"/>
<polyline points="1114.7,496.6 1116.4,498.6 1119.0,498.1 1120.5,500.2 1123.1,499.6 1124.5,501.8 1127.0,501.1 1128.3,503.5 1130.8,502.6 1131.9,505.1 1134.5,504.1 1135.4,506.7 1138.0,505.6 1138.8,508.3 1141.4,507.1 1142.0,509.9 1144.6,508.6 1145.2,511.5" fill="none" stroke="#000000" stroke-width="8" stroke-linejoin="round"/>
<polygon points="1131.6,495.4 1137.3,497.6 1142.7,499.9 1147.8,502.2 1152.6,504.5 1157.2,506.9 1161.6,509.2 1165.8,511.6 1169.9,514.0 1173.7,516.4 1177.5,518.8 1181.0,521.2 1184.5,523.6 1187.8,526.0 1191.1,528.4 1194.2,530.8 1197.2,533.2 1200.2,535.6 1203.0,538.0 1205.8,540.4 1208.5,542.8 1211.1,545.2 1213.6,547.6 1216.1,550.0 1218.5,552.4 1220.9,554.8 1223.1,557.2 1225.4,559.6 1227.6,562.1 1229.7,564.5 1231.8,566.9 1233.8,569.3 1235.8,571.7 1237.8,574.1 1239.7,576.5 1241.6,578.9 1243.4,581.3 1245.2,583.7 1247.0,586.1 1248.7,588.5 1250.4,590.9 1252.1,593.3 1253.8,595.7 1255.4,598.1 1257.0,600.5 1258.5,602.8 1260.0,605.2 1261.6,607.6 1263.0,610.0 1264.5,612.4 1265.9,614.8 1267.3,617.2 1268.7,619.6 1270.1,621.9 1271.5,624.3 1272.8,626.7 1274.1,629.1 1275.4,631.5 1276.7,633.8 1277.9,636.2 1279.2,638.6 1280.4,641.0 1281.6,643.4 1282.8,645.7 1284.0,648.1 1285.1,650.5 1286.3,652.9 1287.4,655.2 1288.5,657.6 1289.6,660.0 1290.7,662.3 1291.8,664.7 1292.9,667.1 1293.9,669.4 1295.0,671.8 1296.0,674.2 1297.0,676.5 1298.0,678.9 1299.0,681.3 1300.0,683.6 1301.0,686.0 1302.0,688.4 1302.9,690.7 1303.9,693.1 1304.8,695.4 1305.7,697.8 1306.7,700.2 1307.6,702.5 1308.5,704.9 1309.4,707.2 1310.2,709.6 1311.1,712.0 1312.0,714.3 1312.8,716.7 1313.7,719.0 1314.5,721.4 1315.4,723.7 1316.2,726.1 1317.0,728.5 1317.8,730.8 1318.6,733.2 1319.4,735.5 1320.2,737.9 1321.0,740.2 1321.8,742.6 1322.6,744.9 1323.3,747.3 1324.1,749.6 1324.8,752.0 1325.6,754.3 1326.3,756.7 1327.1,759.0 1327.8,761.4 1328.5,763.7 1329.2,766.1 1329.9,768.4 1330.6,770.8 1331.3,773.1 1332.0,775.5 1332.7,777.8 1333.4,780.2 1334.1,782.5 1334.8,784.9 1335.4,787.2 1336.1,789.6 1336.8,791.9 1337.4,794.3 1338.1,796.6 1338.7,799.0 1339.4,801.3 1340.0,803.6 1340.6,806.0 1341.3,808.3 1341.9,810.7 1342.5,813.0 1343.1,815.4 1343.8,817.7 1344.4,820.1 1345.0,822.4 1345.6,824.8 1346.2,827.1 1346.8,829.4 1347.4,831.8 1347.9,834.1 1348.5,836.5 1349.1,838.8 1349.7,841.2 1350.2,843.5 1350.8,845.8 1351.4,848.2 1351.9,850.5 1352.5,852.9 1337.6,856.4 1337.1,854.1 1336.5,851.8 1335.9,849.5 1335.4,847.2 1334.8,844.8 1334.2,842.5 1333.6,840.2 1333.0,837.9 1332.4,835.6 1331.8,833.2 1331.2,830.9 1330.6,828.6 1330.0,826.3 1329.4,824.0 1328.8,821.7 1328.2,819.3 1327.6,817.0 1326.9,814.7 1326.3,812.4 1325.7,810.1 1325.0,807.8 1324.4,805.4 1323.7,803.1 1323.1,800.8 1322.4,798.5 1321.8,796.2 1321.1,793.9 1320.4,791.5 1319.7,789.2 1319.1,786.9 1318.4,784.6 1317.7,782.3 1317.0,780.0 1316.3,777.7 1315.6,775.4 1314.9,773.0 1314.2,770.7 1313.4,768.4 1312.7,766.1 1312.0,763.8 1311.2,761.5 1310.5,759.2 1309.7,756.9 1309.0,754.5 1308.2,752.2 1307.4,749.9 1306.7,747.6 1305.9,745.3 1305.1,743.0 1304.3,740.7 1303.5,738.4 1302.7,736.1 1301.9,733.8 1301.0,731.5 1300.2,729.2 1299.4,726.8 1298.5,724.5 1297.7,722.2 1296.8,719.9 1296.0,717.6 1295.1,715.3 1294.2,713.0 1293.3,710.7 1292.4,708.4 1291.5,706.1 1290.6,703.8 1289.7,701.5 1288.7,699.2 1287.8,696.9 1286.8,694.6 1285.9,692.3 1284.9,690.0 1283.9,687.7 1282.9,685.4 1281.9,683.1 1280.9,680.8 1279.9,678.5 1278.8,676.2 1277.8,673.9 1276.7,671.6 1275.6,669.3 1274.6,667.0 1273.5,664.8 1272.4,662.5 1271.2,660.2 1270.1,657.9 1269.0,655.6 1267.8,653.3 1266.6,651.0 1265.4,648.7 1264.2,646.5 1263.0,644.2 1261.8,641.9 1260.5,639.6 1259.2,637.3 1258.0,635.0 1256.7,632.8 1255.3,630.5 1254.0,628.2 1252.6,625.9 1251.3,623.6 1249.9,621.4 1248.4,619.1 1247.0,616.8 1245.5,614.5 1244.1,612.3 1242.5,610.0 1241.0,607.7 1239.5,605.5 1237.9,603.2 1236.3,600.9 1234.6,598.7 1233.0,596.4 1231.3,594.1 1229.6,591.9 1227.8,589.6 1226.0,587.4 1224.2,585.1 1222.3,582.8 1220.4,580.6 1218.5,578.3 1216.5,576.1 1214.5,573.8 1212.5,571.6 1210.3,569.3 1208.2,567.1 1206.0,564.8 1203.7,562.5 1201.4,560.3 1199.0,558.0 1196.6,555.8 1194.1,553.5 1191.5,551.3 1188.9,549.0 1186.2,546.8 1183.4,544.5 1180.5,542.2 1177.5,540.0 1174.4,537.7 1171.2,535.4 1167.9,533.2 1164.5,530.9 1160.9,528.6 1157.2,526.3 1153.3,524.1 1149.2,521.8 1144.9,519.5 1140.5,517.1 1135.8,514.7 1130.8,512.3 1125.6,509.9" fill="#000000"/>
<polyline points="761.8,464.6 826.8,465.4 864.8,466.1 891.8,466.9 912.7,467.7 929.8,468.5 944.3,469.3 956.8,470.0 967.8,470.8 977.7,471.6 986.6,472.4 994.8,473.1 1002.3,473.9 1009.2,474.7 1015.7,475.5 1021.8,476.2 1027.5,477.0 1032.8,477.8 1037.9,478.6 1042.7,479.4 1047.3,480.1 1051.6,480.9 1055.8,481.7 1059.8,482.5 1063.6,483.2 1067.3,484.0 1070.8,484.7 1074.2,485.7 1077.6,486.2 1080.7,487.3 1083.8,487.7 1086.7,488.9 1089.7,489.2 1092.4,490.5 1095.3,490.7 1097.7,492.1 1100.5,492.2 1102.7,493.8 1105.5,493.7 1107.5,495.4 1110.2,495.2 1112.1,497.0 1114.7,496.6 1116.4,498.6 1119.0,498.1 1120.5,500.2 1123.1,499.6 1124.5,501.8 1127.0,501.1 1128.3,503.5 1130.8,502.6 1131.9,505.1 1134.5,504.1 1135.4,506.7 1138.0,505.6 1138.8,508.3 1141.4,507.1 1142.0,509.9 1144.6,508.6 1145.2,511.5 1147.8,510.1 1148.2,513.1 1150.8,511.7 1151.2,514.6 1153.8,513.3 1154.1,516.1 1156.6,514.8 1156.8,517.7 1159.4,516.4 1159.6,519.2 1162.1,517.9 1162.2,520.8 1164.7,519.5 1164.7,522.3 1167.3,521.1 1167.2,523.9 1169.7,522.6 1169.7,525.4 1172.2,524.2 1172.0,527.0 1174.5,525.8 1174.3,528.5 1176.8,527.3 1176.6,530.1 1179.1,528.9 1178.8,531.6 1181.2,530.4 1180.9,533.2 1183.4,532.0 1183.0,534.7 1185.5,533.6 1185.1,536.3 1187.5,535.1 1187.1,537.8 1189.5,536.7 1189.0,539.3 1191.5,538.2 1190.9,540.9 1193.4,539.8 1192.8,542.4 1195.3,541.4 1194.7,544.0 1197.2,542.9 1196.5,545.5 1199.0,544.5 1198.3,547.1 1200.7,546.1 1200.0,548.6 1202.5,547.6 1201.7,550.2 1204.2,549.2 1203.4,551.7 1205.9,550.7 1205.1,553.3 1207.5,552.3 1206.7,554.8 1209.2,553.9 1208.3,556.4 1210.8,555.4 1209.8,557.9 1212.3,557.0 1211.4,559.5 1213.9,558.5 1212.9,561.0 1215.4,560.1 1214.4,562.5 1216.9,561.7 1215.9,564.1 1218.4,563.2 1217.3,565.6 1219.8,564.8 1218.7,567.2 1221.2,566.4 1220.2,568.7 1222.6,567.9 1221.5,570.3 1224.0,569.5 1222.9,571.8 1225.4,571.0 1224.2,573.4 1226.7,572.6 1225.6,574.9 1228.1,574.2 1226.9,576.5 1229.4,575.7 1228.2,578.0 1230.7,577.3 1229.4,579.6 1231.9,578.8 1230.7,581.1 1233.2,580.4 1231.9,582.7 1234.4,582.0 1233.1,584.2 1235.6,583.5 1234.3,585.8 1236.8,585.1 1235.5,587.3 1238.0,586.6 1236.7,588.9 1239.2,588.2 1237.9,590.4 1240.4,589.8 1239.0,592.0 1241.5,591.3 1240.2,593.5 1242.7,592.9 1241.3,595.1 1243.8,594.4 1242.4,596.6 1244.9,596.0 1243.5,598.1 1246.0,597.6 1244.5,599.7 1247.1,599.1 1245.6,601.2 1248.1,600.7 1246.7,602.8 1249.2,602.2 1247.7,604.3 1250.2,603.8 1248.7,605.9 1251.3,605.3 1249.8,607.4 1252.3,606.9 1250.8,609.0 1253.3,608.5 1251.8,610.5 1254.3,610.0 1252.8,612.1 1255.3,611.6 1253.7,613.6 1256.3,613.1 1254.7,615.2 1257.2,614.7 1255.7,616.7 1258.2,616.3 1256.6,618.3 1259.1,617.8 1257.6,619.8 1260.1,619.4 1258.5,621.4 1261.0,620.9 1259.4,622.9 1261.9,622.5 1260.3,624.5 1262.9,624.1 1261.2,626.0 1263.8,625.6 1262.1,627.6 1264.7,627.2 1263.0,629.1 1265.5,628.7 1263.9,630.7 1266.4,630.3 1264.8,632.2 1267.3,631.8 1265.6,633.8 1268.2,633.4 1266.5,635.3 1269.0,635.0 1267.3,636.9 1269.9,636.5 1268.2,638.4 1270.7,638.1 1269.0,640.0 1271.5,639.6 1269.8,641.5 1272.4,641.2 1270.6,643.1 1273.2,642.7 1271.4,644.6 1274.0,644.3 1272.2,646.2 1274.8,645.9 1273.0,647.7 1275.6,647.4 1273.8,649.3 1276.4,649.0 1274.6,650.8 1277.2,650.5 1275.4,652.4 1277.9,652.1 1276.2,653.9 1278.7,653.7 1276.9,655.5 1279.5,655.2 1277.7,657.0 1280.2,656.8 1278.4,658.6 1281.0,658.3 1279.2,660.1 1281.7,659.9 1279.9,661.7 1282.5,661.4 1280.7,663.2 1283.2,663.0 1281.4,664.8 1283.9,664.6 1282.1,666.3 1284.6,666.1 1282.8,667.9 1285.4,667.7 1283.5,669.4 1286.1,669.2 1284.2,671.0 1286.8,670.8 1284.9,672.5 1287.5,672.3 1285.6,674.1 1288.2,673.9 1286.3,675.6 1288.9,675.5 1287.0,677.2 1289.6,677.0 1287.7,678.8 1290.2,678.6 1288.4,680.3 1290.9,680.1 1289.0,681.9 1291.6,681.7 1289.7,683.4 1292.2,683.2 1290.4,685.0 1292.9,684.8 1291.0,686.5 1293.6,686.4 1291.7,688.1 1294.2,687.9 1292.3,689.6 1294.9,689.5 1293.0,691.2 1295.5,691.0 1293.6,692.7 1296.1,692.6 1294.2,694.3 1296.8,694.1 1294.9,695.8 1297.4,695.7 1295.5,697.4 1298.0,697.2 1296.1,698.9 1298.7,698.8 1296.7,700.5 1299.3,700.4 1297.4,702.0 1299.9,701.9 1298.0,703.6 1300.5,703.5 1298.6,705.1 1301.1,705.0 1299.2,706.7 1301.7,706.6 1299.8,708.2 1302.3,708.1 1300.4,709.8 1302.9,709.7 1301.0,711.3 1303.5,711.3 1301.5,712.9 1304.1,712.8 1302.1,714.4 1304.7,714.4 1302.7,716.0 1305.2,715.9 1303.3,717.5 1305.8,717.5 1303.9,719.1 1306.4,719.0 1304.4,720.6 1307.0,720.6 1305.0,722.2 1307.5,722.2 1305.5,723.7 1308.1,723.7 1306.1,725.3 1308.6,725.3 1306.7,726.8 1309.2,726.8 1307.2,728.4 1309.8,728.4 1307.8,730.0 1310.3,729.9 1308.3,731.5 1310.8,731.5 1308.9,733.1 1311.4,733.0 1309.4,734.6 1311.9,734.6 1309.9,736.2 1312.5,736.2 1310.5,737.7 1313.0,737.7 1311.0,739.3 1313.5,739.3 1311.5,740.8 1314.1,740.8 1312.0,742.4 1314.6,742.4 1312.6,743.9 1315.1,743.9 1313.1,745.5 1315.6,745.5 1313.6,747.0 1316.1,747.0 1314.1,748.6 1316.7,748.6 1314.6,750.1 1317.2,750.2 1315.1,751.7 1317.7,751.7 1315.6,753.2 1318.2,753.3 1316.1,754.8 1318.7,754.8 1316.6,756.3 1319.2,756.4 1317.1,757.9 1319.7,757.9 1317.6,759.4 1320.2,759.5 1318.1,761.0 1320.7,761.1 1318.6,762.5 1321.1,762.6 1319.1,764.1 1321.6,764.2 1319.6,765.7 1322.1,765.7 1320.1,767.2 1322.6,767.3 1320.5,768.8 1323.1,768.8 1321.0,770.3 1323.6,770.4 1321.5,771.9 1324.0,771.9 1322.0,773.4 1324.5,773.5 1322.4,775.0 1325.0,775.1 1322.9,776.5 1325.4,776.6 1323.4,778.1 1325.9,778.2 1323.8,779.6 1326.4,779.7 1324.3,781.2 1326.8,781.3 1324.7,782.7 1327.3,782.8 1325.2,784.3 1327.7,784.4 1325.7,785.8 1328.2,785.9 1326.1,787.4 1328.6,787.5 1326.6,788.9 1329.1,789.1 1327.0,790.5 1329.5,790.6 1327.5,792.0 1330.0,792.2 1327.9,793.6 1330.4,793.7 1328.3,795.2 1330.9,795.3 1328.8,796.7 1331.3,796.8 1329.2,798.3 1331.7,798.4 1329.6,799.8 1332.2,799.9 1330.1,801.4 1332.6,801.5 1330.5,802.9 1333.0,803.1 1330.9,804.5 1333.5,804.6 1331.4,806.0 1333.9,806.2 1331.8,807.6 1334.3,807.7 1332.2,809.1 1334.7,809.3 1332.6,810.7 1335.2,810.8 1333.1,812.2 1335.6,812.4 1333.5,813.8 1336.0,813.9 1333.9,815.3 1336.4,815.5 1334.3,816.9 1336.8,817.0 1334.7,818.4 1337.2,818.6 1335.1,820.0 1337.6,820.2 1335.5,821.5 1338.1,821.7 1335.9,823.1 1338.5,823.3 1336.3,824.7 1338.9,824.8 1336.7,826.2 1339.3,826.4 1337.1,827.8 1339.7,827.9 1337.5,829.3 1340.1,829.5 1337.9,830.9 1340.5,831.0 1338.3,832.4 1340.9,832.6 1338.7,834.0 1341.3,834.2 1339.1,835.5 1341.6,835.7 1339.5,837.1 1342.0,837.3 1339.9,838.6 1342.4,838.8 1340.3,840.2 1342.8,840.4 1340.7,841.7 1343.2,841.9 1341.1,843.3 1343.6,843.5 1341.4,844.8 1344.0,845.0 1341.8,846.4 1344.4,846.6 1342.2,847.9 1344.7,848.2 1342.6,849.5 1345.1,849.7 1343.0,851.1 1345.5,851.3 1343.3,852.6" fill="none" stroke="#000000" stroke-width="4" stroke-linejoin="round"/>
<polyline points="761.8,464.6 826.8,465.4 864.8,466.1 891.8,466.9 912.7,467.7 929.8,468.5 944.3,469.3 956.8,470.0 967.8,470.8 977.7,471.6 986.6,472.4 994.8,473.1 1002.3,473.9 1009.2,474.7 1015.7,475.5 1021.8,476.2 1027.5,477.0 1032.8,477.8 1037.9,478.6 1042.7,479.4 1047.3,480.1 1051.6,480.9 1055.8,481.7 1059.8,482.5 1063.6,483.2 1067.3,484.0 1070.8,484.7 1074.2,485.7 1077.6,486.2 1080.7,487.3 1083.8,487.7 1086.7,488.9 1089.7,489.2 1092.4,490.5 1095.3,490.7 1097.7,492.1 1100.5,492.2 1102.7,493.8 1105.5,493.7 1107.5,495.4 1110.2,495.2 1112.1,497.0 1114.7,496.6 1116.4,498.6 1119.0,498.1 1120.5,500.2 1123.1,499.6 1124.5,501.8 1127.0,501.1 1128.3,503.5 1130.8,502.6 1131.9,505.1 1134.5,504.1 1135.4,506.7 1138.0,505.6 1138.8,508.3 1141.4,507.1 1142.0,509.9 1144.6,508.6 1145.2,511.5 1147.8,510.1 1148.2,513.1 1150.8,511.7 1151.2,514.6 1153.8,513.3 1154.1,516.1 1156.6,514.8 1156.8,517.7 1159.4,516.4 1159.6,519.2 1162.1,517.9 1162.2,520.8 1164.7,519.5 1164.7,522.3 1167.3,521.1 1167.2,523.9 1169.7,522.6 1169.7,525.4 1172.2,524.2 1172.0,527.0 1174.5,525.8 1174.3,528.5 1176.8,527.3 1176.6,530.1 1179.1,528.9 1178.8,531.6 1181.2,530.4 1180.9,533.2 1183.4,532.0 1183.0,534.7 1185.5,533.6 1185.1,536.3 1187.5,535.1 1187.1,537.8 1189.5,536.7 1189.0,539.3 1191.5,538.2 1190.9,540.9 1193.4,539.8 1192.8,542.4 1195.3,541.4 1194.7,544.0 1197.2,542.9 1196.5,545.5 1199.0,544.5 1198.3,547.1 1200.7,546.1 1200.0,548.6 1202.5,547.6 1201.7,550.2 1204.2,549.2 1203.4,551.7 1205.9,550.7 1205.1,553.3 1207.5,552.3 1206.7,554.8 1209.2,553.9 1208.3,556.4 1210.8,555.4 1209.8,557.9 1212.3,557.0 1211.4,559.5 1213.9,558.5 1212.9,561.0 1215.4,560.1 1214.4,562.5 1216.9,561.7 1215.9,564.1 1218.4,563.2 1217.3,565.6 1219.8,564.8 1218.7,567.2 1221.2,566.4 1220.2,568.7 1222.6,567.9 1221.5,570.3 1224.0,569.5 1222.9,571.8 1225.4,571.0 1224.2,573.4 1226.7,572.6 1225.6,574.9 1228.1,574.2 1226.9,576.5 1229.4,575.7 1228.2,578.0 1230.7,577.3 1229.4,579.6 1231.9,578.8 1230.7,581.1 1233.2,580.4 1231.9,582.7 1234.4,582.0 1233.1,584.2 1235.6,583.5 1234.3,585.8 1236.8,585.1 1235.5,587.3 1238.0,586.6 1236.7,588.9 1239.2,588.2 1237.9,590.4 1240.4,589.8 1239.0,592.0 1241.5,591.3 1240.2,593.5 1242.7,592.9 1241.3,595.1 1243.8,594.4 1242.4,596.6 1244.9,596.0 1243.5,598.1 1246.0,597.6 1244.5,599.7 1247.1,599.1 1245.6,601.2 1248.1,600.7 1246.7,602.8 1249.2,602.2 1247.7,604.3 1250.2,603.8 1248.7,605.9 1251.3,605.3 1249.8,607.4 1252.3,606.9 1250.8,609.0 1253.3,608.5 1251.8,610.5 1254.3,610.0 1252.8,612.1 1255.3,611.6 1253.7,613.6 1256.3,613.1 1254.7,615.2 1257.2,614.7 1255.7,616.7 1258.2,616.3 1256.6,618.3 1259.1,617.8 1257.6,619.8 1260.1,619.4 1258.5,621.4 1261.0,620.9 1259.4,622.9 1261.9,622.5 1260.3,624.5 1262.9,624.1 1261.2,626.0 1263.8,625.6 1262.1,627.6 1264.7,627.2 1263.0,629.1 1265.5,628.7 1263.9,630.7 1266.4,630.3 1264.8,632.2 1267.3,631.8 1265.6,633.8 1268.2,633.4 1266.5,635.3 1269.0,635.0 1267.3,636.9 1269.9,636.5 1268.2,638.4 1270.7,638.1 1269.0,640.0 1271.5,639.6 1269.8,641.5 1272.4,641.2 1270.6,643.1 1273.2,642.7 1271.4,644.6 1274.0,644.3 1272.2,646.2 1274.8,645.9 1273.0,647.7 1275.6,647.4 1273.8,649.3 1276.4,649.0 1274.6,650.8 1277.2,650.5 1275.4,652.4 1277.9,652.1 1276.2,653.9 1278.7,653.7 1276.9,655.5 1279.5,655.2 1277.7,657.0 1280.2,656.8 1278.4,658.6 1281.0,658.3 1279.2,660.1 1281.7,659.9 1279.9,661.7 1282.5,661.4 1280.7,663.2 1283.2,663.0 1281.4,664.8 1283.9,664.6 1282.1,666.3 1284.6,666.1 1282.8,667.9 1285.4,667.7 1283.5,669.4 1286.1,669.2 1284.2,671.0 1286.8,670.8 1284.9,672.5 1287.5,672.3 1285.6,674.1 1288.2,673.9 1286.3,675.6 1288.9,675.5 1287.0,677.2 1289.6,677.0 1287.7,678.8 1290.2,678.6 1288.4,680.3 1290.9,680.1 1289.0,681.9 1291.6,681.7 1289.7,683.4 1292.2,683.2 1290.4,685.0 1292.9,684.8 1291.0,686.5 1293.6,686.4 1291.7,688.1 1294.2,687.9 1292.3,689.6 1294.9,689.5 1293.0,691.2 1295.5,691.0 1293.6,692.7 1296.1,692.6 1294.2,694.3 1296.8,694.1 1294.9,695.8 1297.4,695.7 1295.5,697.4 1298.0,697.2 1296.1,698.9 1298.7,698.8 1296.7,700.5 1299.3,700.4 1297.4,702.0 1299.9,701.9 1298.0,703.6 1300.5,703.5 1298.6,705.1 1301.1,705.0 1299.2,706.7 1301.7,706.6 1299.8,708.2 1302.3,708.1 1300.4,709.8 1302.9,709.7 1301.0,711.3 1303.5,711.3 1301.5,712.9 1304.1,712.8 1302.1,714.4 1304.7,714.4 1302.7,716.0 1305.2,715.9 1303.3,717.5 1305.8,717.5 1303.9,719.1 1306.4,719.0 1304.4,720.6 1307.0,720.6 1305.0,722.2 1307.5,722.2 1305.5,723.7 1308.1,723.7 1306.1,725.3 1308.6,725.3 1306.7,726.8 1309.2,726.8 1307.2,728.4 1309.8,728.4 1307.8,730.0 1310.3,729.9 1308.3,731.5 1310.8,731.5 1308.9,733.1 1311.4,733.0 1309.4,734.6 1311.9,734.6 1309.9,736.2 1312.5,736.2 1310.5,737.7 1313.0,737.7 1311.0,739.3 1313.5,739.3 1311.5,740.8 1314.1,740.8 1312.0,742.4 1314.6,742.4 1312.6,743.9 1315.1,743.9 1313.1,745.5 1315.6,745.5 1313.6,747.0 1316.1,747.0 1314.1,748.6 1316.7,748.6 1314.6,750.1 1317.2,750.2 1315.1,751.7 1317.7,751.7 1315.6,753.2 1318.2,753.3 1316.1,754.8 1318.7,754.8 1316.6,756.3 1319.2,756.4 1317.1,757.9 1319.7,757.9 1317.6,759.4 1320.2,759.5 1318.1,761.0 1320.7,761.1 1318.6,762.5 1321.1,762.6 1319.1,764.1 1321.6,764.2 1319.6,765.7 1322.1,765.7 1320.1,767.2 1322.6,767.3 1320.5,768.8 1323.1,768.8 1321.0,770.3 1323.6,770.4 1321.5,771.9 1324.0,771.9 1322.0,773.4 1324.5,773.5 1322.4,775.0 1325.0,775.1 1322.9,776.5 1325.4,776.6 1323.4,778.1 1325.9,778.2 1323.8,779.6 1326.4,779.7 1324.3,781.2 1326.8,781.3 1324.7,782.7 1327.3,782.8 1325.2,784.3 1327.7,784.4 1325.7,785.8 1328.2,785.9 1326.1,787.4 1328.6,787.5 1326.6,788.9 1329.1,789.1 1327.0,790.5 1329.5,790.6 1327.5,792.0 1330.0,792.2 1327.9,793.6 1330.4,793.7 1328.3,795.2 1330.9,795.3 1328.8,796.7 1331.3,796.8 1329.2,798.3 1331.7,798.4 1329.6,799.8 1332.2,799.9 1330.1,801.4 1332.6,801.5 1330.5,802.9 1333.0,803.1 1330.9,804.5 1333.5,804.6 1331.4,806.0 1333.9,806.2 1331.8,807.6 1334.3,807.7 1332.2,809.1 1334.7,809.3 1332.6,810.7 1335.2,810.8 1333.1,812.2 1335.6,812.4 1333.5,813.8 1336.0,813.9 1333.9,815.3 1336.4,815.5 1334.3,816.9 1336.8,817.0 1334.7,818.4 1337.2,818.6 1335.1,820.0 1337.6,820.2 1335.5,821.5 1338.1,821.7 1335.9,823.1 1338.5,823.3 1336.3,824.7 1338.9,824.8 1336.7,826.2 1339.3,826.4 1337.1,827.8 1339.7,827.9 1337.5,829.3 1340.1,829.5 1337.9,830.9 1340.5,831.0 1338.3,832.4 1340.9,832.6 1338.7,834.0 1341.3,834.2 1339.1,835.5 1341.6,835.7 1339.5,837.1 1342.0,837.3 1339.9,838.6 1342.4,838.8 1340.3,840.2 1342.8,840.4 1340.7,841.7 1343.2,841.9 1341.1,843.3 1343.6,843.5 1341.4,844.8 1344.0,845.0 1341.8,846.4 1344.4,846.6 1342.2,847.9 1344.7,848.2 1342.6,849.5 1345.1,849.7 1343.0,851.1 1345.5,851.3 1343.3,852.6" fill="none" stroke="none" marker-start="url(#md2)" marker-mid="url(#md2)" marker-end="url(#md2)"/>
<polyline points="1083.8,485.1 1086.7,486.2 1089.7,486.4 1092.4,487.6 1095.3,487.7 1097.7,489.1 1100.5,489.0 1102.8,490.5 1105.4,490.3 1107.5,492.0 1110.2,491.7 1112.1,493.4 1114.7,493.0 1116.4,494.9" fill="none" stroke="#000000" stroke-width="3.6"/>
<polyline points="1114.7,493.0 1116.4,494.9 1118.9,494.3 1120.6,496.3 1123.1,495.6 1124.5,497.8 1127.0,497.0 1128.3,499.2 1130.8,498.3 1132.0,500.7 1134.4,499.6 1135.5,502.1 1137.9,500.9 1138.8,503.6 1141.3,502.3 1142.1,505.0 1144.6,503.6 1145.2,506.4" fill="none" stroke="#000000" stroke-width="8" stroke-linejoin="round"/>
<polygon points="1131.3,491.2 1137.0,493.1 1142.3,495.1 1147.4,497.1 1152.2,499.2 1156.8,501.3 1161.2,503.4 1165.4,505.5 1169.4,507.6 1173.3,509.7 1177.0,511.8 1180.6,514.0 1184.1,516.1 1187.4,518.2 1190.6,520.3 1193.8,522.5 1196.8,524.6 1199.7,526.7 1202.6,528.9 1205.4,531.0 1208.1,533.2 1210.7,535.3 1213.2,537.5 1215.7,539.6 1218.1,541.8 1220.5,543.9 1222.8,546.0 1225.0,548.2 1227.2,550.3 1229.4,552.5 1231.5,554.6 1233.5,556.8 1235.5,558.9 1237.5,561.1 1239.4,563.2 1241.3,565.4 1243.2,567.5 1245.0,569.6 1246.7,571.8 1248.5,573.9 1250.2,576.1 1251.9,578.2 1253.5,580.3 1255.1,582.5 1256.7,584.6 1258.3,586.8 1259.8,588.9 1261.4,591.0 1262.9,593.2 1264.3,595.3 1265.8,597.4 1267.2,599.6 1268.6,601.7 1270.0,603.8 1271.3,606.0 1272.7,608.1 1274.0,610.2 1275.3,612.4 1276.6,614.5 1277.8,616.6 1279.1,618.7 1280.3,620.9 1281.5,623.0 1282.7,625.1 1283.9,627.2 1285.1,629.3 1286.2,631.5 1287.3,633.6 1288.5,635.7 1289.6,637.8 1290.7,639.9 1291.8,642.1 1292.8,644.2 1293.9,646.3 1294.9,648.4 1296.0,650.5 1297.0,652.6 1298.0,654.8 1299.0,656.9 1300.0,659.0 1301.0,661.1 1301.9,663.2 1302.9,665.3 1303.9,667.4 1304.8,669.5 1305.7,671.6 1306.6,673.8 1307.6,675.9 1308.5,678.0 1309.4,680.1 1310.2,682.2 1311.1,684.3 1312.0,686.4 1312.8,688.5 1313.7,690.6 1314.5,692.7 1315.4,694.8 1316.2,696.9 1317.0,699.0 1317.8,701.1 1318.6,703.2 1319.4,705.3 1320.2,707.4 1321.0,709.5 1321.8,711.6 1322.6,713.7 1323.3,715.8 1324.1,717.9 1324.9,720.0 1325.6,722.1 1326.3,724.2 1327.1,726.3 1327.8,728.4 1328.5,730.5 1329.3,732.6 1330.0,734.7 1330.7,736.8 1331.4,738.9 1332.1,741.0 1332.8,743.1 1333.5,745.2 1334.1,747.3 1334.8,749.4 1335.5,751.5 1336.2,753.6 1336.8,755.7 1337.5,757.8 1338.1,759.9 1338.8,762.0 1339.4,764.1 1340.1,766.2 1340.7,768.3 1341.3,770.4 1342.0,772.5 1342.6,774.5 1343.2,776.6 1343.8,778.7 1344.4,780.8 1345.0,782.9 1345.6,785.0 1346.2,787.1 1346.8,789.2 1347.4,791.3 1348.0,793.4 1348.6,795.5 1349.2,797.6 1349.7,799.6 1350.3,801.7 1350.9,803.8 1351.4,805.9 1352.0,808.0 1352.6,810.1 1337.6,814.1 1337.0,812.1 1336.5,810.0 1335.9,807.9 1335.3,805.9 1334.7,803.8 1334.2,801.7 1333.6,799.7 1333.0,797.6 1332.4,795.6 1331.8,793.5 1331.2,791.4 1330.6,789.4 1330.0,787.3 1329.4,785.2 1328.8,783.2 1328.1,781.1 1327.5,779.1 1326.9,777.0 1326.3,774.9 1325.6,772.9 1325.0,770.8 1324.3,768.7 1323.7,766.7 1323.0,764.6 1322.4,762.6 1321.7,760.5 1321.1,758.4 1320.4,756.4 1319.7,754.3 1319.0,752.3 1318.3,750.2 1317.7,748.2 1317.0,746.1 1316.3,744.0 1315.5,742.0 1314.8,739.9 1314.1,737.9 1313.4,735.8 1312.7,733.8 1311.9,731.7 1311.2,729.6 1310.5,727.6 1309.7,725.5 1309.0,723.5 1308.2,721.4 1307.4,719.4 1306.6,717.3 1305.9,715.3 1305.1,713.2 1304.3,711.2 1303.5,709.1 1302.7,707.0 1301.9,705.0 1301.0,702.9 1300.2,700.9 1299.4,698.8 1298.5,696.8 1297.7,694.7 1296.8,692.7 1296.0,690.6 1295.1,688.6 1294.2,686.5 1293.3,684.5 1292.4,682.5 1291.5,680.4 1290.6,678.4 1289.7,676.3 1288.7,674.3 1287.8,672.2 1286.8,670.2 1285.9,668.1 1284.9,666.1 1283.9,664.1 1282.9,662.0 1281.9,660.0 1280.9,657.9 1279.9,655.9 1278.9,653.9 1277.8,651.8 1276.8,649.8 1275.7,647.7 1274.6,645.7 1273.5,643.7 1272.4,641.6 1271.3,639.6 1270.2,637.6 1269.0,635.5 1267.9,633.5 1266.7,631.5 1265.5,629.4 1264.3,627.4 1263.1,625.4 1261.9,623.3 1260.6,621.3 1259.4,619.3 1258.1,617.3 1256.8,615.2 1255.5,613.2 1254.1,611.2 1252.8,609.2 1251.4,607.1 1250.0,605.1 1248.6,603.1 1247.2,601.1 1245.7,599.1 1244.3,597.0 1242.8,595.0 1241.2,593.0 1239.7,591.0 1238.1,589.0 1236.5,587.0 1234.9,585.0 1233.2,582.9 1231.5,580.9 1229.8,578.9 1228.1,576.9 1226.3,574.9 1224.5,572.9 1222.6,570.9 1220.8,568.9 1218.8,566.9 1216.9,564.9 1214.9,562.8 1212.8,560.8 1210.7,558.8 1208.6,556.8 1206.4,554.8 1204.1,552.8 1201.8,550.8 1199.4,548.8 1197.0,546.8 1194.5,544.8 1192.0,542.7 1189.3,540.7 1186.6,538.7 1183.8,536.7 1180.9,534.7 1177.9,532.6 1174.8,530.6 1171.6,528.6 1168.3,526.6 1164.9,524.5 1161.3,522.5 1157.6,520.4 1153.7,518.4 1149.6,516.3 1145.3,514.3 1140.8,512.2 1136.2,510.0 1131.2,507.9 1125.9,505.7" fill="#000000"/>
<polyline points="761.8,464.5 826.8,465.2 864.8,465.9 891.8,466.6 912.7,467.3 929.8,468.0 944.3,468.6 956.8,469.3 967.8,470.0 977.7,470.7 986.6,471.4 994.8,472.1 1002.3,472.8 1009.2,473.5 1015.7,474.2 1021.8,474.9 1027.5,475.6 1032.8,476.3 1037.9,477.0 1042.7,477.6 1047.3,478.3 1051.6,479.0 1055.8,479.7 1059.8,480.4 1063.6,481.1 1067.3,481.8 1070.8,482.4 1074.2,483.3 1077.6,483.7 1080.7,484.7 1083.8,485.1 1086.7,486.2 1089.7,486.4 1092.4,487.6 1095.3,487.7 1097.7,489.1 1100.5,489.0 1102.8,490.5 1105.4,490.3 1107.5,492.0 1110.2,491.7 1112.1,493.4 1114.7,493.0 1116.4,494.9 1118.9,494.3 1120.6,496.3 1123.1,495.6 1124.5,497.8 1127.0,497.0 1128.3,499.2 1130.8,498.3 1132.0,500.7 1134.4,499.6 1135.5,502.1 1137.9,500.9 1138.8,503.6 1141.3,502.3 1142.1,505.0 1144.6,503.6 1145.2,506.4 1147.7,504.9 1148.3,507.8 1150.8,506.3 1151.2,509.2 1153.7,507.7 1154.1,510.6 1156.6,509.1 1156.9,512.0 1159.4,510.5 1159.6,513.3 1162.0,511.9 1162.2,514.7 1164.7,513.3 1164.8,516.1 1167.2,514.7 1167.3,517.5 1169.7,516.1 1169.7,518.8 1172.1,517.5 1172.1,520.2 1174.5,518.9 1174.4,521.6 1176.8,520.2 1176.6,523.0 1179.0,521.6 1178.8,524.4 1181.2,523.0 1181.0,525.7 1183.3,524.4 1183.1,527.1 1185.4,525.8 1185.1,528.5 1187.5,527.2 1187.1,529.9 1189.5,528.6 1189.1,531.3 1191.4,530.0 1191.0,532.6 1193.4,531.4 1192.9,534.0 1195.3,532.8 1194.7,535.4 1197.1,534.2 1196.5,536.8 1198.9,535.6 1198.3,538.1 1200.7,537.0 1200.1,539.5 1202.4,538.3 1201.8,540.9 1204.1,539.7 1203.5,542.3 1205.8,541.1 1205.1,543.7 1207.5,542.5 1206.7,545.0 1209.1,543.9 1208.3,546.4 1210.7,545.3 1209.9,547.8 1212.3,546.7 1211.4,549.2 1213.8,548.1 1213.0,550.5 1215.3,549.5 1214.5,551.9 1216.8,550.9 1215.9,553.3 1218.3,552.3 1217.4,554.7 1219.8,553.6 1218.8,556.1 1221.2,555.0 1220.2,557.4 1222.6,556.4 1221.6,558.8 1224.0,557.8 1222.9,560.2 1225.3,559.2 1224.3,561.6 1226.7,560.6 1225.6,563.0 1228.0,562.0 1226.9,564.3 1229.3,563.4 1228.2,565.7 1230.6,564.8 1229.5,567.1 1231.9,566.2 1230.7,568.5 1233.1,567.6 1232.0,569.9 1234.4,569.0 1233.2,571.2 1235.6,570.3 1234.4,572.6 1236.8,571.7 1235.6,574.0 1238.0,573.1 1236.8,575.4 1239.2,574.5 1237.9,576.7 1240.3,575.9 1239.1,578.1 1241.5,577.3 1240.2,579.5 1242.6,578.7 1241.3,580.9 1243.7,580.1 1242.4,582.3 1244.8,581.5 1243.5,583.6 1245.9,582.9 1244.6,585.0 1247.0,584.2 1245.7,586.4 1248.1,585.6 1246.7,587.8 1249.1,587.0 1247.8,589.2 1250.2,588.4 1248.8,590.5 1251.2,589.8 1249.8,591.9 1252.3,591.2 1250.8,593.3 1253.3,592.6 1251.8,594.7 1254.3,594.0 1252.8,596.1 1255.3,595.4 1253.8,597.4 1256.2,596.8 1254.8,598.8 1257.2,598.1 1255.7,600.2 1258.2,599.5 1256.7,601.6 1259.1,600.9 1257.6,603.0 1260.1,602.3 1258.5,604.3 1261.0,603.7 1259.4,605.7 1261.9,605.1 1260.4,607.1 1262.8,606.5 1261.3,608.5 1263.7,607.9 1262.2,609.9 1264.6,609.3 1263.0,611.2 1265.5,610.7 1263.9,612.6 1266.4,612.0 1264.8,614.0 1267.3,613.4 1265.7,615.4 1268.1,614.8 1266.5,616.8 1269.0,616.2 1267.4,618.2 1269.8,617.6 1268.2,619.5 1270.7,619.0 1269.0,620.9 1271.5,620.4 1269.8,622.3 1272.3,621.8 1270.7,623.7 1273.1,623.2 1271.5,625.1 1273.9,624.5 1272.3,626.4 1274.8,625.9 1273.1,627.8 1275.6,627.3 1273.9,629.2 1276.3,628.7 1274.6,630.6 1277.1,630.1 1275.4,632.0 1277.9,631.5 1276.2,633.3 1278.7,632.9 1277.0,634.7 1279.4,634.3 1277.7,636.1 1280.2,635.7 1278.5,637.5 1280.9,637.0 1279.2,638.9 1281.7,638.4 1279.9,640.3 1282.4,639.8 1280.7,641.6 1283.2,641.2 1281.4,643.0 1283.9,642.6 1282.1,644.4 1284.6,644.0 1282.8,645.8 1285.3,645.4 1283.6,647.2 1286.0,646.8 1284.3,648.5 1286.8,648.1 1285.0,649.9 1287.5,649.5 1285.7,651.3 1288.2,650.9 1286.3,652.7 1288.8,652.3 1287.0,654.1 1289.5,653.7 1287.7,655.5 1290.2,655.1 1288.4,656.8 1290.9,656.5 1289.1,658.2 1291.6,657.9 1289.7,659.6 1292.2,659.3 1290.4,661.0 1292.9,660.6 1291.0,662.4 1293.5,662.0 1291.7,663.7 1294.2,663.4 1292.3,665.1 1294.8,664.8 1293.0,666.5 1295.5,666.2 1293.6,667.9 1296.1,667.6 1294.3,669.3 1296.8,669.0 1294.9,670.7 1297.4,670.4 1295.5,672.0 1298.0,671.7 1296.1,673.4 1298.6,673.1 1296.8,674.8 1299.3,674.5 1297.4,676.2 1299.9,675.9 1298.0,677.6 1300.5,677.3 1298.6,678.9 1301.1,678.7 1299.2,680.3 1301.7,680.1 1299.8,681.7 1302.3,681.5 1300.4,683.1 1302.9,682.8 1301.0,684.5 1303.5,684.2 1301.6,685.9 1304.1,685.6 1302.1,687.2 1304.6,687.0 1302.7,688.6 1305.2,688.4 1303.3,690.0 1305.8,689.8 1303.9,691.4 1306.4,691.2 1304.4,692.8 1306.9,692.6 1305.0,694.2 1307.5,693.9 1305.6,695.5 1308.1,695.3 1306.1,696.9 1308.6,696.7 1306.7,698.3 1309.2,698.1 1307.2,699.7 1309.7,699.5 1307.8,701.1 1310.3,700.9 1308.3,702.5 1310.8,702.3 1308.9,703.8 1311.4,703.7 1309.4,705.2 1311.9,705.0 1309.9,706.6 1312.5,706.4 1310.5,708.0 1313.0,707.8 1311.0,709.4 1313.5,709.2 1311.5,710.7 1314.0,710.6 1312.1,712.1 1314.6,712.0 1312.6,713.5 1315.1,713.4 1313.1,714.9 1315.6,714.7 1313.6,716.3 1316.1,716.1 1314.1,717.7 1316.6,717.5 1314.6,719.0 1317.1,718.9 1315.1,720.4 1317.7,720.3 1315.7,721.8 1318.2,721.7 1316.2,723.2 1318.7,723.1 1316.7,724.6 1319.2,724.5 1317.2,726.0 1319.7,725.8 1317.6,727.3 1320.2,727.2 1318.1,728.7 1320.6,728.6 1318.6,730.1 1321.1,730.0 1319.1,731.5 1321.6,731.4 1319.6,732.9 1322.1,732.8 1320.1,734.3 1322.6,734.2 1320.6,735.6 1323.1,735.6 1321.0,737.0 1323.5,736.9 1321.5,738.4 1324.0,738.3 1322.0,739.8 1324.5,739.7 1322.4,741.2 1325.0,741.1 1322.9,742.6 1325.4,742.5 1323.4,743.9 1325.9,743.9 1323.8,745.3 1326.4,745.3 1324.3,746.7 1326.8,746.6 1324.8,748.1 1327.3,748.0 1325.2,749.5 1327.7,749.4 1325.7,750.9 1328.2,750.8 1326.1,752.2 1328.6,752.2 1326.6,753.6 1329.1,753.6 1327.0,755.0 1329.5,755.0 1327.5,756.4 1330.0,756.4 1327.9,757.8 1330.4,757.7 1328.3,759.2 1330.9,759.1 1328.8,760.5 1331.3,760.5 1329.2,761.9 1331.7,761.9 1329.7,763.3 1332.2,763.3 1330.1,764.7 1332.6,764.7 1330.5,766.1 1333.0,766.1 1330.9,767.5 1333.5,767.4 1331.4,768.8 1333.9,768.8 1331.8,770.2 1334.3,770.2 1332.2,771.6 1334.7,771.6 1332.6,773.0 1335.1,773.0 1333.1,774.4 1335.6,774.4 1333.5,775.8 1336.0,775.8 1333.9,777.1 1336.4,777.1 1334.3,778.5 1336.8,778.5 1334.7,779.9 1337.2,779.9 1335.1,781.3 1337.6,781.3 1335.5,782.7 1338.0,782.7 1335.9,784.1 1338.5,784.1 1336.3,785.4 1338.9,785.5 1336.8,786.8 1339.3,786.9 1337.2,788.2 1339.7,788.2 1337.6,789.6 1340.1,789.6 1338.0,791.0 1340.5,791.0 1338.3,792.4 1340.9,792.4 1338.7,793.7 1341.2,793.8 1339.1,795.1 1341.6,795.2 1339.5,796.5 1342.0,796.6 1339.9,797.9 1342.4,797.9 1340.3,799.3 1342.8,799.3 1340.7,800.7 1343.2,800.7 1341.1,802.0 1343.6,802.1 1341.5,803.4 1344.0,803.5 1341.8,804.8 1344.3,804.9 1342.2,806.2 1344.7,806.3 1342.6,807.6 1345.1,807.6 1343.0,809.0 1345.5,809.0 1343.3,810.4" fill="none" stroke="#000000" stroke-width="2" stroke-linejoin="round"/>
<polyline points="761.8,464.5 826.8,465.2 864.8,465.9 891.8,466.6 912.7,467.3 929.8,468.0 944.3,468.6 956.8,469.3 967.8,470.0 977.7,470.7 986.6,471.4 994.8,472.1 1002.3,472.8 1009.2,473.5 1015.7,474.2 1021.8,474.9 1027.5,475.6 1032.8,476.3 1037.9,477.0 1042.7,477.6 1047.3,478.3 1051.6,479.0 1055.8,479.7 1059.8,480.4 1063.6,481.1 1067.3,481.8 1070.8,482.4 1074.2,483.3 1077.6,483.7 1080.7,484.7 1083.8,485.1 1086.7,486.2 1089.7,486.4 1092.4,487.6 1095.3,487.7 1097.7,489.1 1100.5,489.0 1102.8,490.5 1105.4,490.3 1107.5,492.0 1110.2,491.7 1112.1,493.4 1114.7,493.0 1116.4,494.9 1118.9,494.3 1120.6,496.3 1123.1,495.6 1124.5,497.8 1127.0,497.0 1128.3,499.2 1130.8,498.3 1132.0,500.7 1134.4,499.6 1135.5,502.1 1137.9,500.9 1138.8,503.6 1141.3,502.3 1142.1,505.0 1144.6,503.6 1145.2,506.4 1147.7,504.9 1148.3,507.8 1150.8,506.3 1151.2,509.2 1153.7,507.7 1154.1,510.6 1156.6,509.1 1156.9,512.0 1159.4,510.5 1159.6,513.3 1162.0,511.9 1162.2,514.7 1164.7,513.3 1164.8,516.1 1167.2,514.7 1167.3,517.5 1169.7,516.1 1169.7,518.8 1172.1,517.5 1172.1,520.2 1174.5,518.9 1174.4,521.6 1176.8,520.2 1176.6,523.0 1179.0,521.6 1178.8,524.4 1181.2,523.0 1181.0,525.7 1183.3,524.4 1183.1,527.1 1185.4,525.8 1185.1,528.5 1187.5,527.2 1187.1,529.9 1189.5,528.6 1189.1,531.3 1191.4,530.0 1191.0,532.6 1193.4,531.4 1192.9,534.0 1195.3,532.8 1194.7,535.4 1197.1,534.2 1196.5,536.8 1198.9,535.6 1198.3,538.1 1200.7,537.0 1200.1,539.5 1202.4,538.3 1201.8,540.9 1204.1,539.7 1203.5,542.3 1205.8,541.1 1205.1,543.7 1207.5,542.5 1206.7,545.0 1209.1,543.9 1208.3,546.4 1210.7,545.3 1209.9,547.8 1212.3,546.7 1211.4,549.2 1213.8,548.1 1213.0,550.5 1215.3,549.5 1214.5,551.9 1216.8,550.9 1215.9,553.3 1218.3,552.3 1217.4,554.7 1219.8,553.6 1218.8,556.1 1221.2,555.0 1220.2,557.4 1222.6,556.4 1221.6,558.8 1224.0,557.8 1222.9,560.2 1225.3,559.2 1224.3,561.6 1226.7,560.6 1225.6,563.0 1228.0,562.0 1226.9,564.3 1229.3,563.4 1228.2,565.7 1230.6,564.8 1229.5,567.1 1231.9,566.2 1230.7,568.5 1233.1,567.6 1232.0,569.9 1234.4,569.0 1233.2,571.2 1235.6,570.3 1234.4,572.6 1236.8,571.7 1235.6,574.0 1238.0,573.1 1236.8,575.4 1239.2,574.5 1237.9,576.7 1240.3,575.9 1239.1,578.1 1241.5,577.3 1240.2,579.5 1242.6,578.7 1241.3,580.9 1243.7,580.1 1242.4,582.3 1244.8,581.5 1243.5,583.6 1245.9,582.9 1244.6,585.0 1247.0,584.2 1245.7,586.4 1248.1,585.6 1246.7,587.8 1249.1,587.0 1247.8,589.2 1250.2,588.4 1248.8,590.5 1251.2,589.8 1249.8,591.9 1252.3,591.2 1250.8,593.3 1253.3,592.6 1251.8,594.7 1254.3,594.0 1252.8,596.1 1255.3,595.4 1253.8,597.4 1256.2,596.8 1254.8,598.8 1257.2,598.1 1255.7,600.2 1258.2,599.5 1256.7,601.6 1259.1,600.9 1257.6,603.0 1260.1,602.3 1258.5,604.3 1261.0,603.7 1259.4,605.7 1261.9,605.1 1260.4,607.1 1262.8,606.5 1261.3,608.5 1263.7,607.9 1262.2,609.9 1264.6,609.3 1263.0,611.2 1265.5,610.7 1263.9,612.6 1266.4,612.0 1264.8,614.0 1267.3,613.4 1265.7,615.4 1268.1,614.8 1266.5,616.8 1269.0,616.2 1267.4,618.2 1269.8,617.6 1268.2,619.5 1270.7,619.0 1269.0,620.9 1271.5,620.4 1269.8,622.3 1272.3,621.8 1270.7,623.7 1273.1,623.2 1271.5,625.1 1273.9,624.5 1272.3,626.4 1274.8,625.9 1273.1,627.8 1275.6,627.3 1273.9,629.2 1276.3,628.7 1274.6,630.6 1277.1,630.1 1275.4,632.0 1277.9,631.5 1276.2,633.3 1278.7,632.9 1277.0,634.7 1279.4,634.3 1277.7,636.1 1280.2,635.7 1278.5,637.5 1280.9,637.0 1279.2,638.9 1281.7,638.4 1279.9,640.3 1282.4,639.8 1280.7,641.6 1283.2,641.2 1281.4,643.0 1283.9,642.6 1282.1,644.4 1284.6,644.0 1282.8,645.8 1285.3,645.4 1283.6,647.2 1286.0,646.8 1284.3,648.5 1286.8,648.1 1285.0,649.9 1287.5,649.5 1285.7,651.3 1288.2,650.9 1286.3,652.7 1288.8,652.3 1287.0,654.1 1289.5,653.7 1287.7,655.5 1290.2,655.1 1288.4,656.8 1290.9,656.5 1289.1,658.2 1291.6,657.9 1289.7,659.6 1292.2,659.3 1290.4,661.0 1292.9,660.6 1291.0,662.4 1293.5,662.0 1291.7,663.7 1294.2,663.4 1292.3,665.1 1294.8,664.8 1293.0,666.5 1295.5,666.2 1293.6,667.9 1296.1,667.6 1294.3,669.3 1296.8,669.0 1294.9,670.7 1297.4,670.4 1295.5,672.0 1298.0,671.7 1296.1,673.4 1298.6,673.1 1296.8,674.8 1299.3,674.5 1297.4,676.2 1299.9,675.9 1298.0,677.6 1300.5,677.3 1298.6,678.9 1301.1,678.7 1299.2,680.3 1301.7,680.1 1299.8,681.7 1302.3,681.5 1300.4,683.1 1302.9,682.8 1301.0,684.5 1303.5,684.2 1301.6,685.9 1304.1,685.6 1302.1,687.2 1304.6,687.0 1302.7,688.6 1305.2,688.4 1303.3,690.0 1305.8,689.8 1303.9,691.4 1306.4,691.2 1304.4,692.8 1306.9,692.6 1305.0,694.2 1307.5,693.9 1305.6,695.5 1308.1,695.3 1306.1,696.9 1308.6,696.7 1306.7,698.3 1309.2,698.1 1307.2,699.7 1309.7,699.5 1307.8,701.1 1310.3,700.9 1308.3,702.5 1310.8,702.3 1308.9,703.8 1311.4,703.7 1309.4,705.2 1311.9,705.0 1309.9,706.6 1312.5,706.4 1310.5,708.0 1313.0,707.8 1311.0,709.4 1313.5,709.2 1311.5,710.7 1314.0,710.6 1312.1,712.1 1314.6,712.0 1312.6,713.5 1315.1,713.4 1313.1,714.9 1315.6,714.7 1313.6,716.3 1316.1,716.1 1314.1,717.7 1316.6,717.5 1314.6,719.0 1317.1,718.9 1315.1,720.4 1317.7,720.3 1315.7,721.8 1318.2,721.7 1316.2,723.2 1318.7,723.1 1316.7,724.6 1319.2,724.5 1317.2,726.0 1319.7,725.8 1317.6,727.3 1320.2,727.2 1318.1,728.7 1320.6,728.6 1318.6,730.1 1321.1,730.0 1319.1,731.5 1321.6,731.4 1319.6,732.9 1322.1,732.8 1320.1,734.3 1322.6,734.2 1320.6,735.6 1323.1,735.6 1321.0,737.0 1323.5,736.9 1321.5,738.4 1324.0,738.3 1322.0,739.8 1324.5,739.7 1322.4,741.2 1325.0,741.1 1322.9,742.6 1325.4,742.5 1323.4,743.9 1325.9,743.9 1323.8,745.3 1326.4,745.3 1324.3,746.7 1326.8,746.6 1324.8,748.1 1327.3,748.0 1325.2,749.5 1327.7,749.4 1325.7,750.9 1328.2,750.8 1326.1,752.2 1328.6,752.2 1326.6,753.6 1329.1,753.6 1327.0,755.0 1329.5,755.0 1327.5,756.4 1330.0,756.4 1327.9,757.8 1330.4,757.7 1328.3,759.2 1330.9,759.1 1328.8,760.5 1331.3,760.5 1329.2,761.9 1331.7,761.9 1329.7,763.3 1332.2,763.3 1330.1,764.7 1332.6,764.7 1330.5,766.1 1333.0,766.1 1330.9,767.5 1333.5,767.4 1331.4,768.8 1333.9,768.8 1331.8,770.2 1334.3,770.2 1332.2,771.6 1334.7,771.6 1332.6,773.0 1335.1,773.0 1333.1,774.4 1335.6,774.4 1333.5,775.8 1336.0,775.8 1333.9,777.1 1336.4,777.1 1334.3,778.5 1336.8,778.5 1334.7,779.9 1337.2,779.9 1335.1,781.3 1337.6,781.3 1335.5,782.7 1338.0,782.7 1335.9,784.1 1338.5,784.1 1336.3,785.4 1338.9,785.5 1336.8,786.8 1339.3,786.9 1337.2,788.2 1339.7,788.2 1337.6,789.6 1340.1,789.6 1338.0,791.0 1340.5,791.0 1338.3,792.4 1340.9,792.4 1338.7,793.7 1341.2,793.8 1339.1,795.1 1341.6,795.2 1339.5,796.5 1342.0,796.6 1339.9,797.9 1342.4,797.9 1340.3,799.3 1342.8,799.3 1340.7,800.7 1343.2,800.7 1341.1,802.0 1343.6,802.1 1341.5,803.4 1344.0,803.5 1341.8,804.8 1344.3,804.9 1342.2,806.2 1344.7,806.3 1342.6,807.6 1345.1,807.6 1343.0,809.0 1345.5,809.0 1343.3,810.4" fill="none" stroke="none" marker-start="url(#md3)" marker-mid="url(#md3)" marker-end="url(#md3)"/>
<polyline points="1083.8,488.3 1086.7,489.4 1089.7,489.6 1092.4,490.8 1095.2,490.8 1097.7,492.2 1100.5,492.1 1102.8,493.6 1105.4,493.4 1107.5,495.0 1110.2,494.6 1112.1,496.4 1114.6,495.9 1116.4,497.8" fill="none" stroke="#000000" stroke-width="3.6"/>
<polyline points="1114.6,495.9 1116.4,497.8 1118.9,497.2 1120.6,499.2 1123.0,498.4 1124.5,500.6 1127.0,499.7 1128.3,502.0 1130.8,501.0 1132.0,503.4 1134.4,502.3 1135.5,504.7 1137.9,503.5 1138.8,506.1 1141.3,504.8 1142.1,507.5 1144.6,506.1 1145.2,508.9" fill="none" stroke="#000000" stroke-width="8" stroke-linejoin="round"/>
<polygon points="1131.2,493.9 1136.8,495.8 1142.2,497.7 1147.3,499.6 1152.1,501.6 1156.7,503.6 1161.1,505.6 1165.3,507.6 1169.3,509.7 1173.2,511.7 1176.9,513.7 1180.5,515.8 1183.9,517.8 1187.3,519.8 1190.5,521.9 1193.6,523.9 1196.7,526.0 1199.6,528.0 1202.5,530.1 1205.2,532.1 1207.9,534.2 1210.5,536.3 1213.1,538.3 1215.6,540.4 1218.0,542.4 1220.4,544.5 1222.7,546.6 1224.9,548.6 1227.1,550.7 1229.3,552.8 1231.4,554.8 1233.4,556.9 1235.4,558.9 1237.4,561.0 1239.3,563.1 1241.2,565.1 1243.0,567.2 1244.9,569.3 1246.6,571.3 1248.4,573.4 1250.1,575.4 1251.8,577.5 1253.4,579.6 1255.1,581.6 1256.7,583.7 1258.2,585.7 1259.8,587.8 1261.3,589.8 1262.8,591.9 1264.2,594.0 1265.7,596.0 1267.1,598.1 1268.5,600.1 1269.9,602.2 1271.3,604.2 1272.6,606.3 1273.9,608.3 1275.2,610.4 1276.5,612.4 1277.8,614.4 1279.0,616.5 1280.2,618.5 1281.5,620.6 1282.7,622.6 1283.8,624.7 1285.0,626.7 1286.2,628.7 1287.3,630.8 1288.4,632.8 1289.5,634.9 1290.6,636.9 1291.7,638.9 1292.8,641.0 1293.9,643.0 1294.9,645.1 1295.9,647.1 1297.0,649.1 1298.0,651.2 1299.0,653.2 1300.0,655.2 1301.0,657.3 1301.9,659.3 1302.9,661.3 1303.8,663.4 1304.8,665.4 1305.7,667.4 1306.6,669.4 1307.5,671.5 1308.4,673.5 1309.3,675.5 1310.2,677.6 1311.1,679.6 1312.0,681.6 1312.8,683.6 1313.7,685.7 1314.5,687.7 1315.4,689.7 1316.2,691.7 1317.0,693.8 1317.8,695.8 1318.6,697.8 1319.4,699.8 1320.2,701.8 1321.0,703.9 1321.8,705.9 1322.6,707.9 1323.3,709.9 1324.1,712.0 1324.9,714.0 1325.6,716.0 1326.4,718.0 1327.1,720.0 1327.8,722.1 1328.5,724.1 1329.3,726.1 1330.0,728.1 1330.7,730.1 1331.4,732.1 1332.1,734.2 1332.8,736.2 1333.5,738.2 1334.2,740.2 1334.8,742.2 1335.5,744.2 1336.2,746.3 1336.8,748.3 1337.5,750.3 1338.1,752.3 1338.8,754.3 1339.4,756.3 1340.1,758.3 1340.7,760.4 1341.3,762.4 1342.0,764.4 1342.6,766.4 1343.2,768.4 1343.8,770.4 1344.4,772.4 1345.0,774.4 1345.6,776.5 1346.2,778.5 1346.8,780.5 1347.4,782.5 1348.0,784.5 1348.6,786.5 1349.2,788.5 1349.7,790.5 1350.3,792.6 1350.9,794.6 1351.5,796.6 1352.0,798.6 1352.6,800.6 1337.6,804.8 1337.0,802.8 1336.4,800.8 1335.9,798.8 1335.3,796.9 1334.7,794.9 1334.1,792.9 1333.6,790.9 1333.0,788.9 1332.4,787.0 1331.8,785.0 1331.2,783.0 1330.6,781.0 1330.0,779.0 1329.4,777.0 1328.7,775.1 1328.1,773.1 1327.5,771.1 1326.9,769.1 1326.2,767.1 1325.6,765.2 1325.0,763.2 1324.3,761.2 1323.7,759.2 1323.0,757.2 1322.4,755.3 1321.7,753.3 1321.0,751.3 1320.4,749.3 1319.7,747.3 1319.0,745.4 1318.3,743.4 1317.6,741.4 1316.9,739.4 1316.2,737.5 1315.5,735.5 1314.8,733.5 1314.1,731.5 1313.4,729.6 1312.7,727.6 1311.9,725.6 1311.2,723.6 1310.5,721.7 1309.7,719.7 1308.9,717.7 1308.2,715.7 1307.4,713.8 1306.6,711.8 1305.9,709.8 1305.1,707.8 1304.3,705.9 1303.5,703.9 1302.7,701.9 1301.9,700.0 1301.0,698.0 1300.2,696.0 1299.4,694.1 1298.5,692.1 1297.7,690.1 1296.8,688.1 1296.0,686.2 1295.1,684.2 1294.2,682.2 1293.3,680.3 1292.4,678.3 1291.5,676.3 1290.6,674.4 1289.7,672.4 1288.8,670.5 1287.8,668.5 1286.9,666.5 1285.9,664.6 1284.9,662.6 1284.0,660.6 1283.0,658.7 1282.0,656.7 1281.0,654.8 1279.9,652.8 1278.9,650.8 1277.9,648.9 1276.8,646.9 1275.7,645.0 1274.7,643.0 1273.6,641.1 1272.5,639.1 1271.4,637.2 1270.2,635.2 1269.1,633.3 1267.9,631.3 1266.8,629.4 1265.6,627.4 1264.4,625.5 1263.2,623.5 1261.9,621.6 1260.7,619.6 1259.4,617.7 1258.2,615.7 1256.9,613.8 1255.5,611.8 1254.2,609.9 1252.9,607.9 1251.5,606.0 1250.1,604.1 1248.7,602.1 1247.3,600.2 1245.8,598.2 1244.3,596.3 1242.8,594.4 1241.3,592.4 1239.8,590.5 1238.2,588.6 1236.6,586.6 1235.0,584.7 1233.3,582.8 1231.6,580.8 1229.9,578.9 1228.2,577.0 1226.4,575.0 1224.6,573.1 1222.8,571.2 1220.9,569.2 1218.9,567.3 1217.0,565.4 1215.0,563.4 1212.9,561.5 1210.8,559.6 1208.7,557.7 1206.5,555.7 1204.3,553.8 1201.9,551.9 1199.6,549.9 1197.2,548.0 1194.7,546.0 1192.1,544.1 1189.5,542.2 1186.8,540.2 1184.0,538.3 1181.1,536.3 1178.1,534.4 1175.0,532.4 1171.8,530.5 1168.5,528.5 1165.0,526.6 1161.4,524.6 1157.7,522.6 1153.8,520.7 1149.7,518.7 1145.4,516.7 1141.0,514.7 1136.3,512.6 1131.3,510.5 1126.0,508.4" fill="#000000"/>
<polyline points="761.8,468.5 826.8,469.2 864.8,469.9 891.8,470.5 912.7,471.2 929.8,471.9 944.3,472.5 956.8,473.2 967.8,473.9 977.7,474.5 986.6,475.2 994.8,475.9 1002.3,476.5 1009.2,477.2 1015.7,477.9 1021.8,478.5 1027.5,479.2 1032.8,479.9 1037.9,480.5 1042.7,481.2 1047.3,481.9 1051.6,482.5 1055.8,483.2 1059.8,483.8 1063.6,484.5 1067.3,485.2 1070.8,485.8 1074.2,486.6 1077.6,487.0 1080.7,488.0 1083.8,488.3 1086.7,489.4 1089.7,489.6 1092.4,490.8 1095.2,490.8 1097.7,492.2 1100.5,492.1 1102.8,493.6 1105.4,493.4 1107.5,495.0 1110.2,494.6 1112.1,496.4 1114.6,495.9 1116.4,497.8 1118.9,497.2 1120.6,499.2 1123.0,498.4 1124.5,500.6 1127.0,499.7 1128.3,502.0 1130.8,501.0 1132.0,503.4 1134.4,502.3 1135.5,504.7 1137.9,503.5 1138.8,506.1 1141.3,504.8 1142.1,507.5 1144.6,506.1 1145.2,508.9 1147.7,507.4 1148.3,510.2 1150.8,508.7 1151.3,511.6 1153.7,510.1 1154.1,512.9 1156.6,511.4 1156.9,514.2 1159.3,512.7 1159.6,515.5 1162.0,514.1 1162.3,516.9 1164.6,515.4 1164.8,518.2 1167.2,516.7 1167.3,519.5 1169.7,518.1 1169.7,520.8 1172.1,519.4 1172.1,522.2 1174.4,520.8 1174.4,523.5 1176.7,522.1 1176.6,524.8 1179.0,523.4 1178.8,526.1 1181.2,524.8 1181.0,527.5 1183.3,526.1 1183.1,528.8 1185.4,527.4 1185.1,530.1 1187.5,528.8 1187.1,531.4 1189.5,530.1 1189.1,532.8 1191.4,531.5 1191.0,534.1 1193.3,532.8 1192.9,535.4 1195.2,534.1 1194.8,536.7 1197.1,535.5 1196.6,538.1 1198.9,536.8 1198.3,539.4 1200.7,538.1 1200.1,540.7 1202.4,539.5 1201.8,542.0 1204.1,540.8 1203.5,543.4 1205.8,542.2 1205.1,544.7 1207.5,543.5 1206.8,546.0 1209.1,544.8 1208.3,547.3 1210.7,546.2 1209.9,548.7 1212.3,547.5 1211.5,550.0 1213.8,548.8 1213.0,551.3 1215.3,550.2 1214.5,552.6 1216.8,551.5 1215.9,554.0 1218.3,552.9 1217.4,555.3 1219.7,554.2 1218.8,556.6 1221.2,555.5 1220.2,557.9 1222.6,556.9 1221.6,559.3 1224.0,558.2 1223.0,560.6 1225.3,559.5 1224.3,561.9 1226.7,560.9 1225.6,563.2 1228.0,562.2 1226.9,564.6 1229.3,563.6 1228.2,565.9 1230.6,564.9 1229.5,567.2 1231.9,566.2 1230.7,568.5 1233.1,567.6 1232.0,569.9 1234.4,568.9 1233.2,571.2 1235.6,570.2 1234.4,572.5 1236.8,571.6 1235.6,573.8 1238.0,572.9 1236.8,575.2 1239.2,574.3 1237.9,576.5 1240.3,575.6 1239.1,577.8 1241.5,576.9 1240.2,579.1 1242.6,578.3 1241.3,580.5 1243.7,579.6 1242.4,581.8 1244.8,580.9 1243.5,583.1 1245.9,582.3 1244.6,584.5 1247.0,583.6 1245.7,585.8 1248.1,584.9 1246.7,587.1 1249.1,586.3 1247.8,588.4 1250.2,587.6 1248.8,589.8 1251.2,589.0 1249.8,591.1 1252.2,590.3 1250.8,592.4 1253.2,591.6 1251.8,593.7 1254.3,593.0 1252.8,595.1 1255.2,594.3 1253.8,596.4 1256.2,595.6 1254.8,597.7 1257.2,597.0 1255.7,599.0 1258.2,598.3 1256.7,600.4 1259.1,599.6 1257.6,601.7 1260.0,601.0 1258.5,603.0 1261.0,602.3 1259.5,604.3 1261.9,603.7 1260.4,605.7 1262.8,605.0 1261.3,607.0 1263.7,606.3 1262.2,608.3 1264.6,607.7 1263.1,609.7 1265.5,609.0 1263.9,611.0 1266.4,610.3 1264.8,612.3 1267.2,611.7 1265.7,613.6 1268.1,613.0 1266.5,615.0 1269.0,614.3 1267.4,616.3 1269.8,615.7 1268.2,617.6 1270.7,617.0 1269.0,618.9 1271.5,618.3 1269.9,620.3 1272.3,619.7 1270.7,621.6 1273.1,621.0 1271.5,622.9 1273.9,622.3 1272.3,624.3 1274.7,623.7 1273.1,625.6 1275.5,625.0 1273.9,626.9 1276.3,626.4 1274.7,628.2 1277.1,627.7 1275.4,629.6 1277.9,629.0 1276.2,630.9 1278.7,630.4 1277.0,632.2 1279.4,631.7 1277.7,633.5 1280.2,633.0 1278.5,634.9 1280.9,634.4 1279.2,636.2 1281.7,635.7 1280.0,637.5 1282.4,637.0 1280.7,638.9 1283.2,638.4 1281.4,640.2 1283.9,639.7 1282.1,641.5 1284.6,641.0 1282.9,642.8 1285.3,642.4 1283.6,644.2 1286.0,643.7 1284.3,645.5 1286.7,645.0 1285.0,646.8 1287.4,646.4 1285.7,648.2 1288.1,647.7 1286.4,649.5 1288.8,649.0 1287.0,650.8 1289.5,650.4 1287.7,652.1 1290.2,651.7 1288.4,653.5 1290.9,653.0 1289.1,654.8 1291.5,654.4 1289.7,656.1 1292.2,655.7 1290.4,657.5 1292.9,657.1 1291.1,658.8 1293.5,658.4 1291.7,660.1 1294.2,659.7 1292.4,661.4 1294.8,661.1 1293.0,662.8 1295.5,662.4 1293.6,664.1 1296.1,663.7 1294.3,665.4 1296.8,665.1 1294.9,666.8 1297.4,666.4 1295.5,668.1 1298.0,667.7 1296.1,669.4 1298.6,669.1 1296.8,670.7 1299.2,670.4 1297.4,672.1 1299.9,671.7 1298.0,673.4 1300.5,673.1 1298.6,674.7 1301.1,674.4 1299.2,676.1 1301.7,675.7 1299.8,677.4 1302.3,677.1 1300.4,678.7 1302.9,678.4 1301.0,680.0 1303.5,679.7 1301.6,681.4 1304.1,681.1 1302.1,682.7 1304.6,682.4 1302.7,684.0 1305.2,683.7 1303.3,685.4 1305.8,685.1 1303.9,686.7 1306.4,686.4 1304.4,688.0 1306.9,687.7 1305.0,689.3 1307.5,689.1 1305.6,690.7 1308.1,690.4 1306.1,692.0 1308.6,691.7 1306.7,693.3 1309.2,693.1 1307.2,694.7 1309.7,694.4 1307.8,696.0 1310.3,695.7 1308.3,697.3 1310.8,697.1 1308.9,698.6 1311.4,698.4 1309.4,700.0 1311.9,699.7 1310.0,701.3 1312.4,701.1 1310.5,702.6 1313.0,702.4 1311.0,704.0 1313.5,703.7 1311.5,705.3 1314.0,705.1 1312.1,706.6 1314.6,706.4 1312.6,707.9 1315.1,707.7 1313.1,709.3 1315.6,709.1 1313.6,710.6 1316.1,710.4 1314.1,711.9 1316.6,711.7 1314.6,713.3 1317.1,713.1 1315.2,714.6 1317.6,714.4 1315.7,715.9 1318.2,715.7 1316.2,717.3 1318.7,717.1 1316.7,718.6 1319.2,718.4 1317.2,719.9 1319.7,719.7 1317.7,721.2 1320.1,721.1 1318.1,722.6 1320.6,722.4 1318.6,723.9 1321.1,723.7 1319.1,725.2 1321.6,725.1 1319.6,726.6 1322.1,726.4 1320.1,727.9 1322.6,727.7 1320.6,729.2 1323.1,729.1 1321.0,730.5 1323.5,730.4 1321.5,731.9 1324.0,731.7 1322.0,733.2 1324.5,733.1 1322.5,734.5 1325.0,734.4 1322.9,735.9 1325.4,735.7 1323.4,737.2 1325.9,737.1 1323.8,738.5 1326.3,738.4 1324.3,739.9 1326.8,739.7 1324.8,741.2 1327.3,741.1 1325.2,742.5 1327.7,742.4 1325.7,743.8 1328.2,743.7 1326.1,745.2 1328.6,745.1 1326.6,746.5 1329.1,746.4 1327.0,747.8 1329.5,747.7 1327.5,749.2 1330.0,749.1 1327.9,750.5 1330.4,750.4 1328.4,751.8 1330.8,751.7 1328.8,753.1 1331.3,753.1 1329.2,754.5 1331.7,754.4 1329.7,755.8 1332.2,755.7 1330.1,757.1 1332.6,757.1 1330.5,758.5 1333.0,758.4 1331.0,759.8 1333.5,759.7 1331.4,761.1 1333.9,761.1 1331.8,762.5 1334.3,762.4 1332.2,763.8 1334.7,763.7 1332.6,765.1 1335.1,765.1 1333.1,766.4 1335.6,766.4 1333.5,767.8 1336.0,767.7 1333.9,769.1 1336.4,769.1 1334.3,770.4 1336.8,770.4 1334.7,771.8 1337.2,771.7 1335.1,773.1 1337.6,773.1 1335.5,774.4 1338.0,774.4 1335.9,775.8 1338.4,775.7 1336.4,777.1 1338.9,777.1 1336.8,778.4 1339.3,778.4 1337.2,779.7 1339.7,779.7 1337.6,781.1 1340.1,781.1 1338.0,782.4 1340.5,782.4 1338.4,783.7 1340.8,783.7 1338.7,785.1 1341.2,785.1 1339.1,786.4 1341.6,786.4 1339.5,787.7 1342.0,787.7 1339.9,789.1 1342.4,789.0 1340.3,790.4 1342.8,790.4 1340.7,791.7 1343.2,791.7 1341.1,793.0 1343.6,793.0 1341.5,794.4 1344.0,794.4 1341.8,795.7 1344.3,795.7 1342.2,797.0 1344.7,797.0 1342.6,798.4 1345.1,798.4 1343.0,799.7 1345.5,799.7 1343.4,801.0" fill="none" stroke="#000000" stroke-width="2" stroke-linejoin="round"/>
<polyline points="761.8,468.5 826.8,469.2 864.8,469.9 891.8,470.5 912.7,471.2 929.8,471.9 944.3,472.5 956.8,473.2 967.8,473.9 977.7,474.5 986.6,475.2 994.8,475.9 1002.3,476.5 1009.2,477.2 1015.7,477.9 1021.8,478.5 1027.5,479.2 1032.8,479.9 1037.9,480.5 1042.7,481.2 1047.3,481.9 1051.6,482.5 1055.8,483.2 1059.8,483.8 1063.6,484.5 1067.3,485.2 1070.8,485.8 1074.2,486.6 1077.6,487.0 1080.7,488.0 1083.8,488.3 1086.7,489.4 1089.7,489.6 1092.4,490.8 1095.2,490.8 1097.7,492.2 1100.5,492.1 1102.8,493.6 1105.4,493.4 1107.5,495.0 1110.2,494.6 1112.1,496.4 1114.6,495.9 1116.4,497.8 1118.9,497.2 1120.6,499.2 1123.0,498.4 1124.5,500.6 1127.0,499.7 1128.3,502.0 1130.8,501.0 1132.0,503.4 1134.4,502.3 1135.5,504.7 1137.9,503.5 1138.8,506.1 1141.3,504.8 1142.1,507.5 1144.6,506.1 1145.2,508.9 1147.7,507.4 1148.3,510.2 1150.8,508.7 1151.3,511.6 1153.7,510.1 1154.1,512.9 1156.6,511.4 1156.9,514.2 1159.3,512.7 1159.6,515.5 1162.0,514.1 1162.3,516.9 1164.6,515.4 1164.8,518.2 1167.2,516.7 1167.3,519.5 1169.7,518.1 1169.7,520.8 1172.1,519.4 1172.1,522.2 1174.4,520.8 1174.4,523.5 1176.7,522.1 1176.6,524.8 1179.0,523.4 1178.8,526.1 1181.2,524.8 1181.0,527.5 1183.3,526.1 1183.1,528.8 1185.4,527.4 1185.1,530.1 1187.5,528.8 1187.1,531.4 1189.5,530.1 1189.1,532.8 1191.4,531.5 1191.0,534.1 1193.3,532.8 1192.9,535.4 1195.2,534.1 1194.8,536.7 1197.1,535.5 1196.6,538.1 1198.9,536.8 1198.3,539.4 1200.7,538.1 1200.1,540.7 1202.4,539.5 1201.8,542.0 1204.1,540.8 1203.5,543.4 1205.8,542.2 1205.1,544.7 1207.5,543.5 1206.8,546.0 1209.1,544.8 1208.3,547.3 1210.7,546.2 1209.9,548.7 1212.3,547.5 1211.5,550.0 1213.8,548.8 1213.0,551.3 1215.3,550.2 1214.5,552.6 1216.8,551.5 1215.9,554.0 1218.3,552.9 1217.4,555.3 1219.7,554.2 1218.8,556.6 1221.2,555.5 1220.2,557.9 1222.6,556.9 1221.6,559.3 1224.0,558.2 1223.0,560.6 1225.3,559.5 1224.3,561.9 1226.7,560.9 1225.6,563.2 1228.0,562.2 1226.9,564.6 1229.3,563.6 1228.2,565.9 1230.6,564.9 1229.5,567.2 1231.9,566.2 1230.7,568.5 1233.1,567.6 1232.0,569.9 1234.4,568.9 1233.2,571.2 1235.6,570.2 1234.4,572.5 1236.8,571.6 1235.6,573.8 1238.0,572.9 1236.8,575.2 1239.2,574.3 1237.9,576.5 1240.3,575.6 1239.1,577.8 1241.5,576.9 1240.2,579.1 1242.6,578.3 1241.3,580.5 1243.7,579.6 1242.4,581.8 1244.8,580.9 1243.5,583.1 1245.9,582.3 1244.6,584.5 1247.0,583.6 1245.7,585.8 1248.1,584.9 1246.7,587.1 1249.1,586.3 1247.8,588.4 1250.2,587.6 1248.8,589.8 1251.2,589.0 1249.8,591.1 1252.2,590.3 1250.8,592.4 1253.2,591.6 1251.8,593.7 1254.3,593.0 1252.8,595.1 1255.2,594.3 1253.8,596.4 1256.2,595.6 1254.8,597.7 1257.2,597.0 1255.7,599.0 1258.2,598.3 1256.7,600.4 1259.1,599.6 1257.6,601.7 1260.0,601.0 1258.5,603.0 1261.0,602.3 1259.5,604.3 1261.9,603.7 1260.4,605.7 1262.8,605.0 1261.3,607.0 1263.7,606.3 1262.2,608.3 1264.6,607.7 1263.1,609.7 1265.5,609.0 1263.9,611.0 1266.4,610.3 1264.8,612.3 1267.2,611.7 1265.7,613.6 1268.1,613.0 1266.5,615.0 1269.0,614.3 1267.4,616.3 1269.8,615.7 1268.2,617.6 1270.7,617.0 1269.0,618.9 1271.5,618.3 1269.9,620.3 1272.3,619.7 1270.7,621.6 1273.1,621.0 1271.5,622.9 1273.9,622.3 1272.3,624.3 1274.7,623.7 1273.1,625.6 1275.5,625.0 1273.9,626.9 1276.3,626.4 1274.7,628.2 1277.1,627.7 1275.4,629.6 1277.9,629.0 1276.2,630.9 1278.7,630.4 1277.0,632.2 1279.4,631.7 1277.7,633.5 1280.2,633.0 1278.5,634.9 1280.9,634.4 1279.2,636.2 1281.7,635.7 1280.0,637.5 1282.4,637.0 1280.7,638.9 1283.2,638.4 1281.4,640.2 1283.9,639.7 1282.1,641.5 1284.6,641.0 1282.9,642.8 1285.3,642.4 1283.6,644.2 1286.0,643.7 1284.3,645.5 1286.7,645.0 1285.0,646.8 1287.4,646.4 1285.7,648.2 1288.1,647.7 1286.4,649.5 1288.8,649.0 1287.0,650.8 1289.5,650.4 1287.7,652.1 1290.2,651.7 1288.4,653.5 1290.9,653.0 1289.1,654.8 1291.5,654.4 1289.7,656.1 1292.2,655.7 1290.4,657.5 1292.9,657.1 1291.1,658.8 1293.5,658.4 1291.7,660.1 1294.2,659.7 1292.4,661.4 1294.8,661.1 1293.0,662.8 1295.5,662.4 1293.6,664.1 1296.1,663.7 1294.3,665.4 1296.8,665.1 1294.9,666.8 1297.4,666.4 1295.5,668.1 1298.0,667.7 1296.1,669.4 1298.6,669.1 1296.8,670.7 1299.2,670.4 1297.4,672.1 1299.9,671.7 1298.0,673.4 1300.5,673.1 1298.6,674.7 1301.1,674.4 1299.2,676.1 1301.7,675.7 1299.8,677.4 1302.3,677.1 1300.4,678.7 1302.9,678.4 1301.0,680.0 1303.5,679.7 1301.6,681.4 1304.1,681.1 1302.1,682.7 1304.6,682.4 1302.7,684.0 1305.2,683.7 1303.3,685.4 1305.8,685.1 1303.9,686.7 1306.4,686.4 1304.4,688.0 1306.9,687.7 1305.0,689.3 1307.5,689.1 1305.6,690.7 1308.1,690.4 1306.1,692.0 1308.6,691.7 1306.7,693.3 1309.2,693.1 1307.2,694.7 1309.7,694.4 1307.8,696.0 1310.3,695.7 1308.3,697.3 1310.8,697.1 1308.9,698.6 1311.4,698.4 1309.4,700.0 1311.9,699.7 1310.0,701.3 1312.4,701.1 1310.5,702.6 1313.0,702.4 1311.0,704.0 1313.5,703.7 1311.5,705.3 1314.0,705.1 1312.1,706.6 1314.6,706.4 1312.6,707.9 1315.1,707.7 1313.1,709.3 1315.6,709.1 1313.6,710.6 1316.1,710.4 1314.1,711.9 1316.6,711.7 1314.6,713.3 1317.1,713.1 1315.2,714.6 1317.6,714.4 1315.7,715.9 1318.2,715.7 1316.2,717.3 1318.7,717.1 1316.7,718.6 1319.2,718.4 1317.2,719.9 1319.7,719.7 1317.7,721.2 1320.1,721.1 1318.1,722.6 1320.6,722.4 1318.6,723.9 1321.1,723.7 1319.1,725.2 1321.6,725.1 1319.6,726.6 1322.1,726.4 1320.1,727.9 1322.6,727.7 1320.6,729.2 1323.1,729.1 1321.0,730.5 1323.5,730.4 1321.5,731.9 1324.0,731.7 1322.0,733.2 1324.5,733.1 1322.5,734.5 1325.0,734.4 1322.9,735.9 1325.4,735.7 1323.4,737.2 1325.9,737.1 1323.8,738.5 1326.3,738.4 1324.3,739.9 1326.8,739.7 1324.8,741.2 1327.3,741.1 1325.2,742.5 1327.7,742.4 1325.7,743.8 1328.2,743.7 1326.1,745.2 1328.6,745.1 1326.6,746.5 1329.1,746.4 1327.0,747.8 1329.5,747.7 1327.5,749.2 1330.0,749.1 1327.9,750.5 1330.4,750.4 1328.4,751.8 1330.8,751.7 1328.8,753.1 1331.3,753.1 1329.2,754.5 1331.7,754.4 1329.7,755.8 1332.2,755.7 1330.1,757.1 1332.6,757.1 1330.5,758.5 1333.0,758.4 1331.0,759.8 1333.5,759.7 1331.4,761.1 1333.9,761.1 1331.8,762.5 1334.3,762.4 1332.2,763.8 1334.7,763.7 1332.6,765.1 1335.1,765.1 1333.1,766.4 1335.6,766.4 1333.5,767.8 1336.0,767.7 1333.9,769.1 1336.4,769.1 1334.3,770.4 1336.8,770.4 1334.7,771.8 1337.2,771.7 1335.1,773.1 1337.6,773.1 1335.5,774.4 1338.0,774.4 1335.9,775.8 1338.4,775.7 1336.4,777.1 1338.9,777.1 1336.8,778.4 1339.3,778.4 1337.2,779.7 1339.7,779.7 1337.6,781.1 1340.1,781.1 1338.0,782.4 1340.5,782.4 1338.4,783.7 1340.8,783.7 1338.7,785.1 1341.2,785.1 1339.1,786.4 1341.6,786.4 1339.5,787.7 1342.0,787.7 1339.9,789.1 1342.4,789.0 1340.3,790.4 1342.8,790.4 1340.7,791.7 1343.2,791.7 1341.1,793.0 1343.6,793.0 1341.5,794.4 1344.0,794.4 1341.8,795.7 1344.3,795.7 1342.2,797.0 1344.7,797.0 1342.6,798.4 1345.1,798.4 1343.0,799.7 1345.5,799.7 1343.4,801.0" fill="none" stroke="none" marker-start="url(#md4)" marker-mid="url(#md4)" marker-end="url(#md4)"/>
<polyline points="761.8,490.9 826.8,491.9 864.8,492.9 891.8,493.9 912.7,494.8 929.8,495.8 944.3,496.8 956.8,497.8 967.8,498.8 977.7,499.7 986.6,500.7 994.8,501.7 1002.3,502.7 1009.2,503.7 1015.7,504.6 1021.8,505.6 1027.5,506.6 1032.8,507.6 1037.9,508.6 1042.7,509.5 1047.3,510.5 1051.6,511.5 1055.8,512.5 1059.8,513.5 1063.6,514.4 1067.3,515.4 1070.8,516.4 1074.2,517.4 1077.5,518.4 1080.7,519.3 1083.8,520.3 1086.8,521.3 1089.6,522.3 1092.4,523.3 1095.2,524.2 1097.8,525.2 1100.4,526.2 1102.9,527.2 1105.3,528.2 1107.7,529.2 1110.0,530.1 1112.3,531.1 1114.5,532.1 1116.6,533.1 1118.7,534.1 1120.8,535.0 1122.8,536.0 1124.8,537.0 1126.7,538.0 1128.6,539.0 1130.5,539.9 1132.3,540.9 1134.1,541.9 1135.8,542.9 1137.5,543.9 1139.2,544.8 1140.9,545.8 1142.5,546.8 1144.1,547.8 1145.7,548.8 1147.3,549.7 1148.8,550.7 1150.3,551.7 1151.8,552.7 1153.2,553.7 1154.6,554.6 1156.0,555.6 1157.4,556.6 1158.8,557.6 1160.2,558.6 1161.5,559.5 1162.8,560.5 1164.1,561.5 1165.4,562.5 1166.6,563.5 1167.9,564.5 1169.1,565.4 1170.3,566.4 1171.5,567.4 1172.7,568.4 1173.8,569.4 1175.0,570.3 1176.1,571.3 1177.3,572.3 1178.4,573.3 1179.5,574.3 1180.5,575.2 1181.6,576.2 1182.7,577.2 1183.7,578.2 1184.8,579.2 1185.8,580.1 1186.8,581.1 1187.8,582.1 1188.8,583.1 1189.8,584.1 1190.7,585.0 1191.7,586.0 1192.7,587.0 1193.6,588.0 1194.5,589.0 1195.5,589.9 1196.4,590.9 1197.3,591.9 1198.2,592.9 1199.1,593.9 1199.9,594.8 1200.8,595.8 1201.7,596.8 1202.5,597.8 1203.4,598.8 1204.2,599.7 1205.1,600.7 1205.9,601.7 1206.7,602.7 1207.5,603.7 1208.3,604.7 1209.1,605.6 1209.9,606.6 1210.7,607.6 1211.5,608.6 1212.2,609.6 1213.0,610.5 1213.8,611.5 1214.5,612.5 1215.3,613.5 1216.0,614.5 1216.7,615.4 1217.5,616.4 1218.2,617.4 1218.9,618.4 1219.6,619.4 1220.3,620.3 1221.0,621.3 1221.7,622.3 1222.4,623.3 1223.1,624.3 1223.8,625.2 1224.5,626.2 1225.1,627.2 1225.8,628.2 1226.5,629.2 1227.1,630.1 1227.8,631.1 1228.4,632.1 1229.1,633.1 1229.7,634.1 1230.4,635.0 1231.0,636.0 1231.6,637.0 1232.2,638.0 1232.9,639.0 1233.5,640.0 1234.1,640.9 1234.7,641.9 1235.3,642.9 1235.9,643.9 1236.5,644.9 1237.1,645.8 1237.7,646.8 1238.3,647.8 1238.8,648.8 1239.4,649.8 1240.0,650.7 1240.6,651.7 1241.1,652.7 1241.7,653.7 1242.2,654.7 1242.8,655.6 1243.4,656.6 1243.9,657.6 1244.5,658.6 1245.0,659.6 1245.5,660.5 1246.1,661.5 1246.6,662.5 1247.1,663.5 1247.7,664.5 1248.2,665.4 1248.7,666.4 1249.2,667.4 1249.7,668.4 1250.3,669.4 1250.8,670.3 1251.3,671.3 1251.8,672.3 1252.3,673.3 1252.8,674.3 1253.3,675.2 1253.8,676.2 1254.3,677.2 1254.8,678.2 1255.3,679.2 1255.7,680.2 1256.2,681.1 1256.7,682.1 1257.2,683.1 1257.7,684.1 1258.1,685.1 1258.6,686.0 1259.1,687.0 1259.5,688.0 1260.0,689.0 1260.4,690.0 1260.9,690.9 1261.4,691.9 1261.8,692.9 1262.3,693.9 1262.7,694.9 1263.2,695.8 1263.6,696.8 1264.1,697.8 1264.5,698.8 1264.9,699.8 1265.4,700.7 1265.8,701.7 1266.2,702.7 1266.7,703.7 1267.1,704.7 1267.5,705.6 1268.0,706.6 1268.4,707.6 1268.8,708.6 1269.2,709.6 1269.6,710.5 1270.1,711.5 1270.5,712.5 1270.9,713.5 1271.3,714.5 1271.7,715.4 1272.1,716.4 1272.5,717.4 1272.9,718.4 1273.3,719.4 1273.7,720.4 1274.1,721.3 1274.5,722.3 1274.9,723.3 1275.3,724.3 1275.7,725.3 1276.1,726.2 1276.5,727.2 1276.9,728.2 1277.2,729.2 1277.6,730.2 1278.0,731.1 1278.4,732.1 1278.8,733.1 1279.1,734.1 1279.5,735.1 1279.9,736.0 1280.3,737.0 1280.6,738.0 1281.0,739.0 1281.4,740.0 1281.7,740.9 1282.1,741.9 1282.5,742.9 1282.8,743.9 1283.2,744.9 1283.6,745.8 1283.9,746.8 1284.3,747.8 1284.6,748.8 1285.0,749.8 1285.3,750.7 1285.7,751.7 1286.0,752.7 1286.4,753.7 1286.7,754.7 1287.1,755.7 1287.4,756.6 1287.8,757.6 1288.1,758.6 1288.5,759.6 1288.8,760.6 1289.1,761.5 1289.5,762.5 1289.8,763.5 1290.1,764.5 1290.5,765.5 1290.8,766.4 1291.1,767.4 1291.5,768.4 1291.8,769.4 1292.1,770.4 1292.5,771.3 1292.8,772.3 1293.1,773.3 1293.4,774.3 1293.8,775.3 1294.1,776.2 1294.4,777.2 1294.7,778.2 1295.0,779.2 1295.4,780.2 1295.7,781.1 1296.0,782.1 1296.3,783.1 1296.6,784.1 1296.9,785.1 1297.2,786.0 1297.5,787.0 1297.9,788.0 1298.2,789.0 1298.5,790.0 1298.8,790.9 1299.1,791.9 1299.4,792.9 1299.7,793.9 1300.0,794.9 1300.3,795.9 1300.6,796.8 1300.9,797.8 1301.2,798.8 1301.5,799.8 1301.8,800.8 1302.1,801.7 1302.4,802.7 1302.7,803.7 1303.0,804.7 1303.2,805.7 1303.5,806.6 1303.8,807.6 1304.1,808.6 1304.4,809.6 1304.7,810.6 1305.0,811.5 1305.3,812.5 1305.5,813.5 1305.8,814.5 1306.1,815.5 1306.4,816.4 1306.7,817.4 1307.0,818.4 1307.2,819.4 1307.5,820.4 1307.8,821.3 1308.1,822.3 1308.3,823.3 1308.6,824.3 1308.9,825.3 1309.2,826.2 1309.4,827.2 1309.7,828.2 1310.0,829.2 1310.3,830.2 1310.5,831.2 1310.8,832.1 1311.1,833.1 1311.3,834.1 1311.6,835.1 1311.9,836.1 1312.1,837.0 1312.4,838.0 1312.7,839.0 1312.9,840.0 1313.2,841.0 1313.4,841.9 1313.7,842.9 1314.0,843.9 1314.2,844.9 1314.5,845.9 1314.7,846.8 1315.0,847.8 1315.3,848.8 1315.5,849.8 1315.8,850.8 1316.0,851.7 1316.3,852.7 1316.5,853.7 1316.8,854.7 1317.0,855.7 1317.3,856.6 1317.5,857.6 1317.8,858.6 1318.0,859.6 1318.3,860.6 1318.5,861.5 1318.8,862.5 1319.0,863.5 1319.3,864.5 1319.5,865.5 1319.8,866.4 1320.0,867.4 1320.2,868.4 1320.5,869.4 1320.7,870.4 1321.0,871.4 1321.2,872.3 1321.5,873.3 1321.7,874.3 1321.9,875.3 1322.2,876.3 1322.4,877.2 1322.6,878.2 1322.9,879.2 1323.1,880.2 1323.4,881.2 1323.6,882.1 1323.8,883.1 1324.1,884.1 1324.3,885.1 1324.5,886.1 1324.7,887.0 1325.0,888.0" fill="none" stroke="#ff0000" stroke-width="3"/>
<polyline points="761.8,468.5 826.8,469.2 864.8,469.9 891.8,470.6 912.7,471.3 929.8,472.0 944.3,472.7 956.8,473.4 967.8,474.1 977.7,474.8 986.6,475.5 994.8,476.2 1002.3,476.9 1009.2,477.6 1015.7,478.2 1021.8,478.9 1027.5,479.6 1032.8,480.3 1037.9,481.0 1042.7,481.7 1047.3,482.4 1051.6,483.1 1055.8,483.8 1059.8,484.5 1063.6,485.2 1067.3,485.9 1070.8,486.6 1074.2,487.3 1077.5,488.0 1080.7,488.6 1083.8,489.3 1086.8,490.0 1089.6,490.7 1092.4,491.4 1095.2,492.1 1097.8,492.8 1100.4,493.5 1102.9,494.2 1105.3,494.9 1107.7,495.6 1110.0,496.3 1112.3,497.0 1114.5,497.7 1116.6,498.4 1118.7,499.1 1120.8,499.7 1122.8,500.4 1124.8,501.1 1126.7,501.8 1128.6,502.5 1130.5,503.2 1132.3,503.9 1134.1,504.6 1135.8,505.3 1137.5,506.0 1139.2,506.7 1140.9,507.4 1142.5,508.1 1144.1,508.8 1145.7,509.5 1147.3,510.1 1148.8,510.8 1150.3,511.5 1151.8,512.2 1153.2,512.9 1154.6,513.6 1156.0,514.3 1157.4,515.0 1158.8,515.7 1160.2,516.4 1161.5,517.1 1162.8,517.8 1164.1,518.5 1165.4,519.2 1166.6,519.9 1167.9,520.6 1169.1,521.2 1170.3,521.9 1171.5,522.6 1172.7,523.3 1173.8,524.0 1175.0,524.7 1176.1,525.4 1177.3,526.1 1178.4,526.8 1179.5,527.5 1180.5,528.2 1181.6,528.9 1182.7,529.6 1183.7,530.3 1184.8,531.0 1185.8,531.6 1186.8,532.3 1187.8,533.0 1188.8,533.7 1189.8,534.4 1190.7,535.1 1191.7,535.8 1192.7,536.5 1193.6,537.2 1194.5,537.9 1195.5,538.6 1196.4,539.3 1197.3,540.0 1198.2,540.7 1199.1,541.4 1199.9,542.0 1200.8,542.7 1201.7,543.4 1202.5,544.1 1203.4,544.8 1204.2,545.5 1205.1,546.2 1205.9,546.9 1206.7,547.6 1207.5,548.3 1208.3,549.0 1209.1,549.7 1209.9,550.4 1210.7,551.1 1211.5,551.8 1212.2,552.5 1213.0,553.1 1213.8,553.8 1214.5,554.5 1215.3,555.2 1216.0,555.9 1216.7,556.6 1217.5,557.3 1218.2,558.0 1218.9,558.7 1219.6,559.4 1220.3,560.1 1221.0,560.8 1221.7,561.5 1222.4,562.2 1223.1,562.9 1223.8,563.5 1224.5,564.2 1225.1,564.9 1225.8,565.6 1226.5,566.3 1227.1,567.0 1227.8,567.7 1228.4,568.4 1229.1,569.1 1229.7,569.8 1230.4,570.5 1231.0,571.2 1231.6,571.9 1232.2,572.6 1232.9,573.3 1233.5,573.9 1234.1,574.6 1234.7,575.3 1235.3,576.0 1235.9,576.7 1236.5,577.4 1237.1,578.1 1237.7,578.8 1238.3,579.5 1238.8,580.2 1239.4,580.9 1240.0,581.6 1240.6,582.3 1241.1,583.0 1241.7,583.7 1242.2,584.4 1242.8,585.0 1243.4,585.7 1243.9,586.4 1244.5,587.1 1245.0,587.8 1245.5,588.5 1246.1,589.2 1246.6,589.9 1247.1,590.6 1247.7,591.3 1248.2,592.0 1248.7,592.7 1249.2,593.4 1249.7,594.1 1250.3,594.8 1250.8,595.4 1251.3,596.1 1251.8,596.8 1252.3,597.5 1252.8,598.2 1253.3,598.9 1253.8,599.6 1254.3,600.3 1254.8,601.0 1255.3,601.7 1255.7,602.4 1256.2,603.1 1256.7,603.8 1257.2,604.5 1257.7,605.2 1258.1,605.9 1258.6,606.5 1259.1,607.2 1259.5,607.9 1260.0,608.6 1260.4,609.3 1260.9,610.0 1261.4,610.7 1261.8,611.4 1262.3,612.1 1262.7,612.8 1263.2,613.5 1263.6,614.2 1264.1,614.9 1264.5,615.6 1264.9,616.3 1265.4,616.9 1265.8,617.6 1266.2,618.3 1266.7,619.0 1267.1,619.7 1267.5,620.4 1268.0,621.1 1268.4,621.8 1268.8,622.5 1269.2,623.2 1269.6,623.9 1270.1,624.6 1270.5,625.3 1270.9,626.0 1271.3,626.7 1271.7,627.3 1272.1,628.0 1272.5,628.7 1272.9,629.4 1273.3,630.1 1273.7,630.8 1274.1,631.5 1274.5,632.2 1274.9,632.9 1275.3,633.6 1275.7,634.3 1276.1,635.0 1276.5,635.7 1276.9,636.4 1277.2,637.1 1277.6,637.8 1278.0,638.4 1278.4,639.1 1278.8,639.8 1279.1,640.5 1279.5,641.2 1279.9,641.9 1280.3,642.6 1280.6,643.3 1281.0,644.0 1281.4,644.7 1281.7,645.4 1282.1,646.1 1282.5,646.8 1282.8,647.5 1283.2,648.2 1283.6,648.8 1283.9,649.5 1284.3,650.2 1284.6,650.9 1285.0,651.6 1285.3,652.3 1285.7,653.0 1286.0,653.7 1286.4,654.4 1286.7,655.1 1287.1,655.8 1287.4,656.5 1287.8,657.2 1288.1,657.9 1288.5,658.6 1288.8,659.2 1289.1,659.9 1289.5,660.6 1289.8,661.3 1290.1,662.0 1290.5,662.7 1290.8,663.4 1291.1,664.1 1291.5,664.8 1291.8,665.5 1292.1,666.2 1292.5,666.9 1292.8,667.6 1293.1,668.3 1293.4,669.0 1293.8,669.7 1294.1,670.3 1294.4,671.0 1294.7,671.7 1295.0,672.4 1295.4,673.1 1295.7,673.8 1296.0,674.5 1296.3,675.2 1296.6,675.9 1296.9,676.6 1297.2,677.3 1297.5,678.0 1297.9,678.7 1298.2,679.4 1298.5,680.1 1298.8,680.7 1299.1,681.4 1299.4,682.1 1299.7,682.8 1300.0,683.5 1300.3,684.2 1300.6,684.9 1300.9,685.6 1301.2,686.3 1301.5,687.0 1301.8,687.7 1302.1,688.4 1302.4,689.1 1302.7,689.8 1303.0,690.5 1303.2,691.2 1303.5,691.8 1303.8,692.5 1304.1,693.2 1304.4,693.9 1304.7,694.6 1305.0,695.3 1305.3,696.0 1305.5,696.7 1305.8,697.4 1306.1,698.1 1306.4,698.8 1306.7,699.5 1307.0,700.2 1307.2,700.9 1307.5,701.6 1307.8,702.2 1308.1,702.9 1308.3,703.6 1308.6,704.3 1308.9,705.0 1309.2,705.7 1309.4,706.4 1309.7,707.1 1310.0,707.8 1310.3,708.5 1310.5,709.2 1310.8,709.9 1311.1,710.6 1311.3,711.3 1311.6,712.0 1311.9,712.6 1312.1,713.3 1312.4,714.0 1312.7,714.7 1312.9,715.4 1313.2,716.1 1313.4,716.8 1313.7,717.5 1314.0,718.2 1314.2,718.9 1314.5,719.6 1314.7,720.3 1315.0,721.0 1315.3,721.7 1315.5,722.4 1315.8,723.1 1316.0,723.7 1316.3,724.4 1316.5,725.1 1316.8,725.8 1317.0,726.5 1317.3,727.2 1317.5,727.9 1317.8,728.6 1318.0,729.3 1318.3,730.0 1318.5,730.7 1318.8,731.4 1319.0,732.1 1319.3,732.8 1319.5,733.5 1319.8,734.1 1320.0,734.8 1320.2,735.5 1320.5,736.2 1320.7,736.9 1321.0,737.6 1321.2,738.3 1321.5,739.0 1321.7,739.7 1321.9,740.4 1322.2,741.1 1322.4,741.8 1322.6,742.5 1322.9,743.2 1323.1,743.9 1323.4,744.6 1323.6,745.2 1323.8,745.9 1324.1,746.6 1324.3,747.3 1324.5,748.0 1324.7,748.7 1325.0,749.4 1325.2,750.1 1325.4,750.8 1325.7,751.5 1325.9,752.2 1326.1,752.9 1326.4,753.6 1326.6,754.3 1326.8,755.0 1327.0,755.6 1327.3,756.3 1327.5,757.0 1327.7,757.7 1327.9,758.4 1328.2,759.1 1328.4,759.8 1328.6,760.5 1328.8,761.2 1329.0,761.9 1329.3,762.6 1329.5,763.3 1329.7,764.0 1329.9,764.7 1330.1,765.4 1330.4,766.0 1330.6,766.7 1330.8,767.4 1331.0,768.1 1331.2,768.8 1331.4,769.5 1331.7,770.2 1331.9,770.9 1332.1,771.6 1332.3,772.3 1332.5,773.0 1332.7,773.7 1332.9,774.4 1333.2,775.1 1333.4,775.8 1333.6,776.5 1333.8,777.1 1334.0,777.8 1334.2,778.5 1334.4,779.2 1334.6,779.9 1334.8,780.6 1335.0,781.3 1335.3,782.0 1335.5,782.7 1335.7,783.4 1335.9,784.1 1336.1,784.8 1336.3,785.5 1336.5,786.2 1336.7,786.9 1336.9,787.5 1337.1,788.2 1337.3,788.9 1337.5,789.6 1337.7,790.3 1337.9,791.0 1338.1,791.7 1338.3,792.4 1338.5,793.1 1338.7,793.8 1338.9,794.5 1339.1,795.2 1339.3,795.9 1339.5,796.6 1339.7,797.3 1339.9,797.9 1340.1,798.6 1340.3,799.3 1340.5,800.0 1340.7,800.7 1340.9,801.4 1341.1,802.1 1341.3,802.8 1341.5,803.5 1341.7,804.2 1341.8,804.9 1342.0,805.6 1342.2,806.3 1342.4,807.0 1342.6,807.7 1342.8,808.4 1343.0,809.0 1343.2,809.7 1343.4,810.4 1343.6,811.1 1343.8,811.8 1343.9,812.5 1344.1,813.2 1344.3,813.9 1344.5,814.6" fill="none" stroke="#ff0000" stroke-width="3"/>
<polyline points="761.8,464.6 826.8,465.4 864.8,466.1 891.8,466.9 912.7,467.7 929.8,468.5 944.3,469.3 956.8,470.0 967.8,470.8 977.7,471.6 986.6,472.4 994.8,473.1 1002.3,473.9 1009.2,474.7 1015.7,475.5 1021.8,476.2 1027.5,477.0 1032.8,477.8 1037.9,478.6 1042.7,479.4 1047.3,480.1 1051.6,480.9 1055.8,481.7 1059.8,482.5 1063.6,483.2 1067.3,484.0 1070.8,484.8 1074.2,485.6 1077.5,486.3 1080.7,487.1 1083.8,487.9 1086.8,488.7 1089.6,489.5 1092.4,490.2 1095.2,491.0 1097.8,491.8 1100.4,492.6 1102.9,493.3 1105.3,494.1 1107.7,494.9 1110.0,495.7 1112.3,496.4 1114.5,497.2 1116.6,498.0 1118.7,498.8 1120.8,499.6 1122.8,500.3 1124.8,501.1 1126.7,501.9 1128.6,502.7 1130.5,503.4 1132.3,504.2 1134.1,505.0 1135.8,505.8 1137.5,506.5 1139.2,507.3 1140.9,508.1 1142.5,508.9 1144.1,509.7 1145.7,510.4 1147.3,511.2 1148.8,512.0 1150.3,512.8 1151.8,513.5 1153.2,514.3 1154.6,515.1 1156.0,515.9 1157.4,516.7 1158.8,517.4 1160.2,518.2 1161.5,519.0 1162.8,519.8 1164.1,520.5 1165.4,521.3 1166.6,522.1 1167.9,522.9 1169.1,523.6 1170.3,524.4 1171.5,525.2 1172.7,526.0 1173.8,526.8 1175.0,527.5 1176.1,528.3 1177.3,529.1 1178.4,529.9 1179.5,530.6 1180.5,531.4 1181.6,532.2 1182.7,533.0 1183.7,533.7 1184.8,534.5 1185.8,535.3 1186.8,536.1 1187.8,536.9 1188.8,537.6 1189.8,538.4 1190.7,539.2 1191.7,540.0 1192.7,540.7 1193.6,541.5 1194.5,542.3 1195.5,543.1 1196.4,543.8 1197.3,544.6 1198.2,545.4 1199.1,546.2 1199.9,547.0 1200.8,547.7 1201.7,548.5 1202.5,549.3 1203.4,550.1 1204.2,550.8 1205.1,551.6 1205.9,552.4 1206.7,553.2 1207.5,553.9 1208.3,554.7 1209.1,555.5 1209.9,556.3 1210.7,557.1 1211.5,557.8 1212.2,558.6 1213.0,559.4 1213.8,560.2 1214.5,560.9 1215.3,561.7 1216.0,562.5 1216.7,563.3 1217.5,564.0 1218.2,564.8 1218.9,565.6 1219.6,566.4 1220.3,567.2 1221.0,567.9 1221.7,568.7 1222.4,569.5 1223.1,570.3 1223.8,571.0 1224.5,571.8 1225.1,572.6 1225.8,573.4 1226.5,574.1 1227.1,574.9 1227.8,575.7 1228.4,576.5 1229.1,577.3 1229.7,578.0 1230.4,578.8 1231.0,579.6 1231.6,580.4 1232.2,581.1 1232.9,581.9 1233.5,582.7 1234.1,583.5 1234.7,584.3 1235.3,585.0 1235.9,585.8 1236.5,586.6 1237.1,587.4 1237.7,588.1 1238.3,588.9 1238.8,589.7 1239.4,590.5 1240.0,591.2 1240.6,592.0 1241.1,592.8 1241.7,593.6 1242.2,594.4 1242.8,595.1 1243.4,595.9 1243.9,596.7 1244.5,597.5 1245.0,598.2 1245.5,599.0 1246.1,599.8 1246.6,600.6 1247.1,601.3 1247.7,602.1 1248.2,602.9 1248.7,603.7 1249.2,604.5 1249.7,605.2 1250.3,606.0 1250.8,606.8 1251.3,607.6 1251.8,608.3 1252.3,609.1 1252.8,609.9 1253.3,610.7 1253.8,611.4 1254.3,612.2 1254.8,613.0 1255.3,613.8 1255.7,614.6 1256.2,615.3 1256.7,616.1 1257.2,616.9 1257.7,617.7 1258.1,618.4 1258.6,619.2 1259.1,620.0 1259.5,620.8 1260.0,621.5 1260.4,622.3 1260.9,623.1 1261.4,623.9 1261.8,624.7 1262.3,625.4 1262.7,626.2 1263.2,627.0 1263.6,627.8 1264.1,628.5 1264.5,629.3 1264.9,630.1 1265.4,630.9 1265.8,631.6 1266.2,632.4 1266.7,633.2 1267.1,634.0 1267.5,634.8 1268.0,635.5 1268.4,636.3 1268.8,637.1 1269.2,637.9 1269.6,638.6 1270.1,639.4 1270.5,640.2 1270.9,641.0 1271.3,641.8 1271.7,642.5 1272.1,643.3 1272.5,644.1 1272.9,644.9 1273.3,645.6 1273.7,646.4 1274.1,647.2 1274.5,648.0 1274.9,648.7 1275.3,649.5 1275.7,650.3 1276.1,651.1 1276.5,651.9 1276.9,652.6 1277.2,653.4 1277.6,654.2 1278.0,655.0 1278.4,655.7 1278.8,656.5 1279.1,657.3 1279.5,658.1 1279.9,658.8 1280.3,659.6 1280.6,660.4 1281.0,661.2 1281.4,662.0 1281.7,662.7 1282.1,663.5 1282.5,664.3 1282.8,665.1 1283.2,665.8 1283.6,666.6 1283.9,667.4 1284.3,668.2 1284.6,668.9 1285.0,669.7 1285.3,670.5 1285.7,671.3 1286.0,672.1 1286.4,672.8 1286.7,673.6 1287.1,674.4 1287.4,675.2 1287.8,675.9 1288.1,676.7 1288.5,677.5 1288.8,678.3 1289.1,679.0 1289.5,679.8 1289.8,680.6 1290.1,681.4 1290.5,682.2 1290.8,682.9 1291.1,683.7 1291.5,684.5 1291.8,685.3 1292.1,686.0 1292.5,686.8 1292.8,687.6 1293.1,688.4 1293.4,689.1 1293.8,689.9 1294.1,690.7 1294.4,691.5 1294.7,692.3 1295.0,693.0 1295.4,693.8 1295.7,694.6 1296.0,695.4 1296.3,696.1 1296.6,696.9 1296.9,697.7 1297.2,698.5 1297.5,699.3 1297.9,700.0 1298.2,700.8 1298.5,701.6 1298.8,702.4 1299.1,703.1 1299.4,703.9 1299.7,704.7 1300.0,705.5 1300.3,706.2 1300.6,707.0 1300.9,707.8 1301.2,708.6 1301.5,709.4 1301.8,710.1 1302.1,710.9 1302.4,711.7 1302.7,712.5 1303.0,713.2 1303.2,714.0 1303.5,714.8 1303.8,715.6 1304.1,716.3 1304.4,717.1 1304.7,717.9 1305.0,718.7 1305.3,719.5 1305.5,720.2 1305.8,721.0 1306.1,721.8 1306.4,722.6 1306.7,723.3 1307.0,724.1 1307.2,724.9 1307.5,725.7 1307.8,726.4 1308.1,727.2 1308.3,728.0 1308.6,728.8 1308.9,729.6 1309.2,730.3 1309.4,731.1 1309.7,731.9 1310.0,732.7 1310.3,733.4 1310.5,734.2 1310.8,735.0 1311.1,735.8 1311.3,736.5 1311.6,737.3 1311.9,738.1 1312.1,738.9 1312.4,739.7 1312.7,740.4 1312.9,741.2 1313.2,742.0 1313.4,742.8 1313.7,743.5 1314.0,744.3 1314.2,745.1 1314.5,745.9 1314.7,746.6 1315.0,747.4 1315.3,748.2 1315.5,749.0 1315.8,749.8 1316.0,750.5 1316.3,751.3 1316.5,752.1 1316.8,752.9 1317.0,753.6 1317.3,754.4 1317.5,755.2 1317.8,756.0 1318.0,756.7 1318.3,757.5 1318.5,758.3 1318.8,759.1 1319.0,759.9 1319.3,760.6 1319.5,761.4 1319.8,762.2 1320.0,763.0 1320.2,763.7 1320.5,764.5 1320.7,765.3 1321.0,766.1 1321.2,766.9 1321.5,767.6 1321.7,768.4 1321.9,769.2 1322.2,770.0 1322.4,770.7 1322.6,771.5 1322.9,772.3 1323.1,773.1 1323.4,773.8 1323.6,774.6 1323.8,775.4 1324.1,776.2 1324.3,777.0 1324.5,777.7 1324.7,778.5 1325.0,779.3 1325.2,780.1 1325.4,780.8 1325.7,781.6 1325.9,782.4 1326.1,783.2 1326.4,783.9 1326.6,784.7 1326.8,785.5 1327.0,786.3 1327.3,787.1 1327.5,787.8 1327.7,788.6 1327.9,789.4 1328.2,790.2 1328.4,790.9 1328.6,791.7 1328.8,792.5 1329.0,793.3 1329.3,794.0 1329.5,794.8 1329.7,795.6 1329.9,796.4 1330.1,797.2 1330.4,797.9 1330.6,798.7 1330.8,799.5 1331.0,800.3 1331.2,801.0 1331.4,801.8 1331.7,802.6 1331.9,803.4 1332.1,804.1 1332.3,804.9 1332.5,805.7 1332.7,806.5 1332.9,807.3 1333.2,808.0 1333.4,808.8 1333.6,809.6 1333.8,810.4 1334.0,811.1 1334.2,811.9 1334.4,812.7 1334.6,813.5 1334.8,814.2 1335.0,815.0 1335.3,815.8 1335.5,816.6 1335.7,817.4 1335.9,818.1 1336.1,818.9 1336.3,819.7 1336.5,820.5 1336.7,821.2 1336.9,822.0 1337.1,822.8 1337.3,823.6 1337.5,824.4 1337.7,825.1 1337.9,825.9 1338.1,826.7 1338.3,827.5 1338.5,828.2 1338.7,829.0 1338.9,829.8 1339.1,830.6 1339.3,831.3 1339.5,832.1 1339.7,832.9 1339.9,833.7 1340.1,834.5 1340.3,835.2 1340.5,836.0 1340.7,836.8 1340.9,837.6 1341.1,838.3 1341.3,839.1 1341.5,839.9 1341.7,840.7 1341.8,841.4 1342.0,842.2 1342.2,843.0 1342.4,843.8 1342.6,844.6 1342.8,845.3 1343.0,846.1 1343.2,846.9 1343.4,847.7 1343.6,848.4 1343.8,849.2 1343.9,850.0 1344.1,850.8 1344.3,851.5 1344.5,852.3" fill="none" stroke="#ff0000" stroke-width="3"/>
<polyline points="761.8,464.5 826.8,465.2 864.8,465.9 891.8,466.6 912.7,467.3 929.8,468.0 944.3,468.6 956.8,469.3 967.8,470.0 977.7,470.7 986.6,471.4 994.8,472.1 1002.3,472.8 1009.2,473.5 1015.7,474.2 1021.8,474.9 1027.5,475.6 1032.8,476.3 1037.9,477.0 1042.7,477.6 1047.3,478.3 1051.6,479.0 1055.8,479.7 1059.8,480.4 1063.6,481.1 1067.3,481.8 1070.8,482.5 1074.2,483.2 1077.5,483.9 1080.7,484.6 1083.8,485.3 1086.8,486.0 1089.6,486.6 1092.4,487.3 1095.2,488.0 1097.8,488.7 1100.4,489.4 1102.9,490.1 1105.3,490.8 1107.7,491.5 1110.0,492.2 1112.3,492.9 1114.5,493.6 1116.6,494.3 1118.7,495.0 1120.8,495.7 1122.8,496.3 1124.8,497.0 1126.7,497.7 1128.6,498.4 1130.5,499.1 1132.3,499.8 1134.1,500.5 1135.8,501.2 1137.5,501.9 1139.2,502.6 1140.9,503.3 1142.5,504.0 1144.1,504.7 1145.7,505.3 1147.3,506.0 1148.8,506.7 1150.3,507.4 1151.8,508.1 1153.2,508.8 1154.6,509.5 1156.0,510.2 1157.4,510.9 1158.8,511.6 1160.2,512.3 1161.5,513.0 1162.8,513.7 1164.1,514.3 1165.4,515.0 1166.6,515.7 1167.9,516.4 1169.1,517.1 1170.3,517.8 1171.5,518.5 1172.7,519.2 1173.8,519.9 1175.0,520.6 1176.1,521.3 1177.3,522.0 1178.4,522.7 1179.5,523.3 1180.5,524.0 1181.6,524.7 1182.7,525.4 1183.7,526.1 1184.8,526.8 1185.8,527.5 1186.8,528.2 1187.8,528.9 1188.8,529.6 1189.8,530.3 1190.7,531.0 1191.7,531.7 1192.7,532.4 1193.6,533.0 1194.5,533.7 1195.5,534.4 1196.4,535.1 1197.3,535.8 1198.2,536.5 1199.1,537.2 1199.9,537.9 1200.8,538.6 1201.7,539.3 1202.5,540.0 1203.4,540.7 1204.2,541.4 1205.1,542.0 1205.9,542.7 1206.7,543.4 1207.5,544.1 1208.3,544.8 1209.1,545.5 1209.9,546.2 1210.7,546.9 1211.5,547.6 1212.2,548.3 1213.0,549.0 1213.8,549.7 1214.5,550.4 1215.3,551.0 1216.0,551.7 1216.7,552.4 1217.5,553.1 1218.2,553.8 1218.9,554.5 1219.6,555.2 1220.3,555.9 1221.0,556.6 1221.7,557.3 1222.4,558.0 1223.1,558.7 1223.8,559.4 1224.5,560.1 1225.1,560.7 1225.8,561.4 1226.5,562.1 1227.1,562.8 1227.8,563.5 1228.4,564.2 1229.1,564.9 1229.7,565.6 1230.4,566.3 1231.0,567.0 1231.6,567.7 1232.2,568.4 1232.9,569.1 1233.5,569.7 1234.1,570.4 1234.7,571.1 1235.3,571.8 1235.9,572.5 1236.5,573.2 1237.1,573.9 1237.7,574.6 1238.3,575.3 1238.8,576.0 1239.4,576.7 1240.0,577.4 1240.6,578.1 1241.1,578.7 1241.7,579.4 1242.2,580.1 1242.8,580.8 1243.4,581.5 1243.9,582.2 1244.5,582.9 1245.0,583.6 1245.5,584.3 1246.1,585.0 1246.6,585.7 1247.1,586.4 1247.7,587.1 1248.2,587.8 1248.7,588.4 1249.2,589.1 1249.7,589.8 1250.3,590.5 1250.8,591.2 1251.3,591.9 1251.8,592.6 1252.3,593.3 1252.8,594.0 1253.3,594.7 1253.8,595.4 1254.3,596.1 1254.8,596.8 1255.3,597.4 1255.7,598.1 1256.2,598.8 1256.7,599.5 1257.2,600.2 1257.7,600.9 1258.1,601.6 1258.6,602.3 1259.1,603.0 1259.5,603.7 1260.0,604.4 1260.4,605.1 1260.9,605.8 1261.4,606.4 1261.8,607.1 1262.3,607.8 1262.7,608.5 1263.2,609.2 1263.6,609.9 1264.1,610.6 1264.5,611.3 1264.9,612.0 1265.4,612.7 1265.8,613.4 1266.2,614.1 1266.7,614.8 1267.1,615.5 1267.5,616.1 1268.0,616.8 1268.4,617.5 1268.8,618.2 1269.2,618.9 1269.6,619.6 1270.1,620.3 1270.5,621.0 1270.9,621.7 1271.3,622.4 1271.7,623.1 1272.1,623.8 1272.5,624.5 1272.9,625.1 1273.3,625.8 1273.7,626.5 1274.1,627.2 1274.5,627.9 1274.9,628.6 1275.3,629.3 1275.7,630.0 1276.1,630.7 1276.5,631.4 1276.9,632.1 1277.2,632.8 1277.6,633.5 1278.0,634.1 1278.4,634.8 1278.8,635.5 1279.1,636.2 1279.5,636.9 1279.9,637.6 1280.3,638.3 1280.6,639.0 1281.0,639.7 1281.4,640.4 1281.7,641.1 1282.1,641.8 1282.5,642.5 1282.8,643.1 1283.2,643.8 1283.6,644.5 1283.9,645.2 1284.3,645.9 1284.6,646.6 1285.0,647.3 1285.3,648.0 1285.7,648.7 1286.0,649.4 1286.4,650.1 1286.7,650.8 1287.1,651.5 1287.4,652.2 1287.8,652.8 1288.1,653.5 1288.5,654.2 1288.8,654.9 1289.1,655.6 1289.5,656.3 1289.8,657.0 1290.1,657.7 1290.5,658.4 1290.8,659.1 1291.1,659.8 1291.5,660.5 1291.8,661.2 1292.1,661.8 1292.5,662.5 1292.8,663.2 1293.1,663.9 1293.4,664.6 1293.8,665.3 1294.1,666.0 1294.4,666.7 1294.7,667.4 1295.0,668.1 1295.4,668.8 1295.7,669.5 1296.0,670.2 1296.3,670.8 1296.6,671.5 1296.9,672.2 1297.2,672.9 1297.5,673.6 1297.9,674.3 1298.2,675.0 1298.5,675.7 1298.8,676.4 1299.1,677.1 1299.4,677.8 1299.7,678.5 1300.0,679.2 1300.3,679.9 1300.6,680.5 1300.9,681.2 1301.2,681.9 1301.5,682.6 1301.8,683.3 1302.1,684.0 1302.4,684.7 1302.7,685.4 1303.0,686.1 1303.2,686.8 1303.5,687.5 1303.8,688.2 1304.1,688.9 1304.4,689.5 1304.7,690.2 1305.0,690.9 1305.3,691.6 1305.5,692.3 1305.8,693.0 1306.1,693.7 1306.4,694.4 1306.7,695.1 1307.0,695.8 1307.2,696.5 1307.5,697.2 1307.8,697.9 1308.1,698.5 1308.3,699.2 1308.6,699.9 1308.9,700.6 1309.2,701.3 1309.4,702.0 1309.7,702.7 1310.0,703.4 1310.3,704.1 1310.5,704.8 1310.8,705.5 1311.1,706.2 1311.3,706.9 1311.6,707.6 1311.9,708.2 1312.1,708.9 1312.4,709.6 1312.7,710.3 1312.9,711.0 1313.2,711.7 1313.4,712.4 1313.7,713.1 1314.0,713.8 1314.2,714.5 1314.5,715.2 1314.7,715.9 1315.0,716.6 1315.3,717.2 1315.5,717.9 1315.8,718.6 1316.0,719.3 1316.3,720.0 1316.5,720.7 1316.8,721.4 1317.0,722.1 1317.3,722.8 1317.5,723.5 1317.8,724.2 1318.0,724.9 1318.3,725.6 1318.5,726.2 1318.8,726.9 1319.0,727.6 1319.3,728.3 1319.5,729.0 1319.8,729.7 1320.0,730.4 1320.2,731.1 1320.5,731.8 1320.7,732.5 1321.0,733.2 1321.2,733.9 1321.5,734.6 1321.7,735.3 1321.9,735.9 1322.2,736.6 1322.4,737.3 1322.6,738.0 1322.9,738.7 1323.1,739.4 1323.4,740.1 1323.6,740.8 1323.8,741.5 1324.1,742.2 1324.3,742.9 1324.5,743.6 1324.7,744.3 1325.0,744.9 1325.2,745.6 1325.4,746.3 1325.7,747.0 1325.9,747.7 1326.1,748.4 1326.4,749.1 1326.6,749.8 1326.8,750.5 1327.0,751.2 1327.3,751.9 1327.5,752.6 1327.7,753.3 1327.9,753.9 1328.2,754.6 1328.4,755.3 1328.6,756.0 1328.8,756.7 1329.0,757.4 1329.3,758.1 1329.5,758.8 1329.7,759.5 1329.9,760.2 1330.1,760.9 1330.4,761.6 1330.6,762.3 1330.8,762.9 1331.0,763.6 1331.2,764.3 1331.4,765.0 1331.7,765.7 1331.9,766.4 1332.1,767.1 1332.3,767.8 1332.5,768.5 1332.7,769.2 1332.9,769.9 1333.2,770.6 1333.4,771.3 1333.6,772.0 1333.8,772.6 1334.0,773.3 1334.2,774.0 1334.4,774.7 1334.6,775.4 1334.8,776.1 1335.0,776.8 1335.3,777.5 1335.5,778.2 1335.7,778.9 1335.9,779.6 1336.1,780.3 1336.3,781.0 1336.5,781.6 1336.7,782.3 1336.9,783.0 1337.1,783.7 1337.3,784.4 1337.5,785.1 1337.7,785.8 1337.9,786.5 1338.1,787.2 1338.3,787.9 1338.5,788.6 1338.7,789.3 1338.9,790.0 1339.1,790.6 1339.3,791.3 1339.5,792.0 1339.7,792.7 1339.9,793.4 1340.1,794.1 1340.3,794.8 1340.5,795.5 1340.7,796.2 1340.9,796.9 1341.1,797.6 1341.3,798.3 1341.5,799.0 1341.7,799.7 1341.8,800.3 1342.0,801.0 1342.2,801.7 1342.4,802.4 1342.6,803.1 1342.8,803.8 1343.0,804.5 1343.2,805.2 1343.4,805.9 1343.6,806.6 1343.8,807.3 1343.9,808.0 1344.1,808.7 1344.3,809.3 1344.5,810.0" fill="none" stroke="#ff0000" stroke-width="3"/>
<polyline points="761.8,468.5 826.8,469.2 864.8,469.9 891.8,470.5 912.7,471.2 929.8,471.9 944.3,472.5 956.8,473.2 967.8,473.9 977.7,474.5 986.6,475.2 994.8,475.9 1002.3,476.5 1009.2,477.2 1015.7,477.9 1021.8,478.5 1027.5,479.2 1032.8,479.9 1037.9,480.5 1042.7,481.2 1047.3,481.9 1051.6,482.5 1055.8,483.2 1059.8,483.8 1063.6,484.5 1067.3,485.2 1070.8,485.8 1074.2,486.5 1077.5,487.2 1080.7,487.8 1083.8,488.5 1086.8,489.2 1089.6,489.8 1092.4,490.5 1095.2,491.2 1097.8,491.8 1100.4,492.5 1102.9,493.2 1105.3,493.8 1107.7,494.5 1110.0,495.2 1112.3,495.8 1114.5,496.5 1116.6,497.2 1118.7,497.8 1120.8,498.5 1122.8,499.2 1124.8,499.8 1126.7,500.5 1128.6,501.2 1130.5,501.8 1132.3,502.5 1134.1,503.2 1135.8,503.8 1137.5,504.5 1139.2,505.1 1140.9,505.8 1142.5,506.5 1144.1,507.1 1145.7,507.8 1147.3,508.5 1148.8,509.1 1150.3,509.8 1151.8,510.5 1153.2,511.1 1154.6,511.8 1156.0,512.5 1157.4,513.1 1158.8,513.8 1160.2,514.5 1161.5,515.1 1162.8,515.8 1164.1,516.5 1165.4,517.1 1166.6,517.8 1167.9,518.5 1169.1,519.1 1170.3,519.8 1171.5,520.5 1172.7,521.1 1173.8,521.8 1175.0,522.5 1176.1,523.1 1177.3,523.8 1178.4,524.5 1179.5,525.1 1180.5,525.8 1181.6,526.5 1182.7,527.1 1183.7,527.8 1184.8,528.4 1185.8,529.1 1186.8,529.8 1187.8,530.4 1188.8,531.1 1189.8,531.8 1190.7,532.4 1191.7,533.1 1192.7,533.8 1193.6,534.4 1194.5,535.1 1195.5,535.8 1196.4,536.4 1197.3,537.1 1198.2,537.8 1199.1,538.4 1199.9,539.1 1200.8,539.8 1201.7,540.4 1202.5,541.1 1203.4,541.8 1204.2,542.4 1205.1,543.1 1205.9,543.8 1206.7,544.4 1207.5,545.1 1208.3,545.8 1209.1,546.4 1209.9,547.1 1210.7,547.8 1211.5,548.4 1212.2,549.1 1213.0,549.7 1213.8,550.4 1214.5,551.1 1215.3,551.7 1216.0,552.4 1216.7,553.1 1217.5,553.7 1218.2,554.4 1218.9,555.1 1219.6,555.7 1220.3,556.4 1221.0,557.1 1221.7,557.7 1222.4,558.4 1223.1,559.1 1223.8,559.7 1224.5,560.4 1225.1,561.1 1225.8,561.7 1226.5,562.4 1227.1,563.1 1227.8,563.7 1228.4,564.4 1229.1,565.1 1229.7,565.7 1230.4,566.4 1231.0,567.1 1231.6,567.7 1232.2,568.4 1232.9,569.1 1233.5,569.7 1234.1,570.4 1234.7,571.0 1235.3,571.7 1235.9,572.4 1236.5,573.0 1237.1,573.7 1237.7,574.4 1238.3,575.0 1238.8,575.7 1239.4,576.4 1240.0,577.0 1240.6,577.7 1241.1,578.4 1241.7,579.0 1242.2,579.7 1242.8,580.4 1243.4,581.0 1243.9,581.7 1244.5,582.4 1245.0,583.0 1245.5,583.7 1246.1,584.4 1246.6,585.0 1247.1,585.7 1247.7,586.4 1248.2,587.0 1248.7,587.7 1249.2,588.4 1249.7,589.0 1250.3,589.7 1250.8,590.4 1251.3,591.0 1251.8,591.7 1252.3,592.4 1252.8,593.0 1253.3,593.7 1253.8,594.3 1254.3,595.0 1254.8,595.7 1255.3,596.3 1255.7,597.0 1256.2,597.7 1256.7,598.3 1257.2,599.0 1257.7,599.7 1258.1,600.3 1258.6,601.0 1259.1,601.7 1259.5,602.3 1260.0,603.0 1260.4,603.7 1260.9,604.3 1261.4,605.0 1261.8,605.7 1262.3,606.3 1262.7,607.0 1263.2,607.7 1263.6,608.3 1264.1,609.0 1264.5,609.7 1264.9,610.3 1265.4,611.0 1265.8,611.7 1266.2,612.3 1266.7,613.0 1267.1,613.7 1267.5,614.3 1268.0,615.0 1268.4,615.6 1268.8,616.3 1269.2,617.0 1269.6,617.6 1270.1,618.3 1270.5,619.0 1270.9,619.6 1271.3,620.3 1271.7,621.0 1272.1,621.6 1272.5,622.3 1272.9,623.0 1273.3,623.6 1273.7,624.3 1274.1,625.0 1274.5,625.6 1274.9,626.3 1275.3,627.0 1275.7,627.6 1276.1,628.3 1276.5,629.0 1276.9,629.6 1277.2,630.3 1277.6,631.0 1278.0,631.6 1278.4,632.3 1278.8,633.0 1279.1,633.6 1279.5,634.3 1279.9,635.0 1280.3,635.6 1280.6,636.3 1281.0,636.9 1281.4,637.6 1281.7,638.3 1282.1,638.9 1282.5,639.6 1282.8,640.3 1283.2,640.9 1283.6,641.6 1283.9,642.3 1284.3,642.9 1284.6,643.6 1285.0,644.3 1285.3,644.9 1285.7,645.6 1286.0,646.3 1286.4,646.9 1286.7,647.6 1287.1,648.3 1287.4,648.9 1287.8,649.6 1288.1,650.3 1288.5,650.9 1288.8,651.6 1289.1,652.3 1289.5,652.9 1289.8,653.6 1290.1,654.3 1290.5,654.9 1290.8,655.6 1291.1,656.3 1291.5,656.9 1291.8,657.6 1292.1,658.3 1292.5,658.9 1292.8,659.6 1293.1,660.2 1293.4,660.9 1293.8,661.6 1294.1,662.2 1294.4,662.9 1294.7,663.6 1295.0,664.2 1295.4,664.9 1295.7,665.6 1296.0,666.2 1296.3,666.9 1296.6,667.6 1296.9,668.2 1297.2,668.9 1297.5,669.6 1297.9,670.2 1298.2,670.9 1298.5,671.6 1298.8,672.2 1299.1,672.9 1299.4,673.6 1299.7,674.2 1300.0,674.9 1300.3,675.6 1300.6,676.2 1300.9,676.9 1301.2,677.6 1301.5,678.2 1301.8,678.9 1302.1,679.6 1302.4,680.2 1302.7,680.9 1303.0,681.5 1303.2,682.2 1303.5,682.9 1303.8,683.5 1304.1,684.2 1304.4,684.9 1304.7,685.5 1305.0,686.2 1305.3,686.9 1305.5,687.5 1305.8,688.2 1306.1,688.9 1306.4,689.5 1306.7,690.2 1307.0,690.9 1307.2,691.5 1307.5,692.2 1307.8,692.9 1308.1,693.5 1308.3,694.2 1308.6,694.9 1308.9,695.5 1309.2,696.2 1309.4,696.9 1309.7,697.5 1310.0,698.2 1310.3,698.9 1310.5,699.5 1310.8,700.2 1311.1,700.9 1311.3,701.5 1311.6,702.2 1311.9,702.8 1312.1,703.5 1312.4,704.2 1312.7,704.8 1312.9,705.5 1313.2,706.2 1313.4,706.8 1313.7,707.5 1314.0,708.2 1314.2,708.8 1314.5,709.5 1314.7,710.2 1315.0,710.8 1315.3,711.5 1315.5,712.2 1315.8,712.8 1316.0,713.5 1316.3,714.2 1316.5,714.8 1316.8,715.5 1317.0,716.2 1317.3,716.8 1317.5,717.5 1317.8,718.2 1318.0,718.8 1318.3,719.5 1318.5,720.2 1318.8,720.8 1319.0,721.5 1319.3,722.2 1319.5,722.8 1319.8,723.5 1320.0,724.2 1320.2,724.8 1320.5,725.5 1320.7,726.1 1321.0,726.8 1321.2,727.5 1321.5,728.1 1321.7,728.8 1321.9,729.5 1322.2,730.1 1322.4,730.8 1322.6,731.5 1322.9,732.1 1323.1,732.8 1323.4,733.5 1323.6,734.1 1323.8,734.8 1324.1,735.5 1324.3,736.1 1324.5,736.8 1324.7,737.5 1325.0,738.1 1325.2,738.8 1325.4,739.5 1325.7,740.1 1325.9,740.8 1326.1,741.5 1326.4,742.1 1326.6,742.8 1326.8,743.5 1327.0,744.1 1327.3,744.8 1327.5,745.5 1327.7,746.1 1327.9,746.8 1328.2,747.4 1328.4,748.1 1328.6,748.8 1328.8,749.4 1329.0,750.1 1329.3,750.8 1329.5,751.4 1329.7,752.1 1329.9,752.8 1330.1,753.4 1330.4,754.1 1330.6,754.8 1330.8,755.4 1331.0,756.1 1331.2,756.8 1331.4,757.4 1331.7,758.1 1331.9,758.8 1332.1,759.4 1332.3,760.1 1332.5,760.8 1332.7,761.4 1332.9,762.1 1333.2,762.8 1333.4,763.4 1333.6,764.1 1333.8,764.8 1334.0,765.4 1334.2,766.1 1334.4,766.8 1334.6,767.4 1334.8,768.1 1335.0,768.7 1335.3,769.4 1335.5,770.1 1335.7,770.7 1335.9,771.4 1336.1,772.1 1336.3,772.7 1336.5,773.4 1336.7,774.1 1336.9,774.7 1337.1,775.4 1337.3,776.1 1337.5,776.7 1337.7,777.4 1337.9,778.1 1338.1,778.7 1338.3,779.4 1338.5,780.1 1338.7,780.7 1338.9,781.4 1339.1,782.1 1339.3,782.7 1339.5,783.4 1339.7,784.1 1339.9,784.7 1340.1,785.4 1340.3,786.1 1340.5,786.7 1340.7,787.4 1340.9,788.1 1341.1,788.7 1341.3,789.4 1341.5,790.1 1341.7,790.7 1341.8,791.4 1342.0,792.0 1342.2,792.7 1342.4,793.4 1342.6,794.0 1342.8,794.7 1343.0,795.4 1343.2,796.0 1343.4,796.7 1343.6,797.4 1343.8,798.0 1343.9,798.7 1344.1,799.4 1344.3,800.0 1344.5,800.7" fill="none" stroke="#ff0000" stroke-width="3"/>
</g>
<path d="M761.8 873.50H754.2M761.8 822.88H754.2M761.8 772.26H754.2M761.8 721.64H754.2M761.8 671.02H754.2M761.8 620.40H754.2M761.8 569.78H754.2M761.8 519.16H754.2M761.8 468.54H754.2M761.80 873.5V881.3M977.70 873.5V881.3M1193.60 873.5V881.3" stroke="#000" stroke-width="7" stroke-linecap="round" fill="none"/>
<path d="M761.8 858.26H758.2M761.8 849.35H758.2M761.8 843.02H758.2M761.8 838.12H758.2M761.8 834.11H758.2M761.8 830.72H758.2M761.8 827.79H758.2M761.8 825.20H758.2M761.8 807.64H758.2M761.8 798.73H758.2M761.8 792.40H758.2M761.8 787.50H758.2M761.8 783.49H758.2M761.8 780.10H758.2M761.8 777.17H758.2M761.8 774.58H758.2M761.8 757.02H758.2M761.8 748.11H758.2M761.8 741.78H758.2M761.8 736.88H758.2M761.8 732.87H758.2M761.8 729.48H758.2M761.8 726.54H758.2M761.8 723.96H758.2M761.8 706.40H758.2M761.8 697.49H758.2M761.8 691.16H758.2M761.8 686.26H758.2M761.8 682.25H758.2M761.8 678.86H758.2M761.8 675.92H758.2M761.8 673.34H758.2M761.8 655.78H758.2M761.8 646.87H758.2M761.8 640.54H758.2M761.8 635.64H758.2M761.8 631.63H758.2M761.8 628.24H758.2M761.8 625.30H758.2M761.8 622.72H758.2M761.8 605.16H758.2M761.8 596.25H758.2M761.8 589.92H758.2M761.8 585.02H758.2M761.8 581.01H758.2M761.8 577.62H758.2M761.8 574.68H758.2M761.8 572.09H758.2M761.8 554.54H758.2M761.8 545.63H758.2M761.8 539.30H758.2M761.8 534.40H758.2M761.8 530.39H758.2M761.8 527.00H758.2M761.8 524.06H758.2M761.8 521.47H758.2M761.8 503.92H758.2M761.8 495.01H758.2M761.8 488.68H758.2M761.8 483.78H758.2M761.8 479.77H758.2M761.8 476.38H758.2M761.8 473.44H758.2M761.8 470.85H758.2M761.8 453.30H758.2M826.79 873.5V877.4M864.81 873.5V877.4M891.78 873.5V877.4M912.71 873.5V877.4M929.80 873.5V877.4M944.26 873.5V877.4M956.78 873.5V877.4M967.82 873.5V877.4M1042.69 873.5V877.4M1080.71 873.5V877.4M1107.68 873.5V877.4M1128.61 873.5V877.4M1145.70 873.5V877.4M1160.16 873.5V877.4M1172.68 873.5V877.4M1183.72 873.5V877.4M1258.59 873.5V877.4M1296.61 873.5V877.4M1323.58 873.5V877.4M1344.51 873.5V877.4" stroke="#000" stroke-width="6.4" stroke-linecap="round" fill="none"/>
<rect x="761.8" y="453.3" width="582.7" height="420.2" fill="none" stroke="#000" stroke-width="7.4" stroke-linejoin="round"/>
<path transform="translate(703.05,480.14) scale(0.01611,-0.01611)" d="M806 0H525V1059Q371 915 162 846V1101Q272 1137 401 1237.5T578 1472H806Z" /><text x="720.01" y="480.14" font-size="33" font-family="Liberation Sans, sans-serif" font-weight="bold"  xml:space="preserve">0</text><text x="738.36" y="461.84" font-size="19.5" font-family="Liberation Sans, sans-serif" font-weight="bold"  xml:space="preserve">6</text>
<path transform="translate(703.05,682.62) scale(0.01611,-0.01611)" d="M806 0H525V1059Q371 915 162 846V1101Q272 1137 401 1237.5T578 1472H806Z" /><text x="720.01" y="682.62" font-size="33" font-family="Liberation Sans, sans-serif" font-weight="bold"  xml:space="preserve">0</text><text x="738.36" y="664.32" font-size="19.5" font-family="Liberation Sans, sans-serif" font-weight="bold"  xml:space="preserve">2</text>
<path transform="translate(696.55,885.10) scale(0.01611,-0.01611)" d="M806 0H525V1059Q371 915 162 846V1101Q272 1137 401 1237.5T578 1472H806Z" /><text x="713.52" y="885.10" font-size="33" font-family="Liberation Sans, sans-serif" font-weight="bold"  xml:space="preserve">0</text><text x="731.86" y="866.80" font-size="19.5" font-family="Liberation Sans, sans-serif" font-weight="bold"  xml:space="preserve">-2</text>
<path transform="translate(736.17,917.80) scale(0.01611,-0.01611)" d="M806 0H525V1059Q371 915 162 846V1101Q272 1137 401 1237.5T578 1472H806Z" /><text x="753.13" y="917.80" font-size="33" font-family="Liberation Sans, sans-serif" font-weight="bold"  xml:space="preserve">0</text><text x="771.48" y="899.50" font-size="19.5" font-family="Liberation Sans, sans-serif" font-weight="bold"  xml:space="preserve">-3</text>
<path transform="translate(952.07,917.80) scale(0.01611,-0.01611)" d="M806 0H525V1059Q371 915 162 846V1101Q272 1137 401 1237.5T578 1472H806Z" /><text x="969.03" y="917.80" font-size="33" font-family="Liberation Sans, sans-serif" font-weight="bold"  xml:space="preserve">0</text><text x="987.38" y="899.50" font-size="19.5" font-family="Liberation Sans, sans-serif" font-weight="bold"  xml:space="preserve">-2</text>
<path transform="translate(1167.97,917.80) scale(0.01611,-0.01611)" d="M806 0H525V1059Q371 915 162 846V1101Q272 1137 401 1237.5T578 1472H806Z" /><text x="1184.93" y="917.80" font-size="33" font-family="Liberation Sans, sans-serif" font-weight="bold"  xml:space="preserve">0</text><text x="1203.28" y="899.50" font-size="19.5" font-family="Liberation Sans, sans-serif" font-weight="bold"  xml:space="preserve">-</text><path transform="translate(1210.59,899.50) scale(0.00952,-0.00952)" d="M806 0H525V1059Q371 915 162 846V1101Q272 1137 401 1237.5T578 1472H806Z" />
<text x="1016.86" y="949.30" font-size="40" font-family="Liberation Sans, sans-serif" font-weight="bold"  xml:space="preserve">H (T)</text>
<text x="1275.20" y="506.40" font-size="49" font-family="Liberation Sans, sans-serif" font-weight="bold"  xml:space="preserve">(d)</text>
<text x="988.80" y="852.00" font-size="40.5" font-family="Liberation Sans, sans-serif" font-weight="bold"  xml:space="preserve">T = 2 K</text>
<path d="M791.6 572.3H831.8" stroke="#000000" stroke-width="3.0" stroke-linecap="round"/><g transform="translate(811.7,572.3)"><rect x="-9.04" y="-9.04" width="18.08" height="18.08" fill="#000000"/></g><text x="840.60" y="578.20" font-size="32" font-family="Liberation Sans, sans-serif" font-weight="bold"  xml:space="preserve">0 GPa</text>
<g transform="translate(811.7,612.8)"><rect x="-8.28" y="-8.28" width="16.56" height="16.56" fill="#fff" stroke="#000000" stroke-width="1.8"/></g><path d="M791.6 612.8H805.6M817.8 612.8H831.8" stroke="#000000" stroke-width="3.0" stroke-linecap="round"/><text x="840.60" y="618.65" font-size="32" font-family="Liberation Sans, sans-serif" font-weight="bold"  xml:space="preserve"> 0.</text><path transform="translate(877.53,618.65) scale(0.01562,-0.01562)" d="M806 0H525V1059Q371 915 162 846V1101Q272 1137 401 1237.5T578 1472H806Z" /><text x="893.98" y="618.65" font-size="32" font-family="Liberation Sans, sans-serif" font-weight="bold"  xml:space="preserve">2 GPa</text>
<g transform="translate(811.7,653.2)"><rect x="-8.28" y="-8.28" width="16.56" height="16.56" fill="#fff" stroke="#000000" stroke-width="1.8"/><path d="M-8.28 0H8.28M0 -8.28V8.28" fill="none" stroke="#000000" stroke-width="1.8"/></g><path d="M791.6 653.2H805.6M817.8 653.2H831.8" stroke="#000000" stroke-width="5.0" stroke-linecap="round"/><text x="840.60" y="659.10" font-size="32" font-family="Liberation Sans, sans-serif" font-weight="bold"  xml:space="preserve"> 0.48 GPa</text>
<g transform="translate(811.7,693.6)"><rect x="-8.28" y="-8.28" width="16.56" height="16.56" fill="#fff" stroke="#000000" stroke-width="1.8"/><path d="M-8.28 -8.28L8.28 8.28M8.28 -8.28L-8.28 8.28" fill="none" stroke="#000000" stroke-width="1.8"/></g><path d="M791.6 693.6H805.6M817.8 693.6H831.8" stroke="#000000" stroke-width="3.0" stroke-linecap="round"/><text x="840.60" y="699.55" font-size="32" font-family="Liberation Sans, sans-serif" font-weight="bold"  xml:space="preserve"> 0.70 GPa</text>
<g transform="translate(811.7,734.1)"><rect x="-8.28" y="-8.28" width="16.56" height="16.56" fill="#fff" stroke="#000000" stroke-width="1.8"/><path d="M-8.28 0H8.28" fill="none" stroke="#000000" stroke-width="1.8"/></g><path d="M791.6 734.1H805.6M817.8 734.1H831.8" stroke="#000000" stroke-width="3.0" stroke-linecap="round"/><path transform="translate(850.84,740.00) scale(0.01562,-0.01562)" d="M806 0H525V1059Q371 915 162 846V1101Q272 1137 401 1237.5T578 1472H806Z" /><text x="867.29" y="740.00" font-size="32" font-family="Liberation Sans, sans-serif" font-weight="bold"  xml:space="preserve">.02 GPa</text>
<path d="M791.2 774.9H831.5" stroke="#ff0000" stroke-width="2.6" stroke-linecap="round"/><text x="840.60" y="780.80" font-size="32" font-family="Liberation Sans, sans-serif" font-weight="bold"  xml:space="preserve"> NL Fitting</text></svg>
</body></html>
